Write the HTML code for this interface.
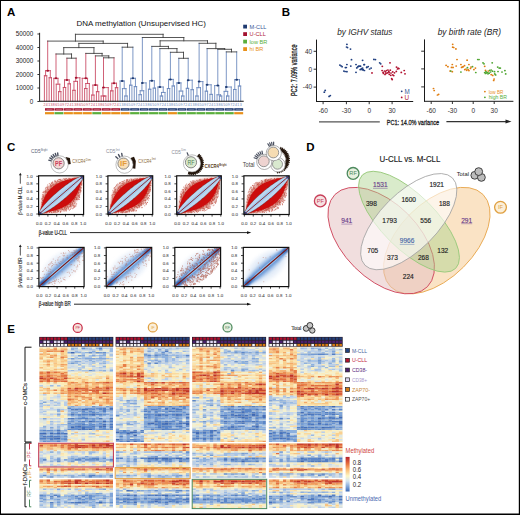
<!DOCTYPE html>
<html><head><meta charset="utf-8"><style>
html,body{margin:0;padding:0;background:#fff;overflow:hidden;}
svg{display:block;}
svg{font-family:"Liberation Sans",sans-serif;}
</style></head><body>
<svg width="520" height="515" viewBox="0 0 520 515" font-family="Liberation Sans, sans-serif"><text x="7.00" y="16.40" font-size="11.5" fill="#000" font-weight="bold" >A</text>
<text x="281.80" y="16.30" font-size="11.5" fill="#000" font-weight="bold" >B</text>
<text x="7.00" y="151.00" font-size="11.5" fill="#000" font-weight="bold" >C</text>
<text x="306.30" y="151.10" font-size="11.5" fill="#000" font-weight="bold" >D</text>
<text x="7.30" y="332.60" font-size="11.5" fill="#000" font-weight="bold" >E</text>
<line x1="39.60" y1="32.80" x2="39.60" y2="101.60" stroke="#222" stroke-width="1.0" />
<line x1="37.40" y1="101.50" x2="39.60" y2="101.50" stroke="#222" stroke-width="0.9" />
<text x="33.20" y="103.70" font-size="6.3" fill="#222" text-anchor="end" >0</text>
<line x1="37.40" y1="88.00" x2="39.60" y2="88.00" stroke="#222" stroke-width="0.9" />
<text x="33.20" y="90.20" font-size="6.3" fill="#222" text-anchor="end" >10000</text>
<line x1="37.40" y1="74.50" x2="39.60" y2="74.50" stroke="#222" stroke-width="0.9" />
<text x="33.20" y="76.70" font-size="6.3" fill="#222" text-anchor="end" >20000</text>
<line x1="37.40" y1="61.00" x2="39.60" y2="61.00" stroke="#222" stroke-width="0.9" />
<text x="33.20" y="63.20" font-size="6.3" fill="#222" text-anchor="end" >30000</text>
<line x1="37.40" y1="47.50" x2="39.60" y2="47.50" stroke="#222" stroke-width="0.9" />
<text x="33.20" y="49.70" font-size="6.3" fill="#222" text-anchor="end" >40000</text>
<line x1="37.40" y1="34.00" x2="39.60" y2="34.00" stroke="#222" stroke-width="0.9" />
<text x="33.20" y="36.20" font-size="6.3" fill="#222" text-anchor="end" >50000</text>
<text x="76.50" y="26.30" font-size="8.1" fill="#111" textLength="129.5" lengthAdjust="spacingAndGlyphs" >DNA methylation (Unsupervised HC)</text>
<path d="M45.58 70.70L45.58 75.75M44.40 75.75L44.40 101.00M46.77 75.75L46.77 101.00M44.40 75.75L46.77 75.75M50.31 70.70L50.31 77.74M49.13 77.74L49.13 101.00M51.49 77.74L51.49 101.00M49.13 77.74L51.49 77.74M45.58 70.70L50.31 70.70M53.86 78.30L53.86 101.00M58.00 78.30L58.00 84.20M56.23 84.20L56.23 101.00M59.77 84.20L59.77 91.63M58.59 91.63L58.59 101.00M60.95 91.63L60.95 101.00M58.59 91.63L60.95 91.63M56.23 84.20L59.77 84.20M53.86 78.30L58.00 78.30M64.50 79.90L64.50 87.47M63.32 87.47L63.32 101.00M65.69 87.47L65.69 101.00M63.32 87.47L65.69 87.47M69.23 79.90L69.23 83.83M68.05 83.83L68.05 101.00M70.41 83.83L70.41 101.00M68.05 83.83L70.41 83.83M64.50 79.90L69.23 79.90M75.74 77.80L75.74 81.39M73.96 81.39L73.96 90.33M72.78 90.33L72.78 101.00M75.15 90.33L75.15 101.00M72.78 90.33L75.15 90.33M77.51 81.39L77.51 101.00M73.96 81.39L77.51 81.39M79.88 77.80L79.88 101.00M75.74 77.80L79.88 77.80M82.24 78.30L82.24 101.00M87.56 78.30L87.56 83.49M85.79 83.49L85.79 88.51M84.61 88.51L84.61 101.00M86.97 88.51L86.97 101.00M84.61 88.51L86.97 88.51M89.34 83.49L89.34 101.00M85.79 83.49L89.34 83.49M82.24 78.30L87.56 78.30M92.88 85.10L92.88 95.07M91.70 95.07L91.70 101.00M94.06 95.07L94.06 101.00M91.70 95.07L94.06 95.07M97.61 85.10L97.61 91.66M96.43 91.66L96.43 101.00M98.80 91.66L98.80 101.00M96.43 91.66L98.80 91.66M92.88 85.10L97.61 85.10M102.93 87.60L102.93 96.00M101.16 96.00L101.16 101.00M104.71 96.00L104.71 96.00M103.53 96.00L103.53 101.00M105.89 96.00L105.89 101.00M103.53 96.00L105.89 96.00M101.16 96.00L104.71 96.00M108.25 87.60L108.25 101.00M102.93 87.60L108.25 87.60M111.80 83.20L111.80 90.85M110.62 90.85L110.62 101.00M112.99 90.85L112.99 101.00M110.62 90.85L112.99 90.85M116.53 83.20L116.53 87.68M115.35 87.68L115.35 101.00M117.72 87.68L117.72 101.00M115.35 87.68L117.72 87.68M111.80 83.20L116.53 83.20M47.70 41.10L47.70 70.70M56.00 54.00L56.00 78.30M66.90 58.20L66.90 79.90M76.14 58.20L76.14 77.80M85.80 53.40L85.80 78.30M95.40 55.90L95.40 85.10M103.50 57.80L103.50 87.60M114.00 57.80L114.00 83.20" stroke="#c8445f" stroke-width="0.85" fill="none" stroke-linecap="square"/>
<path d="M120.08 81.00L120.08 101.00M124.22 81.00L124.22 88.63M122.44 88.63L122.44 101.00M125.99 88.63L125.99 96.00M124.81 96.00L124.81 101.00M127.18 96.00L127.18 101.00M124.81 96.00L127.18 96.00M122.44 88.63L125.99 88.63M120.08 81.00L124.22 81.00M130.72 78.30L130.72 85.20M129.54 85.20L129.54 101.00M131.91 85.20L131.91 101.00M129.54 85.20L131.91 85.20M135.45 78.30L135.45 86.62M134.27 86.62L134.27 101.00M136.64 86.62L136.64 101.00M134.27 86.62L136.64 86.62M130.72 78.30L135.45 78.30M141.96 82.90L141.96 90.76M140.18 90.76L140.18 94.68M139.00 94.68L139.00 101.00M141.37 94.68L141.37 101.00M139.00 94.68L141.37 94.68M143.73 90.76L143.73 101.00M140.18 90.76L143.73 90.76M146.09 82.90L146.09 101.00M141.96 82.90L146.09 82.90M149.64 80.80L149.64 89.23M148.46 89.23L148.46 101.00M150.83 89.23L150.83 101.00M148.46 89.23L150.83 89.23M154.37 80.80L154.37 88.14M153.19 88.14L153.19 101.00M155.56 88.14L155.56 101.00M153.19 88.14L155.56 88.14M149.64 80.80L154.37 80.80M157.92 87.00L157.92 101.00M163.24 87.00L163.24 92.46M161.47 92.46L161.47 96.00M160.28 96.00L160.28 101.00M162.65 96.00L162.65 101.00M160.28 96.00L162.65 96.00M165.02 92.46L165.02 101.00M161.47 92.46L165.02 92.46M157.92 87.00L163.24 87.00M168.56 79.40L168.56 88.53M167.38 88.53L167.38 101.00M169.75 88.53L169.75 101.00M167.38 88.53L169.75 88.53M173.29 79.40L173.29 85.97M172.11 85.97L172.11 101.00M174.48 85.97L174.48 101.00M172.11 85.97L174.48 85.97M168.56 79.40L173.29 79.40M176.84 82.90L176.84 101.00M180.98 82.90L180.98 91.07M179.21 91.07L179.21 101.00M182.75 91.07L182.75 96.00M181.57 96.00L181.57 101.00M183.94 96.00L183.94 101.00M181.57 96.00L183.94 96.00M179.21 91.07L182.75 91.07M176.84 82.90L180.98 82.90M187.48 80.20L187.48 88.34M186.30 88.34L186.30 101.00M188.67 88.34L188.67 101.00M186.30 88.34L188.67 88.34M192.21 80.20L192.21 89.69M191.03 89.69L191.03 101.00M193.40 89.69L193.40 101.00M191.03 89.69L193.40 89.69M187.48 80.20L192.21 80.20M198.72 81.60L198.72 87.67M196.94 87.67L196.94 96.00M195.76 96.00L195.76 101.00M198.13 96.00L198.13 101.00M195.76 96.00L198.13 96.00M200.49 87.67L200.49 101.00M196.94 87.67L200.49 87.67M202.86 81.60L202.86 101.00M198.72 81.60L202.86 81.60M206.40 84.80L206.40 91.19M205.22 91.19L205.22 101.00M207.59 91.19L207.59 101.00M205.22 91.19L207.59 91.19M211.13 84.80L211.13 94.38M209.95 94.38L209.95 101.00M212.32 94.38L212.32 101.00M209.95 94.38L212.32 94.38M206.40 84.80L211.13 84.80M214.68 85.60L214.68 101.00M218.82 85.60L218.82 94.81M217.05 94.81L217.05 101.00M220.59 94.81L220.59 96.00M219.41 96.00L219.41 101.00M221.78 96.00L221.78 101.00M219.41 96.00L221.78 96.00M217.05 94.81L220.59 94.81M214.68 85.60L218.82 85.60M225.91 87.00L225.91 91.38M224.14 91.38L224.14 101.00M227.69 91.38L227.69 96.00M226.51 96.00L226.51 101.00M228.87 96.00L228.87 101.00M226.51 96.00L228.87 96.00M224.14 91.38L227.69 91.38M231.24 87.00L231.24 101.00M225.91 87.00L231.24 87.00M234.78 79.70L234.78 89.48M233.60 89.48L233.60 101.00M235.97 89.48L235.97 101.00M233.60 89.48L235.97 89.48M239.51 79.70L239.51 86.04M238.33 86.04L238.33 101.00M240.70 86.04L240.70 101.00M238.33 86.04L240.70 86.04M234.78 79.70L239.51 79.70M122.20 47.20L122.20 81.00M132.90 47.20L132.90 78.30M142.36 37.50L142.36 82.90M151.80 46.40L151.80 80.80M159.90 48.60L159.90 87.00M170.40 52.30L170.40 79.40M178.80 58.30L178.80 82.90M188.20 58.30L188.20 80.20M199.12 43.30L199.12 81.60M207.10 48.60L207.10 84.80M217.80 49.30L217.80 85.60M226.31 51.90L226.31 87.00M236.70 51.90L236.70 79.70" stroke="#6584ba" stroke-width="0.85" fill="none" stroke-linecap="square"/>
<path d="M66.90 58.20L76.14 58.20M71.52 54.00L71.52 58.20M56.00 54.00L71.52 54.00M63.76 47.60L63.76 54.00M103.50 57.80L114.00 57.80M108.75 55.90L108.75 57.80M95.40 55.90L108.75 55.90M102.08 53.40L102.08 55.90M85.80 53.40L102.08 53.40M93.94 47.60L93.94 53.40M63.76 47.60L93.94 47.60M78.85 43.40L78.85 47.60M122.20 47.20L132.90 47.20M127.55 43.40L127.55 47.20M78.85 43.40L127.55 43.40M103.20 41.10L103.20 43.40M47.70 41.10L103.20 41.10M75.45 34.30L75.45 41.10M178.80 58.30L188.20 58.30M183.50 52.30L183.50 58.30M170.40 52.30L183.50 52.30M176.95 48.60L176.95 52.30M159.90 48.60L176.95 48.60M168.43 46.40L168.43 48.60M151.80 46.40L168.43 46.40M160.11 40.80L160.11 46.40M226.31 51.90L236.70 51.90M231.51 49.30L231.51 51.90M217.80 49.30L231.51 49.30M224.65 48.60L224.65 49.30M207.10 48.60L224.65 48.60M215.88 43.30L215.88 48.60M199.12 43.30L215.88 43.30M207.50 40.80L207.50 43.30M160.11 40.80L207.50 40.80M183.80 37.50L183.80 40.80M142.36 37.50L183.80 37.50M163.08 34.30L163.08 37.50M75.45 34.30L163.08 34.30" stroke="#3a3a3a" stroke-width="0.85" fill="none" stroke-linecap="square"/>
<ellipse cx="47.70" cy="70.70" rx="1.4" ry="1.0" fill="#a3122f"/>
<ellipse cx="56.00" cy="78.30" rx="1.4" ry="1.0" fill="#a3122f"/>
<ellipse cx="66.90" cy="79.90" rx="1.4" ry="1.0" fill="#a3122f"/>
<ellipse cx="76.14" cy="77.80" rx="1.4" ry="1.0" fill="#a3122f"/>
<ellipse cx="85.80" cy="78.30" rx="1.4" ry="1.0" fill="#a3122f"/>
<ellipse cx="95.40" cy="85.10" rx="1.4" ry="1.0" fill="#a3122f"/>
<ellipse cx="103.50" cy="87.60" rx="1.4" ry="1.0" fill="#a3122f"/>
<ellipse cx="114.00" cy="83.20" rx="1.4" ry="1.0" fill="#a3122f"/>
<ellipse cx="122.20" cy="81.00" rx="1.4" ry="1.0" fill="#1f3a70"/>
<ellipse cx="132.90" cy="78.30" rx="1.4" ry="1.0" fill="#1f3a70"/>
<ellipse cx="142.36" cy="82.90" rx="1.4" ry="1.0" fill="#1f3a70"/>
<ellipse cx="151.80" cy="80.80" rx="1.4" ry="1.0" fill="#1f3a70"/>
<ellipse cx="159.90" cy="87.00" rx="1.4" ry="1.0" fill="#1f3a70"/>
<ellipse cx="170.40" cy="79.40" rx="1.4" ry="1.0" fill="#1f3a70"/>
<ellipse cx="178.80" cy="82.90" rx="1.4" ry="1.0" fill="#1f3a70"/>
<ellipse cx="188.20" cy="80.20" rx="1.4" ry="1.0" fill="#1f3a70"/>
<ellipse cx="199.12" cy="81.60" rx="1.4" ry="1.0" fill="#1f3a70"/>
<ellipse cx="207.10" cy="84.80" rx="1.4" ry="1.0" fill="#1f3a70"/>
<ellipse cx="217.80" cy="85.60" rx="1.4" ry="1.0" fill="#1f3a70"/>
<ellipse cx="226.31" cy="87.00" rx="1.4" ry="1.0" fill="#1f3a70"/>
<ellipse cx="236.70" cy="79.70" rx="1.4" ry="1.0" fill="#1f3a70"/>
<line x1="39.60" y1="101.30" x2="243.70" y2="101.30" stroke="#111" stroke-width="1.1" />
<text x="44.40" y="106.20" font-size="3.6" fill="#c8445f" text-anchor="middle" >2</text>
<text x="46.77" y="106.20" font-size="3.6" fill="#c8445f" text-anchor="middle" >4</text>
<text x="49.13" y="106.20" font-size="3.6" fill="#c8445f" text-anchor="middle" >1</text>
<text x="51.49" y="106.20" font-size="3.6" fill="#c8445f" text-anchor="middle" >3</text>
<text x="53.86" y="106.20" font-size="3.6" fill="#c8445f" text-anchor="middle" >8</text>
<text x="56.23" y="106.20" font-size="3.6" fill="#c8445f" text-anchor="middle" >6</text>
<text x="58.59" y="106.20" font-size="3.6" fill="#c8445f" text-anchor="middle" >5</text>
<text x="60.95" y="106.20" font-size="3.6" fill="#c8445f" text-anchor="middle" >0</text>
<text x="63.32" y="106.20" font-size="3.6" fill="#c8445f" text-anchor="middle" >9</text>
<text x="65.69" y="106.20" font-size="3.6" fill="#c8445f" text-anchor="middle" >7</text>
<text x="68.05" y="106.20" font-size="3.6" fill="#c8445f" text-anchor="middle" >2</text>
<text x="70.41" y="106.20" font-size="3.6" fill="#c8445f" text-anchor="middle" >4</text>
<text x="72.78" y="106.20" font-size="3.6" fill="#c8445f" text-anchor="middle" >1</text>
<text x="75.15" y="106.20" font-size="3.6" fill="#c8445f" text-anchor="middle" >3</text>
<text x="77.51" y="106.20" font-size="3.6" fill="#c8445f" text-anchor="middle" >8</text>
<text x="79.88" y="106.20" font-size="3.6" fill="#c8445f" text-anchor="middle" >6</text>
<text x="82.24" y="106.20" font-size="3.6" fill="#c8445f" text-anchor="middle" >5</text>
<text x="84.61" y="106.20" font-size="3.6" fill="#c8445f" text-anchor="middle" >0</text>
<text x="86.97" y="106.20" font-size="3.6" fill="#c8445f" text-anchor="middle" >9</text>
<text x="89.34" y="106.20" font-size="3.6" fill="#c8445f" text-anchor="middle" >7</text>
<text x="91.70" y="106.20" font-size="3.6" fill="#c8445f" text-anchor="middle" >2</text>
<text x="94.06" y="106.20" font-size="3.6" fill="#c8445f" text-anchor="middle" >4</text>
<text x="96.43" y="106.20" font-size="3.6" fill="#c8445f" text-anchor="middle" >1</text>
<text x="98.80" y="106.20" font-size="3.6" fill="#c8445f" text-anchor="middle" >3</text>
<text x="101.16" y="106.20" font-size="3.6" fill="#c8445f" text-anchor="middle" >8</text>
<text x="103.53" y="106.20" font-size="3.6" fill="#c8445f" text-anchor="middle" >6</text>
<text x="105.89" y="106.20" font-size="3.6" fill="#c8445f" text-anchor="middle" >5</text>
<text x="108.25" y="106.20" font-size="3.6" fill="#c8445f" text-anchor="middle" >0</text>
<text x="110.62" y="106.20" font-size="3.6" fill="#c8445f" text-anchor="middle" >9</text>
<text x="112.99" y="106.20" font-size="3.6" fill="#c8445f" text-anchor="middle" >7</text>
<text x="115.35" y="106.20" font-size="3.6" fill="#c8445f" text-anchor="middle" >2</text>
<text x="117.72" y="106.20" font-size="3.6" fill="#c8445f" text-anchor="middle" >4</text>
<text x="120.08" y="106.20" font-size="3.6" fill="#6584ba" text-anchor="middle" >1</text>
<text x="122.44" y="106.20" font-size="3.6" fill="#6584ba" text-anchor="middle" >3</text>
<text x="124.81" y="106.20" font-size="3.6" fill="#6584ba" text-anchor="middle" >8</text>
<text x="127.18" y="106.20" font-size="3.6" fill="#6584ba" text-anchor="middle" >6</text>
<text x="129.54" y="106.20" font-size="3.6" fill="#6584ba" text-anchor="middle" >5</text>
<text x="131.91" y="106.20" font-size="3.6" fill="#6584ba" text-anchor="middle" >0</text>
<text x="134.27" y="106.20" font-size="3.6" fill="#6584ba" text-anchor="middle" >9</text>
<text x="136.64" y="106.20" font-size="3.6" fill="#6584ba" text-anchor="middle" >7</text>
<text x="139.00" y="106.20" font-size="3.6" fill="#6584ba" text-anchor="middle" >2</text>
<text x="141.37" y="106.20" font-size="3.6" fill="#6584ba" text-anchor="middle" >4</text>
<text x="143.73" y="106.20" font-size="3.6" fill="#6584ba" text-anchor="middle" >1</text>
<text x="146.09" y="106.20" font-size="3.6" fill="#6584ba" text-anchor="middle" >3</text>
<text x="148.46" y="106.20" font-size="3.6" fill="#6584ba" text-anchor="middle" >8</text>
<text x="150.83" y="106.20" font-size="3.6" fill="#6584ba" text-anchor="middle" >6</text>
<text x="153.19" y="106.20" font-size="3.6" fill="#6584ba" text-anchor="middle" >5</text>
<text x="155.56" y="106.20" font-size="3.6" fill="#6584ba" text-anchor="middle" >0</text>
<text x="157.92" y="106.20" font-size="3.6" fill="#6584ba" text-anchor="middle" >9</text>
<text x="160.28" y="106.20" font-size="3.6" fill="#6584ba" text-anchor="middle" >7</text>
<text x="162.65" y="106.20" font-size="3.6" fill="#6584ba" text-anchor="middle" >2</text>
<text x="165.02" y="106.20" font-size="3.6" fill="#6584ba" text-anchor="middle" >4</text>
<text x="167.38" y="106.20" font-size="3.6" fill="#6584ba" text-anchor="middle" >1</text>
<text x="169.75" y="106.20" font-size="3.6" fill="#6584ba" text-anchor="middle" >3</text>
<text x="172.11" y="106.20" font-size="3.6" fill="#6584ba" text-anchor="middle" >8</text>
<text x="174.48" y="106.20" font-size="3.6" fill="#6584ba" text-anchor="middle" >6</text>
<text x="176.84" y="106.20" font-size="3.6" fill="#6584ba" text-anchor="middle" >5</text>
<text x="179.21" y="106.20" font-size="3.6" fill="#6584ba" text-anchor="middle" >0</text>
<text x="181.57" y="106.20" font-size="3.6" fill="#6584ba" text-anchor="middle" >9</text>
<text x="183.94" y="106.20" font-size="3.6" fill="#6584ba" text-anchor="middle" >7</text>
<text x="186.30" y="106.20" font-size="3.6" fill="#6584ba" text-anchor="middle" >2</text>
<text x="188.67" y="106.20" font-size="3.6" fill="#6584ba" text-anchor="middle" >4</text>
<text x="191.03" y="106.20" font-size="3.6" fill="#6584ba" text-anchor="middle" >1</text>
<text x="193.40" y="106.20" font-size="3.6" fill="#6584ba" text-anchor="middle" >3</text>
<text x="195.76" y="106.20" font-size="3.6" fill="#6584ba" text-anchor="middle" >8</text>
<text x="198.13" y="106.20" font-size="3.6" fill="#6584ba" text-anchor="middle" >6</text>
<text x="200.49" y="106.20" font-size="3.6" fill="#6584ba" text-anchor="middle" >5</text>
<text x="202.86" y="106.20" font-size="3.6" fill="#6584ba" text-anchor="middle" >0</text>
<text x="205.22" y="106.20" font-size="3.6" fill="#6584ba" text-anchor="middle" >9</text>
<text x="207.59" y="106.20" font-size="3.6" fill="#6584ba" text-anchor="middle" >7</text>
<text x="209.95" y="106.20" font-size="3.6" fill="#6584ba" text-anchor="middle" >2</text>
<text x="212.32" y="106.20" font-size="3.6" fill="#6584ba" text-anchor="middle" >4</text>
<text x="214.68" y="106.20" font-size="3.6" fill="#6584ba" text-anchor="middle" >1</text>
<text x="217.05" y="106.20" font-size="3.6" fill="#6584ba" text-anchor="middle" >3</text>
<text x="219.41" y="106.20" font-size="3.6" fill="#6584ba" text-anchor="middle" >8</text>
<text x="221.78" y="106.20" font-size="3.6" fill="#6584ba" text-anchor="middle" >6</text>
<text x="224.14" y="106.20" font-size="3.6" fill="#6584ba" text-anchor="middle" >5</text>
<text x="226.51" y="106.20" font-size="3.6" fill="#6584ba" text-anchor="middle" >0</text>
<text x="228.87" y="106.20" font-size="3.6" fill="#6584ba" text-anchor="middle" >9</text>
<text x="231.24" y="106.20" font-size="3.6" fill="#6584ba" text-anchor="middle" >7</text>
<text x="233.60" y="106.20" font-size="3.6" fill="#6584ba" text-anchor="middle" >2</text>
<text x="235.97" y="106.20" font-size="3.6" fill="#6584ba" text-anchor="middle" >4</text>
<text x="238.33" y="106.20" font-size="3.6" fill="#6584ba" text-anchor="middle" >1</text>
<text x="240.70" y="106.20" font-size="3.6" fill="#6584ba" text-anchor="middle" >3</text>
<rect x="45.00" y="108.2" width="8.96" height="2.4" fill="#a3122f"/>
<rect x="46.50" y="109.1" width="5.96" height="0.6" fill="#fff" opacity="0.45"/>
<rect x="45.00" y="112.1" width="8.96" height="2.2" fill="#e8901a"/>
<rect x="54.46" y="108.2" width="8.96" height="2.4" fill="#a3122f"/>
<rect x="55.96" y="109.1" width="5.96" height="0.6" fill="#fff" opacity="0.45"/>
<rect x="54.46" y="112.1" width="8.96" height="2.2" fill="#5aae3c"/>
<rect x="63.92" y="108.2" width="8.96" height="2.4" fill="#a3122f"/>
<rect x="65.42" y="109.1" width="5.96" height="0.6" fill="#fff" opacity="0.45"/>
<rect x="63.92" y="112.1" width="8.96" height="2.2" fill="#e8901a"/>
<rect x="73.38" y="108.2" width="8.96" height="2.4" fill="#a3122f"/>
<rect x="74.88" y="109.1" width="5.96" height="0.6" fill="#fff" opacity="0.45"/>
<rect x="73.38" y="112.1" width="8.96" height="2.2" fill="#e8901a"/>
<rect x="82.84" y="108.2" width="8.96" height="2.4" fill="#a3122f"/>
<rect x="84.34" y="109.1" width="5.96" height="0.6" fill="#fff" opacity="0.45"/>
<rect x="82.84" y="112.1" width="8.96" height="2.2" fill="#e8901a"/>
<rect x="92.30" y="108.2" width="8.96" height="2.4" fill="#a3122f"/>
<rect x="93.80" y="109.1" width="5.96" height="0.6" fill="#fff" opacity="0.45"/>
<rect x="92.30" y="112.1" width="8.96" height="2.2" fill="#5aae3c"/>
<rect x="101.76" y="108.2" width="8.96" height="2.4" fill="#a3122f"/>
<rect x="103.26" y="109.1" width="5.96" height="0.6" fill="#fff" opacity="0.45"/>
<rect x="101.76" y="112.1" width="8.96" height="2.2" fill="#e8901a"/>
<rect x="111.22" y="108.2" width="8.96" height="2.4" fill="#a3122f"/>
<rect x="112.72" y="109.1" width="5.96" height="0.6" fill="#fff" opacity="0.45"/>
<rect x="111.22" y="112.1" width="8.96" height="2.2" fill="#e8901a"/>
<rect x="120.68" y="108.2" width="8.96" height="2.4" fill="#1f3a70"/>
<rect x="122.18" y="109.1" width="5.96" height="0.6" fill="#fff" opacity="0.45"/>
<rect x="120.68" y="112.1" width="8.96" height="2.2" fill="#e8901a"/>
<rect x="130.14" y="108.2" width="8.96" height="2.4" fill="#1f3a70"/>
<rect x="131.64" y="109.1" width="5.96" height="0.6" fill="#fff" opacity="0.45"/>
<rect x="130.14" y="112.1" width="8.96" height="2.2" fill="#5aae3c"/>
<rect x="139.60" y="108.2" width="8.96" height="2.4" fill="#1f3a70"/>
<rect x="141.10" y="109.1" width="5.96" height="0.6" fill="#fff" opacity="0.45"/>
<rect x="139.60" y="112.1" width="8.96" height="2.2" fill="#5aae3c"/>
<rect x="149.06" y="108.2" width="8.96" height="2.4" fill="#1f3a70"/>
<rect x="150.56" y="109.1" width="5.96" height="0.6" fill="#fff" opacity="0.45"/>
<rect x="149.06" y="112.1" width="8.96" height="2.2" fill="#5aae3c"/>
<rect x="158.52" y="108.2" width="8.96" height="2.4" fill="#1f3a70"/>
<rect x="160.02" y="109.1" width="5.96" height="0.6" fill="#fff" opacity="0.45"/>
<rect x="158.52" y="112.1" width="8.96" height="2.2" fill="#5aae3c"/>
<rect x="167.98" y="108.2" width="8.96" height="2.4" fill="#1f3a70"/>
<rect x="169.48" y="109.1" width="5.96" height="0.6" fill="#fff" opacity="0.45"/>
<rect x="167.98" y="112.1" width="8.96" height="2.2" fill="#e8901a"/>
<rect x="177.44" y="108.2" width="8.96" height="2.4" fill="#1f3a70"/>
<rect x="178.94" y="109.1" width="5.96" height="0.6" fill="#fff" opacity="0.45"/>
<rect x="177.44" y="112.1" width="8.96" height="2.2" fill="#5aae3c"/>
<rect x="186.90" y="108.2" width="8.96" height="2.4" fill="#1f3a70"/>
<rect x="188.40" y="109.1" width="5.96" height="0.6" fill="#fff" opacity="0.45"/>
<rect x="186.90" y="112.1" width="8.96" height="2.2" fill="#5aae3c"/>
<rect x="196.36" y="108.2" width="8.96" height="2.4" fill="#1f3a70"/>
<rect x="197.86" y="109.1" width="5.96" height="0.6" fill="#fff" opacity="0.45"/>
<rect x="196.36" y="112.1" width="8.96" height="2.2" fill="#5aae3c"/>
<rect x="205.82" y="108.2" width="8.96" height="2.4" fill="#1f3a70"/>
<rect x="207.32" y="109.1" width="5.96" height="0.6" fill="#fff" opacity="0.45"/>
<rect x="205.82" y="112.1" width="8.96" height="2.2" fill="#5aae3c"/>
<rect x="215.28" y="108.2" width="8.96" height="2.4" fill="#1f3a70"/>
<rect x="216.78" y="109.1" width="5.96" height="0.6" fill="#fff" opacity="0.45"/>
<rect x="215.28" y="112.1" width="8.96" height="2.2" fill="#5aae3c"/>
<rect x="224.74" y="108.2" width="8.96" height="2.4" fill="#1f3a70"/>
<rect x="226.24" y="109.1" width="5.96" height="0.6" fill="#fff" opacity="0.45"/>
<rect x="224.74" y="112.1" width="8.96" height="2.2" fill="#5aae3c"/>
<rect x="234.20" y="108.2" width="8.96" height="2.4" fill="#1f3a70"/>
<rect x="235.70" y="109.1" width="5.96" height="0.6" fill="#fff" opacity="0.45"/>
<rect x="234.20" y="112.1" width="8.96" height="2.2" fill="#e8901a"/>
<rect x="243.2" y="24.70" width="3.8" height="3.8" fill="#1f3a70"/>
<text x="249.60" y="28.60" font-size="5.6" fill="#3a5a98" >M-CLL</text>
<rect x="243.2" y="32.20" width="3.8" height="3.8" fill="#a3122f"/>
<text x="249.60" y="36.10" font-size="5.6" fill="#b0203a" >U-CLL</text>
<rect x="243.2" y="39.70" width="3.8" height="3.8" fill="#5aae3c"/>
<text x="249.60" y="43.60" font-size="5.6" fill="#5aae3c" >low BR</text>
<rect x="243.2" y="47.20" width="3.8" height="3.8" fill="#e8901a"/>
<text x="249.60" y="51.10" font-size="5.6" fill="#e8901a" >hi BR</text>
<line x1="316.50" y1="39.60" x2="316.50" y2="101.90" stroke="#1a1a1a" stroke-width="1.0" />
<line x1="316.00" y1="101.50" x2="413.20" y2="101.50" stroke="#1a1a1a" stroke-width="1.0" />
<line x1="313.60" y1="51.30" x2="316.50" y2="51.30" stroke="#1a1a1a" stroke-width="0.9" />
<text x="312.20" y="53.60" font-size="6.5" fill="#333" text-anchor="end" >40</text>
<line x1="313.60" y1="69.20" x2="316.50" y2="69.20" stroke="#1a1a1a" stroke-width="0.9" />
<text x="312.20" y="71.50" font-size="6.5" fill="#333" text-anchor="end" >0</text>
<line x1="313.60" y1="87.10" x2="316.50" y2="87.10" stroke="#1a1a1a" stroke-width="0.9" />
<text x="312.20" y="89.40" font-size="6.5" fill="#333" text-anchor="end" >-40</text>
<line x1="323.10" y1="101.50" x2="323.10" y2="104.20" stroke="#1a1a1a" stroke-width="0.9" />
<text x="323.10" y="113.00" font-size="6.5" fill="#333" text-anchor="middle" >-60</text>
<line x1="346.40" y1="101.50" x2="346.40" y2="104.20" stroke="#1a1a1a" stroke-width="0.9" />
<text x="346.40" y="113.00" font-size="6.5" fill="#333" text-anchor="middle" >-30</text>
<line x1="369.20" y1="101.50" x2="369.20" y2="104.20" stroke="#1a1a1a" stroke-width="0.9" />
<text x="369.20" y="113.00" font-size="6.5" fill="#333" text-anchor="middle" >0</text>
<line x1="392.10" y1="101.50" x2="392.10" y2="104.20" stroke="#1a1a1a" stroke-width="0.9" />
<text x="392.10" y="113.00" font-size="6.5" fill="#333" text-anchor="middle" >30</text>
<text x="0" y="0" font-size="8.2" fill="#222" text-anchor="middle" textLength="51.5" lengthAdjust="spacingAndGlyphs" stroke="#222" stroke-width="0.3" transform="translate(296.6,70.3) rotate(-90)">PC2: 7.09% variance</text>
<text x="364.80" y="34.60" font-size="8.4" fill="#222" text-anchor="middle" font-style="italic" textLength="55" lengthAdjust="spacingAndGlyphs" >by IGHV status</text>
<line x1="424.50" y1="39.40" x2="424.50" y2="101.60" stroke="#1a1a1a" stroke-width="1.0" />
<line x1="424.00" y1="101.30" x2="513.40" y2="101.30" stroke="#1a1a1a" stroke-width="1.0" />
<line x1="421.20" y1="51.20" x2="424.50" y2="51.20" stroke="#1a1a1a" stroke-width="0.9" />
<line x1="421.20" y1="68.90" x2="424.50" y2="68.90" stroke="#1a1a1a" stroke-width="0.9" />
<line x1="421.20" y1="86.90" x2="424.50" y2="86.90" stroke="#1a1a1a" stroke-width="0.9" />
<line x1="431.20" y1="101.30" x2="431.20" y2="104.00" stroke="#1a1a1a" stroke-width="0.9" />
<text x="431.20" y="113.00" font-size="6.5" fill="#333" text-anchor="middle" >-60</text>
<line x1="452.40" y1="101.30" x2="452.40" y2="104.00" stroke="#1a1a1a" stroke-width="0.9" />
<text x="452.40" y="113.00" font-size="6.5" fill="#333" text-anchor="middle" >-30</text>
<line x1="473.20" y1="101.30" x2="473.20" y2="104.00" stroke="#1a1a1a" stroke-width="0.9" />
<text x="473.20" y="113.00" font-size="6.5" fill="#333" text-anchor="middle" >0</text>
<line x1="494.20" y1="101.30" x2="494.20" y2="104.00" stroke="#1a1a1a" stroke-width="0.9" />
<text x="494.20" y="113.00" font-size="6.5" fill="#333" text-anchor="middle" >30</text>
<text x="469.40" y="34.60" font-size="8.4" fill="#222" text-anchor="middle" font-style="italic" textLength="63.4" lengthAdjust="spacingAndGlyphs" >by birth rate (BR)</text>
<ellipse cx="346.9" cy="44.3" rx="0.95" ry="0.85" fill="#1f3f80"/><ellipse cx="346.6" cy="47.0" rx="0.95" ry="0.85" fill="#1f3f80"/><ellipse cx="347.5" cy="47.6" rx="0.95" ry="0.85" fill="#1f3f80"/><ellipse cx="350.5" cy="49.1" rx="0.95" ry="0.85" fill="#1f3f80"/><ellipse cx="351.5" cy="59.7" rx="0.95" ry="0.85" fill="#1f3f80"/><ellipse cx="362.6" cy="60.3" rx="0.95" ry="0.85" fill="#1f3f80"/><ellipse cx="339.9" cy="65.1" rx="0.95" ry="0.85" fill="#1f3f80"/><ellipse cx="342.1" cy="66.7" rx="0.95" ry="0.85" fill="#1f3f80"/><ellipse cx="346.9" cy="64.5" rx="0.95" ry="0.85" fill="#1f3f80"/><ellipse cx="346.3" cy="67.5" rx="0.95" ry="0.85" fill="#1f3f80"/><ellipse cx="345.4" cy="67.6" rx="0.95" ry="0.85" fill="#1f3f80"/><ellipse cx="350.8" cy="66.1" rx="0.95" ry="0.85" fill="#1f3f80"/><ellipse cx="356.0" cy="64.5" rx="0.95" ry="0.85" fill="#1f3f80"/><ellipse cx="357.8" cy="66.9" rx="0.95" ry="0.85" fill="#1f3f80"/><ellipse cx="356.8" cy="67.9" rx="0.95" ry="0.85" fill="#1f3f80"/><ellipse cx="359.6" cy="66.1" rx="0.95" ry="0.85" fill="#1f3f80"/><ellipse cx="364.4" cy="64.5" rx="0.95" ry="0.85" fill="#1f3f80"/><ellipse cx="366.8" cy="67.2" rx="0.95" ry="0.85" fill="#1f3f80"/><ellipse cx="360.2" cy="69.6" rx="0.95" ry="0.85" fill="#1f3f80"/><ellipse cx="362.0" cy="69.6" rx="0.95" ry="0.85" fill="#1f3f80"/><ellipse cx="363.2" cy="69.9" rx="0.95" ry="0.85" fill="#1f3f80"/><ellipse cx="364.4" cy="70.5" rx="0.95" ry="0.85" fill="#1f3f80"/><ellipse cx="362.6" cy="68.1" rx="0.95" ry="0.85" fill="#1f3f80"/><ellipse cx="343.9" cy="71.1" rx="0.95" ry="0.85" fill="#1f3f80"/><ellipse cx="345.1" cy="71.5" rx="0.95" ry="0.85" fill="#1f3f80"/><ellipse cx="346.9" cy="71.7" rx="0.95" ry="0.85" fill="#1f3f80"/><ellipse cx="356.0" cy="72.3" rx="0.95" ry="0.85" fill="#1f3f80"/><ellipse cx="325.2" cy="90.4" rx="0.95" ry="0.85" fill="#1f3f80"/><ellipse cx="324.3" cy="92.2" rx="0.95" ry="0.85" fill="#1f3f80"/><ellipse cx="329.1" cy="96.4" rx="0.95" ry="0.85" fill="#1f3f80"/><ellipse cx="330.3" cy="95.6" rx="0.95" ry="0.85" fill="#1f3f80"/><ellipse cx="361.4" cy="68.6" rx="0.95" ry="0.85" fill="#1f3f80"/><ellipse cx="362.9" cy="69.5" rx="0.95" ry="0.85" fill="#1f3f80"/><ellipse cx="366.7" cy="67.6" rx="0.95" ry="0.85" fill="#1f3f80"/><ellipse cx="368.2" cy="66.6" rx="0.95" ry="0.85" fill="#1f3f80"/><ellipse cx="369.6" cy="69.0" rx="0.95" ry="0.85" fill="#1f3f80"/><ellipse cx="371.1" cy="68.1" rx="0.95" ry="0.85" fill="#1f3f80"/><ellipse cx="373.9" cy="59.4" rx="0.95" ry="0.85" fill="#1f3f80"/><ellipse cx="375.4" cy="59.6" rx="0.95" ry="0.85" fill="#1f3f80"/><ellipse cx="379.7" cy="62.8" rx="0.95" ry="0.85" fill="#1f3f80"/><ellipse cx="380.7" cy="63.8" rx="0.95" ry="0.85" fill="#1f3f80"/><ellipse cx="364.0" cy="64.7" rx="0.95" ry="0.85" fill="#1f3f80"/><ellipse cx="360.5" cy="66.2" rx="0.95" ry="0.85" fill="#1f3f80"/><ellipse cx="341.0" cy="65.8" rx="0.95" ry="0.85" fill="#1f3f80"/><ellipse cx="358.5" cy="66.2" rx="0.95" ry="0.85" fill="#1f3f80"/>
<ellipse cx="372.0" cy="72.9" rx="0.95" ry="0.85" fill="#b0102e"/><ellipse cx="382.3" cy="66.3" rx="0.95" ry="0.85" fill="#b0102e"/><ellipse cx="390.0" cy="62.8" rx="0.95" ry="0.85" fill="#b0102e"/><ellipse cx="382.1" cy="70.5" rx="0.95" ry="0.85" fill="#b0102e"/><ellipse cx="383.1" cy="72.4" rx="0.95" ry="0.85" fill="#b0102e"/><ellipse cx="384.5" cy="71.0" rx="0.95" ry="0.85" fill="#b0102e"/><ellipse cx="385.5" cy="71.9" rx="0.95" ry="0.85" fill="#b0102e"/><ellipse cx="386.4" cy="70.5" rx="0.95" ry="0.85" fill="#b0102e"/><ellipse cx="387.9" cy="70.0" rx="0.95" ry="0.85" fill="#b0102e"/><ellipse cx="388.8" cy="71.4" rx="0.95" ry="0.85" fill="#b0102e"/><ellipse cx="387.4" cy="72.9" rx="0.95" ry="0.85" fill="#b0102e"/><ellipse cx="386.0" cy="73.4" rx="0.95" ry="0.85" fill="#b0102e"/><ellipse cx="390.3" cy="70.2" rx="0.95" ry="0.85" fill="#b0102e"/><ellipse cx="392.7" cy="71.9" rx="0.95" ry="0.85" fill="#b0102e"/><ellipse cx="389.3" cy="74.3" rx="0.95" ry="0.85" fill="#b0102e"/><ellipse cx="390.8" cy="75.3" rx="0.95" ry="0.85" fill="#b0102e"/><ellipse cx="392.7" cy="74.8" rx="0.95" ry="0.85" fill="#b0102e"/><ellipse cx="393.7" cy="75.6" rx="0.95" ry="0.85" fill="#b0102e"/><ellipse cx="396.5" cy="67.1" rx="0.95" ry="0.85" fill="#b0102e"/><ellipse cx="398.0" cy="68.1" rx="0.95" ry="0.85" fill="#b0102e"/><ellipse cx="398.9" cy="68.6" rx="0.95" ry="0.85" fill="#b0102e"/><ellipse cx="397.5" cy="69.0" rx="0.95" ry="0.85" fill="#b0102e"/><ellipse cx="396.3" cy="71.4" rx="0.95" ry="0.85" fill="#b0102e"/><ellipse cx="401.3" cy="72.4" rx="0.95" ry="0.85" fill="#b0102e"/><ellipse cx="404.2" cy="70.5" rx="0.95" ry="0.85" fill="#b0102e"/><ellipse cx="405.0" cy="73.8" rx="0.95" ry="0.85" fill="#b0102e"/><ellipse cx="391.7" cy="78.7" rx="0.95" ry="0.85" fill="#b0102e"/><ellipse cx="392.2" cy="79.6" rx="0.95" ry="0.85" fill="#b0102e"/><ellipse cx="383.5" cy="73.5" rx="0.95" ry="0.85" fill="#b0102e"/><ellipse cx="385.0" cy="74.5" rx="0.95" ry="0.85" fill="#b0102e"/><ellipse cx="389.0" cy="72.5" rx="0.95" ry="0.85" fill="#b0102e"/><ellipse cx="391.0" cy="73.0" rx="0.95" ry="0.85" fill="#b0102e"/><ellipse cx="394.5" cy="72.8" rx="0.95" ry="0.85" fill="#b0102e"/>
<ellipse cx="452.7" cy="44.3" rx="0.95" ry="0.85" fill="#e07d10"/><ellipse cx="452.7" cy="47.2" rx="0.95" ry="0.85" fill="#e07d10"/><ellipse cx="453.7" cy="47.5" rx="0.95" ry="0.85" fill="#e07d10"/><ellipse cx="455.9" cy="48.9" rx="0.95" ry="0.85" fill="#e07d10"/><ellipse cx="457.0" cy="59.5" rx="0.95" ry="0.85" fill="#e07d10"/><ellipse cx="467.1" cy="60.2" rx="0.95" ry="0.85" fill="#e07d10"/><ellipse cx="446.1" cy="65.3" rx="0.95" ry="0.85" fill="#e07d10"/><ellipse cx="447.9" cy="66.7" rx="0.95" ry="0.85" fill="#e07d10"/><ellipse cx="452.3" cy="64.5" rx="0.95" ry="0.85" fill="#e07d10"/><ellipse cx="451.5" cy="67.4" rx="0.95" ry="0.85" fill="#e07d10"/><ellipse cx="453.0" cy="67.4" rx="0.95" ry="0.85" fill="#e07d10"/><ellipse cx="456.2" cy="66.0" rx="0.95" ry="0.85" fill="#e07d10"/><ellipse cx="450.1" cy="71.0" rx="0.95" ry="0.85" fill="#e07d10"/><ellipse cx="452.3" cy="71.7" rx="0.95" ry="0.85" fill="#e07d10"/><ellipse cx="460.9" cy="64.5" rx="0.95" ry="0.85" fill="#e07d10"/><ellipse cx="461.6" cy="67.4" rx="0.95" ry="0.85" fill="#e07d10"/><ellipse cx="463.1" cy="66.7" rx="0.95" ry="0.85" fill="#e07d10"/><ellipse cx="464.5" cy="65.7" rx="0.95" ry="0.85" fill="#e07d10"/><ellipse cx="464.8" cy="69.6" rx="0.95" ry="0.85" fill="#e07d10"/><ellipse cx="466.7" cy="70.3" rx="0.95" ry="0.85" fill="#e07d10"/><ellipse cx="468.1" cy="69.6" rx="0.95" ry="0.85" fill="#e07d10"/><ellipse cx="468.9" cy="70.6" rx="0.95" ry="0.85" fill="#e07d10"/><ellipse cx="468.9" cy="64.5" rx="0.95" ry="0.85" fill="#e07d10"/><ellipse cx="471.0" cy="67.1" rx="0.95" ry="0.85" fill="#e07d10"/><ellipse cx="473.9" cy="69.6" rx="0.95" ry="0.85" fill="#e07d10"/><ellipse cx="475.4" cy="68.1" rx="0.95" ry="0.85" fill="#e07d10"/><ellipse cx="484.7" cy="66.3" rx="0.95" ry="0.85" fill="#e07d10"/><ellipse cx="485.5" cy="70.3" rx="0.95" ry="0.85" fill="#e07d10"/><ellipse cx="488.3" cy="71.0" rx="0.95" ry="0.85" fill="#e07d10"/><ellipse cx="491.2" cy="74.6" rx="0.95" ry="0.85" fill="#e07d10"/><ellipse cx="492.7" cy="75.4" rx="0.95" ry="0.85" fill="#e07d10"/><ellipse cx="494.1" cy="79.0" rx="0.95" ry="0.85" fill="#e07d10"/><ellipse cx="493.7" cy="80.4" rx="0.95" ry="0.85" fill="#e07d10"/><ellipse cx="433.5" cy="88.5" rx="0.95" ry="0.85" fill="#e07d10"/><ellipse cx="434.2" cy="90.5" rx="0.95" ry="0.85" fill="#e07d10"/><ellipse cx="437.5" cy="95.0" rx="0.95" ry="0.85" fill="#e07d10"/><ellipse cx="438.6" cy="94.3" rx="0.95" ry="0.85" fill="#e07d10"/><ellipse cx="462.5" cy="67.0" rx="0.95" ry="0.85" fill="#e07d10"/><ellipse cx="466.0" cy="69.0" rx="0.95" ry="0.85" fill="#e07d10"/><ellipse cx="470.5" cy="68.5" rx="0.95" ry="0.85" fill="#e07d10"/>
<ellipse cx="477.8" cy="59.5" rx="0.95" ry="0.85" fill="#4ea530"/><ellipse cx="479.0" cy="59.5" rx="0.95" ry="0.85" fill="#4ea530"/><ellipse cx="483.0" cy="62.8" rx="0.95" ry="0.85" fill="#4ea530"/><ellipse cx="484.0" cy="63.8" rx="0.95" ry="0.85" fill="#4ea530"/><ellipse cx="492.2" cy="62.8" rx="0.95" ry="0.85" fill="#4ea530"/><ellipse cx="467.4" cy="67.7" rx="0.95" ry="0.85" fill="#4ea530"/><ellipse cx="472.5" cy="66.7" rx="0.95" ry="0.85" fill="#4ea530"/><ellipse cx="460.9" cy="72.0" rx="0.95" ry="0.85" fill="#4ea530"/><ellipse cx="475.8" cy="72.5" rx="0.95" ry="0.85" fill="#4ea530"/><ellipse cx="450.8" cy="71.0" rx="0.95" ry="0.85" fill="#4ea530"/><ellipse cx="484.7" cy="72.5" rx="0.95" ry="0.85" fill="#4ea530"/><ellipse cx="486.2" cy="72.9" rx="0.95" ry="0.85" fill="#4ea530"/><ellipse cx="487.6" cy="72.5" rx="0.95" ry="0.85" fill="#4ea530"/><ellipse cx="489.1" cy="73.2" rx="0.95" ry="0.85" fill="#4ea530"/><ellipse cx="489.8" cy="70.3" rx="0.95" ry="0.85" fill="#4ea530"/><ellipse cx="491.2" cy="70.0" rx="0.95" ry="0.85" fill="#4ea530"/><ellipse cx="494.5" cy="71.7" rx="0.95" ry="0.85" fill="#4ea530"/><ellipse cx="494.8" cy="73.9" rx="0.95" ry="0.85" fill="#4ea530"/><ellipse cx="495.6" cy="74.9" rx="0.95" ry="0.85" fill="#4ea530"/><ellipse cx="497.7" cy="67.1" rx="0.95" ry="0.85" fill="#4ea530"/><ellipse cx="499.2" cy="68.1" rx="0.95" ry="0.85" fill="#4ea530"/><ellipse cx="500.3" cy="68.1" rx="0.95" ry="0.85" fill="#4ea530"/><ellipse cx="498.0" cy="71.5" rx="0.95" ry="0.85" fill="#4ea530"/><ellipse cx="502.0" cy="72.0" rx="0.95" ry="0.85" fill="#4ea530"/><ellipse cx="504.9" cy="70.6" rx="0.95" ry="0.85" fill="#4ea530"/><ellipse cx="505.7" cy="73.9" rx="0.95" ry="0.85" fill="#4ea530"/><ellipse cx="486.0" cy="71.5" rx="0.95" ry="0.85" fill="#4ea530"/><ellipse cx="488.0" cy="73.8" rx="0.95" ry="0.85" fill="#4ea530"/><ellipse cx="490.5" cy="72.0" rx="0.95" ry="0.85" fill="#4ea530"/><ellipse cx="492.5" cy="71.2" rx="0.95" ry="0.85" fill="#4ea530"/><ellipse cx="485.5" cy="73.5" rx="0.95" ry="0.85" fill="#4ea530"/>
<circle cx="401.7" cy="91.3" r="0.9" fill="#1f3f80"/><circle cx="401.7" cy="97.4" r="0.9" fill="#b0102e"/>
<text x="404.60" y="93.50" font-size="6.3" fill="#3a5a9a" >M</text>
<text x="404.60" y="99.60" font-size="6.3" fill="#b0203a" >U</text>
<circle cx="484.9" cy="91.6" r="0.9" fill="#e07d10"/><circle cx="484.9" cy="97.3" r="0.9" fill="#4ea530"/>
<text x="488.70" y="93.70" font-size="6.0" fill="#e8902a" textLength="14.6" lengthAdjust="spacingAndGlyphs" >low BR</text>
<text x="488.70" y="99.40" font-size="6.0" fill="#5aae3c" textLength="18.3" lengthAdjust="spacingAndGlyphs" >high BR</text>
<line x1="319.00" y1="121.80" x2="379.80" y2="121.80" stroke="#555" stroke-width="1.3" />
<text x="386.70" y="124.60" font-size="7.9" fill="#222" textLength="52.5" lengthAdjust="spacingAndGlyphs" stroke="#222" stroke-width="0.3">PC1: 14.0% variance</text>
<line x1="446.40" y1="121.60" x2="507.00" y2="121.60" stroke="#333" stroke-width="1.2" />
<path d="M505.5 119.6 L511.5 121.6 L505.5 123.6 Z" fill="#222"/>
<defs><filter id="bl1" x="-20%" y="-20%" width="140%" height="140%"><feGaussianBlur stdDeviation="1.2"/></filter><filter id="bl2" x="-20%" y="-20%" width="140%" height="140%"><feGaussianBlur stdDeviation="0.6"/></filter><filter id="bl3" x="-20%" y="-20%" width="140%" height="140%"><feGaussianBlur stdDeviation="2.2"/></filter></defs>
<clipPath id="c0t"><rect x="38.6" y="175.8" width="44.99999999999999" height="38.69999999999999"/></clipPath>
<g clip-path="url(#c0t)">
<path d="M39.10 214.00 L39.70 212.63 L40.08 211.07 L40.36 209.42 L40.60 207.75 L40.83 206.06 L41.06 204.37 L41.31 202.70 L41.60 201.06 L41.92 199.45 L42.29 197.89 L42.72 196.37 L43.20 194.90 L43.75 193.48 L44.36 192.12 L45.05 190.82 L45.81 189.59 L46.64 188.41 L47.54 187.30 L48.53 186.26 L49.59 185.29 L50.73 184.38 L51.94 183.53 L53.24 182.76 L54.61 182.05 L56.05 181.40 L57.56 180.81 L59.15 180.28 L60.80 179.82 L62.52 179.40 L64.29 179.04 L66.12 178.72 L68.00 178.44 L69.91 178.20 L71.86 177.98 L73.83 177.78 L75.80 177.59 L77.76 177.38 L79.68 177.14 L81.50 176.82 L83.10 176.30 L83.10 176.30 L82.50 177.67 L82.12 179.23 L81.84 180.88 L81.60 182.55 L81.37 184.24 L81.14 185.93 L80.89 187.60 L80.60 189.24 L80.28 190.85 L79.91 192.41 L79.48 193.93 L79.00 195.40 L78.45 196.82 L77.84 198.18 L77.15 199.48 L76.39 200.71 L75.56 201.89 L74.66 203.00 L73.67 204.04 L72.61 205.01 L71.47 205.92 L70.26 206.77 L68.96 207.54 L67.59 208.25 L66.15 208.90 L64.64 209.49 L63.05 210.02 L61.40 210.48 L59.68 210.90 L57.91 211.26 L56.08 211.58 L54.20 211.86 L52.29 212.10 L50.34 212.32 L48.37 212.52 L46.40 212.71 L44.44 212.92 L42.52 213.16 L40.70 213.48 L39.10 214.00Z" fill="#c23a2c" opacity="0.5" filter="url(#bl1)"/>
<path d="M69.9 206.5h.8M70.3 205.8h.8M53.8 211.6h.8M67.8 180.5h.8M47.4 212.8h.8M43.9 213.3h.8M57.6 181.6h.8M40.2 212.1h.8M43.0 202.0h.8M69.9 205.6h.8M50.6 185.2h.8M58.8 182.0h.8M82.7 178.8h.8M62.0 181.6h.8M59.4 209.0h.8M45.2 188.9h.8M78.4 177.9h.8M41.5 199.3h.8M80.2 177.9h.8M55.4 181.5h.8M46.6 212.4h.8M65.5 181.1h.8M47.3 212.0h.8M42.1 202.2h.8M41.9 201.0h.8M58.9 183.5h.8M55.1 210.8h.8M79.2 189.6h.8M55.3 211.1h.8M75.1 197.5h.8M55.1 210.8h.8M45.7 194.5h.8M41.2 207.6h.8M55.8 183.8h.8M81.4 180.4h.8M72.5 179.4h.8M74.7 178.3h.8M54.7 212.1h.8M55.8 212.5h.8M55.7 183.6h.8M40.4 210.5h.8M77.2 194.8h.8M55.9 184.2h.8M63.4 181.9h.8M75.8 204.0h.8M42.3 195.0h.8M40.5 212.2h.8M41.2 209.7h.8M55.3 185.4h.8M81.4 185.2h.8M60.0 181.0h.8M42.8 212.8h.8M59.0 179.5h.8M76.3 198.9h.8M42.5 192.4h.8M74.7 204.0h.8M79.4 194.4h.8M80.8 183.0h.8M74.1 178.3h.8M80.5 191.6h.8M75.5 199.1h.8M74.0 198.9h.8M82.5 178.9h.8M67.6 209.0h.8M46.4 187.2h.8M77.7 192.0h.8M69.7 204.3h.8M72.2 205.2h.8M44.7 198.8h.8M60.6 182.5h.8M74.7 178.5h.8M80.5 184.4h.8M54.5 211.3h.8M75.1 178.2h.8M55.1 184.5h.8M73.4 206.3h.8M59.7 179.4h.8M42.3 202.9h.8M55.6 211.1h.8M70.6 204.1h.8M80.2 177.8h.8M40.1 210.8h.8M61.1 180.8h.8M67.8 180.6h.8M67.9 204.6h.8M44.1 199.6h.8M75.9 199.1h.8M78.3 199.3h.8M60.9 182.3h.8M43.1 202.9h.8M62.7 181.8h.8M65.0 209.8h.8M54.7 181.9h.8M65.7 178.8h.8M76.6 178.2h.8M70.3 206.7h.8M66.1 208.6h.8M65.9 178.6h.8M75.6 197.3h.8M80.2 189.4h.8M56.9 212.3h.8M81.8 179.5h.8M64.4 211.1h.8M46.9 194.1h.8M51.3 183.6h.8M40.2 211.0h.8M68.1 180.3h.8M67.4 180.5h.8M73.5 205.0h.8M58.3 179.7h.8M78.3 178.5h.8M71.8 202.8h.8M76.5 198.9h.8M54.0 185.2h.8M69.7 178.5h.8M81.2 187.9h.8M73.2 200.7h.8M50.1 185.9h.8M79.3 177.9h.8M67.3 179.5h.8M76.3 195.1h.8M70.1 209.4h.8M43.8 197.1h.8M70.4 208.2h.8M50.4 188.0h.8M54.0 181.1h.8M67.0 180.8h.8M42.4 198.9h.8M45.1 192.1h.8M77.4 193.2h.8M57.4 210.0h.8M48.7 189.4h.8M53.2 186.7h.8M76.9 199.7h.8M80.5 187.3h.8M57.8 211.7h.8M74.9 178.8h.8M80.8 182.4h.8M74.0 179.2h.8M63.3 181.3h.8M79.9 188.1h.8M49.4 212.1h.8M41.7 213.1h.8M74.7 178.1h.8M73.3 205.6h.8M61.0 182.3h.8M47.7 212.0h.8M50.8 185.7h.8M53.1 211.1h.8M80.3 177.2h.8M40.6 209.0h.8M65.5 180.5h.8M72.0 203.8h.8M41.9 213.6h.8M53.4 211.6h.8M48.3 191.3h.8M70.3 202.6h.8M80.2 190.5h.8M75.8 198.9h.8M74.5 206.8h.8M60.2 211.9h.8M64.9 179.1h.8M81.3 184.7h.8M64.3 179.4h.8M63.5 181.8h.8M51.1 189.2h.8M56.7 181.9h.8M77.6 178.2h.8M77.3 198.1h.8M69.1 210.2h.8M79.0 196.6h.8M42.4 213.4h.8M43.8 197.9h.8M42.8 201.5h.8M59.7 212.0h.8M74.6 206.6h.8M82.2 178.6h.8M46.1 212.7h.8M40.5 210.1h.8M50.8 188.7h.8M74.0 198.7h.8M68.2 207.3h.8M64.3 207.8h.8M73.1 201.5h.8M45.6 196.7h.8M43.4 212.8h.8M68.5 209.7h.8M44.5 213.2h.8M40.7 208.3h.8M47.0 185.0h.8M75.0 205.8h.8M73.0 208.0h.8M73.9 199.2h.8M50.1 189.2h.8M53.3 186.9h.8M59.1 181.9h.8M74.4 201.1h.8M75.7 205.9h.8M63.8 181.3h.8M81.1 184.9h.8M63.9 208.0h.8M74.6 202.5h.8M65.1 181.0h.8M82.3 179.7h.8M41.0 211.0h.8M47.1 188.8h.8M54.0 186.5h.8M77.6 197.2h.8M46.2 191.8h.8M65.1 210.0h.8M45.5 212.4h.8M55.1 181.7h.8M67.2 206.2h.8M66.1 209.1h.8M63.1 209.6h.8M76.1 178.6h.8M40.9 206.8h.8M41.2 208.0h.8M76.9 195.9h.8M45.7 212.4h.8M46.2 212.4h.8M61.2 181.9h.8M44.6 191.5h.8M49.3 212.5h.8M81.5 183.3h.8M46.6 187.5h.8M62.0 209.3h.8M74.4 179.0h.8M46.5 192.5h.8M65.2 207.0h.8M79.7 190.4h.8M72.7 201.1h.8M73.4 179.1h.8M72.6 204.3h.8M81.8 180.2h.8M45.1 212.8h.8M46.2 212.2h.8M80.3 183.8h.8M51.3 212.4h.8M57.1 210.2h.8M50.0 184.5h.8M65.8 211.1h.8M71.6 205.0h.8M59.7 179.6h.8M80.3 188.9h.8M80.6 190.6h.8M81.5 180.6h.8M60.3 180.0h.8M66.6 205.9h.8M80.9 177.7h.8M42.8 200.8h.8M79.7 178.2h.8M49.0 212.5h.8M43.1 202.8h.8M52.2 182.0h.8M41.9 206.8h.8M57.9 211.6h.8M43.7 200.2h.8M41.6 202.1h.8M50.9 183.4h.8M60.3 211.8h.8M64.1 209.3h.8M51.0 188.2h.8M77.7 178.0h.8M51.6 185.5h.8M80.6 177.5h.8M40.2 212.3h.8M80.2 190.8h.8M42.6 204.0h.8M60.1 211.8h.8M54.7 180.4h.8M71.6 202.1h.8M41.2 213.9h.8M69.7 180.1h.8M63.1 181.9h.8M72.8 207.8h.8M80.0 186.4h.8M45.3 187.9h.8M79.4 188.1h.8M71.3 202.4h.8M45.2 195.3h.8M61.6 209.7h.8M44.9 191.6h.8M66.6 207.7h.8M69.1 179.1h.8M45.2 190.6h.8M53.6 184.5h.8M80.5 177.3h.8M56.9 183.7h.8M53.1 185.9h.8M45.9 190.1h.8M42.0 200.4h.8M81.3 181.3h.8M43.6 192.5h.8M50.1 211.5h.8M62.4 181.9h.8M69.8 179.1h.8M43.8 200.1h.8M65.7 206.1h.8M68.5 207.0h.8M64.1 179.2h.8M45.4 194.0h.8M68.1 208.5h.8M79.9 191.2h.8M40.5 212.0h.8M59.3 183.4h.8M73.6 205.6h.8M74.3 199.0h.8M74.7 178.6h.8M70.2 203.3h.8M82.0 178.9h.8M79.5 187.6h.8M57.8 183.7h.8M58.1 211.1h.8M43.0 192.2h.8M68.5 204.5h.8M51.0 212.7h.8M52.9 184.2h.8M81.5 184.0h.8M73.9 199.3h.8M42.5 194.6h.8M52.1 182.6h.8M54.3 186.3h.8M54.7 212.7h.8M76.2 197.3h.8M78.3 193.4h.8M68.6 180.4h.8M50.7 188.9h.8M73.0 200.8h.8M43.3 197.1h.8M74.9 197.3h.8M51.8 212.8h.8M70.0 205.3h.8M78.7 197.2h.8M73.8 207.5h.8M71.4 179.2h.8M76.3 203.9h.8M72.4 203.4h.8M61.2 208.3h.8M81.1 184.3h.8M78.3 192.5h.8M41.4 209.2h.8M51.1 186.8h.8M60.4 181.2h.8M44.8 195.3h.8M45.8 213.1h.8M57.1 180.4h.8M79.1 189.3h.8M51.4 182.5h.8M78.7 189.9h.8M78.5 178.5h.8M44.9 195.9h.8M73.7 178.4h.8M45.3 192.2h.8M40.1 210.8h.8M74.0 206.7h.8M50.7 188.6h.8M75.7 178.1h.8M70.3 179.5h.8M53.7 212.5h.8M42.2 200.5h.8M73.6 179.3h.8M77.8 193.9h.8M71.9 178.6h.8M58.7 179.6h.8M41.4 208.6h.8M62.5 181.8h.8M57.7 211.4h.8M66.3 209.1h.8M55.8 184.6h.8M76.3 178.3h.8M75.0 197.5h.8M69.2 206.7h.8M40.8 210.3h.8M42.3 197.1h.8M43.0 195.3h.8M43.7 196.3h.8M73.6 178.1h.8M47.7 186.8h.8M76.6 178.4h.8M52.2 184.0h.8M78.2 199.0h.8M73.8 206.0h.8M48.9 183.6h.8M78.5 190.7h.8M57.0 210.8h.8M65.6 179.1h.8M70.0 204.0h.8M69.8 203.1h.8M78.5 195.2h.8M43.0 202.7h.8M50.6 186.9h.8M42.5 196.4h.8M80.9 183.7h.8M67.4 180.3h.8M46.0 196.0h.8M56.2 182.7h.8M73.3 199.8h.8M42.7 203.0h.8M79.1 197.5h.8M41.1 209.5h.8M41.4 198.7h.8M72.6 206.2h.8M50.8 211.9h.8M43.2 212.8h.8M42.0 204.6h.8M49.3 190.8h.8M82.4 178.6h.8M56.2 210.5h.8M57.5 210.8h.8M64.4 208.0h.8M57.4 184.5h.8M59.4 183.5h.8M79.3 197.4h.8M73.6 178.8h.8M80.0 187.4h.8M43.2 200.4h.8M54.1 186.0h.8M42.9 200.2h.8M72.1 208.7h.8M72.3 179.4h.8M40.9 208.6h.8M45.1 197.8h.8M58.6 210.3h.8M62.5 181.5h.8M41.1 202.9h.8M79.8 192.8h.8M40.5 211.9h.8M40.8 207.7h.8M65.3 180.0h.8M47.8 191.7h.8M41.8 203.7h.8M61.8 209.5h.8M41.4 204.5h.8M61.8 180.2h.8M54.6 210.9h.8M66.8 207.2h.8M43.5 199.9h.8M43.8 200.9h.8M76.5 199.5h.8M81.6 179.4h.8M80.7 182.7h.8M79.2 199.3h.8M42.7 198.6h.8M48.3 189.7h.8M47.1 191.8h.8M44.9 197.3h.8M69.2 204.3h.8M44.2 199.5h.8M66.7 205.9h.8M78.1 195.9h.8M40.5 211.7h.8M41.1 209.4h.8M49.9 186.2h.8M45.8 194.8h.8M66.0 210.6h.8M43.0 196.9h.8M71.0 206.2h.8M65.4 208.9h.8M79.6 192.2h.8M47.6 190.3h.8M68.6 178.6h.8M75.6 179.0h.8M51.7 187.0h.8M80.2 178.1h.8M42.4 198.8h.8M40.0 212.8h.8M57.5 210.9h.8M74.2 203.4h.8M68.5 178.4h.8M43.6 191.4h.8M79.0 195.6h.8M78.9 177.9h.8M75.9 199.6h.8M64.5 207.7h.8M53.1 186.3h.8M61.7 208.5h.8M42.2 205.9h.8M41.2 206.7h.8M47.2 187.1h.8M53.0 212.5h.8M44.2 212.7h.8M79.3 190.1h.8M42.6 197.3h.8M64.5 210.3h.8M69.2 179.2h.8M78.5 195.8h.8M68.3 180.3h.8M60.0 182.6h.8M41.8 213.5h.8M81.4 179.6h.8M46.9 189.1h.8M76.4 178.0h.8M62.8 181.9h.8M61.4 211.0h.8M41.9 206.0h.8M52.4 185.1h.8M63.2 210.8h.8M60.0 209.9h.8M63.4 178.7h.8M78.0 196.2h.8M42.4 204.6h.8M77.1 178.6h.8M41.9 206.0h.8M72.7 200.8h.8M44.6 197.4h.8M46.9 192.9h.8M40.7 208.9h.8M41.5 208.6h.8M81.9 178.1h.8M70.6 204.8h.8M65.2 206.4h.8M57.7 181.6h.8M81.5 181.9h.8M70.9 208.0h.8M43.1 203.1h.8M42.1 206.3h.8M78.4 192.4h.8M41.2 213.2h.8M41.6 213.5h.8" stroke="#b02818" stroke-width=".8" opacity="0.7"/>
<path d="M39.10 214.00 L39.71 212.64 L40.17 211.15 L40.58 209.62 L40.98 208.07 L41.39 206.54 L41.81 205.01 L42.26 203.51 L42.74 202.03 L43.25 200.59 L43.80 199.18 L44.40 197.81 L45.04 196.47 L45.74 195.18 L46.48 193.93 L47.28 192.73 L48.13 191.57 L49.03 190.46 L49.99 189.40 L51.01 188.39 L52.08 187.42 L53.21 186.50 L54.39 185.63 L55.63 184.81 L56.93 184.03 L58.28 183.31 L59.68 182.62 L61.14 181.99 L62.64 181.39 L64.20 180.84 L65.80 180.33 L67.45 179.85 L69.14 179.41 L70.86 179.01 L72.61 178.62 L74.39 178.26 L76.18 177.91 L77.98 177.57 L79.77 177.22 L81.51 176.82 L83.10 176.30 L83.10 176.30 L82.49 177.66 L82.03 179.15 L81.62 180.68 L81.22 182.23 L80.81 183.76 L80.39 185.29 L79.94 186.79 L79.46 188.27 L78.95 189.71 L78.40 191.12 L77.80 192.49 L77.16 193.83 L76.46 195.12 L75.72 196.37 L74.92 197.57 L74.07 198.73 L73.17 199.84 L72.21 200.90 L71.19 201.91 L70.12 202.88 L68.99 203.80 L67.81 204.67 L66.57 205.49 L65.27 206.27 L63.92 206.99 L62.52 207.68 L61.06 208.31 L59.56 208.91 L58.00 209.46 L56.40 209.97 L54.75 210.45 L53.06 210.89 L51.34 211.29 L49.59 211.68 L47.81 212.04 L46.02 212.39 L44.22 212.73 L42.43 213.08 L40.69 213.48 L39.10 214.00Z" fill="#cc0c0c" filter="url(#bl2)"/>
<path d="M39.10 213.89 L39.19 212.19 L39.85 210.88 L40.62 209.65 L41.44 208.46 L42.30 207.31 L43.19 206.19 L44.10 205.09 L45.04 204.01 L45.99 202.94 L46.96 201.89 L47.95 200.85 L48.95 199.82 L49.97 198.81 L50.99 197.80 L52.03 196.81 L53.08 195.82 L54.15 194.85 L55.22 193.88 L56.30 192.92 L57.40 191.98 L58.50 191.04 L59.62 190.11 L60.75 189.19 L61.88 188.28 L63.03 187.38 L64.19 186.49 L65.37 185.61 L66.55 184.74 L67.75 183.88 L68.96 183.04 L70.19 182.21 L71.44 181.39 L72.70 180.59 L73.99 179.80 L75.30 179.04 L76.64 178.30 L78.02 177.60 L79.45 176.95 L80.99 176.38 L82.98 176.30 L83.10 176.41 L83.01 178.11 L82.35 179.42 L81.58 180.65 L80.76 181.84 L79.90 182.99 L79.01 184.11 L78.10 185.21 L77.16 186.29 L76.21 187.36 L75.24 188.41 L74.25 189.45 L73.25 190.48 L72.23 191.49 L71.21 192.50 L70.17 193.49 L69.12 194.48 L68.05 195.45 L66.98 196.42 L65.90 197.38 L64.80 198.32 L63.70 199.26 L62.58 200.19 L61.45 201.11 L60.32 202.02 L59.17 202.92 L58.01 203.81 L56.83 204.69 L55.65 205.56 L54.45 206.42 L53.24 207.26 L52.01 208.09 L50.76 208.91 L49.50 209.71 L48.21 210.50 L46.90 211.26 L45.56 212.00 L44.18 212.70 L42.75 213.35 L41.21 213.92 L39.22 214.00Z" fill="#bcd6ef" stroke="#111" stroke-width="0.5" stroke-opacity="0.5"/>
<path d="M39.10 213.89 L39.69 212.62 L40.63 211.54 L41.62 210.50 L42.63 209.48 L43.65 208.48 L44.69 207.48 L45.73 206.49 L46.78 205.50 L47.84 204.52 L48.90 203.54 L49.96 202.57 L51.03 201.61 L52.11 200.64 L53.19 199.68 L54.27 198.72 L55.36 197.77 L56.45 196.82 L57.54 195.87 L58.63 194.92 L59.73 193.98 L60.83 193.04 L61.94 192.10 L63.05 191.16 L64.16 190.23 L65.27 189.30 L66.39 188.37 L67.51 187.45 L68.63 186.53 L69.76 185.61 L70.90 184.69 L72.04 183.79 L73.18 182.88 L74.33 181.98 L75.49 181.09 L76.65 180.20 L77.83 179.32 L79.02 178.46 L80.23 177.61 L81.49 176.80 L82.98 176.30 L83.10 176.41 L82.51 177.68 L81.57 178.76 L80.58 179.80 L79.57 180.82 L78.55 181.82 L77.51 182.82 L76.47 183.81 L75.42 184.80 L74.36 185.78 L73.30 186.76 L72.24 187.73 L71.17 188.69 L70.09 189.66 L69.01 190.62 L67.93 191.58 L66.84 192.53 L65.75 193.48 L64.66 194.43 L63.57 195.38 L62.47 196.32 L61.37 197.26 L60.26 198.20 L59.15 199.14 L58.04 200.07 L56.93 201.00 L55.81 201.93 L54.69 202.85 L53.57 203.77 L52.44 204.69 L51.30 205.61 L50.16 206.51 L49.02 207.42 L47.87 208.32 L46.71 209.21 L45.55 210.10 L44.37 210.98 L43.18 211.84 L41.97 212.69 L40.71 213.50 L39.22 214.00Z" fill="#9ccaf2" opacity="0.8" filter="url(#bl2)"/>
<circle cx="39.1" cy="214.0" r="2.6" fill="#1f4f9a" filter="url(#bl2)"/>
<circle cx="83.1" cy="176.3" r="2.6" fill="#2f62b0" filter="url(#bl2)"/>
<line x1="39.10" y1="214.00" x2="83.10" y2="176.30" stroke="#8b1e22" stroke-width="0.9" />
</g>
<rect x="38.6" y="175.8" width="44.99999999999999" height="38.69999999999999" fill="none" stroke="#111" stroke-width="1.2"/>
<text x="32.60" y="215.50" font-size="4.4" fill="#444" text-anchor="end" stroke="#444" stroke-width="0.05" >0.0</text>
<text x="39.10" y="225.10" font-size="4.4" fill="#444" text-anchor="middle" stroke="#444" stroke-width="0.05" >0.0</text>
<text x="32.60" y="207.96" font-size="4.4" fill="#444" text-anchor="end" stroke="#444" stroke-width="0.05" >0.2</text>
<text x="47.90" y="225.10" font-size="4.4" fill="#444" text-anchor="middle" stroke="#444" stroke-width="0.05" >0.2</text>
<text x="32.60" y="200.42" font-size="4.4" fill="#444" text-anchor="end" stroke="#444" stroke-width="0.05" >0.4</text>
<text x="56.70" y="225.10" font-size="4.4" fill="#444" text-anchor="middle" stroke="#444" stroke-width="0.05" >0.4</text>
<text x="32.60" y="192.88" font-size="4.4" fill="#444" text-anchor="end" stroke="#444" stroke-width="0.05" >0.6</text>
<text x="65.50" y="225.10" font-size="4.4" fill="#444" text-anchor="middle" stroke="#444" stroke-width="0.05" >0.6</text>
<text x="32.60" y="185.34" font-size="4.4" fill="#444" text-anchor="end" stroke="#444" stroke-width="0.05" >0.8</text>
<text x="74.30" y="225.10" font-size="4.4" fill="#444" text-anchor="middle" stroke="#444" stroke-width="0.05" >0.8</text>
<text x="32.60" y="177.80" font-size="4.4" fill="#444" text-anchor="end" stroke="#444" stroke-width="0.05" >1.0</text>
<text x="83.10" y="225.10" font-size="4.4" fill="#444" text-anchor="middle" stroke="#444" stroke-width="0.05" >1.0</text>
<path d="M36.3 214.00H38.6M39.10 214.5V216.6M36.3 206.46H38.6M47.90 214.5V216.6M36.3 198.92H38.6M56.70 214.5V216.6M36.3 191.38H38.6M65.50 214.5V216.6M36.3 183.84H38.6M74.30 214.5V216.6M36.3 176.30H38.6M83.10 214.5V216.6" stroke="#111" stroke-width="0.8"/>
<clipPath id="c1t"><rect x="107.9" y="175.8" width="44.79999999999998" height="38.69999999999999"/></clipPath>
<g clip-path="url(#c1t)">
<path d="M108.40 214.00 L109.00 212.63 L109.37 211.07 L109.65 209.42 L109.89 207.75 L110.12 206.06 L110.35 204.37 L110.60 202.70 L110.89 201.06 L111.21 199.45 L111.58 197.89 L112.00 196.37 L112.48 194.90 L113.03 193.48 L113.64 192.12 L114.32 190.82 L115.08 189.59 L115.90 188.41 L116.81 187.30 L117.78 186.26 L118.84 185.29 L119.97 184.38 L121.19 183.53 L122.47 182.76 L123.84 182.05 L125.27 181.40 L126.78 180.81 L128.36 180.28 L130.00 179.82 L131.71 179.40 L133.48 179.04 L135.30 178.72 L137.17 178.44 L139.07 178.20 L141.01 177.98 L142.97 177.78 L144.93 177.59 L146.88 177.38 L148.79 177.14 L150.61 176.82 L152.20 176.30 L152.20 176.30 L151.60 177.67 L151.23 179.23 L150.95 180.88 L150.71 182.55 L150.48 184.24 L150.25 185.93 L150.00 187.60 L149.71 189.24 L149.39 190.85 L149.02 192.41 L148.60 193.93 L148.12 195.40 L147.57 196.82 L146.96 198.18 L146.28 199.48 L145.52 200.71 L144.70 201.89 L143.79 203.00 L142.82 204.04 L141.76 205.01 L140.63 205.92 L139.41 206.77 L138.13 207.54 L136.76 208.25 L135.33 208.90 L133.82 209.49 L132.24 210.02 L130.60 210.48 L128.89 210.90 L127.12 211.26 L125.30 211.58 L123.43 211.86 L121.53 212.10 L119.59 212.32 L117.63 212.52 L115.67 212.71 L113.72 212.92 L111.81 213.16 L109.99 213.48 L108.40 214.00Z" fill="#c23a2c" opacity="0.5" filter="url(#bl1)"/>
<path d="M135.4 179.2h.8M149.7 190.7h.8M150.7 178.7h.8M115.2 189.5h.8M149.6 183.1h.8M112.6 199.6h.8M126.1 180.8h.8M127.0 182.9h.8M144.2 178.8h.8M113.3 192.6h.8M148.0 193.6h.8M112.3 202.9h.8M115.0 193.0h.8M120.3 186.8h.8M118.9 183.1h.8M149.5 185.1h.8M110.1 205.9h.8M148.3 178.2h.8M131.5 181.9h.8M126.7 179.9h.8M122.6 211.4h.8M111.0 203.8h.8M144.6 197.7h.8M150.3 185.3h.8M119.6 186.0h.8M138.8 178.9h.8M128.3 182.1h.8M126.4 211.3h.8M139.6 202.5h.8M139.0 206.8h.8M146.2 178.6h.8M149.8 177.4h.8M130.5 179.0h.8M149.0 185.6h.8M139.3 203.9h.8M147.9 200.1h.8M148.7 190.3h.8M114.8 213.0h.8M111.6 197.1h.8M119.4 183.6h.8M112.6 196.0h.8M120.7 183.4h.8M127.8 211.7h.8M148.5 192.0h.8M137.1 180.4h.8M111.2 207.4h.8M140.5 178.5h.8M122.5 211.4h.8M123.3 181.2h.8M150.8 178.6h.8M141.6 178.6h.8M128.4 182.0h.8M132.2 208.6h.8M129.6 210.6h.8M122.0 211.0h.8M120.0 189.0h.8M146.5 178.2h.8M125.1 212.6h.8M132.8 180.9h.8M135.2 206.3h.8M115.3 188.0h.8M139.0 206.1h.8M113.7 192.2h.8M142.9 200.7h.8M131.1 211.4h.8M115.7 186.1h.8M132.4 180.1h.8M110.4 209.3h.8M115.1 186.6h.8M129.0 180.7h.8M135.3 206.1h.8M112.9 198.2h.8M149.9 189.7h.8M141.0 201.5h.8M110.7 207.9h.8M130.9 180.2h.8M142.9 178.2h.8M126.3 182.7h.8M138.5 205.1h.8M147.0 202.5h.8M151.1 178.5h.8M146.8 199.1h.8M110.4 209.1h.8M145.0 197.1h.8M112.3 200.7h.8M114.8 189.7h.8M122.1 212.1h.8M147.1 192.9h.8M131.0 179.8h.8M137.7 204.1h.8M146.5 178.0h.8M133.7 209.1h.8M110.4 206.0h.8M139.6 203.0h.8M118.6 211.7h.8M112.4 194.7h.8M118.3 191.3h.8M117.6 188.0h.8M148.8 186.6h.8M121.9 212.8h.8M137.1 208.0h.8M148.3 178.1h.8M121.5 212.5h.8M146.2 194.2h.8M110.1 211.6h.8M150.9 180.2h.8M110.2 210.4h.8M127.0 209.7h.8M132.2 209.4h.8M150.4 185.5h.8M117.6 184.5h.8M112.6 194.5h.8M115.5 192.2h.8M115.3 192.6h.8M109.9 209.9h.8M120.7 185.3h.8M113.1 200.4h.8M113.9 194.6h.8M133.2 180.4h.8M113.9 188.1h.8M121.7 181.5h.8M124.9 183.9h.8M124.4 182.8h.8M140.8 204.8h.8M110.5 210.2h.8M111.9 196.0h.8M140.9 179.2h.8M145.2 195.6h.8M139.1 179.6h.8M149.7 189.6h.8M110.0 209.5h.8M145.4 199.7h.8M143.9 197.5h.8M133.1 180.1h.8M147.5 193.6h.8M149.0 177.3h.8M148.3 191.1h.8M115.7 191.7h.8M118.0 212.0h.8M114.6 212.4h.8M127.8 181.6h.8M118.0 212.0h.8M120.2 182.6h.8M137.1 207.5h.8M110.3 205.1h.8M109.9 211.2h.8M126.6 180.0h.8M146.4 196.0h.8M110.4 206.4h.8M124.9 184.8h.8M121.2 211.6h.8M141.1 203.5h.8M149.0 187.4h.8M116.3 184.9h.8M130.8 182.0h.8M131.7 180.4h.8M110.0 209.0h.8M147.1 194.7h.8M145.7 204.6h.8M118.1 188.2h.8M134.4 181.2h.8M148.6 186.7h.8M122.5 184.0h.8M121.6 212.7h.8M148.0 189.1h.8M124.6 210.6h.8M143.3 198.9h.8M146.0 203.2h.8M146.3 195.9h.8M146.7 194.2h.8M132.5 181.3h.8M109.6 211.7h.8M114.3 196.4h.8M120.2 187.9h.8M129.2 210.4h.8M122.0 212.5h.8M144.9 200.4h.8M143.0 204.1h.8M135.5 180.5h.8M150.2 181.7h.8M112.5 199.1h.8M149.3 195.6h.8M123.4 184.9h.8M150.2 180.8h.8M144.6 196.7h.8M110.6 206.8h.8M150.9 178.6h.8M110.2 209.3h.8M112.1 213.3h.8M148.2 197.9h.8M140.0 202.4h.8M111.6 201.8h.8M139.5 203.5h.8M116.8 189.8h.8M140.6 205.3h.8M124.0 185.8h.8M133.6 210.0h.8M151.4 180.0h.8M139.8 178.3h.8M140.9 205.4h.8M145.4 200.5h.8M116.0 212.6h.8M111.9 212.9h.8M148.0 178.4h.8M149.5 188.7h.8M145.1 202.6h.8M109.8 213.3h.8M148.5 177.5h.8M115.0 194.0h.8M147.7 191.4h.8M141.1 203.0h.8M137.7 205.1h.8M112.2 203.0h.8M117.4 185.9h.8M111.9 198.3h.8M140.7 202.9h.8M112.2 202.3h.8M133.3 210.2h.8M135.8 179.7h.8M134.8 180.7h.8M114.0 187.6h.8M135.8 210.5h.8M134.1 206.8h.8M148.1 190.8h.8M134.3 207.5h.8M147.8 193.5h.8M109.6 212.1h.8M109.9 208.9h.8M125.5 212.3h.8M150.1 182.0h.8M120.4 212.4h.8M122.8 210.9h.8M150.1 185.4h.8M118.5 188.7h.8M111.4 195.3h.8M112.0 202.1h.8M114.8 195.9h.8M142.1 203.8h.8M148.3 192.4h.8M110.8 208.4h.8M132.2 210.7h.8M121.4 187.6h.8M142.5 201.2h.8M150.8 179.7h.8M139.8 179.2h.8M146.4 177.9h.8M134.3 180.4h.8M120.9 211.3h.8M113.0 201.1h.8M148.7 190.2h.8M119.7 188.9h.8M115.1 196.3h.8M125.9 183.4h.8M126.4 183.4h.8M142.4 178.7h.8M121.7 185.3h.8M149.8 183.0h.8M139.5 178.5h.8M117.4 183.9h.8M111.0 202.2h.8M142.5 200.2h.8M128.4 209.2h.8M114.4 192.7h.8M145.3 178.5h.8M109.4 212.8h.8M122.4 183.5h.8M110.6 207.7h.8M124.3 180.4h.8M136.7 205.1h.8M127.4 211.9h.8M129.1 211.9h.8M137.8 207.2h.8M119.4 186.9h.8M139.4 179.2h.8M123.2 210.9h.8M150.1 191.1h.8M148.0 197.6h.8M136.4 178.9h.8M138.0 179.9h.8M149.7 182.5h.8M134.4 210.2h.8M150.5 183.8h.8M110.2 209.1h.8M148.9 177.4h.8M123.5 212.0h.8M149.4 177.6h.8M146.3 193.3h.8M149.2 192.8h.8M145.8 204.0h.8M120.0 187.2h.8M111.3 213.0h.8M126.5 211.5h.8M129.6 181.2h.8M127.9 209.6h.8M127.3 179.8h.8M145.2 178.1h.8M150.5 180.9h.8M135.2 180.4h.8M120.8 185.7h.8M140.9 179.0h.8M133.6 181.0h.8M124.5 184.8h.8M110.7 209.2h.8M144.4 205.8h.8M117.0 190.2h.8M116.2 185.3h.8M138.8 207.6h.8M143.7 203.2h.8M149.7 183.7h.8M150.3 177.5h.8M135.3 181.0h.8M141.8 201.8h.8M147.0 193.8h.8M126.0 181.4h.8M118.8 190.4h.8M147.3 177.9h.8M114.7 212.5h.8M118.9 190.2h.8M121.8 183.0h.8M146.7 199.0h.8M110.0 210.2h.8M110.2 209.8h.8M110.5 208.8h.8M118.0 212.9h.8M118.8 186.6h.8M149.7 178.0h.8M126.6 212.1h.8M136.3 207.1h.8M128.9 211.5h.8M118.4 188.9h.8M138.0 205.5h.8M135.9 206.7h.8M138.8 206.0h.8M138.3 205.7h.8M148.6 177.6h.8M127.3 180.8h.8M149.2 196.0h.8M146.1 197.2h.8M126.6 211.8h.8M150.8 179.2h.8M111.1 213.3h.8M112.4 197.2h.8M113.6 188.3h.8M149.6 182.9h.8M137.2 178.7h.8M145.2 202.0h.8M132.7 180.2h.8M147.4 195.7h.8M150.8 178.6h.8M133.0 210.3h.8M129.2 210.6h.8M139.2 203.6h.8M142.9 178.5h.8M137.2 179.8h.8M144.4 200.2h.8M151.2 178.7h.8M113.6 191.6h.8M131.3 210.6h.8M138.8 179.6h.8M114.8 192.2h.8M114.7 191.0h.8M132.8 211.1h.8M113.5 198.8h.8M116.3 212.8h.8M128.3 210.5h.8M112.3 213.5h.8M125.4 211.8h.8M112.7 192.0h.8M119.6 188.2h.8M149.1 189.6h.8M149.9 177.9h.8M143.7 198.6h.8M114.8 193.4h.8M150.1 189.4h.8M121.8 211.5h.8M126.3 212.2h.8M112.6 199.7h.8M146.1 193.7h.8M114.6 213.0h.8M125.1 185.2h.8M136.0 210.9h.8M141.5 179.5h.8M109.5 211.6h.8M129.5 210.9h.8M114.2 194.3h.8M123.1 185.0h.8M113.2 198.6h.8M111.0 213.2h.8M127.5 209.5h.8M118.5 187.6h.8M150.1 185.2h.8M146.9 198.6h.8M136.4 206.9h.8M139.7 205.8h.8M134.6 178.8h.8M109.9 211.8h.8M136.0 179.4h.8M124.4 212.4h.8M147.5 197.3h.8M138.4 205.7h.8M150.5 186.0h.8M139.7 179.9h.8M150.9 179.9h.8M132.7 211.1h.8M150.8 178.4h.8M109.8 212.4h.8M144.2 197.6h.8M150.3 181.6h.8M123.6 183.3h.8M141.5 207.7h.8M125.0 211.1h.8M133.1 209.5h.8M111.0 213.1h.8M124.1 210.4h.8M134.7 211.1h.8M110.5 206.8h.8M149.5 189.8h.8M113.6 212.5h.8M111.6 204.9h.8M121.5 211.8h.8M131.0 208.8h.8M123.3 211.9h.8M149.9 181.6h.8M114.1 189.9h.8M132.0 181.7h.8M148.6 178.1h.8M144.7 178.4h.8M112.2 202.2h.8M149.7 187.8h.8M127.7 181.3h.8M131.1 180.9h.8M140.0 204.4h.8M113.0 212.6h.8M116.0 192.4h.8M121.9 181.7h.8M140.9 204.6h.8M123.8 185.3h.8M146.3 193.4h.8M110.1 211.2h.8M149.5 187.7h.8M133.2 179.6h.8M139.0 180.0h.8M112.2 212.8h.8M117.1 192.6h.8M149.5 187.5h.8M110.2 211.1h.8M112.5 202.1h.8M127.8 183.5h.8M121.9 185.8h.8M122.8 184.2h.8M138.0 204.0h.8M112.1 201.6h.8M142.6 178.7h.8M119.2 183.0h.8M114.7 190.4h.8M128.8 179.6h.8M128.9 209.6h.8M149.1 191.6h.8M122.8 211.4h.8M147.3 191.3h.8M131.3 179.3h.8M147.0 202.4h.8M145.7 203.4h.8M149.6 188.1h.8M119.9 211.9h.8M110.5 204.7h.8M126.8 183.4h.8M126.0 184.3h.8M139.6 178.3h.8M114.3 191.3h.8M148.9 186.8h.8M116.1 194.7h.8M109.5 213.0h.8M149.8 177.5h.8M131.9 181.6h.8M148.8 195.7h.8M117.6 190.2h.8M112.8 193.8h.8M145.5 195.5h.8M150.5 179.9h.8M112.1 203.8h.8M123.4 212.1h.8M126.4 179.8h.8M111.1 207.5h.8M149.5 189.1h.8M140.7 179.3h.8M128.2 183.7h.8M110.1 211.5h.8M140.5 202.1h.8M138.6 179.7h.8M147.4 198.1h.8M143.3 202.9h.8M126.6 179.8h.8M134.4 179.7h.8M109.5 212.3h.8M144.5 200.6h.8M113.7 212.6h.8M148.8 198.6h.8M129.8 210.0h.8M148.6 189.7h.8M119.6 187.5h.8M112.5 190.4h.8M134.6 206.4h.8M111.8 204.4h.8M123.2 182.2h.8M129.8 209.6h.8M123.9 210.4h.8M120.6 188.4h.8M142.6 178.5h.8M129.6 182.5h.8M142.9 199.0h.8M131.4 208.2h.8M117.1 211.9h.8M141.7 207.5h.8M123.5 210.5h.8M138.7 204.9h.8M111.6 200.1h.8M150.6 183.0h.8M132.7 210.4h.8M147.7 189.7h.8" stroke="#b02818" stroke-width=".8" opacity="0.7"/>
<path d="M108.40 214.00 L109.01 212.64 L109.46 211.15 L109.88 209.62 L110.28 208.07 L110.68 206.54 L111.10 205.01 L111.54 203.51 L112.02 202.03 L112.53 200.59 L113.08 199.18 L113.68 197.81 L114.32 196.47 L115.01 195.18 L115.75 193.93 L116.54 192.73 L117.39 191.57 L118.29 190.46 L119.24 189.40 L120.25 188.39 L121.32 187.42 L122.44 186.50 L123.62 185.63 L124.86 184.81 L126.15 184.03 L127.49 183.31 L128.89 182.62 L130.34 181.99 L131.84 181.39 L133.39 180.84 L134.98 180.33 L136.62 179.85 L138.30 179.41 L140.01 179.01 L141.76 178.62 L143.53 178.26 L145.32 177.91 L147.11 177.57 L148.88 177.22 L150.62 176.82 L152.20 176.30 L152.20 176.30 L151.59 177.66 L151.14 179.15 L150.72 180.68 L150.32 182.23 L149.92 183.76 L149.50 185.29 L149.06 186.79 L148.58 188.27 L148.07 189.71 L147.52 191.12 L146.92 192.49 L146.28 193.83 L145.59 195.12 L144.85 196.37 L144.06 197.57 L143.21 198.73 L142.31 199.84 L141.36 200.90 L140.35 201.91 L139.28 202.88 L138.16 203.80 L136.98 204.67 L135.74 205.49 L134.45 206.27 L133.11 206.99 L131.71 207.68 L130.26 208.31 L128.76 208.91 L127.21 209.46 L125.62 209.97 L123.98 210.45 L122.30 210.89 L120.59 211.29 L118.84 211.68 L117.07 212.04 L115.28 212.39 L113.49 212.73 L111.72 213.08 L109.98 213.48 L108.40 214.00Z" fill="#cc0c0c" filter="url(#bl2)"/>
<path d="M108.40 213.89 L108.49 212.19 L109.15 210.88 L109.91 209.65 L110.73 208.46 L111.58 207.31 L112.47 206.19 L113.38 205.09 L114.31 204.01 L115.26 202.94 L116.23 201.89 L117.21 200.85 L118.21 199.82 L119.22 198.81 L120.24 197.80 L121.27 196.81 L122.32 195.82 L123.38 194.85 L124.45 193.88 L125.52 192.92 L126.61 191.98 L127.71 191.04 L128.83 190.11 L129.95 189.19 L131.08 188.28 L132.22 187.38 L133.38 186.49 L134.55 185.61 L135.73 184.74 L136.92 183.88 L138.13 183.04 L139.35 182.21 L140.59 181.39 L141.85 180.59 L143.13 179.80 L144.43 179.04 L145.77 178.30 L147.14 177.60 L148.57 176.95 L150.10 176.38 L152.08 176.30 L152.20 176.41 L152.11 178.11 L151.45 179.42 L150.69 180.65 L149.87 181.84 L149.02 182.99 L148.13 184.11 L147.22 185.21 L146.29 186.29 L145.34 187.36 L144.37 188.41 L143.39 189.45 L142.39 190.48 L141.38 191.49 L140.36 192.50 L139.33 193.49 L138.28 194.48 L137.22 195.45 L136.15 196.42 L135.08 197.38 L133.99 198.32 L132.89 199.26 L131.77 200.19 L130.65 201.11 L129.52 202.02 L128.38 202.92 L127.22 203.81 L126.05 204.69 L124.87 205.56 L123.68 206.42 L122.47 207.26 L121.25 208.09 L120.01 208.91 L118.75 209.71 L117.47 210.50 L116.17 211.26 L114.83 212.00 L113.46 212.70 L112.03 213.35 L110.50 213.92 L108.52 214.00Z" fill="#bcd6ef" stroke="#111" stroke-width="0.5" stroke-opacity="0.5"/>
<path d="M108.40 213.89 L108.98 212.62 L109.93 211.54 L110.91 210.50 L111.91 209.48 L112.93 208.48 L113.96 207.48 L115.00 206.49 L116.05 205.50 L117.10 204.52 L118.15 203.54 L119.21 202.57 L120.28 201.61 L121.35 200.64 L122.42 199.68 L123.50 198.72 L124.58 197.77 L125.67 196.82 L126.75 195.87 L127.84 194.92 L128.94 193.98 L130.03 193.04 L131.13 192.10 L132.24 191.16 L133.34 190.23 L134.45 189.30 L135.56 188.37 L136.68 187.45 L137.80 186.53 L138.92 185.61 L140.05 184.69 L141.19 183.79 L142.33 182.88 L143.47 181.98 L144.62 181.09 L145.78 180.20 L146.95 179.32 L148.14 178.46 L149.35 177.61 L150.59 176.80 L152.08 176.30 L152.20 176.41 L151.62 177.68 L150.67 178.76 L149.69 179.80 L148.69 180.82 L147.67 181.82 L146.64 182.82 L145.60 183.81 L144.55 184.80 L143.50 185.78 L142.45 186.76 L141.39 187.73 L140.32 188.69 L139.25 189.66 L138.18 190.62 L137.10 191.58 L136.02 192.53 L134.93 193.48 L133.85 194.43 L132.76 195.38 L131.66 196.32 L130.57 197.26 L129.47 198.20 L128.36 199.14 L127.26 200.07 L126.15 201.00 L125.04 201.93 L123.92 202.85 L122.80 203.77 L121.68 204.69 L120.55 205.61 L119.41 206.51 L118.27 207.42 L117.13 208.32 L115.98 209.21 L114.82 210.10 L113.65 210.98 L112.46 211.84 L111.25 212.69 L110.01 213.50 L108.52 214.00Z" fill="#9ccaf2" opacity="0.8" filter="url(#bl2)"/>
<circle cx="108.4" cy="214.0" r="2.6" fill="#1f4f9a" filter="url(#bl2)"/>
<circle cx="152.2" cy="176.3" r="2.6" fill="#2f62b0" filter="url(#bl2)"/>
<line x1="108.40" y1="214.00" x2="152.20" y2="176.30" stroke="#8b1e22" stroke-width="0.9" />
</g>
<rect x="107.9" y="175.8" width="44.79999999999998" height="38.69999999999999" fill="none" stroke="#111" stroke-width="1.2"/>
<text x="101.90" y="215.50" font-size="4.4" fill="#444" text-anchor="end" stroke="#444" stroke-width="0.05" >0.0</text>
<text x="108.40" y="225.10" font-size="4.4" fill="#444" text-anchor="middle" stroke="#444" stroke-width="0.05" >0.0</text>
<text x="101.90" y="207.96" font-size="4.4" fill="#444" text-anchor="end" stroke="#444" stroke-width="0.05" >0.2</text>
<text x="117.16" y="225.10" font-size="4.4" fill="#444" text-anchor="middle" stroke="#444" stroke-width="0.05" >0.2</text>
<text x="101.90" y="200.42" font-size="4.4" fill="#444" text-anchor="end" stroke="#444" stroke-width="0.05" >0.4</text>
<text x="125.92" y="225.10" font-size="4.4" fill="#444" text-anchor="middle" stroke="#444" stroke-width="0.05" >0.4</text>
<text x="101.90" y="192.88" font-size="4.4" fill="#444" text-anchor="end" stroke="#444" stroke-width="0.05" >0.6</text>
<text x="134.68" y="225.10" font-size="4.4" fill="#444" text-anchor="middle" stroke="#444" stroke-width="0.05" >0.6</text>
<text x="101.90" y="185.34" font-size="4.4" fill="#444" text-anchor="end" stroke="#444" stroke-width="0.05" >0.8</text>
<text x="143.44" y="225.10" font-size="4.4" fill="#444" text-anchor="middle" stroke="#444" stroke-width="0.05" >0.8</text>
<text x="101.90" y="177.80" font-size="4.4" fill="#444" text-anchor="end" stroke="#444" stroke-width="0.05" >1.0</text>
<text x="152.20" y="225.10" font-size="4.4" fill="#444" text-anchor="middle" stroke="#444" stroke-width="0.05" >1.0</text>
<path d="M105.6 214.00H107.9M108.40 214.5V216.6M105.6 206.46H107.9M117.16 214.5V216.6M105.6 198.92H107.9M125.92 214.5V216.6M105.6 191.38H107.9M134.68 214.5V216.6M105.6 183.84H107.9M143.44 214.5V216.6M105.6 176.30H107.9M152.20 214.5V216.6" stroke="#111" stroke-width="0.8"/>
<clipPath id="c2t"><rect x="176.7" y="175.8" width="44.60000000000002" height="38.69999999999999"/></clipPath>
<g clip-path="url(#c2t)">
<path d="M177.20 214.00 L177.80 212.63 L178.17 211.07 L178.45 209.42 L178.69 207.75 L178.91 206.06 L179.14 204.37 L179.39 202.70 L179.68 201.06 L180.00 199.45 L180.36 197.89 L180.79 196.37 L181.27 194.90 L181.81 193.48 L182.42 192.12 L183.09 190.82 L183.84 189.59 L184.67 188.41 L185.57 187.30 L186.54 186.26 L187.59 185.29 L188.72 184.38 L189.93 183.53 L191.21 182.76 L192.56 182.05 L193.99 181.40 L195.50 180.81 L197.07 180.28 L198.71 179.82 L200.41 179.40 L202.16 179.04 L203.98 178.72 L205.84 178.44 L207.73 178.20 L209.66 177.98 L211.61 177.78 L213.57 177.59 L215.51 177.38 L217.41 177.14 L219.22 176.82 L220.80 176.30 L220.80 176.30 L220.20 177.67 L219.83 179.23 L219.55 180.88 L219.31 182.55 L219.09 184.24 L218.86 185.93 L218.61 187.60 L218.32 189.24 L218.00 190.85 L217.64 192.41 L217.21 193.93 L216.73 195.40 L216.19 196.82 L215.58 198.18 L214.91 199.48 L214.16 200.71 L213.33 201.89 L212.43 203.00 L211.46 204.04 L210.41 205.01 L209.28 205.92 L208.07 206.77 L206.79 207.54 L205.44 208.25 L204.01 208.90 L202.50 209.49 L200.93 210.02 L199.29 210.48 L197.59 210.90 L195.84 211.26 L194.02 211.58 L192.16 211.86 L190.27 212.10 L188.34 212.32 L186.39 212.52 L184.43 212.71 L182.49 212.92 L180.59 213.16 L178.78 213.48 L177.20 214.00Z" fill="#c23a2c" opacity="0.5" filter="url(#bl1)"/>
<path d="M188.7 212.1h.8M217.8 185.9h.8M199.2 208.6h.8M203.0 180.6h.8M197.6 180.4h.8M180.2 206.3h.8M217.7 188.6h.8M184.4 192.6h.8M217.3 177.8h.8M216.1 196.0h.8M217.2 192.2h.8M219.3 179.8h.8M184.5 192.0h.8M196.2 182.7h.8M218.5 187.9h.8M217.7 187.4h.8M182.0 198.5h.8M204.0 178.7h.8M185.7 192.7h.8M193.3 180.8h.8M180.6 197.0h.8M210.9 179.1h.8M181.1 201.3h.8M181.1 195.8h.8M193.8 181.2h.8M181.3 202.1h.8M204.4 179.5h.8M186.2 187.8h.8M178.7 211.0h.8M219.3 179.6h.8M209.9 178.9h.8M216.7 189.0h.8M179.9 207.6h.8M190.8 212.8h.8M219.1 184.8h.8M214.3 198.4h.8M213.8 196.3h.8M205.6 207.4h.8M215.7 196.6h.8M207.7 180.0h.8M181.7 212.7h.8M182.8 195.0h.8M211.0 201.3h.8M202.7 210.7h.8M178.1 212.8h.8M211.6 179.3h.8M217.2 192.2h.8M185.2 189.8h.8M206.8 205.0h.8M180.0 207.0h.8M189.5 185.0h.8M217.9 177.4h.8M190.6 212.5h.8M191.9 212.2h.8M215.2 178.5h.8M189.8 211.4h.8M213.0 178.6h.8M201.3 208.0h.8M198.9 179.9h.8M187.0 188.2h.8M208.5 206.9h.8M182.7 193.7h.8M179.0 210.5h.8M179.0 211.4h.8M215.0 178.0h.8M183.2 194.9h.8M188.5 212.2h.8M185.6 192.4h.8M178.1 211.8h.8M199.1 179.8h.8M191.6 211.2h.8M201.6 181.1h.8M202.4 208.7h.8M198.0 211.5h.8M215.5 202.6h.8M179.1 201.7h.8M206.3 180.3h.8M208.7 208.1h.8M194.1 212.3h.8M190.7 187.7h.8M198.5 209.8h.8M191.3 182.1h.8M180.6 197.6h.8M182.1 200.2h.8M185.1 189.7h.8M192.3 185.1h.8M197.8 182.2h.8M185.2 192.3h.8M183.0 196.1h.8M178.6 211.3h.8M211.0 179.0h.8M191.4 187.2h.8M204.1 179.7h.8M203.0 210.0h.8M218.2 191.4h.8M199.7 180.2h.8M211.2 203.7h.8M205.7 178.7h.8M217.0 193.3h.8M213.3 179.0h.8M182.0 189.7h.8M210.4 201.0h.8M186.8 185.8h.8M211.6 179.3h.8M217.7 195.2h.8M196.5 209.3h.8M215.1 193.0h.8M191.5 187.1h.8M200.1 208.0h.8M215.0 178.6h.8M181.2 196.2h.8M183.5 193.9h.8M207.1 207.1h.8M219.2 182.5h.8M181.7 199.9h.8M195.0 181.9h.8M218.7 177.8h.8M184.8 212.2h.8M208.8 179.8h.8M196.5 211.7h.8M195.9 209.6h.8M217.0 177.7h.8M217.5 194.0h.8M197.6 210.5h.8M182.3 193.6h.8M217.4 178.1h.8M219.5 180.6h.8M218.6 188.3h.8M210.3 200.6h.8M207.0 178.6h.8M178.9 209.3h.8M211.1 178.1h.8M215.8 197.6h.8M183.3 191.4h.8M218.8 184.3h.8M188.3 189.0h.8M197.4 181.4h.8M178.3 212.8h.8M181.7 200.0h.8M217.3 197.5h.8M180.7 213.7h.8M200.3 180.3h.8M200.1 207.9h.8M182.6 213.0h.8M215.4 197.8h.8M219.4 180.6h.8M205.9 204.4h.8M215.9 200.3h.8M201.3 207.2h.8M216.2 201.6h.8M218.5 187.4h.8M184.9 186.0h.8M178.5 212.4h.8M218.7 177.7h.8M199.5 182.4h.8M203.2 206.6h.8M184.1 188.1h.8M219.3 179.2h.8M182.1 200.3h.8M212.2 178.9h.8M209.4 202.9h.8M179.3 209.3h.8M218.2 189.8h.8M214.8 202.5h.8M182.3 212.6h.8M218.9 188.7h.8M190.0 212.0h.8M211.8 199.2h.8M208.9 203.4h.8M202.5 206.7h.8M182.4 198.2h.8M212.5 199.7h.8M219.2 184.3h.8M218.5 182.5h.8M179.3 207.6h.8M178.9 206.6h.8M199.7 180.8h.8M216.3 189.8h.8M206.5 179.5h.8M178.4 211.2h.8M212.8 205.7h.8M187.2 212.6h.8M202.2 210.4h.8M185.2 189.8h.8M180.6 194.7h.8M203.6 180.3h.8M179.5 214.0h.8M217.8 177.7h.8M189.5 211.2h.8M192.0 180.9h.8M181.9 199.6h.8M178.6 211.3h.8M181.8 190.0h.8M207.0 179.3h.8M181.0 213.3h.8M178.8 210.0h.8M216.8 197.7h.8M194.8 210.1h.8M219.2 183.5h.8M182.1 212.8h.8M179.3 209.2h.8M211.1 179.0h.8M184.8 193.5h.8M193.2 182.3h.8M191.7 186.8h.8M217.0 189.2h.8M195.4 210.6h.8M179.2 213.6h.8M217.7 196.5h.8M181.7 200.2h.8M181.8 196.2h.8M198.7 181.5h.8M187.9 212.8h.8M218.2 185.1h.8M191.2 212.2h.8M181.8 201.3h.8M184.9 212.9h.8M206.9 204.1h.8M187.8 211.6h.8M215.7 199.8h.8M180.2 205.0h.8M207.3 203.4h.8M196.3 180.4h.8M219.0 183.7h.8M206.2 180.1h.8M178.8 209.5h.8M218.4 177.9h.8M219.0 186.9h.8M210.4 178.3h.8M212.0 198.5h.8M216.0 178.2h.8M193.3 185.7h.8M184.2 212.5h.8M199.9 179.4h.8M205.2 205.1h.8M192.0 184.6h.8M188.6 189.5h.8M179.4 208.4h.8M218.0 188.7h.8M192.3 185.9h.8M218.0 187.9h.8M196.4 183.9h.8M208.2 208.4h.8M193.7 184.5h.8M211.3 202.0h.8M181.4 201.1h.8M181.1 213.5h.8M188.8 211.3h.8M196.2 211.1h.8M215.9 192.7h.8M181.1 195.0h.8M218.5 186.2h.8M204.1 210.9h.8M181.0 197.2h.8M186.2 211.9h.8M194.6 210.0h.8M179.5 204.0h.8M205.0 210.4h.8M218.9 189.0h.8M219.0 182.0h.8M200.2 209.1h.8M196.4 211.2h.8M200.9 181.5h.8M202.9 208.3h.8M211.4 202.9h.8M212.4 203.4h.8M191.9 185.7h.8M208.9 208.4h.8M199.1 210.3h.8M206.1 205.0h.8M179.6 208.2h.8M181.4 201.3h.8M209.0 202.6h.8M192.5 182.9h.8M194.6 183.8h.8M214.4 195.5h.8M215.1 203.4h.8M189.2 183.6h.8M203.1 208.2h.8M215.1 193.9h.8M219.6 179.2h.8M194.7 183.3h.8M180.1 213.4h.8M192.6 181.8h.8M216.8 193.8h.8M212.2 203.5h.8M185.2 212.7h.8M183.3 187.1h.8M180.2 202.9h.8M179.3 202.3h.8M214.9 194.2h.8M219.5 178.1h.8M179.8 214.0h.8M185.8 187.8h.8M180.5 203.3h.8M217.7 185.5h.8M208.6 205.8h.8M212.3 200.0h.8M212.1 199.9h.8M217.6 185.6h.8M188.9 187.7h.8M181.3 199.2h.8M212.2 199.7h.8M209.9 206.9h.8M196.9 212.3h.8M200.4 208.5h.8M185.2 188.1h.8M217.7 186.2h.8M206.3 206.3h.8M210.7 204.0h.8M215.7 178.1h.8M218.7 178.0h.8M207.0 179.9h.8M191.1 211.7h.8M178.7 212.1h.8M179.1 210.0h.8M219.5 180.1h.8M214.9 202.9h.8M181.6 198.9h.8M179.0 205.9h.8M192.8 211.4h.8M181.5 196.5h.8M194.7 210.2h.8M214.4 195.6h.8M213.9 202.3h.8M180.8 191.7h.8M190.3 187.3h.8M197.0 183.5h.8M179.3 208.0h.8M180.7 196.5h.8M189.4 212.3h.8M213.5 199.4h.8M217.1 196.8h.8M180.4 197.3h.8M179.8 205.3h.8M210.9 201.5h.8M208.2 208.2h.8M185.3 187.0h.8M203.4 206.5h.8M213.6 178.3h.8M190.2 186.2h.8M204.5 181.0h.8M208.5 202.9h.8M181.8 198.1h.8M212.7 200.5h.8M207.6 208.3h.8M179.6 206.7h.8M180.5 193.8h.8M215.4 192.8h.8M180.0 206.2h.8M181.0 213.6h.8M201.5 207.1h.8M213.3 196.4h.8M183.2 212.5h.8M216.2 191.5h.8M217.6 190.4h.8M181.2 202.5h.8M189.0 185.2h.8M214.4 199.2h.8M207.2 208.9h.8M219.1 186.0h.8M217.5 192.3h.8M194.9 209.9h.8M196.4 211.1h.8M193.8 183.5h.8M200.3 210.6h.8M183.4 194.9h.8M207.0 207.5h.8M217.9 192.9h.8M217.3 177.9h.8M213.8 197.6h.8M206.1 207.5h.8M185.5 193.5h.8M185.1 185.2h.8M219.2 184.4h.8M196.7 209.2h.8M183.3 212.6h.8M216.5 198.3h.8M180.3 202.2h.8M203.8 208.3h.8M181.5 195.4h.8M195.4 209.7h.8M191.4 182.8h.8M219.1 182.0h.8M210.8 179.3h.8M212.0 203.1h.8M213.8 195.6h.8M206.8 204.6h.8M215.6 200.8h.8M181.6 197.8h.8M183.2 192.4h.8M182.5 198.8h.8M188.3 184.5h.8M218.7 184.0h.8M180.5 194.7h.8M217.5 187.1h.8M214.2 195.7h.8M180.3 203.8h.8M183.7 194.0h.8M203.3 206.4h.8M182.7 191.8h.8M219.9 180.0h.8M218.8 188.5h.8M184.9 189.5h.8M202.3 208.0h.8M178.0 212.3h.8M206.0 207.0h.8M212.7 198.0h.8M180.8 198.6h.8M216.3 178.2h.8M180.6 193.1h.8M195.7 211.0h.8M215.5 178.6h.8M216.1 194.5h.8M198.6 182.8h.8M180.7 202.6h.8M183.2 197.0h.8M188.2 184.5h.8M179.2 207.2h.8M179.9 204.6h.8M217.2 191.1h.8M201.9 207.0h.8M183.0 189.5h.8M185.8 188.9h.8M184.3 213.0h.8M219.9 178.2h.8M193.3 183.4h.8M214.0 198.5h.8M179.0 210.7h.8M202.8 180.2h.8M203.9 179.8h.8M186.4 192.3h.8M181.6 213.3h.8M213.6 205.0h.8M198.9 182.6h.8M213.0 199.8h.8M182.7 192.5h.8M208.7 204.7h.8M182.3 212.7h.8M190.4 211.8h.8M214.5 201.2h.8M217.1 178.0h.8M203.4 181.3h.8M197.7 210.6h.8M218.1 186.5h.8M184.4 212.7h.8M213.5 199.9h.8M186.6 191.1h.8M204.8 179.7h.8M215.1 201.4h.8M179.3 201.1h.8M189.0 186.3h.8M182.6 197.9h.8M181.6 213.1h.8M179.8 196.6h.8M209.9 208.1h.8M209.3 206.9h.8M198.4 208.6h.8M201.4 180.1h.8M215.6 192.6h.8M193.6 182.3h.8M182.8 191.1h.8M181.3 212.9h.8M195.8 183.5h.8M218.6 188.6h.8M180.0 199.9h.8M190.5 211.4h.8M180.9 212.9h.8M203.3 180.7h.8M219.0 187.7h.8M210.3 200.7h.8M216.0 199.7h.8M186.0 184.1h.8M207.8 207.0h.8M190.2 181.7h.8M211.5 178.3h.8M180.9 213.3h.8M219.2 180.4h.8M215.9 191.8h.8M187.4 189.9h.8M204.0 209.6h.8M199.1 208.3h.8M217.8 193.8h.8M179.3 209.5h.8M181.0 194.4h.8M178.4 212.1h.8M180.9 213.3h.8M209.4 201.6h.8M190.3 186.4h.8M180.1 203.6h.8M191.5 183.0h.8M212.3 199.4h.8M193.3 211.6h.8M217.4 190.3h.8M217.9 177.4h.8M181.3 196.8h.8M190.4 211.0h.8M206.3 209.9h.8M190.6 186.0h.8M182.1 212.6h.8M197.7 208.8h.8M183.0 190.2h.8M217.4 178.2h.8M212.8 197.1h.8M182.5 192.7h.8M183.8 212.3h.8M219.3 181.8h.8M185.4 212.8h.8M217.5 191.5h.8M180.9 203.2h.8M205.6 206.0h.8M178.7 210.0h.8M178.9 206.3h.8M192.5 183.2h.8M200.9 207.8h.8M203.9 208.8h.8M179.3 208.6h.8M214.5 178.3h.8M205.9 204.4h.8M183.3 212.4h.8" stroke="#b02818" stroke-width=".8" opacity="0.7"/>
<path d="M177.20 214.00 L177.80 212.64 L178.26 211.15 L178.67 209.62 L179.07 208.07 L179.47 206.54 L179.89 205.01 L180.33 203.51 L180.80 202.03 L181.31 200.59 L181.86 199.18 L182.45 197.81 L183.09 196.47 L183.78 195.18 L184.51 193.93 L185.30 192.73 L186.14 191.57 L187.04 190.46 L187.99 189.40 L189.00 188.39 L190.06 187.42 L191.18 186.50 L192.35 185.63 L193.58 184.81 L194.86 184.03 L196.20 183.31 L197.59 182.62 L199.04 181.99 L200.53 181.39 L202.07 180.84 L203.66 180.33 L205.29 179.85 L206.96 179.41 L208.67 179.01 L210.41 178.62 L212.17 178.26 L213.95 177.91 L215.73 177.57 L217.50 177.22 L219.22 176.82 L220.80 176.30 L220.80 176.30 L220.20 177.66 L219.74 179.15 L219.33 180.68 L218.93 182.23 L218.53 183.76 L218.11 185.29 L217.67 186.79 L217.20 188.27 L216.69 189.71 L216.14 191.12 L215.55 192.49 L214.91 193.83 L214.22 195.12 L213.49 196.37 L212.70 197.57 L211.86 198.73 L210.96 199.84 L210.01 200.90 L209.00 201.91 L207.94 202.88 L206.82 203.80 L205.65 204.67 L204.42 205.49 L203.14 206.27 L201.80 206.99 L200.41 207.68 L198.96 208.31 L197.47 208.91 L195.93 209.46 L194.34 209.97 L192.71 210.45 L191.04 210.89 L189.33 211.29 L187.59 211.68 L185.83 212.04 L184.05 212.39 L182.27 212.73 L180.50 213.08 L178.78 213.48 L177.20 214.00Z" fill="#cc0c0c" filter="url(#bl2)"/>
<path d="M177.20 213.89 L177.29 212.19 L177.95 210.88 L178.70 209.65 L179.52 208.46 L180.37 207.31 L181.25 206.19 L182.16 205.09 L183.08 204.01 L184.03 202.94 L184.99 201.89 L185.97 200.85 L186.96 199.82 L187.97 198.81 L188.99 197.80 L190.02 196.81 L191.06 195.82 L192.11 194.85 L193.17 193.88 L194.25 192.92 L195.33 191.98 L196.43 191.04 L197.53 190.11 L198.65 189.19 L199.78 188.28 L200.92 187.38 L202.07 186.49 L203.23 185.61 L204.40 184.74 L205.59 183.88 L206.79 183.04 L208.01 182.21 L209.24 181.39 L210.50 180.59 L211.77 179.80 L213.07 179.04 L214.40 178.30 L215.76 177.60 L217.19 176.95 L218.71 176.38 L220.68 176.30 L220.80 176.41 L220.71 178.11 L220.05 179.42 L219.30 180.65 L218.48 181.84 L217.63 182.99 L216.75 184.11 L215.84 185.21 L214.92 186.29 L213.97 187.36 L213.01 188.41 L212.03 189.45 L211.04 190.48 L210.03 191.49 L209.01 192.50 L207.98 193.49 L206.94 194.48 L205.89 195.45 L204.83 196.42 L203.75 197.38 L202.67 198.32 L201.57 199.26 L200.47 200.19 L199.35 201.11 L198.22 202.02 L197.08 202.92 L195.93 203.81 L194.77 204.69 L193.60 205.56 L192.41 206.42 L191.21 207.26 L189.99 208.09 L188.76 208.91 L187.50 209.71 L186.23 210.50 L184.93 211.26 L183.60 212.00 L182.24 212.70 L180.81 213.35 L179.29 213.92 L177.32 214.00Z" fill="#bcd6ef" stroke="#111" stroke-width="0.5" stroke-opacity="0.5"/>
<path d="M177.20 213.89 L177.78 212.62 L178.72 211.54 L179.70 210.50 L180.70 209.48 L181.71 208.48 L182.74 207.48 L183.77 206.49 L184.81 205.50 L185.86 204.52 L186.91 203.54 L187.97 202.57 L189.03 201.61 L190.09 200.64 L191.16 199.68 L192.23 198.72 L193.31 197.77 L194.39 196.82 L195.47 195.87 L196.56 194.92 L197.64 193.98 L198.74 193.04 L199.83 192.10 L200.93 191.16 L202.03 190.23 L203.13 189.30 L204.24 188.37 L205.35 187.45 L206.47 186.53 L207.59 185.61 L208.71 184.69 L209.84 183.79 L210.97 182.88 L212.11 181.98 L213.26 181.09 L214.41 180.20 L215.58 179.32 L216.76 178.46 L217.96 177.61 L219.20 176.80 L220.68 176.30 L220.80 176.41 L220.22 177.68 L219.28 178.76 L218.30 179.80 L217.30 180.82 L216.29 181.82 L215.26 182.82 L214.23 183.81 L213.19 184.80 L212.14 185.78 L211.09 186.76 L210.03 187.73 L208.97 188.69 L207.91 189.66 L206.84 190.62 L205.77 191.58 L204.69 192.53 L203.61 193.48 L202.53 194.43 L201.44 195.38 L200.36 196.32 L199.26 197.26 L198.17 198.20 L197.07 199.14 L195.97 200.07 L194.87 201.00 L193.76 201.93 L192.65 202.85 L191.53 203.77 L190.41 204.69 L189.29 205.61 L188.16 206.51 L187.03 207.42 L185.89 208.32 L184.74 209.21 L183.59 210.10 L182.42 210.98 L181.24 211.84 L180.04 212.69 L178.80 213.50 L177.32 214.00Z" fill="#9ccaf2" opacity="0.8" filter="url(#bl2)"/>
<circle cx="177.2" cy="214.0" r="2.6" fill="#1f4f9a" filter="url(#bl2)"/>
<circle cx="220.8" cy="176.3" r="2.6" fill="#2f62b0" filter="url(#bl2)"/>
<line x1="177.20" y1="214.00" x2="220.80" y2="176.30" stroke="#8b1e22" stroke-width="0.9" />
</g>
<rect x="176.7" y="175.8" width="44.60000000000002" height="38.69999999999999" fill="none" stroke="#111" stroke-width="1.2"/>
<text x="170.70" y="215.50" font-size="4.4" fill="#444" text-anchor="end" stroke="#444" stroke-width="0.05" >0.0</text>
<text x="177.20" y="225.10" font-size="4.4" fill="#444" text-anchor="middle" stroke="#444" stroke-width="0.05" >0.0</text>
<text x="170.70" y="207.96" font-size="4.4" fill="#444" text-anchor="end" stroke="#444" stroke-width="0.05" >0.2</text>
<text x="185.92" y="225.10" font-size="4.4" fill="#444" text-anchor="middle" stroke="#444" stroke-width="0.05" >0.2</text>
<text x="170.70" y="200.42" font-size="4.4" fill="#444" text-anchor="end" stroke="#444" stroke-width="0.05" >0.4</text>
<text x="194.64" y="225.10" font-size="4.4" fill="#444" text-anchor="middle" stroke="#444" stroke-width="0.05" >0.4</text>
<text x="170.70" y="192.88" font-size="4.4" fill="#444" text-anchor="end" stroke="#444" stroke-width="0.05" >0.6</text>
<text x="203.36" y="225.10" font-size="4.4" fill="#444" text-anchor="middle" stroke="#444" stroke-width="0.05" >0.6</text>
<text x="170.70" y="185.34" font-size="4.4" fill="#444" text-anchor="end" stroke="#444" stroke-width="0.05" >0.8</text>
<text x="212.08" y="225.10" font-size="4.4" fill="#444" text-anchor="middle" stroke="#444" stroke-width="0.05" >0.8</text>
<text x="170.70" y="177.80" font-size="4.4" fill="#444" text-anchor="end" stroke="#444" stroke-width="0.05" >1.0</text>
<text x="220.80" y="225.10" font-size="4.4" fill="#444" text-anchor="middle" stroke="#444" stroke-width="0.05" >1.0</text>
<path d="M174.4 214.00H176.7M177.20 214.5V216.6M174.4 206.46H176.7M185.92 214.5V216.6M174.4 198.92H176.7M194.64 214.5V216.6M174.4 191.38H176.7M203.36 214.5V216.6M174.4 183.84H176.7M212.08 214.5V216.6M174.4 176.30H176.7M220.80 214.5V216.6" stroke="#111" stroke-width="0.8"/>
<clipPath id="c3t"><rect x="243.9" y="175.8" width="45.29999999999998" height="38.69999999999999"/></clipPath>
<g clip-path="url(#c3t)">
<path d="M244.40 214.00 L245.01 212.63 L245.38 211.07 L245.67 209.42 L245.91 207.75 L246.14 206.06 L246.38 204.37 L246.63 202.70 L246.92 201.06 L247.24 199.45 L247.62 197.89 L248.04 196.37 L248.53 194.90 L249.08 193.48 L249.70 192.12 L250.39 190.82 L251.15 189.59 L251.99 188.41 L252.90 187.30 L253.89 186.26 L254.96 185.29 L256.11 184.38 L257.33 183.53 L258.63 182.76 L260.01 182.05 L261.46 181.40 L262.99 180.81 L264.59 180.28 L266.25 179.82 L267.98 179.40 L269.77 179.04 L271.61 178.72 L273.50 178.44 L275.42 178.20 L277.39 177.98 L279.37 177.78 L281.35 177.59 L283.32 177.38 L285.25 177.14 L287.09 176.82 L288.70 176.30 L288.70 176.30 L288.09 177.67 L287.72 179.23 L287.43 180.88 L287.19 182.55 L286.96 184.24 L286.72 185.93 L286.47 187.60 L286.18 189.24 L285.86 190.85 L285.48 192.41 L285.06 193.93 L284.57 195.40 L284.02 196.82 L283.40 198.18 L282.71 199.48 L281.95 200.71 L281.11 201.89 L280.20 203.00 L279.21 204.04 L278.14 205.01 L276.99 205.92 L275.77 206.77 L274.47 207.54 L273.09 208.25 L271.64 208.90 L270.11 209.49 L268.51 210.02 L266.85 210.48 L265.12 210.90 L263.33 211.26 L261.49 211.58 L259.60 211.86 L257.68 212.10 L255.71 212.32 L253.73 212.52 L251.75 212.71 L249.78 212.92 L247.85 213.16 L246.01 213.48 L244.40 214.00Z" fill="#c23a2c" opacity="0.5" filter="url(#bl1)"/>
<path d="M277.5 202.1h.8M249.0 194.0h.8M275.9 179.3h.8M249.0 195.4h.8M281.2 178.8h.8M251.0 212.6h.8M258.6 211.0h.8M264.1 183.5h.8M261.9 184.2h.8M284.9 197.4h.8M277.2 179.5h.8M281.4 201.1h.8M259.4 185.7h.8M251.5 212.2h.8M252.5 212.9h.8M257.4 212.8h.8M245.5 212.7h.8M251.2 196.0h.8M245.7 212.0h.8M263.8 212.2h.8M254.2 185.1h.8M268.7 179.5h.8M269.3 180.9h.8M271.9 205.9h.8M263.7 210.7h.8M282.9 202.5h.8M284.3 197.0h.8M286.7 183.0h.8M279.3 202.9h.8M265.8 209.1h.8M268.4 210.5h.8M246.0 213.4h.8M251.2 189.9h.8M254.2 212.5h.8M252.6 212.6h.8M281.3 200.1h.8M285.9 177.3h.8M285.8 189.7h.8M287.2 177.8h.8M263.4 211.9h.8M262.0 211.1h.8M284.2 194.8h.8M286.3 182.3h.8M266.7 210.5h.8M265.8 209.5h.8M270.9 178.6h.8M282.8 200.4h.8M268.6 181.3h.8M257.9 211.3h.8M251.4 195.2h.8M264.1 180.3h.8M253.8 183.7h.8M255.7 183.9h.8M286.5 186.1h.8M269.4 209.1h.8M249.9 212.5h.8M284.1 178.4h.8M277.0 207.3h.8M265.4 183.2h.8M258.7 182.8h.8M246.8 207.8h.8M251.6 194.6h.8M284.3 200.4h.8M286.2 182.6h.8M272.3 210.0h.8M283.4 201.8h.8M247.2 204.8h.8M278.3 201.3h.8M268.5 207.4h.8M254.6 211.9h.8M250.2 213.0h.8M246.7 205.8h.8M258.9 186.9h.8M275.2 206.5h.8M282.2 178.6h.8M247.4 199.8h.8M248.8 200.9h.8M285.6 187.9h.8M254.3 187.2h.8M251.4 189.1h.8M255.2 189.1h.8M268.0 208.2h.8M246.2 210.8h.8M259.7 212.3h.8M279.6 179.2h.8M267.7 209.7h.8M274.5 178.6h.8M245.9 211.5h.8M245.6 212.7h.8M278.5 179.3h.8M246.7 201.7h.8M254.8 189.8h.8M287.9 178.7h.8M272.4 210.8h.8M263.6 183.4h.8M278.9 202.9h.8M286.5 177.2h.8M285.8 177.6h.8M262.1 212.5h.8M268.3 180.0h.8M286.6 181.7h.8M278.7 203.1h.8M281.0 178.2h.8M277.1 179.6h.8M251.6 195.5h.8M246.8 214.0h.8M256.8 188.7h.8M271.6 180.5h.8M252.7 189.0h.8M271.6 208.5h.8M249.9 187.9h.8M283.3 192.1h.8M277.6 201.8h.8M285.7 184.7h.8M286.9 180.4h.8M267.3 180.6h.8M269.0 210.8h.8M286.6 181.0h.8M267.6 181.9h.8M286.7 184.8h.8M268.5 209.1h.8M252.9 212.7h.8M278.1 208.0h.8M279.3 179.2h.8M266.3 210.1h.8M288.1 179.0h.8M287.6 179.8h.8M246.7 207.7h.8M246.2 206.2h.8M262.1 209.9h.8M271.1 211.0h.8M254.7 190.4h.8M265.1 181.0h.8M277.1 204.0h.8M249.6 212.7h.8M250.6 195.1h.8M248.5 194.7h.8M257.2 183.7h.8M283.6 193.8h.8M253.0 212.2h.8M261.3 183.2h.8M255.6 183.5h.8M247.7 200.2h.8M252.8 212.0h.8M286.6 185.5h.8M277.6 178.4h.8M273.9 210.3h.8M262.2 181.9h.8M246.8 207.8h.8M282.5 199.8h.8M281.3 178.9h.8M252.9 212.3h.8M253.0 186.3h.8M249.5 191.4h.8M284.4 194.4h.8M247.9 213.1h.8M270.3 207.6h.8M259.1 182.8h.8M262.3 183.2h.8M265.4 209.3h.8M251.8 212.2h.8M287.9 179.0h.8M283.4 192.8h.8M245.6 211.9h.8M247.3 206.5h.8M256.1 188.4h.8M255.4 212.9h.8M281.4 178.9h.8M279.1 179.3h.8M284.5 200.3h.8M285.4 187.2h.8M287.1 182.1h.8M285.6 193.2h.8M274.1 207.4h.8M260.9 185.7h.8M277.6 178.6h.8M282.3 178.2h.8M264.9 179.8h.8M286.7 181.7h.8M245.7 212.4h.8M261.9 211.6h.8M261.4 180.5h.8M265.6 209.9h.8M286.1 195.3h.8M279.7 204.6h.8M279.0 204.7h.8M275.7 179.9h.8M265.5 179.9h.8M276.0 178.7h.8M257.4 212.2h.8M246.5 202.6h.8M274.2 178.4h.8M283.7 195.9h.8M254.1 189.0h.8M285.5 187.1h.8M245.5 210.6h.8M266.0 179.2h.8M260.5 183.9h.8M285.7 187.8h.8M246.2 211.2h.8M274.9 180.2h.8M270.9 207.9h.8M285.5 186.3h.8M271.4 209.8h.8M246.4 208.9h.8M275.7 206.2h.8M272.7 207.7h.8M266.2 182.4h.8M247.3 195.4h.8M286.9 186.0h.8M272.0 209.5h.8M286.9 180.8h.8M264.8 181.0h.8M279.5 201.7h.8M271.9 180.6h.8M247.1 196.3h.8M277.5 208.5h.8M277.1 179.0h.8M253.0 193.0h.8M275.0 206.2h.8M258.7 186.6h.8M265.0 181.5h.8M276.5 204.5h.8M261.9 185.0h.8M248.4 197.8h.8M286.2 193.8h.8M261.5 182.9h.8M269.1 181.4h.8M279.3 200.5h.8M255.3 182.7h.8M274.9 205.1h.8M282.6 198.7h.8M274.0 206.1h.8M278.3 201.7h.8M261.0 210.3h.8M286.9 183.8h.8M261.1 183.1h.8M257.6 211.7h.8M282.0 204.8h.8M257.3 184.6h.8M280.1 178.3h.8M279.9 178.5h.8M284.1 193.1h.8M278.1 205.0h.8M279.4 178.8h.8M266.6 180.3h.8M276.6 203.4h.8M247.9 203.2h.8M265.8 210.5h.8M282.7 199.3h.8M271.7 207.7h.8M261.4 212.0h.8M285.6 184.8h.8M261.0 210.4h.8M268.4 208.0h.8M278.9 203.4h.8M282.7 201.0h.8M265.3 179.9h.8M264.2 183.6h.8M253.1 187.5h.8M284.5 178.2h.8M252.0 185.4h.8M248.2 197.6h.8M268.1 208.0h.8M253.3 188.3h.8M286.5 181.6h.8M246.3 209.1h.8M286.9 180.9h.8M247.9 213.0h.8M253.0 193.2h.8M251.0 192.1h.8M249.8 195.2h.8M259.1 211.7h.8M258.0 183.1h.8M246.7 199.0h.8M250.0 195.4h.8M247.0 199.4h.8M257.4 184.4h.8M272.6 205.6h.8M285.4 195.3h.8M254.0 212.3h.8M249.3 189.8h.8M278.4 179.4h.8M264.7 180.0h.8M276.5 178.6h.8M266.8 180.9h.8M286.8 184.5h.8M247.5 198.1h.8M276.3 203.9h.8M251.5 191.0h.8M269.6 179.8h.8M248.5 201.5h.8M273.8 207.1h.8M286.0 177.9h.8M276.1 202.4h.8M248.6 213.1h.8M249.2 189.1h.8M245.9 212.2h.8M267.8 179.8h.8M279.2 179.2h.8M280.1 202.0h.8M269.1 211.2h.8M265.3 181.1h.8M256.3 182.4h.8M251.1 194.4h.8M270.5 179.6h.8M265.0 179.7h.8M247.5 213.4h.8M258.1 184.8h.8M282.0 203.9h.8M284.3 193.2h.8M270.7 180.0h.8M268.9 211.7h.8M246.4 208.8h.8M279.9 199.9h.8M253.4 185.6h.8M286.3 184.9h.8M276.6 208.8h.8M258.0 185.8h.8M249.2 197.1h.8M246.6 208.6h.8M281.2 196.4h.8M267.0 208.9h.8M248.6 195.0h.8M282.0 178.8h.8M278.5 178.6h.8M281.5 198.2h.8M265.4 210.5h.8M285.4 187.0h.8M256.9 182.6h.8M276.7 178.3h.8M275.3 209.7h.8M279.9 204.8h.8M255.8 185.1h.8M269.6 206.8h.8M286.1 189.2h.8M270.9 181.1h.8M286.3 182.4h.8M273.4 180.4h.8M267.7 180.1h.8M277.1 202.4h.8M259.3 186.8h.8M247.3 213.8h.8M282.5 193.6h.8M265.1 211.0h.8M260.1 185.9h.8M269.3 181.6h.8M282.5 178.5h.8M281.7 197.8h.8M272.2 209.9h.8M247.5 202.1h.8M246.3 205.0h.8M279.6 198.7h.8M285.5 177.6h.8M264.2 182.0h.8M260.6 210.5h.8M282.2 201.5h.8M252.0 190.2h.8M282.1 197.8h.8M249.9 196.1h.8M246.2 210.9h.8M273.2 206.6h.8M245.7 210.2h.8M275.3 179.6h.8M261.8 183.6h.8M255.6 212.4h.8M287.4 178.3h.8M250.6 193.1h.8M250.4 188.1h.8M250.9 187.6h.8M273.7 179.5h.8M267.0 180.3h.8M287.4 178.0h.8M266.8 180.1h.8M283.2 192.1h.8M285.9 186.1h.8M283.4 196.0h.8M275.0 203.8h.8M270.6 181.1h.8M284.9 187.4h.8M269.3 208.4h.8M260.2 184.9h.8M275.6 208.9h.8M284.6 195.5h.8M281.4 178.8h.8M285.0 186.9h.8M274.8 209.5h.8M249.3 200.3h.8M279.1 202.5h.8M250.2 212.7h.8M250.4 196.8h.8M282.5 178.0h.8M268.1 208.9h.8M287.0 184.0h.8M281.7 195.7h.8M246.9 202.4h.8M245.9 210.8h.8M285.9 184.5h.8M255.2 190.4h.8M268.5 210.8h.8M282.9 178.6h.8M252.2 192.3h.8M283.3 191.9h.8M247.4 205.2h.8M278.0 207.9h.8M250.6 186.9h.8M259.7 211.8h.8M284.0 194.5h.8M270.8 211.1h.8M285.3 190.2h.8M252.2 185.5h.8M286.8 180.8h.8M279.8 202.5h.8M285.3 186.8h.8M257.4 186.0h.8M287.1 184.0h.8M260.8 185.6h.8M251.7 195.0h.8M251.6 192.3h.8M256.2 212.8h.8M248.5 199.1h.8M275.2 203.9h.8M286.8 182.1h.8M285.5 189.4h.8M266.2 181.7h.8M276.8 207.7h.8M245.8 210.5h.8M258.1 187.0h.8M262.7 211.3h.8M278.9 178.8h.8M246.3 211.0h.8M248.0 202.7h.8M276.7 179.3h.8M284.2 190.4h.8M248.8 213.0h.8M278.9 201.3h.8M277.3 204.6h.8M285.3 196.5h.8M287.3 180.5h.8M273.6 180.3h.8M276.0 179.3h.8M270.2 181.3h.8M286.3 182.5h.8M247.9 196.2h.8M280.5 203.1h.8M247.5 200.1h.8M247.6 197.6h.8M271.7 206.0h.8M258.2 211.5h.8M253.8 188.5h.8M263.3 209.6h.8M247.9 204.2h.8M268.3 180.0h.8M266.9 209.0h.8M260.5 185.5h.8M280.7 198.7h.8M248.3 203.0h.8M276.9 179.0h.8M250.4 192.0h.8M284.8 187.6h.8M278.7 200.6h.8M277.5 201.6h.8M248.2 213.4h.8M264.3 183.8h.8M274.2 178.7h.8M281.8 178.2h.8M279.5 179.3h.8M248.7 201.0h.8M245.8 210.1h.8M282.5 196.2h.8M279.5 202.3h.8M258.9 184.6h.8M272.5 179.4h.8M287.5 178.8h.8M257.4 211.6h.8M266.0 212.2h.8M262.0 181.4h.8M269.8 179.0h.8M258.0 183.7h.8M248.9 212.7h.8M260.9 181.0h.8M247.6 203.0h.8M264.2 210.6h.8M247.2 207.0h.8M276.7 202.7h.8M282.2 204.3h.8M280.1 198.1h.8M249.8 197.5h.8M265.1 180.8h.8M263.9 212.4h.8M282.5 195.2h.8M267.4 180.8h.8M255.3 190.4h.8M272.5 180.7h.8M248.4 191.3h.8M252.6 189.6h.8M260.4 185.9h.8M247.9 192.3h.8M250.2 195.9h.8M257.2 211.5h.8M251.9 193.6h.8M272.5 180.3h.8M286.8 188.1h.8M251.2 213.0h.8M247.1 213.2h.8M274.8 204.3h.8M260.3 210.6h.8M285.9 177.5h.8M247.2 213.1h.8M286.8 180.2h.8M281.4 195.8h.8M267.2 209.3h.8M257.1 184.5h.8M280.2 198.5h.8M285.3 192.1h.8M287.7 179.8h.8M268.7 207.3h.8M250.1 212.5h.8M286.5 177.7h.8M245.9 212.1h.8" stroke="#b02818" stroke-width=".8" opacity="0.7"/>
<path d="M244.40 214.00 L245.01 212.64 L245.48 211.15 L245.89 209.62 L246.30 208.07 L246.71 206.54 L247.13 205.01 L247.58 203.51 L248.06 202.03 L248.58 200.59 L249.13 199.18 L249.74 197.81 L250.38 196.47 L251.08 195.18 L251.83 193.93 L252.63 192.73 L253.49 191.57 L254.40 190.46 L255.36 189.40 L256.39 188.39 L257.47 187.42 L258.60 186.50 L259.79 185.63 L261.04 184.81 L262.35 184.03 L263.71 183.31 L265.12 182.62 L266.59 181.99 L268.10 181.39 L269.67 180.84 L271.28 180.33 L272.94 179.85 L274.64 179.41 L276.37 179.01 L278.14 178.62 L279.93 178.26 L281.74 177.91 L283.55 177.57 L285.35 177.22 L287.10 176.82 L288.70 176.30 L288.70 176.30 L288.09 177.66 L287.62 179.15 L287.21 180.68 L286.80 182.23 L286.39 183.76 L285.97 185.29 L285.52 186.79 L285.04 188.27 L284.52 189.71 L283.97 191.12 L283.36 192.49 L282.72 193.83 L282.02 195.12 L281.27 196.37 L280.47 197.57 L279.61 198.73 L278.70 199.84 L277.74 200.90 L276.71 201.91 L275.63 202.88 L274.50 203.80 L273.31 204.67 L272.06 205.49 L270.75 206.27 L269.39 206.99 L267.98 207.68 L266.51 208.31 L265.00 208.91 L263.43 209.46 L261.82 209.97 L260.16 210.45 L258.46 210.89 L256.73 211.29 L254.96 211.68 L253.17 212.04 L251.36 212.39 L249.55 212.73 L247.75 213.08 L246.00 213.48 L244.40 214.00Z" fill="#cc0c0c" filter="url(#bl2)"/>
<path d="M244.40 213.89 L244.49 212.19 L245.16 210.88 L245.93 209.65 L246.75 208.46 L247.62 207.31 L248.51 206.19 L249.44 205.09 L250.38 204.01 L251.34 202.94 L252.32 201.89 L253.31 200.85 L254.32 199.82 L255.34 198.81 L256.38 197.80 L257.42 196.81 L258.48 195.82 L259.55 194.85 L260.63 193.88 L261.72 192.92 L262.82 191.98 L263.94 191.04 L265.06 190.11 L266.19 189.19 L267.34 188.28 L268.50 187.38 L269.67 186.49 L270.85 185.61 L272.04 184.74 L273.25 183.88 L274.47 183.04 L275.71 182.21 L276.96 181.39 L278.23 180.59 L279.52 179.80 L280.84 179.04 L282.19 178.30 L283.58 177.60 L285.03 176.95 L286.58 176.38 L288.57 176.30 L288.70 176.41 L288.61 178.11 L287.94 179.42 L287.17 180.65 L286.35 181.84 L285.48 182.99 L284.59 184.11 L283.66 185.21 L282.72 186.29 L281.76 187.36 L280.78 188.41 L279.79 189.45 L278.78 190.48 L277.76 191.49 L276.72 192.50 L275.68 193.49 L274.62 194.48 L273.55 195.45 L272.47 196.42 L271.38 197.38 L270.28 198.32 L269.16 199.26 L268.04 200.19 L266.91 201.11 L265.76 202.02 L264.60 202.92 L263.43 203.81 L262.25 204.69 L261.06 205.56 L259.85 206.42 L258.63 207.26 L257.39 208.09 L256.14 208.91 L254.87 209.71 L253.58 210.50 L252.26 211.26 L250.91 212.00 L249.52 212.70 L248.07 213.35 L246.52 213.92 L244.53 214.00Z" fill="#bcd6ef" stroke="#111" stroke-width="0.5" stroke-opacity="0.5"/>
<path d="M244.40 213.89 L244.99 212.62 L245.94 211.54 L246.94 210.50 L247.95 209.48 L248.98 208.48 L250.02 207.48 L251.08 206.49 L252.13 205.50 L253.20 204.52 L254.26 203.54 L255.34 202.57 L256.42 201.61 L257.50 200.64 L258.58 199.68 L259.67 198.72 L260.77 197.77 L261.86 196.82 L262.96 195.87 L264.07 194.92 L265.17 193.98 L266.28 193.04 L267.39 192.10 L268.51 191.16 L269.63 190.23 L270.75 189.30 L271.87 188.37 L273.00 187.45 L274.14 186.53 L275.27 185.61 L276.41 184.69 L277.56 183.79 L278.71 182.88 L279.87 181.98 L281.03 181.09 L282.21 180.20 L283.39 179.32 L284.59 178.46 L285.81 177.61 L287.08 176.80 L288.57 176.30 L288.70 176.41 L288.11 177.68 L287.16 178.76 L286.16 179.80 L285.15 180.82 L284.12 181.82 L283.08 182.82 L282.02 183.81 L280.97 184.80 L279.90 185.78 L278.84 186.76 L277.76 187.73 L276.68 188.69 L275.60 189.66 L274.52 190.62 L273.43 191.58 L272.33 192.53 L271.24 193.48 L270.14 194.43 L269.03 195.38 L267.93 196.32 L266.82 197.26 L265.71 198.20 L264.59 199.14 L263.47 200.07 L262.35 201.00 L261.23 201.93 L260.10 202.85 L258.96 203.77 L257.83 204.69 L256.69 205.61 L255.54 206.51 L254.39 207.42 L253.23 208.32 L252.07 209.21 L250.89 210.10 L249.71 210.98 L248.51 211.84 L247.29 212.69 L246.02 213.50 L244.53 214.00Z" fill="#9ccaf2" opacity="0.8" filter="url(#bl2)"/>
<circle cx="244.4" cy="214.0" r="2.6" fill="#1f4f9a" filter="url(#bl2)"/>
<circle cx="288.7" cy="176.3" r="2.6" fill="#2f62b0" filter="url(#bl2)"/>
<line x1="244.40" y1="214.00" x2="288.70" y2="176.30" stroke="#8b1e22" stroke-width="0.9" />
</g>
<rect x="243.9" y="175.8" width="45.29999999999998" height="38.69999999999999" fill="none" stroke="#111" stroke-width="1.2"/>
<text x="237.90" y="215.50" font-size="4.4" fill="#444" text-anchor="end" stroke="#444" stroke-width="0.05" >0.0</text>
<text x="244.40" y="225.10" font-size="4.4" fill="#444" text-anchor="middle" stroke="#444" stroke-width="0.05" >0.0</text>
<text x="237.90" y="207.96" font-size="4.4" fill="#444" text-anchor="end" stroke="#444" stroke-width="0.05" >0.2</text>
<text x="253.26" y="225.10" font-size="4.4" fill="#444" text-anchor="middle" stroke="#444" stroke-width="0.05" >0.2</text>
<text x="237.90" y="200.42" font-size="4.4" fill="#444" text-anchor="end" stroke="#444" stroke-width="0.05" >0.4</text>
<text x="262.12" y="225.10" font-size="4.4" fill="#444" text-anchor="middle" stroke="#444" stroke-width="0.05" >0.4</text>
<text x="237.90" y="192.88" font-size="4.4" fill="#444" text-anchor="end" stroke="#444" stroke-width="0.05" >0.6</text>
<text x="270.98" y="225.10" font-size="4.4" fill="#444" text-anchor="middle" stroke="#444" stroke-width="0.05" >0.6</text>
<text x="237.90" y="185.34" font-size="4.4" fill="#444" text-anchor="end" stroke="#444" stroke-width="0.05" >0.8</text>
<text x="279.84" y="225.10" font-size="4.4" fill="#444" text-anchor="middle" stroke="#444" stroke-width="0.05" >0.8</text>
<text x="237.90" y="177.80" font-size="4.4" fill="#444" text-anchor="end" stroke="#444" stroke-width="0.05" >1.0</text>
<text x="288.70" y="225.10" font-size="4.4" fill="#444" text-anchor="middle" stroke="#444" stroke-width="0.05" >1.0</text>
<path d="M241.6 214.00H243.9M244.40 214.5V216.6M241.6 206.46H243.9M253.26 214.5V216.6M241.6 198.92H243.9M262.12 214.5V216.6M241.6 191.38H243.9M270.98 214.5V216.6M241.6 183.84H243.9M279.84 214.5V216.6M241.6 176.30H243.9M288.70 214.5V216.6" stroke="#111" stroke-width="0.8"/>
<clipPath id="c0b"><rect x="38.9" y="247.4" width="45.199999999999996" height="39.20000000000002"/></clipPath>
<g clip-path="url(#c0b)">
<path d="M39.40 286.10 L39.59 284.35 L39.83 282.65 L40.11 280.99 L40.44 279.36 L40.82 277.78 L41.25 276.24 L41.72 274.74 L42.24 273.27 L42.81 271.85 L43.42 270.47 L44.08 269.13 L44.78 267.83 L45.54 266.57 L46.34 265.36 L47.18 264.18 L48.08 263.04 L49.02 261.94 L50.01 260.89 L51.04 259.87 L52.12 258.90 L53.25 257.96 L54.43 257.07 L55.65 256.21 L56.92 255.40 L58.23 254.63 L59.60 253.90 L61.01 253.20 L62.46 252.55 L63.97 251.94 L65.52 251.37 L67.12 250.84 L68.76 250.35 L70.45 249.91 L72.19 249.50 L73.97 249.13 L75.80 248.80 L77.68 248.52 L79.61 248.27 L81.58 248.06 L83.60 247.90 L83.60 247.90 L83.41 249.65 L83.17 251.35 L82.89 253.01 L82.56 254.64 L82.18 256.22 L81.75 257.76 L81.28 259.26 L80.76 260.73 L80.19 262.15 L79.58 263.53 L78.92 264.87 L78.22 266.17 L77.46 267.43 L76.66 268.64 L75.82 269.82 L74.92 270.96 L73.98 272.06 L72.99 273.11 L71.96 274.13 L70.88 275.10 L69.75 276.04 L68.57 276.93 L67.35 277.79 L66.08 278.60 L64.77 279.37 L63.40 280.10 L61.99 280.80 L60.54 281.45 L59.03 282.06 L57.48 282.63 L55.88 283.16 L54.24 283.65 L52.55 284.09 L50.81 284.50 L49.03 284.87 L47.20 285.20 L45.32 285.48 L43.39 285.73 L41.42 285.94 L39.40 286.10Z" fill="#e3ecf8" opacity="0.95" filter="url(#bl3)"/>
<path d="M39.40 285.83 L39.46 284.25 L40.06 282.85 L40.72 281.51 L41.44 280.22 L42.19 278.96 L42.98 277.74 L43.80 276.53 L44.65 275.35 L45.52 274.20 L46.41 273.06 L47.33 271.94 L48.27 270.85 L49.23 269.77 L50.21 268.70 L51.21 267.66 L52.23 266.63 L53.27 265.62 L54.33 264.62 L55.40 263.64 L56.50 262.68 L57.61 261.73 L58.75 260.80 L59.90 259.89 L61.07 258.99 L62.26 258.11 L63.47 257.24 L64.70 256.40 L65.95 255.57 L67.22 254.75 L68.51 253.96 L69.83 253.19 L71.17 252.43 L72.53 251.70 L73.92 251.00 L75.34 250.31 L76.80 249.66 L78.29 249.04 L79.84 248.47 L81.45 247.96 L83.29 247.90 L83.60 248.17 L83.54 249.75 L82.94 251.15 L82.28 252.49 L81.56 253.78 L80.81 255.04 L80.02 256.26 L79.20 257.47 L78.35 258.65 L77.48 259.80 L76.59 260.94 L75.67 262.06 L74.73 263.15 L73.77 264.23 L72.79 265.30 L71.79 266.34 L70.77 267.37 L69.73 268.38 L68.67 269.38 L67.60 270.36 L66.50 271.32 L65.39 272.27 L64.25 273.20 L63.10 274.11 L61.93 275.01 L60.74 275.89 L59.53 276.76 L58.30 277.60 L57.05 278.43 L55.78 279.25 L54.49 280.04 L53.17 280.81 L51.83 281.57 L50.47 282.30 L49.08 283.00 L47.66 283.69 L46.20 284.34 L44.71 284.96 L43.16 285.53 L41.55 286.04 L39.71 286.10Z" fill="#b1cbec" opacity="0.9" filter="url(#bl1)"/>
<path d="M39.40 285.56 L39.40 284.01 L40.03 282.83 L40.94 281.70 L41.88 280.61 L42.85 279.53 L43.84 278.48 L44.85 277.44 L45.86 276.41 L46.89 275.39 L47.93 274.37 L48.98 273.37 L50.03 272.37 L51.09 271.37 L52.16 270.39 L53.23 269.40 L54.31 268.43 L55.40 267.46 L56.49 266.49 L57.58 265.53 L58.69 264.57 L59.79 263.62 L60.91 262.67 L62.03 261.73 L63.15 260.79 L64.28 259.85 L65.42 258.93 L66.56 258.00 L67.71 257.09 L68.87 256.18 L70.03 255.27 L71.20 254.38 L72.38 253.49 L73.58 252.61 L74.78 251.74 L76.00 250.88 L77.24 250.05 L78.51 249.23 L79.81 248.45 L81.19 247.90 L82.97 247.90 L83.60 248.44 L83.60 249.99 L82.97 251.17 L82.06 252.30 L81.12 253.39 L80.15 254.47 L79.16 255.52 L78.15 256.56 L77.14 257.59 L76.11 258.61 L75.07 259.63 L74.02 260.63 L72.97 261.63 L71.91 262.63 L70.84 263.61 L69.77 264.60 L68.69 265.57 L67.60 266.54 L66.51 267.51 L65.42 268.47 L64.31 269.43 L63.21 270.38 L62.09 271.33 L60.97 272.27 L59.85 273.21 L58.72 274.15 L57.58 275.07 L56.44 276.00 L55.29 276.91 L54.13 277.82 L52.97 278.73 L51.80 279.62 L50.62 280.51 L49.42 281.39 L48.22 282.26 L47.00 283.12 L45.76 283.95 L44.49 284.77 L43.19 285.55 L41.81 286.10 L40.03 286.10Z" fill="#5f90d3" opacity="0.85" filter="url(#bl1)"/>
<path d="M39.40 285.88 L39.98 284.69 L40.98 283.64 L42.00 282.62 L43.04 281.61 L44.10 280.61 L45.16 279.61 L46.22 278.62 L47.29 277.64 L48.36 276.66 L49.44 275.68 L50.52 274.70 L51.61 273.73 L52.70 272.76 L53.79 271.79 L54.88 270.83 L55.97 269.86 L57.07 268.90 L58.17 267.94 L59.27 266.98 L60.37 266.03 L61.48 265.07 L62.59 264.12 L63.70 263.17 L64.81 262.22 L65.93 261.28 L67.05 260.33 L68.17 259.39 L69.29 258.45 L70.41 257.51 L71.54 256.58 L72.67 255.65 L73.81 254.72 L74.95 253.79 L76.10 252.87 L77.25 251.96 L78.40 251.05 L79.57 250.15 L80.76 249.26 L81.97 248.40 L83.35 247.90 L83.60 248.12 L83.02 249.31 L82.02 250.36 L81.00 251.38 L79.96 252.39 L78.90 253.39 L77.84 254.39 L76.78 255.38 L75.71 256.36 L74.64 257.34 L73.56 258.32 L72.48 259.30 L71.39 260.27 L70.30 261.24 L69.21 262.21 L68.12 263.17 L67.03 264.14 L65.93 265.10 L64.83 266.06 L63.73 267.02 L62.63 267.97 L61.52 268.93 L60.41 269.88 L59.30 270.83 L58.19 271.78 L57.07 272.72 L55.95 273.67 L54.83 274.61 L53.71 275.55 L52.59 276.49 L51.46 277.42 L50.33 278.35 L49.19 279.28 L48.05 280.21 L46.90 281.13 L45.75 282.04 L44.60 282.95 L43.43 283.85 L42.24 284.74 L41.03 285.60 L39.65 286.10Z" fill="#9fcff4" opacity="0.95" filter="url(#bl2)"/>
<path d="M39.40 284.07 L39.40 283.30 L39.68 282.53 L41.00 281.75 L42.31 280.98 L43.63 280.20 L44.94 279.43 L46.26 278.66 L47.57 277.88 L48.88 277.11 L50.20 276.33 L51.51 275.56 L52.66 274.64 L53.77 273.69 L54.87 272.73 L55.97 271.78 L57.08 270.82 L58.18 269.87 L59.29 268.91 L60.39 267.96 L61.50 267.00 L62.60 266.05 L63.71 265.09 L64.81 264.13 L65.92 263.18 L67.02 262.23 L68.13 261.27 L69.23 260.31 L70.34 259.36 L71.44 258.41 L72.55 257.45 L73.66 256.50 L74.76 255.54 L75.86 254.59 L76.97 253.63 L78.07 252.68 L79.18 251.72 L80.28 250.77 L81.39 249.81 L82.49 248.86 L83.60 247.90 L83.60 247.90 L82.49 248.86 L81.39 249.81 L80.28 250.77 L79.18 251.72 L78.07 252.68 L76.97 253.63 L75.86 254.59 L74.76 255.54 L73.66 256.50 L72.55 257.45 L71.44 258.41 L70.34 259.36 L69.23 260.31 L68.13 261.27 L67.02 262.23 L65.92 263.18 L64.81 264.13 L63.71 265.09 L62.60 266.05 L61.50 267.00 L60.39 267.96 L59.29 268.91 L58.18 269.87 L57.08 270.82 L55.97 271.78 L54.87 272.73 L53.77 273.69 L52.66 274.64 L51.60 275.63 L50.70 276.77 L49.81 277.90 L48.91 279.04 L48.01 280.17 L47.12 281.31 L46.22 282.45 L45.33 283.58 L44.43 284.72 L43.54 285.85 L42.64 286.10 L41.74 286.10Z" fill="#2356a8" filter="url(#bl1)"/>
<path d="M39.40 286.10 L40.50 285.15 L41.61 284.19 L42.71 283.24 L43.82 282.28 L44.92 281.33 L46.03 280.37 L47.13 279.42 L48.24 278.46 L49.34 277.50 L50.45 276.55 L51.55 275.60 L52.66 274.64 L53.77 273.69 L54.87 272.73 L55.97 271.78 L57.08 270.82 L58.18 269.87 L59.29 268.91 L60.39 267.96 L61.50 267.00 L62.60 266.05 L63.71 265.09 L64.81 264.13 L65.92 263.18 L67.02 262.23 L68.13 261.27 L69.23 260.31 L70.34 259.36 L71.44 258.41 L72.55 257.45 L73.45 256.32 L74.35 255.19 L75.26 254.06 L76.16 252.93 L77.06 251.80 L77.96 250.67 L78.86 249.54 L79.76 248.41 L80.67 247.90 L81.57 247.90 L83.60 249.66 L83.60 250.44 L83.02 251.21 L81.71 251.99 L80.40 252.77 L79.09 253.55 L77.78 254.33 L76.47 255.11 L75.17 255.89 L73.86 256.67 L72.55 257.45 L71.44 258.41 L70.34 259.36 L69.23 260.31 L68.13 261.27 L67.02 262.23 L65.92 263.18 L64.81 264.13 L63.71 265.09 L62.60 266.05 L61.50 267.00 L60.39 267.96 L59.29 268.91 L58.18 269.87 L57.08 270.82 L55.97 271.78 L54.87 272.73 L53.77 273.69 L52.66 274.64 L51.55 275.60 L50.45 276.55 L49.34 277.50 L48.24 278.46 L47.13 279.42 L46.03 280.37 L44.92 281.33 L43.82 282.28 L42.71 283.24 L41.61 284.19 L40.50 285.15 L39.40 286.10Z" fill="#2d62b2" filter="url(#bl1)"/>
<path d="M49.6 264.0h.9M54.7 281.4h.9M60.3 263.7h.9M48.7 265.1h.9M70.3 255.5h.9M53.1 281.5h.9M43.2 271.1h.9M54.3 281.7h.9M73.9 251.2h.9M46.0 270.2h.9M47.6 267.2h.9M78.5 257.6h.9M79.3 262.2h.9M70.3 264.9h.9M72.6 252.8h.9M62.9 252.9h.9M50.8 272.3h.9M47.8 271.0h.9M78.1 257.9h.9M73.8 265.3h.9M57.8 257.9h.9M52.2 263.6h.9M51.0 282.6h.9M75.7 258.9h.9M68.1 250.5h.9M70.8 252.4h.9M55.8 280.1h.9M43.4 280.3h.9M41.4 278.6h.9M81.3 253.4h.9M81.8 256.7h.9M68.5 272.1h.9M48.5 268.9h.9M55.3 280.9h.9M66.8 272.4h.9M63.5 253.5h.9M42.7 277.5h.9M64.4 277.3h.9M74.8 271.8h.9M47.8 273.6h.9M75.4 251.7h.9M51.8 284.3h.9M56.6 265.0h.9M62.8 258.9h.9M58.4 262.7h.9M62.6 278.1h.9M66.3 257.8h.9M50.3 282.5h.9M51.7 265.5h.9M74.3 252.8h.9M43.9 274.3h.9M75.4 250.7h.9M77.1 258.5h.9M59.3 282.8h.9M57.9 281.6h.9M61.5 261.9h.9M76.6 250.8h.9M82.2 260.3h.9M73.9 253.0h.9M69.1 273.1h.9M62.5 255.2h.9M40.2 277.7h.9M50.8 262.8h.9M60.4 281.2h.9M56.0 279.3h.9M48.0 264.7h.9M49.5 263.9h.9M49.4 283.2h.9M63.1 253.1h.9M64.1 279.5h.9M75.1 252.4h.9M53.6 285.7h.9M67.2 257.8h.9M51.4 261.6h.9M60.3 261.6h.9M54.3 280.9h.9M62.6 259.2h.9M44.9 267.7h.9M49.8 271.4h.9M77.8 257.7h.9M49.1 283.0h.9M72.1 254.6h.9M42.0 271.5h.9M54.5 283.4h.9M77.1 260.7h.9M39.9 277.8h.9M78.6 261.4h.9M79.2 264.4h.9M51.1 266.8h.9M82.5 252.7h.9M66.8 255.8h.9M53.4 264.5h.9M74.7 270.8h.9M61.7 271.9h.9M48.5 271.2h.9M57.4 260.1h.9M60.7 253.3h.9M50.3 273.0h.9M55.7 264.5h.9M79.7 249.6h.9M75.8 249.2h.9M42.6 277.4h.9M77.0 266.0h.9M77.7 259.4h.9M44.5 268.9h.9M64.2 255.3h.9M73.9 260.9h.9M67.1 257.9h.9M73.6 271.3h.9M68.9 251.8h.9M59.4 256.8h.9M54.2 280.7h.9M78.4 260.4h.9M71.7 272.6h.9M77.2 265.1h.9M49.0 282.6h.9M49.4 269.1h.9M61.2 281.2h.9M52.1 265.6h.9M68.9 276.4h.9M64.6 280.0h.9M57.9 279.6h.9M82.8 260.5h.9M75.8 267.1h.9M53.5 279.0h.9M72.5 252.7h.9M55.1 260.8h.9M74.2 252.7h.9M73.6 250.5h.9M54.2 283.2h.9M71.2 264.5h.9M81.8 253.5h.9M73.2 270.6h.9M48.5 274.5h.9M57.4 259.9h.9M63.5 256.0h.9M54.8 262.7h.9M79.3 256.5h.9M77.9 256.7h.9M76.4 269.2h.9M71.9 254.4h.9M63.0 279.4h.9M47.8 283.8h.9M70.1 275.1h.9M49.2 273.6h.9M60.1 278.2h.9M59.0 263.5h.9M55.3 277.1h.9M41.1 278.2h.9M63.3 255.8h.9M65.3 253.1h.9M83.0 255.9h.9M71.3 269.7h.9M76.1 258.9h.9M42.5 277.6h.9M52.8 259.1h.9M46.4 274.7h.9M48.5 283.2h.9M52.5 270.9h.9M77.3 266.9h.9M50.3 269.6h.9M52.2 281.6h.9M62.5 260.4h.9M50.7 262.9h.9M78.8 258.0h.9M48.2 283.3h.9" stroke="#b8604c" stroke-width=".9" opacity="0.5"/>
<line x1="39.40" y1="286.10" x2="83.60" y2="247.90" stroke="#7a1616" stroke-width="1.2" />
</g>
<rect x="38.9" y="247.4" width="45.199999999999996" height="39.20000000000002" fill="none" stroke="#111" stroke-width="1.2"/>
<text x="32.90" y="287.60" font-size="4.4" fill="#444" text-anchor="end" stroke="#444" stroke-width="0.05" >0.0</text>
<text x="39.40" y="297.20" font-size="4.4" fill="#444" text-anchor="middle" stroke="#444" stroke-width="0.05" >0.0</text>
<text x="32.90" y="279.96" font-size="4.4" fill="#444" text-anchor="end" stroke="#444" stroke-width="0.05" >0.2</text>
<text x="48.24" y="297.20" font-size="4.4" fill="#444" text-anchor="middle" stroke="#444" stroke-width="0.05" >0.2</text>
<text x="32.90" y="272.32" font-size="4.4" fill="#444" text-anchor="end" stroke="#444" stroke-width="0.05" >0.4</text>
<text x="57.08" y="297.20" font-size="4.4" fill="#444" text-anchor="middle" stroke="#444" stroke-width="0.05" >0.4</text>
<text x="32.90" y="264.68" font-size="4.4" fill="#444" text-anchor="end" stroke="#444" stroke-width="0.05" >0.6</text>
<text x="65.92" y="297.20" font-size="4.4" fill="#444" text-anchor="middle" stroke="#444" stroke-width="0.05" >0.6</text>
<text x="32.90" y="257.04" font-size="4.4" fill="#444" text-anchor="end" stroke="#444" stroke-width="0.05" >0.8</text>
<text x="74.76" y="297.20" font-size="4.4" fill="#444" text-anchor="middle" stroke="#444" stroke-width="0.05" >0.8</text>
<text x="32.90" y="249.40" font-size="4.4" fill="#444" text-anchor="end" stroke="#444" stroke-width="0.05" >1.0</text>
<text x="83.60" y="297.20" font-size="4.4" fill="#444" text-anchor="middle" stroke="#444" stroke-width="0.05" >1.0</text>
<path d="M36.6 286.10H38.9M39.40 286.6V288.7M36.6 278.46H38.9M48.24 286.6V288.7M36.6 270.82H38.9M57.08 286.6V288.7M36.6 263.18H38.9M65.92 286.6V288.7M36.6 255.54H38.9M74.76 286.6V288.7M36.6 247.90H38.9M83.60 286.6V288.7" stroke="#111" stroke-width="0.8"/>
<clipPath id="c1b"><rect x="106.2" y="247.4" width="45.499999999999986" height="39.20000000000002"/></clipPath>
<g clip-path="url(#c1b)">
<path d="M106.70 286.10 L106.89 284.35 L107.13 282.65 L107.42 280.99 L107.75 279.36 L108.13 277.78 L108.56 276.24 L109.04 274.74 L109.56 273.27 L110.13 271.85 L110.75 270.47 L111.41 269.13 L112.12 267.83 L112.88 266.57 L113.68 265.36 L114.54 264.18 L115.44 263.04 L116.39 261.94 L117.38 260.89 L118.42 259.87 L119.51 258.90 L120.65 257.96 L121.83 257.07 L123.06 256.21 L124.34 255.40 L125.66 254.63 L127.03 253.90 L128.45 253.20 L129.92 252.55 L131.43 251.94 L133.00 251.37 L134.60 250.84 L136.26 250.35 L137.96 249.91 L139.71 249.50 L141.51 249.13 L143.35 248.80 L145.24 248.52 L147.18 248.27 L149.17 248.06 L151.20 247.90 L151.20 247.90 L151.01 249.65 L150.77 251.35 L150.48 253.01 L150.15 254.64 L149.77 256.22 L149.34 257.76 L148.86 259.26 L148.34 260.73 L147.77 262.15 L147.15 263.53 L146.49 264.87 L145.78 266.17 L145.02 267.43 L144.22 268.64 L143.36 269.82 L142.46 270.96 L141.51 272.06 L140.52 273.11 L139.48 274.13 L138.39 275.10 L137.25 276.04 L136.07 276.93 L134.84 277.79 L133.56 278.60 L132.24 279.37 L130.87 280.10 L129.45 280.80 L127.98 281.45 L126.47 282.06 L124.90 282.63 L123.30 283.16 L121.64 283.65 L119.94 284.09 L118.19 284.50 L116.39 284.87 L114.55 285.20 L112.66 285.48 L110.72 285.73 L108.73 285.94 L106.70 286.10Z" fill="#e3ecf8" opacity="0.95" filter="url(#bl3)"/>
<path d="M106.70 285.83 L106.76 284.25 L107.36 282.85 L108.03 281.51 L108.75 280.22 L109.51 278.96 L110.31 277.74 L111.13 276.53 L111.98 275.35 L112.86 274.20 L113.76 273.06 L114.68 271.94 L115.63 270.85 L116.60 269.77 L117.58 268.70 L118.59 267.66 L119.62 266.63 L120.66 265.62 L121.73 264.62 L122.81 263.64 L123.92 262.68 L125.04 261.73 L126.18 260.80 L127.34 259.89 L128.52 258.99 L129.72 258.11 L130.93 257.24 L132.17 256.40 L133.43 255.57 L134.71 254.75 L136.01 253.96 L137.33 253.19 L138.68 252.43 L140.06 251.70 L141.46 251.00 L142.89 250.31 L144.35 249.66 L145.86 249.04 L147.41 248.47 L149.04 247.96 L150.89 247.90 L151.20 248.17 L151.14 249.75 L150.54 251.15 L149.87 252.49 L149.15 253.78 L148.39 255.04 L147.59 256.26 L146.77 257.47 L145.92 258.65 L145.04 259.80 L144.14 260.94 L143.22 262.06 L142.27 263.15 L141.30 264.23 L140.32 265.30 L139.31 266.34 L138.28 267.37 L137.24 268.38 L136.17 269.38 L135.09 270.36 L133.98 271.32 L132.86 272.27 L131.72 273.20 L130.56 274.11 L129.38 275.01 L128.18 275.89 L126.97 276.76 L125.73 277.60 L124.47 278.43 L123.19 279.25 L121.89 280.04 L120.57 280.81 L119.22 281.57 L117.84 282.30 L116.44 283.00 L115.01 283.69 L113.55 284.34 L112.04 284.96 L110.49 285.53 L108.86 286.04 L107.01 286.10Z" fill="#b1cbec" opacity="0.9" filter="url(#bl1)"/>
<path d="M106.70 285.56 L106.70 284.01 L107.34 282.83 L108.25 281.70 L109.20 280.61 L110.18 279.53 L111.17 278.48 L112.18 277.44 L113.21 276.41 L114.24 275.39 L115.29 274.37 L116.34 273.37 L117.40 272.37 L118.47 271.37 L119.54 270.39 L120.63 269.40 L121.71 268.43 L122.81 267.46 L123.90 266.49 L125.01 265.53 L126.12 264.57 L127.23 263.62 L128.35 262.67 L129.48 261.73 L130.61 260.79 L131.75 259.85 L132.89 258.93 L134.04 258.00 L135.20 257.09 L136.37 256.18 L137.54 255.27 L138.72 254.38 L139.91 253.49 L141.11 252.61 L142.32 251.74 L143.55 250.88 L144.80 250.05 L146.07 249.23 L147.39 248.45 L148.77 247.90 L150.57 247.90 L151.20 248.44 L151.20 249.99 L150.56 251.17 L149.65 252.30 L148.70 253.39 L147.72 254.47 L146.73 255.52 L145.72 256.56 L144.69 257.59 L143.66 258.61 L142.61 259.63 L141.56 260.63 L140.50 261.63 L139.43 262.63 L138.36 263.61 L137.27 264.60 L136.19 265.57 L135.09 266.54 L134.00 267.51 L132.89 268.47 L131.78 269.43 L130.67 270.38 L129.55 271.33 L128.42 272.27 L127.29 273.21 L126.15 274.15 L125.01 275.07 L123.86 276.00 L122.70 276.91 L121.53 277.82 L120.36 278.73 L119.18 279.62 L117.99 280.51 L116.79 281.39 L115.58 282.26 L114.35 283.12 L113.10 283.95 L111.83 284.77 L110.51 285.55 L109.13 286.10 L107.33 286.10Z" fill="#5f90d3" opacity="0.85" filter="url(#bl1)"/>
<path d="M106.70 285.88 L107.29 284.69 L108.29 283.64 L109.32 282.62 L110.37 281.61 L111.43 280.61 L112.49 279.61 L113.57 278.62 L114.64 277.64 L115.72 276.66 L116.81 275.68 L117.90 274.70 L118.99 273.73 L120.09 272.76 L121.18 271.79 L122.28 270.83 L123.39 269.86 L124.49 268.90 L125.60 267.94 L126.71 266.98 L127.82 266.03 L128.93 265.07 L130.05 264.12 L131.16 263.17 L132.29 262.22 L133.41 261.28 L134.53 260.33 L135.66 259.39 L136.79 258.45 L137.92 257.51 L139.06 256.58 L140.20 255.65 L141.34 254.72 L142.49 253.79 L143.64 252.87 L144.80 251.96 L145.97 251.05 L147.15 250.15 L148.34 249.26 L149.56 248.40 L150.95 247.90 L151.20 248.12 L150.61 249.31 L149.61 250.36 L148.58 251.38 L147.53 252.39 L146.47 253.39 L145.41 254.39 L144.33 255.38 L143.26 256.36 L142.18 257.34 L141.09 258.32 L140.00 259.30 L138.91 260.27 L137.81 261.24 L136.72 262.21 L135.62 263.17 L134.51 264.14 L133.41 265.10 L132.30 266.06 L131.19 267.02 L130.08 267.97 L128.97 268.93 L127.85 269.88 L126.74 270.83 L125.61 271.78 L124.49 272.72 L123.37 273.67 L122.24 274.61 L121.11 275.55 L119.98 276.49 L118.84 277.42 L117.70 278.35 L116.56 279.28 L115.41 280.21 L114.26 281.13 L113.10 282.04 L111.93 282.95 L110.75 283.85 L109.56 284.74 L108.34 285.60 L106.95 286.10Z" fill="#9fcff4" opacity="0.95" filter="url(#bl2)"/>
<path d="M106.70 284.07 L106.70 283.30 L106.99 282.53 L108.31 281.75 L109.63 280.98 L110.96 280.20 L112.28 279.43 L113.60 278.66 L114.93 277.88 L116.25 277.11 L117.57 276.33 L118.90 275.56 L120.05 274.64 L121.16 273.69 L122.27 272.73 L123.39 271.78 L124.50 270.82 L125.61 269.87 L126.72 268.91 L127.84 267.96 L128.95 267.00 L130.06 266.05 L131.18 265.09 L132.29 264.13 L133.40 263.18 L134.51 262.23 L135.62 261.27 L136.74 260.31 L137.85 259.36 L138.96 258.41 L140.07 257.45 L141.19 256.50 L142.30 255.54 L143.41 254.59 L144.52 253.63 L145.64 252.68 L146.75 251.72 L147.86 250.77 L148.97 249.81 L150.09 248.86 L151.20 247.90 L151.20 247.90 L150.09 248.86 L148.97 249.81 L147.86 250.77 L146.75 251.72 L145.64 252.68 L144.52 253.63 L143.41 254.59 L142.30 255.54 L141.19 256.50 L140.07 257.45 L138.96 258.41 L137.85 259.36 L136.74 260.31 L135.62 261.27 L134.51 262.23 L133.40 263.18 L132.29 264.13 L131.18 265.09 L130.06 266.05 L128.95 267.00 L127.84 267.96 L126.72 268.91 L125.61 269.87 L124.50 270.82 L123.39 271.78 L122.27 272.73 L121.16 273.69 L120.05 274.64 L118.98 275.63 L118.08 276.77 L117.18 277.90 L116.27 279.04 L115.37 280.17 L114.47 281.31 L113.57 282.45 L112.67 283.58 L111.77 284.72 L110.86 285.85 L109.96 286.10 L109.06 286.10Z" fill="#2356a8" filter="url(#bl1)"/>
<path d="M106.70 286.10 L107.81 285.15 L108.92 284.19 L110.04 283.24 L111.15 282.28 L112.26 281.33 L113.38 280.37 L114.49 279.42 L115.60 278.46 L116.71 277.50 L117.83 276.55 L118.94 275.60 L120.05 274.64 L121.16 273.69 L122.27 272.73 L123.39 271.78 L124.50 270.82 L125.61 269.87 L126.72 268.91 L127.84 267.96 L128.95 267.00 L130.06 266.05 L131.18 265.09 L132.29 264.13 L133.40 263.18 L134.51 262.23 L135.62 261.27 L136.74 260.31 L137.85 259.36 L138.96 258.41 L140.07 257.45 L140.98 256.32 L141.89 255.19 L142.80 254.06 L143.71 252.93 L144.61 251.80 L145.52 250.67 L146.43 249.54 L147.34 248.41 L148.25 247.90 L149.15 247.90 L151.20 249.66 L151.20 250.44 L150.61 251.21 L149.29 251.99 L147.98 252.77 L146.66 253.55 L145.34 254.33 L144.03 255.11 L142.71 255.89 L141.39 256.67 L140.07 257.45 L138.96 258.41 L137.85 259.36 L136.74 260.31 L135.62 261.27 L134.51 262.23 L133.40 263.18 L132.29 264.13 L131.18 265.09 L130.06 266.05 L128.95 267.00 L127.84 267.96 L126.72 268.91 L125.61 269.87 L124.50 270.82 L123.39 271.78 L122.27 272.73 L121.16 273.69 L120.05 274.64 L118.94 275.60 L117.83 276.55 L116.71 277.50 L115.60 278.46 L114.49 279.42 L113.38 280.37 L112.26 281.33 L111.15 282.28 L110.04 283.24 L108.92 284.19 L107.81 285.15 L106.70 286.10Z" fill="#2d62b2" filter="url(#bl1)"/>
<path d="M151.0 257.6h.9M121.7 284.4h.9M137.5 252.3h.9M110.9 276.7h.9M144.8 260.7h.9M124.7 277.6h.9M122.0 282.3h.9M144.2 249.5h.9M107.2 276.8h.9M150.0 252.8h.9M137.9 264.7h.9M124.8 256.3h.9M135.6 252.5h.9M122.7 285.1h.9M138.0 268.5h.9M134.5 250.5h.9M146.3 255.5h.9M123.0 281.5h.9M148.3 260.1h.9M137.8 250.3h.9M112.3 276.5h.9M120.6 261.4h.9M121.7 258.5h.9M134.5 250.2h.9M123.3 284.7h.9M142.5 261.6h.9M119.5 266.9h.9M119.0 263.6h.9M141.0 249.7h.9M132.0 255.3h.9M144.3 251.5h.9M144.8 261.2h.9M139.9 254.0h.9M129.8 260.5h.9M125.7 264.1h.9M115.6 268.9h.9M136.8 252.1h.9M145.5 256.9h.9M150.1 256.0h.9M132.6 256.9h.9M148.4 255.4h.9M145.7 260.6h.9M138.6 268.8h.9M127.7 273.3h.9M128.0 260.0h.9M150.9 251.9h.9M113.7 274.3h.9M142.3 262.4h.9M120.1 261.3h.9M125.6 264.8h.9M135.2 276.1h.9M125.7 278.3h.9M116.8 282.0h.9M136.2 249.9h.9M126.2 264.6h.9M148.0 255.6h.9M148.7 260.2h.9M139.6 253.8h.9M133.0 259.7h.9M111.8 274.6h.9M125.1 260.7h.9M113.3 268.9h.9M136.6 256.6h.9M144.9 248.4h.9M136.8 252.2h.9M135.2 255.5h.9M134.7 251.7h.9M113.9 272.5h.9M146.7 255.5h.9M143.5 248.7h.9M143.6 265.5h.9M119.2 284.7h.9M115.9 272.4h.9M116.6 282.5h.9M126.4 257.5h.9M131.3 280.1h.9M136.8 249.5h.9M146.4 256.6h.9M146.4 248.7h.9M133.1 256.6h.9M138.3 266.0h.9M114.5 266.1h.9M143.2 258.8h.9M136.8 267.4h.9M136.2 274.6h.9M145.8 266.1h.9M148.5 258.8h.9M148.0 255.4h.9M129.8 273.2h.9M137.5 249.3h.9M124.8 258.7h.9M126.5 261.7h.9M122.1 261.4h.9M138.2 264.3h.9M111.0 272.2h.9M142.5 251.4h.9M128.2 282.4h.9M150.7 253.6h.9M119.0 262.9h.9M117.8 262.2h.9M138.4 255.0h.9M144.9 257.6h.9M138.6 252.8h.9M114.5 267.7h.9M146.0 264.4h.9M146.4 250.2h.9M135.6 252.6h.9M110.9 274.2h.9M126.2 263.3h.9M134.5 277.5h.9M150.4 252.1h.9M121.9 263.7h.9M112.3 277.1h.9M112.8 267.8h.9M151.0 258.8h.9M109.7 279.3h.9M130.9 276.9h.9M149.2 257.0h.9M122.3 262.4h.9M116.5 268.5h.9M120.0 283.1h.9M126.1 278.2h.9M125.9 279.8h.9M127.7 261.3h.9M143.0 262.9h.9M138.8 267.5h.9M134.0 253.1h.9M117.6 267.4h.9M125.0 265.5h.9M110.2 270.8h.9M131.3 256.5h.9M134.0 251.0h.9M147.1 249.2h.9M120.3 283.1h.9M125.7 264.0h.9M126.2 276.8h.9M121.6 267.7h.9M151.2 257.3h.9M116.5 268.6h.9M130.3 275.4h.9M127.8 276.9h.9M126.1 277.9h.9M136.6 252.6h.9M127.5 276.6h.9M129.3 254.4h.9M142.8 259.3h.9M123.4 284.1h.9M134.5 273.3h.9M113.0 274.3h.9M132.9 269.2h.9M132.0 277.0h.9M113.2 269.1h.9M150.3 256.0h.9M149.7 253.7h.9M124.7 259.7h.9M125.7 277.1h.9M128.6 276.0h.9M150.8 254.5h.9M130.2 256.7h.9M140.8 249.0h.9M134.0 250.3h.9M150.5 256.7h.9M136.4 254.6h.9M116.3 283.3h.9M146.6 248.7h.9M118.6 270.5h.9M145.4 263.6h.9" stroke="#b8604c" stroke-width=".9" opacity="0.5"/>
<line x1="106.70" y1="286.10" x2="151.20" y2="247.90" stroke="#7a1616" stroke-width="1.2" />
</g>
<rect x="106.2" y="247.4" width="45.499999999999986" height="39.20000000000002" fill="none" stroke="#111" stroke-width="1.2"/>
<text x="100.20" y="287.60" font-size="4.4" fill="#444" text-anchor="end" stroke="#444" stroke-width="0.05" >0.0</text>
<text x="106.70" y="297.20" font-size="4.4" fill="#444" text-anchor="middle" stroke="#444" stroke-width="0.05" >0.0</text>
<text x="100.20" y="279.96" font-size="4.4" fill="#444" text-anchor="end" stroke="#444" stroke-width="0.05" >0.2</text>
<text x="115.60" y="297.20" font-size="4.4" fill="#444" text-anchor="middle" stroke="#444" stroke-width="0.05" >0.2</text>
<text x="100.20" y="272.32" font-size="4.4" fill="#444" text-anchor="end" stroke="#444" stroke-width="0.05" >0.4</text>
<text x="124.50" y="297.20" font-size="4.4" fill="#444" text-anchor="middle" stroke="#444" stroke-width="0.05" >0.4</text>
<text x="100.20" y="264.68" font-size="4.4" fill="#444" text-anchor="end" stroke="#444" stroke-width="0.05" >0.6</text>
<text x="133.40" y="297.20" font-size="4.4" fill="#444" text-anchor="middle" stroke="#444" stroke-width="0.05" >0.6</text>
<text x="100.20" y="257.04" font-size="4.4" fill="#444" text-anchor="end" stroke="#444" stroke-width="0.05" >0.8</text>
<text x="142.30" y="297.20" font-size="4.4" fill="#444" text-anchor="middle" stroke="#444" stroke-width="0.05" >0.8</text>
<text x="100.20" y="249.40" font-size="4.4" fill="#444" text-anchor="end" stroke="#444" stroke-width="0.05" >1.0</text>
<text x="151.20" y="297.20" font-size="4.4" fill="#444" text-anchor="middle" stroke="#444" stroke-width="0.05" >1.0</text>
<path d="M103.9 286.10H106.2M106.70 286.6V288.7M103.9 278.46H106.2M115.60 286.6V288.7M103.9 270.82H106.2M124.50 286.6V288.7M103.9 263.18H106.2M133.40 286.6V288.7M103.9 255.54H106.2M142.30 286.6V288.7M103.9 247.90H106.2M151.20 286.6V288.7" stroke="#111" stroke-width="0.8"/>
<clipPath id="c2b"><rect x="174.8" y="247.4" width="45.79999999999998" height="39.20000000000002"/></clipPath>
<g clip-path="url(#c2b)">
<path d="M175.30 286.10 L175.49 284.35 L175.73 282.65 L176.02 280.99 L176.36 279.36 L176.74 277.78 L177.17 276.24 L177.65 274.74 L178.18 273.27 L178.75 271.85 L179.37 270.47 L180.04 269.13 L180.76 267.83 L181.52 266.57 L182.33 265.36 L183.19 264.18 L184.10 263.04 L185.05 261.94 L186.05 260.89 L187.10 259.87 L188.20 258.90 L189.34 257.96 L190.53 257.07 L191.77 256.21 L193.06 255.40 L194.39 254.63 L195.77 253.90 L197.20 253.20 L198.68 252.55 L200.20 251.94 L201.77 251.37 L203.39 250.84 L205.06 250.35 L206.77 249.91 L208.53 249.50 L210.34 249.13 L212.20 248.80 L214.10 248.52 L216.05 248.27 L218.05 248.06 L220.10 247.90 L220.10 247.90 L219.91 249.65 L219.67 251.35 L219.38 253.01 L219.04 254.64 L218.66 256.22 L218.23 257.76 L217.75 259.26 L217.22 260.73 L216.65 262.15 L216.03 263.53 L215.36 264.87 L214.64 266.17 L213.88 267.43 L213.07 268.64 L212.21 269.82 L211.30 270.96 L210.35 272.06 L209.35 273.11 L208.30 274.13 L207.20 275.10 L206.06 276.04 L204.87 276.93 L203.63 277.79 L202.34 278.60 L201.01 279.37 L199.63 280.10 L198.20 280.80 L196.72 281.45 L195.20 282.06 L193.63 282.63 L192.01 283.16 L190.34 283.65 L188.63 284.09 L186.87 284.50 L185.06 284.87 L183.20 285.20 L181.30 285.48 L179.35 285.73 L177.35 285.94 L175.30 286.10Z" fill="#e3ecf8" opacity="0.95" filter="url(#bl3)"/>
<path d="M175.30 285.83 L175.37 284.25 L175.96 282.85 L176.64 281.51 L177.36 280.22 L178.13 278.96 L178.93 277.74 L179.76 276.53 L180.62 275.35 L181.50 274.20 L182.41 273.06 L183.34 271.94 L184.29 270.85 L185.26 269.77 L186.26 268.70 L187.27 267.66 L188.30 266.63 L189.36 265.62 L190.43 264.62 L191.52 263.64 L192.63 262.68 L193.76 261.73 L194.91 260.80 L196.08 259.89 L197.26 258.99 L198.47 258.11 L199.70 257.24 L200.94 256.40 L202.21 255.57 L203.50 254.75 L204.81 253.96 L206.14 253.19 L207.50 252.43 L208.88 251.70 L210.29 251.00 L211.73 250.31 L213.20 249.66 L214.72 249.04 L216.28 248.47 L217.93 247.96 L219.78 247.90 L220.10 248.17 L220.03 249.75 L219.44 251.15 L218.76 252.49 L218.04 253.78 L217.27 255.04 L216.47 256.26 L215.64 257.47 L214.78 258.65 L213.90 259.80 L212.99 260.94 L212.06 262.06 L211.11 263.15 L210.14 264.23 L209.14 265.30 L208.13 266.34 L207.10 267.37 L206.04 268.38 L204.97 269.38 L203.88 270.36 L202.77 271.32 L201.64 272.27 L200.49 273.20 L199.32 274.11 L198.14 275.01 L196.93 275.89 L195.70 276.76 L194.46 277.60 L193.19 278.43 L191.90 279.25 L190.59 280.04 L189.26 280.81 L187.90 281.57 L186.52 282.30 L185.11 283.00 L183.67 283.69 L182.20 284.34 L180.68 284.96 L179.12 285.53 L177.47 286.04 L175.62 286.10Z" fill="#b1cbec" opacity="0.9" filter="url(#bl1)"/>
<path d="M175.30 285.56 L175.30 284.01 L175.94 282.83 L176.86 281.70 L177.82 280.61 L178.80 279.53 L179.80 278.48 L180.82 277.44 L181.85 276.41 L182.89 275.39 L183.95 274.37 L185.01 273.37 L186.07 272.37 L187.15 271.37 L188.23 270.39 L189.32 269.40 L190.41 268.43 L191.51 267.46 L192.62 266.49 L193.73 265.53 L194.85 264.57 L195.97 263.62 L197.10 262.67 L198.23 261.73 L199.37 260.79 L200.52 259.85 L201.67 258.93 L202.83 258.00 L203.99 257.09 L205.17 256.18 L206.35 255.27 L207.53 254.38 L208.73 253.49 L209.94 252.61 L211.16 251.74 L212.40 250.88 L213.66 250.05 L214.94 249.23 L216.26 248.45 L217.65 247.90 L219.47 247.90 L220.10 248.44 L220.10 249.99 L219.46 251.17 L218.54 252.30 L217.58 253.39 L216.60 254.47 L215.60 255.52 L214.58 256.56 L213.55 257.59 L212.51 258.61 L211.45 259.63 L210.39 260.63 L209.33 261.63 L208.25 262.63 L207.17 263.61 L206.08 264.60 L204.99 265.57 L203.89 266.54 L202.78 267.51 L201.67 268.47 L200.55 269.43 L199.43 270.38 L198.30 271.33 L197.17 272.27 L196.03 273.21 L194.88 274.15 L193.73 275.07 L192.57 276.00 L191.41 276.91 L190.23 277.82 L189.05 278.73 L187.87 279.62 L186.67 280.51 L185.46 281.39 L184.24 282.26 L183.00 283.12 L181.74 283.95 L180.46 284.77 L179.14 285.55 L177.75 286.10 L175.93 286.10Z" fill="#5f90d3" opacity="0.85" filter="url(#bl1)"/>
<path d="M175.30 285.88 L175.89 284.69 L176.90 283.64 L177.94 282.62 L178.99 281.61 L180.06 280.61 L181.13 279.61 L182.21 278.62 L183.30 277.64 L184.39 276.66 L185.48 275.68 L186.57 274.70 L187.67 273.73 L188.78 272.76 L189.88 271.79 L190.99 270.83 L192.10 269.86 L193.21 268.90 L194.32 267.94 L195.44 266.98 L196.56 266.03 L197.68 265.07 L198.80 264.12 L199.93 263.17 L201.06 262.22 L202.19 261.28 L203.32 260.33 L204.46 259.39 L205.59 258.45 L206.73 257.51 L207.88 256.58 L209.03 255.65 L210.18 254.72 L211.33 253.79 L212.49 252.87 L213.66 251.96 L214.83 251.05 L216.02 250.15 L217.22 249.26 L218.45 248.40 L219.85 247.90 L220.10 248.12 L219.51 249.31 L218.50 250.36 L217.46 251.38 L216.41 252.39 L215.34 253.39 L214.27 254.39 L213.19 255.38 L212.10 256.36 L211.01 257.34 L209.92 258.32 L208.83 259.30 L207.73 260.27 L206.62 261.24 L205.52 262.21 L204.41 263.17 L203.30 264.14 L202.19 265.10 L201.08 266.06 L199.96 267.02 L198.84 267.97 L197.72 268.93 L196.60 269.88 L195.47 270.83 L194.34 271.78 L193.21 272.72 L192.08 273.67 L190.94 274.61 L189.81 275.55 L188.67 276.49 L187.52 277.42 L186.37 278.35 L185.22 279.28 L184.07 280.21 L182.91 281.13 L181.74 282.04 L180.57 282.95 L179.38 283.85 L178.18 284.74 L176.95 285.60 L175.55 286.10Z" fill="#9fcff4" opacity="0.95" filter="url(#bl2)"/>
<path d="M175.30 284.07 L175.30 283.30 L175.59 282.53 L176.92 281.75 L178.25 280.98 L179.58 280.20 L180.92 279.43 L182.25 278.66 L183.58 277.88 L184.91 277.11 L186.25 276.33 L187.58 275.56 L188.74 274.64 L189.86 273.69 L190.98 272.73 L192.10 271.78 L193.22 270.82 L194.34 269.87 L195.46 268.91 L196.58 267.96 L197.70 267.00 L198.82 266.05 L199.94 265.09 L201.06 264.13 L202.18 263.18 L203.30 262.23 L204.42 261.27 L205.54 260.31 L206.66 259.36 L207.78 258.41 L208.90 257.45 L210.02 256.50 L211.14 255.54 L212.26 254.59 L213.38 253.63 L214.50 252.68 L215.62 251.72 L216.74 250.77 L217.86 249.81 L218.98 248.86 L220.10 247.90 L220.10 247.90 L218.98 248.86 L217.86 249.81 L216.74 250.77 L215.62 251.72 L214.50 252.68 L213.38 253.63 L212.26 254.59 L211.14 255.54 L210.02 256.50 L208.90 257.45 L207.78 258.41 L206.66 259.36 L205.54 260.31 L204.42 261.27 L203.30 262.23 L202.18 263.18 L201.06 264.13 L199.94 265.09 L198.82 266.05 L197.70 267.00 L196.58 267.96 L195.46 268.91 L194.34 269.87 L193.22 270.82 L192.10 271.78 L190.98 272.73 L189.86 273.69 L188.74 274.64 L187.66 275.63 L186.75 276.77 L185.85 277.90 L184.94 279.04 L184.03 280.17 L183.12 281.31 L182.22 282.45 L181.31 283.58 L180.40 284.72 L179.49 285.85 L178.58 286.10 L177.68 286.10Z" fill="#2356a8" filter="url(#bl1)"/>
<path d="M175.30 286.10 L176.42 285.15 L177.54 284.19 L178.66 283.24 L179.78 282.28 L180.90 281.33 L182.02 280.37 L183.14 279.42 L184.26 278.46 L185.38 277.50 L186.50 276.55 L187.62 275.60 L188.74 274.64 L189.86 273.69 L190.98 272.73 L192.10 271.78 L193.22 270.82 L194.34 269.87 L195.46 268.91 L196.58 267.96 L197.70 267.00 L198.82 266.05 L199.94 265.09 L201.06 264.13 L202.18 263.18 L203.30 262.23 L204.42 261.27 L205.54 260.31 L206.66 259.36 L207.78 258.41 L208.90 257.45 L209.81 256.32 L210.73 255.19 L211.64 254.06 L212.56 252.93 L213.47 251.80 L214.38 250.67 L215.30 249.54 L216.21 248.41 L217.13 247.90 L218.04 247.90 L220.10 249.66 L220.10 250.44 L219.51 251.21 L218.18 251.99 L216.86 252.77 L215.53 253.55 L214.20 254.33 L212.88 255.11 L211.55 255.89 L210.23 256.67 L208.90 257.45 L207.78 258.41 L206.66 259.36 L205.54 260.31 L204.42 261.27 L203.30 262.23 L202.18 263.18 L201.06 264.13 L199.94 265.09 L198.82 266.05 L197.70 267.00 L196.58 267.96 L195.46 268.91 L194.34 269.87 L193.22 270.82 L192.10 271.78 L190.98 272.73 L189.86 273.69 L188.74 274.64 L187.62 275.60 L186.50 276.55 L185.38 277.50 L184.26 278.46 L183.14 279.42 L182.02 280.37 L180.90 281.33 L179.78 282.28 L178.66 283.24 L177.54 284.19 L176.42 285.15 L175.30 286.10Z" fill="#2d62b2" filter="url(#bl1)"/>
<path d="M197.2 275.3h.9M208.0 255.4h.9M196.1 263.3h.9M204.0 265.1h.9M214.0 252.2h.9M192.1 265.3h.9M207.1 250.2h.9M210.7 273.2h.9M218.2 259.6h.9M190.3 285.8h.9M218.3 253.1h.9M180.0 270.4h.9M203.9 264.5h.9M187.4 280.5h.9M177.7 272.1h.9M216.9 261.2h.9M189.0 270.3h.9M200.5 260.9h.9M194.2 277.4h.9M213.1 268.7h.9M216.4 248.7h.9M179.1 276.4h.9M213.4 269.9h.9M207.5 250.2h.9M193.7 265.2h.9M216.2 266.8h.9M205.0 266.1h.9M186.3 270.9h.9M191.1 281.7h.9M182.5 270.9h.9M198.6 274.7h.9M215.3 257.4h.9M181.4 268.1h.9M192.8 281.1h.9M206.4 257.6h.9M187.8 269.3h.9M181.8 274.0h.9M190.0 280.5h.9M186.6 278.8h.9M180.7 273.8h.9M189.4 267.0h.9M217.5 264.6h.9M210.5 268.5h.9M214.0 267.9h.9M212.8 256.4h.9M203.3 271.6h.9M214.3 248.5h.9M187.2 279.4h.9M219.7 250.4h.9M216.2 266.7h.9M203.2 254.4h.9M211.3 258.3h.9M213.4 257.3h.9M205.2 277.2h.9M201.9 271.5h.9M193.1 284.2h.9M212.8 264.1h.9M192.4 281.3h.9M216.0 266.8h.9M189.5 282.2h.9M181.3 275.5h.9M200.0 279.5h.9M207.9 269.0h.9M189.7 282.0h.9M191.5 266.8h.9M209.3 274.3h.9M190.2 259.3h.9M214.7 261.3h.9M175.9 277.6h.9M205.9 275.4h.9M216.3 261.5h.9M210.3 250.0h.9M194.2 283.3h.9M212.7 260.9h.9M202.1 268.9h.9M213.3 261.3h.9M211.2 259.4h.9M215.9 259.5h.9M188.7 259.9h.9M184.1 285.1h.9M203.6 257.8h.9M204.1 254.1h.9M206.0 276.1h.9M199.4 262.7h.9M217.1 260.0h.9M215.5 262.7h.9M198.3 272.9h.9M199.7 272.0h.9M205.3 274.2h.9M179.7 280.1h.9M202.6 250.6h.9M205.4 268.4h.9M215.8 255.0h.9M185.5 284.2h.9M185.8 269.3h.9M212.1 249.6h.9M185.2 281.2h.9M200.2 262.5h.9M217.5 254.1h.9M206.0 263.2h.9M197.4 253.4h.9M207.6 270.5h.9M189.6 284.2h.9M215.3 260.4h.9M216.5 249.8h.9M195.8 265.0h.9M202.2 274.5h.9M207.3 265.2h.9M217.2 265.4h.9M217.6 263.9h.9M205.1 275.0h.9M199.0 257.5h.9M212.7 250.5h.9M200.1 268.6h.9M186.8 285.3h.9M187.0 280.2h.9M212.4 256.6h.9M219.3 250.2h.9M185.7 285.2h.9M197.2 275.9h.9M217.2 260.5h.9M219.6 251.4h.9M207.7 269.9h.9M181.0 270.6h.9M197.8 260.2h.9M217.4 257.0h.9M197.0 277.3h.9M189.6 277.5h.9M190.4 282.4h.9M212.0 271.9h.9M202.6 276.6h.9M193.2 266.1h.9M187.0 269.0h.9M197.7 257.0h.9M185.9 286.2h.9M209.5 260.3h.9M217.0 260.6h.9M214.4 255.9h.9M186.5 268.9h.9M199.4 279.1h.9M219.6 255.2h.9M179.6 280.2h.9M207.6 268.3h.9M214.2 265.8h.9M208.5 269.4h.9M209.2 255.1h.9M217.6 264.4h.9M198.8 255.2h.9M200.0 276.7h.9M182.4 282.6h.9M211.1 267.7h.9M192.8 277.6h.9M210.8 252.0h.9M196.4 278.9h.9M200.6 276.3h.9M204.4 276.4h.9M205.5 270.2h.9M215.6 263.2h.9M214.2 251.5h.9M197.0 265.8h.9M184.6 284.8h.9M194.4 277.2h.9M216.6 263.6h.9M194.6 278.8h.9M185.1 272.4h.9M213.4 258.4h.9M199.1 258.0h.9M210.9 263.7h.9M205.1 264.0h.9M215.9 253.5h.9M201.1 276.8h.9M188.1 280.2h.9M220.1 254.7h.9M193.3 276.9h.9M210.0 265.2h.9M187.3 282.1h.9M198.1 277.3h.9M185.2 283.5h.9M189.3 281.1h.9M216.8 259.0h.9M180.4 271.0h.9M206.0 277.1h.9M200.3 273.2h.9M206.0 272.1h.9M218.9 254.1h.9M192.0 279.2h.9M180.7 274.8h.9M207.6 264.3h.9M202.6 275.5h.9M202.0 260.8h.9M205.8 268.1h.9M207.1 253.4h.9M212.9 266.3h.9M210.9 264.9h.9M205.4 277.8h.9M191.9 264.9h.9M187.5 266.4h.9M189.3 262.9h.9M220.0 254.0h.9M211.0 268.9h.9M210.9 265.9h.9M206.2 271.9h.9M177.4 274.6h.9M205.1 272.5h.9M209.1 252.9h.9M212.7 268.2h.9M193.7 267.1h.9M214.9 255.0h.9M199.2 282.0h.9M203.0 276.5h.9M192.1 275.5h.9M203.7 258.2h.9M219.9 255.9h.9M207.8 266.1h.9M202.5 278.8h.9M196.8 281.0h.9M209.0 250.6h.9M193.1 284.3h.9M195.5 258.4h.9M197.0 277.7h.9M204.9 276.1h.9M186.2 284.8h.9M211.0 261.2h.9M214.7 268.9h.9M217.3 252.8h.9M187.6 278.9h.9M184.9 281.9h.9M210.8 271.5h.9M196.9 280.8h.9M213.2 251.5h.9M176.6 276.8h.9M198.5 278.3h.9M197.5 274.7h.9M199.8 279.2h.9M197.1 258.9h.9M201.3 259.3h.9M208.0 273.5h.9M182.8 270.2h.9M197.7 281.7h.9M182.0 266.1h.9M180.4 278.8h.9M217.6 264.1h.9M207.6 270.6h.9M195.9 254.0h.9M193.1 268.5h.9M203.5 266.4h.9M211.0 272.9h.9M219.5 258.2h.9M202.7 267.4h.9M189.5 280.2h.9M191.3 284.2h.9M206.7 273.4h.9M214.4 267.2h.9M200.0 271.2h.9M209.0 261.1h.9M210.2 272.1h.9M220.0 258.3h.9M211.4 270.4h.9M184.8 271.8h.9M184.7 282.2h.9M201.2 275.5h.9M179.9 278.3h.9M203.0 268.2h.9M194.6 274.2h.9M187.2 267.3h.9M211.6 261.7h.9M200.8 270.1h.9M191.4 278.2h.9M209.4 249.7h.9M195.8 280.9h.9M206.6 262.7h.9M204.6 264.7h.9M194.7 284.0h.9M208.1 249.3h.9M190.9 257.7h.9M193.3 280.0h.9M207.1 275.3h.9M208.9 260.5h.9M183.3 283.8h.9M204.2 268.6h.9M187.1 263.8h.9M218.5 258.4h.9M183.1 273.2h.9M197.2 281.0h.9M202.9 257.0h.9M208.9 269.3h.9M216.8 263.2h.9M184.5 282.1h.9M214.1 260.6h.9M213.2 257.1h.9M212.2 269.5h.9M217.8 251.8h.9M203.8 275.5h.9M199.8 279.7h.9M212.4 257.6h.9M182.2 282.9h.9M196.4 281.2h.9M190.9 277.2h.9M215.6 263.8h.9M217.2 257.7h.9M202.7 279.4h.9M208.6 249.3h.9M213.8 261.2h.9M192.3 276.1h.9M215.0 256.3h.9M215.3 255.1h.9M191.9 260.5h.9M186.6 272.9h.9M205.4 276.2h.9M199.4 254.9h.9M186.3 286.2h.9M195.1 255.7h.9M192.1 276.1h.9M219.5 258.6h.9M208.6 261.4h.9M202.0 254.2h.9M185.5 268.4h.9M212.2 270.3h.9M194.1 276.4h.9M209.6 274.1h.9M207.2 255.2h.9M202.3 260.2h.9M208.9 268.5h.9M203.2 251.8h.9M211.7 271.8h.9M200.8 276.7h.9M192.2 282.3h.9M184.2 273.9h.9M211.6 271.4h.9M201.7 280.2h.9M200.4 270.6h.9M212.4 250.4h.9M200.9 272.5h.9M189.2 263.8h.9M192.6 276.9h.9M203.2 277.8h.9M197.1 264.2h.9M215.4 251.1h.9M218.2 251.9h.9M184.5 284.7h.9M199.9 262.8h.9M191.0 259.5h.9M188.2 280.9h.9M201.5 274.3h.9M207.3 268.0h.9M190.1 267.6h.9M219.4 254.2h.9M193.4 283.3h.9M218.8 250.2h.9M188.5 279.8h.9M217.0 262.9h.9M202.2 276.3h.9M212.4 250.6h.9M211.5 249.4h.9M212.1 265.1h.9M185.8 274.1h.9M196.5 253.7h.9M215.4 254.7h.9M219.2 255.8h.9M219.9 256.3h.9M199.8 273.5h.9M197.8 277.8h.9M196.6 279.1h.9M214.2 263.6h.9M207.2 267.0h.9M197.9 259.4h.9M194.5 266.5h.9M217.5 249.6h.9M201.8 269.2h.9M203.2 269.5h.9M198.3 269.2h.9M203.4 268.7h.9M193.7 268.5h.9M194.7 263.2h.9M216.4 257.9h.9M212.1 270.6h.9M198.5 274.4h.9M204.4 267.4h.9M182.3 268.8h.9M182.6 272.9h.9M187.4 262.0h.9M197.6 269.9h.9M216.1 254.3h.9M181.2 283.9h.9M195.9 275.1h.9M210.0 271.0h.9M204.7 255.5h.9M181.0 269.1h.9M219.9 260.5h.9M200.2 270.1h.9M183.5 281.5h.9M199.6 279.7h.9M207.0 272.9h.9M201.3 259.5h.9M186.3 285.7h.9M218.2 251.0h.9M187.1 285.9h.9M211.4 259.9h.9M215.4 254.6h.9M200.2 279.6h.9M193.6 284.6h.9M195.0 283.8h.9M203.2 275.3h.9M198.0 274.5h.9M213.7 258.1h.9M187.9 279.9h.9M214.5 248.7h.9M211.3 263.2h.9M203.4 279.0h.9M188.7 279.1h.9M206.7 254.6h.9M208.2 273.8h.9M212.6 261.6h.9M213.0 259.6h.9M179.1 278.8h.9M213.4 262.3h.9M211.7 253.0h.9M208.1 249.6h.9M214.9 257.0h.9M196.7 261.0h.9M201.2 279.8h.9M203.6 259.9h.9M219.2 257.6h.9M209.0 254.6h.9M218.5 260.7h.9M181.4 275.1h.9M193.8 284.0h.9M203.5 277.3h.9M220.1 251.4h.9M209.2 266.3h.9M209.9 262.1h.9M198.8 269.2h.9M192.4 258.7h.9M218.1 254.3h.9M213.6 267.9h.9M206.6 275.3h.9M182.8 283.8h.9M199.3 256.2h.9M182.4 282.4h.9M185.0 286.0h.9M189.5 263.7h.9M197.7 279.6h.9M216.9 249.0h.9M199.1 269.7h.9M210.8 266.2h.9M216.4 248.7h.9M189.4 277.0h.9M189.8 265.7h.9" stroke="#a84a38" stroke-width=".9" opacity="0.72"/>
<line x1="175.30" y1="286.10" x2="220.10" y2="247.90" stroke="#7a1616" stroke-width="1.2" />
</g>
<rect x="174.8" y="247.4" width="45.79999999999998" height="39.20000000000002" fill="none" stroke="#111" stroke-width="1.2"/>
<text x="168.80" y="287.60" font-size="4.4" fill="#444" text-anchor="end" stroke="#444" stroke-width="0.05" >0.0</text>
<text x="175.30" y="297.20" font-size="4.4" fill="#444" text-anchor="middle" stroke="#444" stroke-width="0.05" >0.0</text>
<text x="168.80" y="279.96" font-size="4.4" fill="#444" text-anchor="end" stroke="#444" stroke-width="0.05" >0.2</text>
<text x="184.26" y="297.20" font-size="4.4" fill="#444" text-anchor="middle" stroke="#444" stroke-width="0.05" >0.2</text>
<text x="168.80" y="272.32" font-size="4.4" fill="#444" text-anchor="end" stroke="#444" stroke-width="0.05" >0.4</text>
<text x="193.22" y="297.20" font-size="4.4" fill="#444" text-anchor="middle" stroke="#444" stroke-width="0.05" >0.4</text>
<text x="168.80" y="264.68" font-size="4.4" fill="#444" text-anchor="end" stroke="#444" stroke-width="0.05" >0.6</text>
<text x="202.18" y="297.20" font-size="4.4" fill="#444" text-anchor="middle" stroke="#444" stroke-width="0.05" >0.6</text>
<text x="168.80" y="257.04" font-size="4.4" fill="#444" text-anchor="end" stroke="#444" stroke-width="0.05" >0.8</text>
<text x="211.14" y="297.20" font-size="4.4" fill="#444" text-anchor="middle" stroke="#444" stroke-width="0.05" >0.8</text>
<text x="168.80" y="249.40" font-size="4.4" fill="#444" text-anchor="end" stroke="#444" stroke-width="0.05" >1.0</text>
<text x="220.10" y="297.20" font-size="4.4" fill="#444" text-anchor="middle" stroke="#444" stroke-width="0.05" >1.0</text>
<path d="M172.5 286.10H174.8M175.30 286.6V288.7M172.5 278.46H174.8M184.26 286.6V288.7M172.5 270.82H174.8M193.22 286.6V288.7M172.5 263.18H174.8M202.18 286.6V288.7M172.5 255.54H174.8M211.14 286.6V288.7M172.5 247.90H174.8M220.10 286.6V288.7" stroke="#111" stroke-width="0.8"/>
<clipPath id="c3b"><rect x="243.3" y="247.4" width="45.5" height="39.20000000000002"/></clipPath>
<g clip-path="url(#c3b)">
<path d="M243.80 286.10 L243.99 284.35 L244.23 282.65 L244.52 280.99 L244.85 279.36 L245.23 277.78 L245.66 276.24 L246.14 274.74 L246.66 273.27 L247.23 271.85 L247.85 270.47 L248.51 269.13 L249.22 267.83 L249.98 266.57 L250.78 265.36 L251.64 264.18 L252.54 263.04 L253.49 261.94 L254.48 260.89 L255.52 259.87 L256.61 258.90 L257.75 257.96 L258.93 257.07 L260.16 256.21 L261.44 255.40 L262.76 254.63 L264.13 253.90 L265.55 253.20 L267.02 252.55 L268.53 251.94 L270.10 251.37 L271.70 250.84 L273.36 250.35 L275.06 249.91 L276.81 249.50 L278.61 249.13 L280.45 248.80 L282.34 248.52 L284.28 248.27 L286.27 248.06 L288.30 247.90 L288.30 247.90 L288.11 249.65 L287.87 251.35 L287.58 253.01 L287.25 254.64 L286.87 256.22 L286.44 257.76 L285.96 259.26 L285.44 260.73 L284.87 262.15 L284.25 263.53 L283.59 264.87 L282.88 266.17 L282.12 267.43 L281.32 268.64 L280.46 269.82 L279.56 270.96 L278.61 272.06 L277.62 273.11 L276.58 274.13 L275.49 275.10 L274.35 276.04 L273.17 276.93 L271.94 277.79 L270.66 278.60 L269.34 279.37 L267.97 280.10 L266.55 280.80 L265.08 281.45 L263.57 282.06 L262.00 282.63 L260.40 283.16 L258.74 283.65 L257.04 284.09 L255.29 284.50 L253.49 284.87 L251.65 285.20 L249.76 285.48 L247.82 285.73 L245.83 285.94 L243.80 286.10Z" fill="#e3ecf8" opacity="0.95" filter="url(#bl3)"/>
<path d="M243.80 285.83 L243.86 284.25 L244.46 282.85 L245.13 281.51 L245.85 280.22 L246.61 278.96 L247.41 277.74 L248.23 276.53 L249.08 275.35 L249.96 274.20 L250.86 273.06 L251.78 271.94 L252.73 270.85 L253.70 269.77 L254.68 268.70 L255.69 267.66 L256.72 266.63 L257.76 265.62 L258.83 264.62 L259.91 263.64 L261.02 262.68 L262.14 261.73 L263.28 260.80 L264.44 259.89 L265.62 258.99 L266.82 258.11 L268.03 257.24 L269.27 256.40 L270.53 255.57 L271.81 254.75 L273.11 253.96 L274.43 253.19 L275.78 252.43 L277.16 251.70 L278.56 251.00 L279.99 250.31 L281.45 249.66 L282.96 249.04 L284.51 248.47 L286.14 247.96 L287.99 247.90 L288.30 248.17 L288.24 249.75 L287.64 251.15 L286.97 252.49 L286.25 253.78 L285.49 255.04 L284.69 256.26 L283.87 257.47 L283.02 258.65 L282.14 259.80 L281.24 260.94 L280.32 262.06 L279.37 263.15 L278.40 264.23 L277.42 265.30 L276.41 266.34 L275.38 267.37 L274.34 268.38 L273.27 269.38 L272.19 270.36 L271.08 271.32 L269.96 272.27 L268.82 273.20 L267.66 274.11 L266.48 275.01 L265.28 275.89 L264.07 276.76 L262.83 277.60 L261.57 278.43 L260.29 279.25 L258.99 280.04 L257.67 280.81 L256.32 281.57 L254.94 282.30 L253.54 283.00 L252.11 283.69 L250.65 284.34 L249.14 284.96 L247.59 285.53 L245.96 286.04 L244.11 286.10Z" fill="#b1cbec" opacity="0.9" filter="url(#bl1)"/>
<path d="M243.80 285.56 L243.80 284.01 L244.44 282.83 L245.35 281.70 L246.30 280.61 L247.28 279.53 L248.27 278.48 L249.28 277.44 L250.31 276.41 L251.34 275.39 L252.39 274.37 L253.44 273.37 L254.50 272.37 L255.57 271.37 L256.64 270.39 L257.73 269.40 L258.81 268.43 L259.91 267.46 L261.00 266.49 L262.11 265.53 L263.22 264.57 L264.33 263.62 L265.45 262.67 L266.58 261.73 L267.71 260.79 L268.85 259.85 L269.99 258.93 L271.14 258.00 L272.30 257.09 L273.47 256.18 L274.64 255.27 L275.82 254.38 L277.01 253.49 L278.21 252.61 L279.42 251.74 L280.65 250.88 L281.90 250.05 L283.17 249.23 L284.49 248.45 L285.87 247.90 L287.67 247.90 L288.30 248.44 L288.30 249.99 L287.66 251.17 L286.75 252.30 L285.80 253.39 L284.82 254.47 L283.83 255.52 L282.82 256.56 L281.79 257.59 L280.76 258.61 L279.71 259.63 L278.66 260.63 L277.60 261.63 L276.53 262.63 L275.46 263.61 L274.37 264.60 L273.29 265.57 L272.19 266.54 L271.10 267.51 L269.99 268.47 L268.88 269.43 L267.77 270.38 L266.65 271.33 L265.52 272.27 L264.39 273.21 L263.25 274.15 L262.11 275.07 L260.96 276.00 L259.80 276.91 L258.63 277.82 L257.46 278.73 L256.28 279.62 L255.09 280.51 L253.89 281.39 L252.68 282.26 L251.45 283.12 L250.20 283.95 L248.93 284.77 L247.61 285.55 L246.23 286.10 L244.43 286.10Z" fill="#5f90d3" opacity="0.85" filter="url(#bl1)"/>
<path d="M243.80 285.88 L244.39 284.69 L245.39 283.64 L246.42 282.62 L247.47 281.61 L248.53 280.61 L249.59 279.61 L250.67 278.62 L251.74 277.64 L252.82 276.66 L253.91 275.68 L255.00 274.70 L256.09 273.73 L257.19 272.76 L258.28 271.79 L259.38 270.83 L260.49 269.86 L261.59 268.90 L262.70 267.94 L263.81 266.98 L264.92 266.03 L266.03 265.07 L267.15 264.12 L268.26 263.17 L269.39 262.22 L270.51 261.28 L271.63 260.33 L272.76 259.39 L273.89 258.45 L275.02 257.51 L276.16 256.58 L277.30 255.65 L278.44 254.72 L279.59 253.79 L280.74 252.87 L281.90 251.96 L283.07 251.05 L284.25 250.15 L285.44 249.26 L286.66 248.40 L288.05 247.90 L288.30 248.12 L287.71 249.31 L286.71 250.36 L285.68 251.38 L284.63 252.39 L283.57 253.39 L282.51 254.39 L281.43 255.38 L280.36 256.36 L279.28 257.34 L278.19 258.32 L277.10 259.30 L276.01 260.27 L274.91 261.24 L273.82 262.21 L272.72 263.17 L271.61 264.14 L270.51 265.10 L269.40 266.06 L268.29 267.02 L267.18 267.97 L266.07 268.93 L264.95 269.88 L263.84 270.83 L262.71 271.78 L261.59 272.72 L260.47 273.67 L259.34 274.61 L258.21 275.55 L257.08 276.49 L255.94 277.42 L254.80 278.35 L253.66 279.28 L252.51 280.21 L251.36 281.13 L250.20 282.04 L249.03 282.95 L247.85 283.85 L246.66 284.74 L245.44 285.60 L244.05 286.10Z" fill="#9fcff4" opacity="0.95" filter="url(#bl2)"/>
<path d="M243.80 284.07 L243.80 283.30 L244.09 282.53 L245.41 281.75 L246.73 280.98 L248.06 280.20 L249.38 279.43 L250.70 278.66 L252.03 277.88 L253.35 277.11 L254.67 276.33 L256.00 275.56 L257.15 274.64 L258.26 273.69 L259.38 272.73 L260.49 271.78 L261.60 270.82 L262.71 269.87 L263.82 268.91 L264.94 267.96 L266.05 267.00 L267.16 266.05 L268.28 265.09 L269.39 264.13 L270.50 263.18 L271.61 262.23 L272.73 261.27 L273.84 260.31 L274.95 259.36 L276.06 258.41 L277.18 257.45 L278.29 256.50 L279.40 255.54 L280.51 254.59 L281.62 253.63 L282.74 252.68 L283.85 251.72 L284.96 250.77 L286.07 249.81 L287.19 248.86 L288.30 247.90 L288.30 247.90 L287.19 248.86 L286.07 249.81 L284.96 250.77 L283.85 251.72 L282.74 252.68 L281.62 253.63 L280.51 254.59 L279.40 255.54 L278.29 256.50 L277.18 257.45 L276.06 258.41 L274.95 259.36 L273.84 260.31 L272.73 261.27 L271.61 262.23 L270.50 263.18 L269.39 264.13 L268.28 265.09 L267.16 266.05 L266.05 267.00 L264.94 267.96 L263.82 268.91 L262.71 269.87 L261.60 270.82 L260.49 271.78 L259.38 272.73 L258.26 273.69 L257.15 274.64 L256.08 275.63 L255.18 276.77 L254.28 277.90 L253.37 279.04 L252.47 280.17 L251.57 281.31 L250.67 282.45 L249.77 283.58 L248.87 284.72 L247.96 285.85 L247.06 286.10 L246.16 286.10Z" fill="#2356a8" filter="url(#bl1)"/>
<path d="M243.80 286.10 L244.91 285.15 L246.03 284.19 L247.14 283.24 L248.25 282.28 L249.36 281.33 L250.48 280.37 L251.59 279.42 L252.70 278.46 L253.81 277.50 L254.93 276.55 L256.04 275.60 L257.15 274.64 L258.26 273.69 L259.38 272.73 L260.49 271.78 L261.60 270.82 L262.71 269.87 L263.82 268.91 L264.94 267.96 L266.05 267.00 L267.16 266.05 L268.28 265.09 L269.39 264.13 L270.50 263.18 L271.61 262.23 L272.73 261.27 L273.84 260.31 L274.95 259.36 L276.06 258.41 L277.18 257.45 L278.08 256.32 L278.99 255.19 L279.90 254.06 L280.81 252.93 L281.71 251.80 L282.62 250.67 L283.53 249.54 L284.44 248.41 L285.35 247.90 L286.25 247.90 L288.30 249.66 L288.30 250.44 L287.71 251.21 L286.39 251.99 L285.08 252.77 L283.76 253.55 L282.44 254.33 L281.13 255.11 L279.81 255.89 L278.49 256.67 L277.18 257.45 L276.06 258.41 L274.95 259.36 L273.84 260.31 L272.73 261.27 L271.61 262.23 L270.50 263.18 L269.39 264.13 L268.28 265.09 L267.16 266.05 L266.05 267.00 L264.94 267.96 L263.82 268.91 L262.71 269.87 L261.60 270.82 L260.49 271.78 L259.38 272.73 L258.26 273.69 L257.15 274.64 L256.04 275.60 L254.93 276.55 L253.81 277.50 L252.70 278.46 L251.59 279.42 L250.48 280.37 L249.36 281.33 L248.25 282.28 L247.14 283.24 L246.03 284.19 L244.91 285.15 L243.80 286.10Z" fill="#2d62b2" filter="url(#bl1)"/>
<path d="M286.8 251.8h.9M257.9 263.0h.9M285.5 256.6h.9M262.8 257.5h.9M249.4 277.6h.9M269.7 256.9h.9M247.0 279.6h.9M248.8 269.8h.9M276.5 250.3h.9M259.1 267.9h.9M276.0 249.7h.9M265.4 257.9h.9M263.3 281.7h.9" stroke="#b8604c" stroke-width=".9" opacity="0.5"/>
<line x1="243.80" y1="286.10" x2="288.30" y2="247.90" stroke="#7a1616" stroke-width="1.2" />
</g>
<rect x="243.3" y="247.4" width="45.5" height="39.20000000000002" fill="none" stroke="#111" stroke-width="1.2"/>
<text x="237.30" y="287.60" font-size="4.4" fill="#444" text-anchor="end" stroke="#444" stroke-width="0.05" >0.0</text>
<text x="243.80" y="297.20" font-size="4.4" fill="#444" text-anchor="middle" stroke="#444" stroke-width="0.05" >0.0</text>
<text x="237.30" y="279.96" font-size="4.4" fill="#444" text-anchor="end" stroke="#444" stroke-width="0.05" >0.2</text>
<text x="252.70" y="297.20" font-size="4.4" fill="#444" text-anchor="middle" stroke="#444" stroke-width="0.05" >0.2</text>
<text x="237.30" y="272.32" font-size="4.4" fill="#444" text-anchor="end" stroke="#444" stroke-width="0.05" >0.4</text>
<text x="261.60" y="297.20" font-size="4.4" fill="#444" text-anchor="middle" stroke="#444" stroke-width="0.05" >0.4</text>
<text x="237.30" y="264.68" font-size="4.4" fill="#444" text-anchor="end" stroke="#444" stroke-width="0.05" >0.6</text>
<text x="270.50" y="297.20" font-size="4.4" fill="#444" text-anchor="middle" stroke="#444" stroke-width="0.05" >0.6</text>
<text x="237.30" y="257.04" font-size="4.4" fill="#444" text-anchor="end" stroke="#444" stroke-width="0.05" >0.8</text>
<text x="279.40" y="297.20" font-size="4.4" fill="#444" text-anchor="middle" stroke="#444" stroke-width="0.05" >0.8</text>
<text x="237.30" y="249.40" font-size="4.4" fill="#444" text-anchor="end" stroke="#444" stroke-width="0.05" >1.0</text>
<text x="288.30" y="297.20" font-size="4.4" fill="#444" text-anchor="middle" stroke="#444" stroke-width="0.05" >1.0</text>
<path d="M241.0 286.10H243.3M243.80 286.6V288.7M241.0 278.46H243.3M252.70 286.6V288.7M241.0 270.82H243.3M261.60 286.6V288.7M241.0 263.18H243.3M270.50 286.6V288.7M241.0 255.54H243.3M279.40 286.6V288.7M241.0 247.90H243.3M288.30 286.6V288.7" stroke="#111" stroke-width="0.8"/>
<text x="0" y="0" font-size="6.2" fill="#222" stroke="#222" stroke-width="0.08" text-anchor="middle" textLength="28.3" lengthAdjust="spacingAndGlyphs" transform="translate(21.6,200.5) rotate(-90)">β-value M-CLL</text>
<line x1="20.30" y1="174.70" x2="20.30" y2="183.70" stroke="#222" stroke-width="0.8" />
<path d="M18.9 175.3 L20.3 172.7 L21.7 175.3Z" fill="#222"/>
<text x="0" y="0" font-size="6.2" fill="#222" stroke="#222" stroke-width="0.08" text-anchor="middle" textLength="30" lengthAdjust="spacingAndGlyphs" transform="translate(21.6,272.6) rotate(-90)">β-value low BR</text>
<line x1="20.30" y1="246.50" x2="20.30" y2="255.50" stroke="#222" stroke-width="0.8" />
<path d="M18.9 247.1 L20.3 244.5 L21.7 247.1Z" fill="#222"/>
<text x="38.80" y="234.60" font-size="6.6" fill="#222" textLength="28.2" lengthAdjust="spacingAndGlyphs" stroke="#222" stroke-width="0.2" >β-value U-CLL</text>
<line x1="70.00" y1="232.60" x2="248.00" y2="232.60" stroke="#111" stroke-width="0.9" />
<path d="M247 231.2 L251.3 232.6 L247 234.0Z" fill="#111"/>
<text x="38.80" y="306.30" font-size="6.6" fill="#222" textLength="32" lengthAdjust="spacingAndGlyphs" stroke="#222" stroke-width="0.2" >β-value high BR</text>
<line x1="74.00" y1="304.20" x2="248.00" y2="304.20" stroke="#111" stroke-width="0.9" />
<path d="M247 302.8 L251.3 304.2 L247 305.6Z" fill="#111"/>
<path d="M52.04 161.17L48.80 160.12M52.71 159.71L49.81 157.93M53.70 158.44L51.29 156.04M54.96 157.44L53.17 154.55M56.42 156.75L55.35 153.53M58.00 156.43L57.70 153.04" stroke="#4a5060" stroke-width="1.4" stroke-linecap="round"/>
<path d="M65.6 157.0 L69.9 157.9 L70.8 163.9 L66.6 164.8 Z" fill="#24160c"/>
<circle cx="59.6" cy="164.4" r="8.6" fill="#fff" stroke="#8a8a8a" stroke-width="0.55"/>
<circle cx="58.6" cy="163.3" r="5.6" fill="#f3d5d3" stroke="#7a7a7a" stroke-width="0.9"/>
<text x="58.60" y="165.60" font-size="6.4" fill="#c8405a" text-anchor="middle" font-weight="bold" textLength="7" lengthAdjust="spacingAndGlyphs">PF</text>
<text x="31.00" y="153.20" font-size="4.6" fill="#5a6478" textLength="9.6" lengthAdjust="spacingAndGlyphs" >CD5</text>
<text x="40.90" y="150.90" font-size="2.76" fill="#5a6478" textLength="6.5" lengthAdjust="spacingAndGlyphs" >Bright</text>
<text x="72.30" y="163.20" font-size="4.6" fill="#8a6a3a" textLength="13.2" lengthAdjust="spacingAndGlyphs" >CXCR4</text>
<text x="85.80" y="160.90" font-size="2.76" fill="#8a6a3a" textLength="5.2" lengthAdjust="spacingAndGlyphs" >Dim</text>
<path d="M118.37 158.98L115.85 156.71M120.15 157.57L118.51 154.59M122.30 156.80L121.71 153.46" stroke="#4a5060" stroke-width="1.4" stroke-linecap="round"/>
<path d="M130.6 158 L134 156.8 L135.8 161 L135.3 168.8 L131 168 Z" fill="#24160c"/>
<circle cx="124.5" cy="164.7" r="8.6" fill="#fff" stroke="#8a8a8a" stroke-width="0.55"/>
<circle cx="123.5" cy="163.6" r="5.6" fill="#f9dfb6" stroke="#7a7a7a" stroke-width="0.9"/>
<text x="123.50" y="165.90" font-size="6.4" fill="#e39a3a" text-anchor="middle" font-weight="bold" textLength="7" lengthAdjust="spacingAndGlyphs">IF</text>
<text x="106.00" y="153.00" font-size="4.6" fill="#8a8e9a" textLength="9.4" lengthAdjust="spacingAndGlyphs" >CD5</text>
<text x="115.70" y="150.70" font-size="2.76" fill="#8a8e9a" textLength="4.0" lengthAdjust="spacingAndGlyphs" >Int</text>
<text x="138.30" y="162.50" font-size="4.6" fill="#8a6a3a" textLength="13.2" lengthAdjust="spacingAndGlyphs" >CXCR4</text>
<text x="151.80" y="160.20" font-size="2.76" fill="#8a6a3a" textLength="4.0" lengthAdjust="spacingAndGlyphs" >Int</text>
<path d="M188.38 155.81L187.18 152.84" stroke="#4a5060" stroke-width="1.2" stroke-linecap="round"/>
<path d="M197.96 155.32 A10.0 10.0 0 0 1 188.38 172.60" stroke="#24160c" stroke-width="4.2" fill="none" stroke-dasharray="1.0 0.6"/>
<path d="M197.96 155.32 A10.0 10.0 0 0 1 188.38 172.60" stroke="#24160c" stroke-width="2.52" fill="none"/>
<circle cx="192.0" cy="163.4" r="8.6" fill="#fff" stroke="#8a8a8a" stroke-width="0.55"/>
<circle cx="191" cy="162.3" r="5.6" fill="#dcebd0" stroke="#7a7a7a" stroke-width="0.9"/>
<text x="191.00" y="164.60" font-size="6.4" fill="#4e7f56" text-anchor="middle" font-weight="normal" textLength="7" lengthAdjust="spacingAndGlyphs">RF</text>
<text x="171.50" y="153.70" font-size="4.6" fill="#8a8e9a" textLength="9.4" lengthAdjust="spacingAndGlyphs" >CD5</text>
<text x="181.20" y="151.40" font-size="2.76" fill="#8a8e9a" textLength="4.6" lengthAdjust="spacingAndGlyphs" >Dim</text>
<text x="204.50" y="168.20" font-size="4.6" fill="#5a3a1a" font-weight="bold" textLength="14.5" lengthAdjust="spacingAndGlyphs" >CXCR4</text>
<text x="219.30" y="165.90" font-size="2.76" fill="#5a3a1a" font-weight="bold" textLength="7.2" lengthAdjust="spacingAndGlyphs" >Bright</text>
<text x="242.80" y="167.00" font-size="6.3" fill="#444" textLength="11.8" lengthAdjust="spacingAndGlyphs" >Total</text>
<path d="M256.94 158.80L254.12 157.78M257.61 157.43L255.07 155.84M258.55 156.23L256.39 154.15M259.72 155.25L258.04 152.76M261.07 154.53L259.94 151.75M262.53 154.11L262.01 151.16" stroke="#4a5060" stroke-width="1.2" stroke-linecap="round"/>
<path d="M269.43 146.31L267.84 143.77M270.72 145.67L269.66 142.86M272.12 145.30L271.63 142.34M273.55 145.20L273.66 142.21" stroke="#4a5060" stroke-width="1.2" stroke-linecap="round"/>
<path d="M279.82 148.96 A11.4 11.4 0 0 1 276.70 171.19" stroke="#24160c" stroke-width="4.6" fill="none" stroke-dasharray="1.0 0.6"/>
<path d="M279.82 148.96 A11.4 11.4 0 0 1 276.70 171.19" stroke="#24160c" stroke-width="2.76" fill="none"/>
<circle cx="278.0" cy="164.79999999999998" r="7.2" fill="#fff" stroke="#8a8a8a" stroke-width="0.7"/>
<circle cx="277.5" cy="164.2" r="5.0" fill="#d9e9cf" stroke="#8a8a8a" stroke-width="0.9"/>
<circle cx="264.3" cy="161.9" r="7.6000000000000005" fill="#fff" stroke="#8a8a8a" stroke-width="0.7"/>
<circle cx="263.8" cy="161.3" r="5.4" fill="#eed3d0" stroke="#8a8a8a" stroke-width="0.9"/>
<circle cx="273.8" cy="153.1" r="7.6000000000000005" fill="#fff" stroke="#8a8a8a" stroke-width="0.7"/>
<circle cx="273.3" cy="152.5" r="5.4" fill="#f6dcb2" stroke="#8a8a8a" stroke-width="0.9"/>
<ellipse cx="0" cy="0" rx="65.3" ry="37.6" transform="translate(436.8,240.6) rotate(-45)" fill="rgb(245,200,140)" fill-opacity="0.5" stroke="#e8a850" stroke-width="0.9"/>
<ellipse cx="0" cy="0" rx="65.3" ry="37.6" transform="translate(381.2,240.6) rotate(45)" fill="rgb(230,195,195)" fill-opacity="0.55" stroke="#d0485e" stroke-width="0.9"/>
<ellipse cx="0" cy="0" rx="66.0" ry="27.0" transform="translate(409.0,221.7) rotate(45)" fill="rgb(170,210,140)" fill-opacity="0.45" stroke="#99c97c" stroke-width="0.9"/>
<ellipse cx="0" cy="0" rx="61.8" ry="28.5" transform="translate(408.75,221.65) rotate(-45)" fill="#ffffff" fill-opacity="0.62" stroke="#a0a0a0" stroke-width="0.8"/>
<text x="379.60" y="162.40" font-size="8.8" fill="#222" textLength="60.8" lengthAdjust="spacingAndGlyphs" stroke="#222" stroke-width="0.15" >U-CLL vs. M-CLL</text>
<text x="380.30" y="187.30" font-size="6.6" fill="#6a3d8a" text-anchor="middle" textLength="14.60" lengthAdjust="spacingAndGlyphs" stroke="#6a3d8a" stroke-width="0.15" >1531</text>
<line x1="373.00" y1="188.30" x2="387.60" y2="188.30" stroke="#6a3d8a" stroke-width="0.45" />
<text x="436.70" y="187.30" font-size="6.6" fill="#222" text-anchor="middle" textLength="14.60" lengthAdjust="spacingAndGlyphs" stroke="#222" stroke-width="0.15" >1921</text>
<text x="371.40" y="205.90" font-size="6.6" fill="#222" text-anchor="middle" textLength="10.95" lengthAdjust="spacingAndGlyphs" stroke="#222" stroke-width="0.15" >398</text>
<text x="408.70" y="202.40" font-size="6.6" fill="#222" text-anchor="middle" textLength="14.60" lengthAdjust="spacingAndGlyphs" stroke="#222" stroke-width="0.15" >1600</text>
<text x="444.40" y="205.90" font-size="6.6" fill="#222" text-anchor="middle" textLength="10.95" lengthAdjust="spacingAndGlyphs" stroke="#222" stroke-width="0.15" >188</text>
<text x="389.60" y="222.90" font-size="6.6" fill="#222" text-anchor="middle" textLength="14.60" lengthAdjust="spacingAndGlyphs" stroke="#222" stroke-width="0.15" >1793</text>
<text x="425.80" y="222.90" font-size="6.6" fill="#222" text-anchor="middle" textLength="10.95" lengthAdjust="spacingAndGlyphs" stroke="#222" stroke-width="0.15" >556</text>
<text x="407.10" y="243.40" font-size="6.6" fill="#4a6aa8" text-anchor="middle" textLength="14.60" lengthAdjust="spacingAndGlyphs" stroke="#4a6aa8" stroke-width="0.15" >9966</text>
<line x1="399.80" y1="244.40" x2="414.40" y2="244.40" stroke="#4a6aa8" stroke-width="0.45" />
<text x="372.80" y="252.70" font-size="6.6" fill="#222" text-anchor="middle" textLength="10.95" lengthAdjust="spacingAndGlyphs" stroke="#222" stroke-width="0.15" >705</text>
<text x="392.40" y="260.20" font-size="6.6" fill="#222" text-anchor="middle" textLength="10.95" lengthAdjust="spacingAndGlyphs" stroke="#222" stroke-width="0.15" >373</text>
<text x="423.40" y="260.20" font-size="6.6" fill="#222" text-anchor="middle" textLength="10.95" lengthAdjust="spacingAndGlyphs" stroke="#222" stroke-width="0.15" >268</text>
<text x="442.80" y="252.70" font-size="6.6" fill="#222" text-anchor="middle" textLength="10.95" lengthAdjust="spacingAndGlyphs" stroke="#222" stroke-width="0.15" >132</text>
<text x="408.30" y="278.90" font-size="6.6" fill="#222" text-anchor="middle" textLength="10.95" lengthAdjust="spacingAndGlyphs" stroke="#222" stroke-width="0.15" >224</text>
<text x="346.80" y="223.10" font-size="6.6" fill="#6a3d8a" text-anchor="middle" textLength="10.95" lengthAdjust="spacingAndGlyphs" stroke="#6a3d8a" stroke-width="0.15" >941</text>
<line x1="341.32" y1="224.10" x2="352.28" y2="224.10" stroke="#6a3d8a" stroke-width="0.45" />
<text x="466.70" y="222.70" font-size="6.6" fill="#6a3d8a" text-anchor="middle" textLength="10.95" lengthAdjust="spacingAndGlyphs" stroke="#6a3d8a" stroke-width="0.15" >291</text>
<line x1="461.22" y1="223.70" x2="472.18" y2="223.70" stroke="#6a3d8a" stroke-width="0.45" />
<circle cx="320.3" cy="200.9" r="5.9" fill="#f6e2e2" stroke="#c8405a" stroke-width="1.3"/>
<text x="320.30" y="202.90" font-size="5.6" fill="#c8405a" text-anchor="middle" >PF</text>
<circle cx="353.1" cy="173.4" r="5.9" fill="#e6f0e0" stroke="#4e8a5e" stroke-width="1.3"/>
<text x="353.10" y="175.40" font-size="5.6" fill="#4e8a5e" text-anchor="middle" >RF</text>
<circle cx="500.5" cy="207.3" r="5.9" fill="#fbefd9" stroke="#e0a040" stroke-width="1.3"/>
<text x="500.50" y="209.30" font-size="5.6" fill="#e0a040" text-anchor="middle" >IF</text>
<text x="456.70" y="176.30" font-size="5.8" fill="#222" textLength="12.3" lengthAdjust="spacingAndGlyphs" >Total</text>
<circle cx="474.8" cy="175.3" r="3.9" fill="#bdbdbd" stroke="#333" stroke-width="0.9"/>
<circle cx="481.4" cy="177.4" r="3.9" fill="#bdbdbd" stroke="#333" stroke-width="0.9"/>
<circle cx="478.7" cy="171.6" r="3.9" fill="#bdbdbd" stroke="#333" stroke-width="0.9"/>
<rect x="39.50" y="347.50" width="73.50" height="94.50" fill="#f0e6cc"/>
<g transform="translate(39.50,347.50) scale(3.5000,1.5000)" stroke-width="1.04">
<path stroke="#fbda9d" d="M0 0.5h1M5 1.5h1M7 3.5h1M3 4.5h1M7 4.5h1M0 5.5h1M5 7.5h1M6 10.5h1M7 12.5h1M1 14.5h2M4 15.5h1M8 18.5h1M19 18.5h1M10 19.5h1M13 19.5h1M17 19.5h1M10 20.5h1M15 20.5h1M10 21.5h1M20 21.5h1M8 22.5h2M13 22.5h1M15 22.5h1M17 22.5h2M7 23.5h1M11 23.5h1M17 24.5h1M12 25.5h1M14 25.5h1M7 26.5h1M1 28.5h1M5 28.5h1M17 29.5h1M0 30.5h1M15 31.5h1M6 32.5h2M13 32.5h1M11 33.5h1M18 33.5h1M16 34.5h2M10 35.5h1M20 35.5h1M14 36.5h1M18 38.5h1M19 56.5h1M18 62.5h1"/>
<path stroke="#fcecb8" d="M1 0.5h1M5 0.5h1M16 2.5h1M2 3.5h1M5 3.5h1M2 5.5h1M1 6.5h1M5 6.5h1M7 7.5h1M5 8.5h1M15 11.5h1M0 12.5h1M5 12.5h1M2 13.5h1M19 13.5h1M2 15.5h1M5 15.5h2M16 16.5h1M19 16.5h1M9 17.5h1M18 17.5h1M10 18.5h1M12 18.5h1M16 18.5h1M9 19.5h1M14 19.5h1M10 22.5h1M14 22.5h1M5 23.5h2M2 24.5h1M6 24.5h2M4 26.5h2M3 29.5h1M5 29.5h1M14 29.5h1M3 30.5h1M2 33.5h1M6 33.5h1M15 33.5h1M2 34.5h1M17 35.5h1M19 38.5h1M1 39.5h1M4 45.5h1M1 46.5h1M2 50.5h1M19 55.5h2M15 56.5h1M20 58.5h1M9 59.5h1M13 59.5h1M19 60.5h1M11 61.5h1M16 62.5h1M20 62.5h1"/>
<path stroke="#fad08f" d="M2 0.5h1M7 2.5h1M1 5.5h1M6 5.5h1M4 6.5h1M4 7.5h1M1 8.5h1M4 8.5h1M6 8.5h1M3 9.5h2M7 9.5h1M2 10.5h1M1 11.5h1M4 11.5h2M2 12.5h1M4 12.5h1M7 13.5h1M5 14.5h1M7 14.5h1M3 15.5h1M13 16.5h1M16 20.5h2M13 21.5h1M19 21.5h1M20 22.5h1M0 23.5h1M9 24.5h1M12 24.5h1M7 25.5h1M6 26.5h1M14 27.5h1M7 28.5h1M2 29.5h1M12 29.5h1M20 29.5h1M5 30.5h1M18 31.5h1M15 32.5h1M9 33.5h1M13 34.5h1M15 34.5h1M14 35.5h2M18 35.5h1M9 37.5h1M11 37.5h1M13 37.5h2M8 38.5h1M11 38.5h1M14 38.5h1M16 58.5h1M19 59.5h1M8 61.5h1"/>
<path stroke="#f9f0c5" d="M3 0.5h1M1 7.5h2M0 8.5h1M20 9.5h1M0 10.5h2M3 10.5h1M19 11.5h1M3 12.5h1M19 12.5h1M6 13.5h1M0 14.5h1M0 15.5h1M10 16.5h1M14 17.5h1M17 17.5h1M19 17.5h1M18 18.5h1M20 18.5h1M15 19.5h1M9 21.5h1M14 21.5h1M17 21.5h2M16 22.5h1M1 23.5h1M1 24.5h1M6 25.5h1M4 27.5h1M4 29.5h1M2 31.5h1M4 31.5h1M0 32.5h1M2 32.5h1M7 33.5h1M4 34.5h1M6 38.5h1M7 39.5h1M1 40.5h1M7 40.5h1M2 43.5h1M7 43.5h1M7 45.5h1M0 46.5h1M5 46.5h1M7 46.5h1M6 48.5h1M14 55.5h1M17 55.5h2M8 56.5h2M16 56.5h2M8 57.5h1M12 58.5h2M15 58.5h1M18 58.5h2M10 59.5h1M13 60.5h1M9 61.5h1M13 61.5h1M17 61.5h1M10 62.5h1M14 62.5h1M17 62.5h1"/>
<path stroke="#ef9b5d" d="M4 0.5h1M4 2.5h2M4 5.5h1M2 9.5h1M2 11.5h1M6 11.5h1M3 16.5h1M1 17.5h1M4 18.5h1M1 19.5h1M3 19.5h1M6 20.5h1M1 22.5h1M3 22.5h1M10 23.5h1M13 25.5h1M10 26.5h1M13 26.5h1M20 27.5h1M11 28.5h1M9 29.5h2M9 30.5h1M11 30.5h1M11 32.5h2M17 32.5h3M12 33.5h3M20 34.5h1M8 35.5h1M19 35.5h1M19 36.5h1M10 38.5h1"/>
<path stroke="#f8c382" d="M6 0.5h2M0 1.5h3M1 2.5h1M1 3.5h1M6 3.5h1M1 4.5h1M4 4.5h1M6 4.5h1M7 5.5h1M0 6.5h1M2 6.5h1M3 8.5h1M7 8.5h1M1 9.5h1M6 9.5h1M4 10.5h1M5 17.5h1M19 19.5h1M9 20.5h1M12 21.5h1M19 22.5h1M2 23.5h1M8 25.5h2M11 25.5h1M15 25.5h2M18 25.5h1M0 26.5h1M9 26.5h1M15 26.5h1M1 27.5h1M7 27.5h1M0 28.5h1M3 28.5h1M9 31.5h2M16 31.5h1M19 31.5h2M9 32.5h1M14 32.5h1M16 32.5h1M8 33.5h1M16 33.5h1M19 33.5h1M13 35.5h1M8 36.5h1M13 36.5h1M17 36.5h1M17 37.5h2M16 55.5h1M10 56.5h1"/>
<path stroke="#f3f0d1" d="M8 0.5h1M19 2.5h1M3 3.5h1M19 5.5h1M9 6.5h1M15 6.5h1M20 6.5h1M3 7.5h1M16 10.5h1M11 12.5h1M16 12.5h1M20 12.5h1M13 13.5h1M9 14.5h1M12 14.5h1M1 15.5h1M12 16.5h1M15 16.5h1M18 16.5h1M20 16.5h1M11 17.5h3M16 17.5h1M20 17.5h1M12 19.5h1M3 23.5h1M0 24.5h1M3 24.5h1M5 24.5h1M1 25.5h1M4 25.5h1M3 26.5h1M0 29.5h2M3 32.5h1M0 33.5h1M0 34.5h1M4 35.5h1M6 36.5h1M2 37.5h1M12 38.5h1M15 38.5h1M6 39.5h1M4 43.5h1M6 43.5h1M3 46.5h1M4 48.5h1M0 50.5h1M4 50.5h1M0 51.5h1M14 58.5h1M14 60.5h2M17 60.5h2M20 60.5h1M15 61.5h2M18 61.5h1M13 62.5h1"/>
<path stroke="#8cb0de" d="M9 0.5h1M16 0.5h1M9 1.5h1M15 2.5h1M11 3.5h1M13 3.5h1M18 4.5h1M17 5.5h2M11 7.5h1M16 7.5h1M14 8.5h1M11 9.5h1M15 9.5h1M18 10.5h1M18 12.5h1M15 15.5h1M18 15.5h1M20 15.5h1M3 35.5h1M0 37.5h1M20 39.5h1M9 40.5h2M12 40.5h1M5 41.5h1M5 42.5h1M20 44.5h1M10 45.5h1M18 45.5h1M11 46.5h1M13 46.5h1M16 46.5h1M10 48.5h1M14 48.5h1M18 50.5h1M19 51.5h1M1 52.5h1M5 54.5h1M6 55.5h1M0 56.5h1M2 57.5h1M1 58.5h1M7 58.5h1M2 61.5h1"/>
<path stroke="#9bbae2" d="M10 0.5h1M13 0.5h1M20 0.5h1M20 1.5h1M10 2.5h1M20 2.5h1M10 3.5h1M15 3.5h1M17 6.5h1M12 7.5h1M19 7.5h1M18 9.5h1M8 10.5h1M10 10.5h1M17 10.5h1M11 11.5h1M11 14.5h1M9 15.5h1M17 15.5h1M3 25.5h1M8 39.5h1M16 39.5h2M8 41.5h1M8 42.5h3M13 42.5h1M19 42.5h2M17 43.5h1M20 43.5h1M8 45.5h1M20 46.5h1M19 47.5h1M11 48.5h1M17 48.5h1M3 49.5h1M10 49.5h1M9 50.5h1M16 50.5h1M6 51.5h2M5 52.5h1M19 52.5h1M1 53.5h1M5 53.5h1M2 56.5h1M15 57.5h1M2 58.5h1M4 58.5h1M6 58.5h1M0 62.5h1M6 62.5h2"/>
<path stroke="#edf0dc" d="M11 0.5h1M18 1.5h1M13 2.5h1M0 3.5h1M5 4.5h1M8 4.5h1M10 4.5h2M14 4.5h1M16 4.5h1M19 4.5h1M8 6.5h1M12 11.5h1M20 11.5h1M5 13.5h1M14 13.5h1M8 14.5h1M8 16.5h2M8 17.5h1M13 18.5h1M15 18.5h1M17 18.5h1M18 20.5h1M3 27.5h1M3 31.5h1M7 31.5h1M1 32.5h1M12 35.5h1M1 37.5h1M6 37.5h1M16 38.5h1M4 39.5h2M2 40.5h1M2 42.5h3M3 43.5h1M6 44.5h1M0 45.5h1M4 46.5h1M6 47.5h1M2 48.5h1M6 49.5h1M7 50.5h1M1 51.5h1M0 52.5h1M11 56.5h3M20 56.5h1M17 57.5h1M20 57.5h1M9 58.5h1M11 58.5h1M8 59.5h1M11 59.5h1M16 59.5h1M20 59.5h1M11 60.5h1M16 60.5h1M14 61.5h1M19 61.5h1M8 62.5h1M12 62.5h1"/>
<path stroke="#6690ce" d="M12 0.5h1M14 3.5h1M16 3.5h1M18 3.5h1M14 15.5h1M15 39.5h1M13 40.5h2M16 40.5h1M11 41.5h1M14 41.5h1M18 44.5h1M11 45.5h1M12 46.5h1M9 49.5h1M11 49.5h1M16 49.5h1M8 50.5h1M17 50.5h1M11 51.5h1M14 51.5h1M13 52.5h2M10 53.5h1M15 53.5h1M18 53.5h1M9 54.5h2M15 54.5h1M17 54.5h2M20 54.5h1M2 55.5h2M5 56.5h1M2 60.5h1M7 60.5h1M4 61.5h2M1 62.5h1"/>
<path stroke="#a9c4e5" d="M14 0.5h1M12 1.5h1M14 1.5h1M12 3.5h1M12 4.5h1M20 4.5h1M14 5.5h1M16 5.5h1M20 5.5h1M10 6.5h1M12 6.5h3M8 7.5h1M10 7.5h1M16 8.5h2M9 9.5h1M13 9.5h1M12 10.5h1M15 10.5h1M12 12.5h1M15 12.5h1M12 13.5h1M17 13.5h1M20 14.5h1M12 15.5h2M5 25.5h1M4 36.5h1M5 37.5h1M2 38.5h1M4 38.5h1M0 39.5h1M10 39.5h4M19 40.5h1M6 41.5h1M1 42.5h1M16 42.5h1M5 45.5h1M16 45.5h1M10 46.5h1M14 46.5h1M18 47.5h1M8 48.5h1M16 48.5h1M15 50.5h1M3 51.5h1M5 51.5h1M16 53.5h1M0 54.5h2M3 54.5h1M7 54.5h1M4 56.5h1M9 57.5h1M14 57.5h1M12 61.5h1"/>
<path stroke="#e0e8e1" d="M15 0.5h1M8 1.5h1M19 1.5h1M12 2.5h1M17 2.5h2M13 4.5h1M8 5.5h1M13 5.5h1M11 6.5h1M16 6.5h1M8 8.5h1M20 8.5h1M10 11.5h1M13 11.5h1M16 11.5h1M13 12.5h1M17 12.5h1M10 14.5h1M13 14.5h1M19 14.5h1M14 16.5h1M15 17.5h1M9 18.5h1M11 18.5h1M4 24.5h1M2 25.5h1M1 26.5h1M0 31.5h1M1 33.5h1M3 34.5h1M5 34.5h1M1 35.5h1M7 35.5h1M3 39.5h1M4 40.5h1M6 40.5h1M7 42.5h1M1 43.5h1M2 44.5h1M1 45.5h1M8 46.5h1M0 48.5h1M3 48.5h1M5 48.5h1M7 48.5h1M0 49.5h2M1 50.5h1M5 50.5h1M7 52.5h1M6 53.5h1M6 54.5h1M10 55.5h1M13 55.5h1M13 57.5h1M16 57.5h1M8 58.5h1M12 59.5h1M8 60.5h3M10 61.5h1M20 61.5h1"/>
<path stroke="#5a86c9" d="M17 0.5h1M8 40.5h1M17 40.5h1M15 41.5h1M17 41.5h1M12 42.5h1M14 42.5h1M15 43.5h1M11 44.5h1M13 44.5h1M16 44.5h2M15 45.5h1M8 47.5h1M11 47.5h2M15 51.5h1M9 52.5h1M12 52.5h1M20 52.5h1M11 53.5h1M13 53.5h2M17 53.5h1M8 54.5h1M1 55.5h1M4 57.5h1M2 59.5h1M7 59.5h1M7 61.5h1M5 62.5h1"/>
<path stroke="#b8cee9" d="M18 0.5h2M10 1.5h1M13 1.5h1M15 1.5h1M11 2.5h1M19 3.5h1M15 4.5h1M9 5.5h1M18 6.5h1M20 7.5h1M12 8.5h1M8 9.5h1M14 9.5h1M16 9.5h1M14 10.5h1M14 11.5h1M11 13.5h1M18 13.5h1M15 14.5h1M8 15.5h1M11 15.5h1M0 25.5h1M1 31.5h1M5 32.5h1M0 35.5h1M5 36.5h1M7 36.5h1M7 37.5h1M0 38.5h2M5 38.5h1M7 38.5h1M14 39.5h1M18 39.5h1M3 40.5h1M0 41.5h1M0 43.5h1M8 43.5h1M11 43.5h1M1 44.5h1M3 44.5h1M19 45.5h1M15 46.5h1M17 46.5h1M19 46.5h1M3 47.5h1M12 48.5h1M19 48.5h1M5 49.5h1M3 50.5h1M19 50.5h1M0 53.5h1M19 53.5h1M4 54.5h1M7 56.5h1M12 57.5h1"/>
<path stroke="#f5b675" d="M3 1.5h1M6 1.5h1M0 2.5h1M0 7.5h1M6 7.5h1M2 8.5h1M6 12.5h1M0 13.5h1M4 14.5h1M6 14.5h1M6 16.5h1M3 17.5h2M7 17.5h1M5 18.5h1M4 19.5h1M11 20.5h1M3 21.5h1M12 22.5h1M4 23.5h1M12 23.5h1M15 23.5h1M10 24.5h1M13 24.5h1M15 24.5h2M19 24.5h2M10 25.5h1M20 25.5h1M8 26.5h1M12 26.5h1M14 26.5h1M17 26.5h1M6 27.5h1M2 28.5h1M6 29.5h2M18 29.5h1M2 30.5h1M4 30.5h1M11 31.5h1M17 31.5h1M20 32.5h1M10 33.5h1M9 35.5h1M16 35.5h1M9 36.5h2M12 36.5h1M18 36.5h1M13 38.5h1M20 38.5h1M6 42.5h1M19 62.5h1"/>
<path stroke="#eb8d52" d="M4 1.5h1M3 2.5h1M3 6.5h1M5 16.5h1M7 16.5h1M3 18.5h1M5 19.5h1M19 20.5h1M0 21.5h1M5 22.5h1M17 23.5h1M20 23.5h1M18 26.5h1M18 27.5h1M6 28.5h1M20 28.5h1M8 29.5h1M13 29.5h1M6 30.5h1M8 30.5h1M14 30.5h2M20 30.5h1M8 32.5h1M9 34.5h1M15 37.5h1M17 38.5h1"/>
<path stroke="#f3a968" d="M7 1.5h1M0 4.5h1M2 4.5h1M3 5.5h1M7 6.5h1M7 11.5h1M1 16.5h1M0 18.5h2M5 20.5h1M8 20.5h1M7 21.5h1M8 23.5h1M14 23.5h1M8 24.5h1M11 24.5h1M18 24.5h1M19 25.5h1M11 26.5h1M2 27.5h1M9 27.5h1M19 29.5h1M1 30.5h1M7 30.5h1M17 30.5h1M8 31.5h1M14 31.5h1M20 33.5h1M10 34.5h1M12 34.5h1M18 34.5h1M11 35.5h1M15 36.5h2M20 36.5h1M8 37.5h1M19 37.5h2"/>
<path stroke="#d3dfe6" d="M11 1.5h1M8 2.5h2M20 3.5h1M9 4.5h1M11 8.5h1M20 10.5h1M8 11.5h2M18 11.5h1M8 12.5h1M10 12.5h1M9 13.5h2M15 13.5h1M20 13.5h1M16 14.5h1M18 14.5h1M19 15.5h1M14 18.5h1M16 21.5h1M4 32.5h1M3 33.5h2M1 34.5h1M2 35.5h1M5 35.5h2M2 36.5h1M4 37.5h1M3 38.5h1M0 40.5h1M5 40.5h1M1 41.5h1M5 43.5h1M0 44.5h1M7 44.5h1M2 45.5h2M2 47.5h1M1 48.5h1M7 49.5h1M2 51.5h1M4 51.5h1M2 52.5h1M4 52.5h1M2 53.5h1M4 53.5h1M7 53.5h1M2 54.5h1M11 55.5h2M15 55.5h1M14 56.5h1M18 56.5h1M11 57.5h1M18 57.5h2M15 59.5h1M12 60.5h1"/>
<path stroke="#c6d7eb" d="M16 1.5h1M14 2.5h1M17 4.5h1M10 5.5h1M9 8.5h2M13 8.5h1M15 8.5h1M18 8.5h1M12 9.5h1M17 9.5h1M19 9.5h1M11 10.5h1M13 10.5h1M19 10.5h1M17 11.5h1M9 12.5h1M14 12.5h1M8 13.5h1M16 13.5h1M17 14.5h1M10 15.5h1M16 15.5h1M5 31.5h1M5 33.5h1M0 36.5h1M3 36.5h1M3 37.5h1M2 41.5h3M7 41.5h1M0 42.5h1M19 43.5h1M4 44.5h1M9 46.5h1M18 46.5h1M0 47.5h1M4 47.5h2M7 47.5h1M4 49.5h1M13 50.5h1M3 52.5h1M6 52.5h1M9 55.5h1M10 57.5h1M14 59.5h1M17 59.5h2"/>
<path stroke="#80a5d9" d="M17 1.5h1M8 3.5h1M12 5.5h1M15 5.5h1M13 7.5h3M17 7.5h2M10 9.5h1M1 36.5h1M9 39.5h1M11 40.5h1M16 41.5h1M19 41.5h1M11 42.5h1M15 42.5h1M17 42.5h1M10 43.5h1M14 43.5h1M18 43.5h1M5 44.5h1M8 44.5h1M19 44.5h1M13 45.5h1M20 45.5h1M1 47.5h1M16 47.5h1M9 48.5h1M13 48.5h1M18 48.5h1M19 49.5h1M20 50.5h1M8 51.5h1M16 51.5h1M8 52.5h1M16 52.5h1M3 53.5h1M8 53.5h1M16 54.5h1M4 55.5h1M7 55.5h1M1 56.5h1M6 56.5h1M5 58.5h1M6 59.5h1M3 62.5h2"/>
<path stroke="#e77e47" d="M2 2.5h1M6 6.5h1M0 16.5h1M0 17.5h1M2 17.5h1M6 18.5h1M6 19.5h2M2 20.5h1M6 21.5h1M9 23.5h1M16 23.5h1M20 26.5h1M15 27.5h2M4 28.5h1M17 28.5h1M11 29.5h1M10 30.5h1M13 30.5h1M10 32.5h1M14 34.5h1M19 34.5h1"/>
<path stroke="#d35233" d="M6 2.5h1M2 16.5h1M19 23.5h1M8 27.5h1M16 28.5h1"/>
<path stroke="#fce3ab" d="M4 3.5h1M5 5.5h1M19 6.5h1M19 8.5h1M0 9.5h1M5 9.5h1M5 10.5h1M7 10.5h1M0 11.5h1M3 11.5h1M1 12.5h1M1 13.5h1M3 13.5h2M3 14.5h1M14 14.5h1M7 15.5h1M11 16.5h1M17 16.5h1M10 17.5h1M8 19.5h1M11 19.5h1M16 19.5h1M18 19.5h1M20 19.5h1M12 20.5h3M20 20.5h1M8 21.5h1M11 21.5h1M15 21.5h1M11 22.5h1M14 24.5h1M17 25.5h1M2 26.5h1M0 27.5h1M5 27.5h1M6 31.5h1M12 31.5h2M6 34.5h2M11 34.5h1M11 36.5h1M10 37.5h1M12 37.5h1M16 37.5h1M9 38.5h1M2 39.5h1M6 45.5h1M2 46.5h1M6 46.5h1M2 49.5h1M6 50.5h1M8 55.5h1M10 58.5h1M17 58.5h1M9 62.5h1M11 62.5h1M15 62.5h1"/>
<path stroke="#3e68b4" d="M9 3.5h1M12 41.5h1M14 49.5h1M18 49.5h1M18 52.5h1M9 53.5h1M14 54.5h1M1 57.5h1M3 57.5h1M5 57.5h1M5 60.5h1"/>
<path stroke="#739bd3" d="M17 3.5h1M11 5.5h1M9 7.5h1M9 10.5h1M19 39.5h1M15 40.5h1M9 43.5h1M12 43.5h2M16 43.5h1M10 44.5h1M9 45.5h1M12 45.5h1M14 45.5h1M17 45.5h1M10 47.5h1M14 47.5h2M15 48.5h1M20 48.5h1M8 49.5h1M13 49.5h1M17 49.5h1M10 50.5h3M14 50.5h1M9 51.5h2M13 51.5h1M17 51.5h1M19 54.5h1M0 55.5h1M3 56.5h1M0 58.5h1M3 58.5h1M0 59.5h1M6 60.5h1M0 61.5h2M6 61.5h1M2 62.5h1"/>
<path stroke="#e17040" d="M4 16.5h1M6 17.5h1M2 18.5h1M7 18.5h1M4 20.5h1M1 21.5h1M5 21.5h1M4 22.5h1M6 22.5h1M13 23.5h1M18 23.5h1M13 27.5h1M17 27.5h1M8 28.5h2M12 28.5h2M18 28.5h2M15 29.5h2M12 30.5h1M16 30.5h1M17 33.5h1M8 34.5h1"/>
<path stroke="#db6139" d="M0 19.5h1M2 19.5h1M1 20.5h1M2 21.5h1M4 21.5h1M0 22.5h1M2 22.5h1M7 22.5h1M16 26.5h1M19 26.5h1M11 27.5h2M10 28.5h1M14 28.5h2M19 30.5h1"/>
<path stroke="#be3228" d="M0 20.5h1M10 27.5h1M18 30.5h1"/>
<path stroke="#c9422d" d="M3 20.5h1M7 20.5h1M19 27.5h1"/>
<path stroke="#527ec4" d="M18 40.5h1M9 41.5h1M18 41.5h1M20 41.5h1M18 42.5h1M12 44.5h1M14 44.5h1M13 47.5h1M12 49.5h1M15 49.5h1M20 49.5h1M12 51.5h1M10 52.5h1M15 52.5h1M20 53.5h1M13 54.5h1M6 57.5h1M4 59.5h2M0 60.5h2M3 60.5h1M3 61.5h1"/>
<path stroke="#456fb9" d="M20 40.5h1M13 41.5h1M15 44.5h1M18 51.5h1M11 52.5h1M12 53.5h1M12 54.5h1M0 57.5h1M7 57.5h1"/>
<path stroke="#4c77be" d="M10 41.5h1M9 44.5h1M9 47.5h1M17 47.5h1M20 47.5h1M20 51.5h1M17 52.5h1M11 54.5h1M5 55.5h1M1 59.5h1M3 59.5h1M4 60.5h1"/>
</g>
<rect x="39.50" y="443.60" width="73.50" height="23.20" fill="#f0e6cc"/>
<g transform="translate(39.50,443.60) scale(3.5000,1.5467)" stroke-width="1.04">
<path stroke="#ef9b5d" d="M0 0.5h1M3 0.5h1M3 3.5h1M16 3.5h1M20 3.5h1"/>
<path stroke="#f3a968" d="M1 0.5h2M9 0.5h1M13 0.5h1M20 0.5h1M2 1.5h1M5 1.5h1M2 3.5h1M15 3.5h1M16 4.5h1"/>
<path stroke="#eb8d52" d="M4 0.5h1M6 0.5h2M16 0.5h1M14 2.5h1"/>
<path stroke="#f8c382" d="M5 0.5h1M1 2.5h1M3 2.5h1M5 2.5h1M7 3.5h1M9 3.5h1M12 3.5h1M14 3.5h1M18 3.5h1M4 4.5h1M8 4.5h1M13 4.5h1M18 4.5h1"/>
<path stroke="#e77e47" d="M8 0.5h1M14 0.5h1M3 1.5h1M16 1.5h1M18 1.5h1M6 2.5h1M10 3.5h1"/>
<path stroke="#d35233" d="M10 0.5h1M17 0.5h2M0 1.5h1M9 2.5h1M12 2.5h1M15 2.5h2M19 2.5h1"/>
<path stroke="#f5b675" d="M11 0.5h2M1 1.5h1M7 1.5h1M0 2.5h1M2 2.5h1M7 2.5h1M6 3.5h1M17 3.5h1M19 3.5h1M11 4.5h1M15 4.5h1"/>
<path stroke="#db6139" d="M15 0.5h1M8 1.5h2M13 1.5h1M13 2.5h1"/>
<path stroke="#be3228" d="M19 0.5h1M15 1.5h1M19 1.5h2M11 2.5h1"/>
<path stroke="#e17040" d="M4 1.5h1M6 1.5h1M14 1.5h1M8 2.5h1M17 2.5h1M20 2.5h1M8 3.5h1"/>
<path stroke="#c9422d" d="M10 1.5h3M17 1.5h1M10 2.5h1M18 2.5h1"/>
<path stroke="#fbda9d" d="M4 2.5h1M1 3.5h1M4 3.5h2M11 3.5h1M2 4.5h1M14 4.5h1M17 4.5h1M19 4.5h1M8 12.5h1M15 12.5h1M8 13.5h1M12 13.5h1M16 13.5h1M19 13.5h1"/>
<path stroke="#fad08f" d="M0 3.5h1M13 3.5h1M0 4.5h1M7 4.5h1M9 4.5h2M12 4.5h1"/>
<path stroke="#e0e8e1" d="M1 4.5h1M1 5.5h1M4 5.5h1M7 5.5h1M10 5.5h1M13 5.5h1M20 5.5h1M0 6.5h1M3 6.5h2M9 6.5h1M16 6.5h1M20 6.5h1M5 7.5h1M11 7.5h1M14 7.5h1M17 7.5h1M20 7.5h1M4 8.5h3M7 11.5h1M3 12.5h1M0 14.5h1M7 14.5h1M14 14.5h2M17 14.5h1"/>
<path stroke="#d3dfe6" d="M3 4.5h1M18 5.5h1M2 6.5h1M8 6.5h1M15 6.5h1M3 7.5h2M9 7.5h2M0 8.5h1M11 8.5h1M17 8.5h1M6 10.5h1M1 12.5h1M2 14.5h1M10 14.5h1M12 14.5h1M20 14.5h1"/>
<path stroke="#edf0dc" d="M5 4.5h1M6 5.5h1M19 6.5h1M1 7.5h1M12 7.5h2M1 8.5h1M7 8.5h1M6 9.5h1M2 10.5h1M10 11.5h1M19 11.5h1M2 12.5h1M12 12.5h1M14 12.5h1M18 12.5h1M9 13.5h1M14 13.5h1"/>
<path stroke="#fcecb8" d="M6 4.5h1M10 6.5h1M6 7.5h1M19 8.5h1M6 12.5h1M9 12.5h2M6 13.5h1M20 13.5h1M8 14.5h1M16 14.5h1"/>
<path stroke="#fce3ab" d="M20 4.5h1M19 5.5h1M6 6.5h1M19 7.5h1M13 12.5h1M19 12.5h2M10 13.5h1"/>
<path stroke="#b8cee9" d="M0 5.5h1M9 5.5h1M12 5.5h1M5 6.5h1M18 6.5h1M14 8.5h1M20 8.5h1M3 10.5h1M16 11.5h1M11 12.5h1M3 13.5h1M1 14.5h1M3 14.5h1"/>
<path stroke="#c6d7eb" d="M2 5.5h1M8 5.5h1M11 5.5h1M16 5.5h1M1 6.5h1M12 6.5h1M0 7.5h1M18 7.5h1M8 8.5h1M12 8.5h1M15 8.5h1M4 9.5h1M19 9.5h1M1 11.5h2M4 11.5h1M6 11.5h1M13 11.5h1M5 13.5h1M15 13.5h1M18 13.5h1M5 14.5h2M9 14.5h1"/>
<path stroke="#8cb0de" d="M3 5.5h1M13 9.5h1M9 10.5h1M19 10.5h1M3 11.5h1M17 11.5h1"/>
<path stroke="#a9c4e5" d="M5 5.5h1M3 8.5h1M10 8.5h1M16 8.5h1M18 8.5h1M1 9.5h1M20 9.5h1M11 11.5h1M0 12.5h1M4 14.5h1M18 14.5h1"/>
<path stroke="#9bbae2" d="M14 5.5h2M14 6.5h1M9 8.5h1M0 9.5h1M3 9.5h1M8 9.5h1M10 9.5h1M17 9.5h1M0 10.5h1M4 10.5h1M8 10.5h1M12 10.5h1M17 10.5h2M0 11.5h1M8 11.5h1M14 11.5h2M20 11.5h1"/>
<path stroke="#f3f0d1" d="M17 5.5h1M11 6.5h1M2 7.5h1M8 7.5h1M15 7.5h2M7 9.5h1M4 12.5h2M7 12.5h1M0 13.5h2M7 13.5h1M13 14.5h1M19 14.5h1"/>
<path stroke="#f9f0c5" d="M7 6.5h1M13 6.5h1M17 6.5h1M7 7.5h1M2 8.5h1M2 9.5h1M16 12.5h2M2 13.5h1M4 13.5h1M11 13.5h1M13 13.5h1M17 13.5h1M11 14.5h1"/>
<path stroke="#80a5d9" d="M13 8.5h1M5 9.5h1M9 9.5h1M7 10.5h1M12 11.5h1M18 11.5h1"/>
<path stroke="#739bd3" d="M11 9.5h1M14 9.5h1M5 10.5h1M9 11.5h1"/>
<path stroke="#6690ce" d="M12 9.5h1M18 9.5h1M13 10.5h3M5 11.5h1"/>
<path stroke="#5a86c9" d="M15 9.5h2M1 10.5h1M10 10.5h2M20 10.5h1"/>
<path stroke="#527ec4" d="M16 10.5h1"/>
</g>
<rect x="39.50" y="467.80" width="73.50" height="9.80" fill="#f0e6cc"/>
<g transform="translate(39.50,467.80) scale(3.5000,1.4000)" stroke-width="1.04">
<path stroke="#f8c382" d="M0 0.5h1M7 0.5h1M13 0.5h1M5 1.5h1M14 1.5h1M19 2.5h1M19 3.5h1"/>
<path stroke="#f5b675" d="M1 0.5h1M4 0.5h1M10 0.5h1M17 0.5h2M2 2.5h1"/>
<path stroke="#eb8d52" d="M2 0.5h1M8 0.5h2"/>
<path stroke="#fad08f" d="M3 0.5h1M5 0.5h1M4 2.5h1M6 2.5h1M20 2.5h1"/>
<path stroke="#f3a968" d="M6 0.5h1M11 0.5h1M14 0.5h2M1 1.5h1M2 3.5h1M16 3.5h1"/>
<path stroke="#ef9b5d" d="M12 0.5h1M3 1.5h1M13 1.5h1"/>
<path stroke="#e77e47" d="M16 0.5h1M15 1.5h1"/>
<path stroke="#d35233" d="M19 0.5h1M2 1.5h1M12 1.5h1"/>
<path stroke="#db6139" d="M20 0.5h1M10 1.5h2M18 1.5h1M20 1.5h1"/>
<path stroke="#e17040" d="M0 1.5h1M4 1.5h1M6 1.5h2M9 1.5h1M19 1.5h1"/>
<path stroke="#c9422d" d="M8 1.5h1M17 1.5h1"/>
<path stroke="#be3228" d="M16 1.5h1"/>
<path stroke="#fce3ab" d="M0 2.5h1M7 2.5h1M13 2.5h1M15 2.5h1M4 3.5h1M6 3.5h1M13 3.5h1M2 4.5h1"/>
<path stroke="#f9f0c5" d="M1 2.5h1M11 2.5h1M14 2.5h1M17 2.5h2M0 3.5h1M3 3.5h1M5 3.5h1M8 3.5h1M14 3.5h1M20 3.5h1M4 4.5h1"/>
<path stroke="#e0e8e1" d="M3 2.5h1M5 2.5h1M9 4.5h1M1 6.5h1M7 6.5h1"/>
<path stroke="#f3f0d1" d="M8 2.5h1M12 2.5h1M16 2.5h1M9 3.5h1M17 3.5h2M6 4.5h1M16 4.5h1"/>
<path stroke="#d3dfe6" d="M9 2.5h1M1 4.5h1M5 4.5h1M8 4.5h1M13 4.5h1M18 4.5h1M4 6.5h1"/>
<path stroke="#fcecb8" d="M10 2.5h1M10 3.5h1M12 3.5h1M15 3.5h1M7 4.5h1"/>
<path stroke="#c6d7eb" d="M1 3.5h1M0 4.5h1M10 4.5h1M17 4.5h1M10 5.5h1"/>
<path stroke="#edf0dc" d="M7 3.5h1M11 3.5h1M11 4.5h1"/>
<path stroke="#9bbae2" d="M3 4.5h1M12 4.5h1M0 5.5h1M8 5.5h1M18 5.5h1M10 6.5h1M18 6.5h1"/>
<path stroke="#a9c4e5" d="M14 4.5h2M19 4.5h1M3 5.5h2M6 5.5h1M13 5.5h1M19 5.5h1M8 6.5h1M11 6.5h1"/>
<path stroke="#b8cee9" d="M20 4.5h1M2 5.5h1M5 6.5h2M12 6.5h1M19 6.5h1"/>
<path stroke="#6690ce" d="M1 5.5h1M20 5.5h1M3 6.5h1"/>
<path stroke="#8cb0de" d="M5 5.5h1M7 5.5h1M9 5.5h1M11 5.5h1M16 5.5h1M0 6.5h1M2 6.5h1M13 6.5h1M15 6.5h2"/>
<path stroke="#739bd3" d="M12 5.5h1M9 6.5h1M20 6.5h1"/>
<path stroke="#5a86c9" d="M14 5.5h1M14 6.5h1"/>
<path stroke="#527ec4" d="M15 5.5h1"/>
<path stroke="#80a5d9" d="M17 5.5h1M17 6.5h1"/>
</g>
<rect x="39.50" y="479.50" width="73.50" height="28.50" fill="#f0e6cc"/>
<g transform="translate(39.50,479.50) scale(3.5000,1.5000)" stroke-width="1.04">
<path stroke="#eb8d52" d="M0 0.5h1M15 0.5h1M20 0.5h1M13 1.5h1M2 2.5h1M4 2.5h1M18 4.5h1"/>
<path stroke="#f5b675" d="M1 0.5h1M9 0.5h1M14 0.5h1M0 2.5h2M5 2.5h1M8 3.5h1M4 5.5h1M19 5.5h2"/>
<path stroke="#db6139" d="M2 0.5h1M8 0.5h1M18 0.5h1M4 1.5h1M11 1.5h2M14 1.5h1M16 1.5h1M20 1.5h1M7 2.5h1M17 2.5h1M20 2.5h1M8 4.5h1M16 4.5h1M19 4.5h1"/>
<path stroke="#f9f0c5" d="M3 0.5h1M7 3.5h1M14 3.5h1M12 6.5h1M1 7.5h1M14 7.5h1M16 7.5h2M16 8.5h1M2 9.5h1M7 9.5h1M6 10.5h1M17 16.5h1M7 18.5h1M14 18.5h1"/>
<path stroke="#f8c382" d="M4 0.5h2M12 0.5h1M1 1.5h1M3 1.5h1M20 3.5h1M9 4.5h1M10 5.5h1"/>
<path stroke="#f3a968" d="M6 0.5h1M3 2.5h1M1 4.5h1M3 4.5h1M13 4.5h2M17 4.5h1M17 5.5h1"/>
<path stroke="#ef9b5d" d="M7 0.5h1M2 4.5h1M10 4.5h1M20 4.5h1M16 5.5h1"/>
<path stroke="#c9422d" d="M10 0.5h2M8 2.5h1"/>
<path stroke="#e77e47" d="M13 0.5h1M16 0.5h2M0 1.5h1M2 1.5h1M5 1.5h1M9 1.5h1M17 1.5h2M12 2.5h1M5 4.5h1M12 4.5h1"/>
<path stroke="#be3228" d="M19 0.5h1M10 1.5h1M10 2.5h1M13 2.5h1M16 2.5h1M19 2.5h1"/>
<path stroke="#e17040" d="M6 1.5h1M15 1.5h1M6 2.5h1M9 2.5h1M14 2.5h2M18 2.5h1M6 4.5h1M11 4.5h1M15 4.5h1"/>
<path stroke="#d35233" d="M7 1.5h2M19 1.5h1M11 2.5h1M7 4.5h1"/>
<path stroke="#fcecb8" d="M0 3.5h2M9 3.5h2M11 5.5h2M4 7.5h1"/>
<path stroke="#f3f0d1" d="M2 3.5h2M5 3.5h1M11 3.5h1M0 7.5h1M7 7.5h2M18 7.5h1M2 8.5h1M4 8.5h1M6 8.5h2M12 8.5h1M12 9.5h1M2 17.5h1M8 17.5h2M17 17.5h1M9 18.5h1M18 18.5h1"/>
<path stroke="#fbda9d" d="M4 3.5h1M15 3.5h2M18 3.5h1M0 4.5h1M4 4.5h1M3 5.5h1M8 5.5h1M14 5.5h1M18 5.5h1"/>
<path stroke="#fad08f" d="M6 3.5h1M12 3.5h1M19 3.5h1M0 5.5h1M2 5.5h1M6 5.5h1M11 7.5h1"/>
<path stroke="#fce3ab" d="M13 3.5h1M17 3.5h1M1 5.5h1M5 5.5h1M7 5.5h1M9 5.5h1M13 5.5h1M15 5.5h1M6 7.5h1M13 7.5h1M19 7.5h1"/>
<path stroke="#e0e8e1" d="M0 6.5h1M19 6.5h1M3 7.5h1M15 7.5h1M3 8.5h1M5 8.5h1M8 8.5h1M10 8.5h1M14 8.5h1M9 9.5h1M2 12.5h1M2 14.5h1M2 16.5h1M12 17.5h1M5 18.5h1M11 18.5h1M17 18.5h1M20 18.5h1"/>
<path stroke="#9bbae2" d="M1 6.5h1M8 6.5h1M17 6.5h1M3 9.5h1M13 9.5h1M15 9.5h1M3 10.5h1M7 10.5h2M10 10.5h1M13 11.5h1M16 11.5h1M1 12.5h1M8 12.5h1M20 12.5h1M3 13.5h1M9 13.5h1M16 13.5h1M15 15.5h1M19 15.5h1M14 16.5h2M0 17.5h1M14 17.5h1"/>
<path stroke="#d3dfe6" d="M2 6.5h1M4 6.5h1M7 6.5h1M5 7.5h1M10 7.5h1M0 8.5h1M9 8.5h1M15 8.5h1M17 8.5h1M0 9.5h1M4 9.5h1M18 9.5h1M7 13.5h1M17 13.5h1M19 13.5h1M3 14.5h1M19 14.5h1M4 16.5h1M7 16.5h1M9 16.5h1M11 16.5h1M18 16.5h1M1 17.5h1M16 17.5h1M2 18.5h1M10 18.5h1M16 18.5h1M19 18.5h1"/>
<path stroke="#b8cee9" d="M3 6.5h1M11 6.5h1M13 6.5h2M20 6.5h1M1 9.5h1M6 13.5h1M4 14.5h1M6 14.5h1M8 14.5h1M2 15.5h1M16 16.5h1M20 16.5h1M18 17.5h1M1 18.5h1M4 18.5h1"/>
<path stroke="#80a5d9" d="M5 6.5h1M18 6.5h1M17 9.5h1M20 9.5h1M11 10.5h2M15 10.5h2M20 10.5h1M0 11.5h2M8 11.5h1M18 11.5h1M20 11.5h1M8 13.5h1M0 14.5h1M12 14.5h1M7 15.5h1M14 15.5h1M3 16.5h1M15 17.5h1"/>
<path stroke="#c6d7eb" d="M6 6.5h1M15 6.5h2M12 7.5h1M1 8.5h1M11 8.5h1M20 8.5h1M5 9.5h1M8 9.5h1M11 9.5h1M19 9.5h1M19 10.5h1M2 11.5h1M4 11.5h1M9 14.5h1M16 14.5h1M0 15.5h1M6 15.5h1M1 16.5h1M6 16.5h1M8 16.5h1M12 16.5h2M7 17.5h1M10 17.5h2M13 17.5h1M0 18.5h1M6 18.5h1M8 18.5h1M12 18.5h1"/>
<path stroke="#edf0dc" d="M9 6.5h1M2 7.5h1M9 7.5h1M20 7.5h1M18 8.5h2M6 9.5h1M10 9.5h1M19 16.5h1M4 17.5h1M6 17.5h1M19 17.5h1M13 18.5h1"/>
<path stroke="#a9c4e5" d="M10 6.5h1M13 8.5h1M14 9.5h1M6 11.5h1M11 11.5h1M17 11.5h1M4 12.5h4M12 12.5h1M15 12.5h1M19 12.5h1M0 13.5h1M2 13.5h1M10 13.5h1M18 13.5h1M1 14.5h1M10 14.5h1M14 14.5h1M18 14.5h1M1 15.5h1M4 15.5h1M0 16.5h1M5 17.5h1"/>
<path stroke="#739bd3" d="M16 9.5h1M1 10.5h1M5 10.5h1M9 10.5h1M15 11.5h1M0 12.5h1M3 12.5h1M10 12.5h1M13 12.5h1M1 13.5h1M5 13.5h1M11 13.5h1M14 13.5h2M13 14.5h1M17 14.5h1M5 15.5h1M8 15.5h1M13 15.5h1M18 15.5h1"/>
<path stroke="#5a86c9" d="M0 10.5h1M13 10.5h1M3 11.5h1M5 11.5h1M10 11.5h1M11 12.5h1M12 15.5h1"/>
<path stroke="#8cb0de" d="M2 10.5h1M17 10.5h2M7 11.5h1M9 11.5h1M19 11.5h1M9 12.5h1M16 12.5h2M4 13.5h1M13 13.5h1M20 13.5h1M5 14.5h1M7 14.5h1M11 14.5h1M15 14.5h1M20 14.5h1M5 16.5h1M10 16.5h1M3 17.5h1M20 17.5h1M3 18.5h1M15 18.5h1"/>
<path stroke="#527ec4" d="M4 10.5h1M12 11.5h1M3 15.5h1M9 15.5h1"/>
<path stroke="#6690ce" d="M14 10.5h1M14 11.5h1M14 12.5h1M18 12.5h1M12 13.5h1M16 15.5h1M20 15.5h1"/>
<path stroke="#4c77be" d="M10 15.5h1"/>
<path stroke="#456fb9" d="M11 15.5h1"/>
<path stroke="#3e68b4" d="M17 15.5h1"/>
</g>
<rect x="115.90" y="347.50" width="73.50" height="94.50" fill="#f0e6cc"/>
<g transform="translate(115.90,347.50) scale(3.5000,1.5000)" stroke-width="1.04">
<path stroke="#fad08f" d="M0 0.5h1M2 5.5h1M0 6.5h1M3 8.5h1M2 9.5h1M4 9.5h2M7 9.5h1M4 10.5h1M7 10.5h1M3 11.5h1M5 12.5h1M0 13.5h1M6 13.5h1M0 14.5h1M4 14.5h1M4 15.5h2M5 16.5h1M11 17.5h1M15 17.5h1M20 17.5h1M5 18.5h1M9 18.5h1M15 18.5h1M19 18.5h1M9 19.5h1M17 19.5h1M3 20.5h1M19 20.5h1M2 23.5h1M2 24.5h1M12 24.5h1M13 25.5h1M3 28.5h1M5 29.5h1M2 31.5h1M6 31.5h1M2 32.5h1M13 34.5h1M16 35.5h1M20 35.5h1M11 36.5h1M16 37.5h1M14 38.5h1M16 38.5h1M16 58.5h1M18 59.5h1M8 60.5h1M13 60.5h1M19 60.5h1"/>
<path stroke="#f8c382" d="M1 0.5h1M5 0.5h1M7 0.5h1M4 1.5h2M7 1.5h1M0 2.5h1M1 3.5h1M4 7.5h1M6 7.5h2M6 9.5h1M0 12.5h2M7 12.5h1M5 13.5h1M3 14.5h1M7 14.5h1M1 15.5h2M7 15.5h1M14 17.5h1M19 17.5h1M8 18.5h1M10 18.5h1M8 19.5h1M10 19.5h1M14 19.5h1M1 20.5h1M4 20.5h1M7 20.5h1M4 22.5h1M7 23.5h1M11 24.5h1M16 24.5h1M18 24.5h1M12 25.5h1M15 26.5h1M3 27.5h1M2 29.5h1M14 32.5h1M17 32.5h1M9 33.5h1M15 34.5h1M13 35.5h1M15 36.5h1M18 36.5h1M12 37.5h1M9 38.5h1M11 38.5h1M13 38.5h1M17 38.5h1M12 60.5h1"/>
<path stroke="#ef9b5d" d="M2 0.5h1M1 1.5h2M6 1.5h1M4 2.5h1M2 4.5h1M4 6.5h1M1 13.5h1M6 16.5h1M5 17.5h1M3 18.5h1M0 19.5h1M19 19.5h1M14 23.5h1M8 24.5h1M10 25.5h1M20 26.5h1M0 27.5h1M7 27.5h1M5 28.5h1M13 29.5h1M4 30.5h1M9 30.5h1M10 31.5h1M16 32.5h1M20 32.5h1M8 33.5h1M12 33.5h1M14 33.5h1M16 33.5h1M8 34.5h1M16 34.5h3M13 36.5h1"/>
<path stroke="#f5b675" d="M3 0.5h1M6 0.5h1M2 2.5h1M5 2.5h1M7 3.5h1M0 4.5h1M2 8.5h1M4 8.5h1M7 8.5h1M7 11.5h1M4 12.5h1M4 13.5h1M2 14.5h1M10 17.5h1M13 18.5h1M15 19.5h1M1 21.5h1M4 23.5h1M6 23.5h1M9 24.5h1M13 24.5h1M17 24.5h1M9 25.5h1M14 25.5h2M17 26.5h1M4 27.5h1M0 28.5h1M7 28.5h1M7 29.5h1M0 30.5h2M7 31.5h1M13 31.5h2M9 32.5h1M13 33.5h1M14 34.5h1M17 35.5h1M19 35.5h1M10 36.5h1M19 36.5h2M13 37.5h1M10 38.5h1M12 38.5h1M18 38.5h1"/>
<path stroke="#f3a968" d="M4 0.5h1M6 2.5h2M4 3.5h1M6 6.5h2M6 8.5h1M0 16.5h1M3 16.5h1M3 17.5h1M2 20.5h1M1 23.5h1M20 24.5h1M6 25.5h1M11 25.5h1M16 25.5h1M18 25.5h1M20 25.5h1M8 26.5h1M10 26.5h1M18 26.5h2M2 27.5h1M1 28.5h1M4 29.5h1M12 29.5h1M15 29.5h1M14 30.5h1M8 31.5h2M11 31.5h1M8 32.5h1M12 32.5h1M17 33.5h1M9 34.5h1M12 36.5h1M8 38.5h1M19 38.5h1"/>
<path stroke="#fce3ab" d="M8 0.5h1M1 2.5h1M3 3.5h1M6 3.5h1M7 4.5h1M3 5.5h1M6 5.5h1M2 6.5h2M2 7.5h1M5 7.5h1M0 8.5h1M0 11.5h1M19 12.5h1M2 13.5h1M1 14.5h1M19 14.5h1M0 15.5h1M3 15.5h1M8 17.5h1M12 17.5h1M13 20.5h1M8 21.5h1M3 22.5h1M15 22.5h1M5 23.5h1M3 24.5h1M6 24.5h2M2 25.5h2M7 25.5h1M17 25.5h1M1 26.5h1M16 26.5h1M14 29.5h1M3 30.5h1M6 33.5h1M20 34.5h1M14 35.5h1M8 37.5h1M14 37.5h2M15 38.5h1M7 48.5h1M16 55.5h1M19 55.5h1M19 58.5h1M12 59.5h1M19 59.5h1M9 60.5h1M19 61.5h1"/>
<path stroke="#9bbae2" d="M9 0.5h1M17 0.5h1M19 2.5h1M11 3.5h1M17 3.5h1M9 4.5h1M14 4.5h1M10 5.5h1M15 5.5h2M19 5.5h1M16 7.5h1M9 8.5h2M16 8.5h1M8 9.5h1M1 35.5h1M4 35.5h1M3 36.5h1M2 37.5h2M5 39.5h2M20 40.5h1M1 41.5h1M5 41.5h1M7 42.5h1M10 42.5h1M20 43.5h1M8 48.5h1M14 48.5h1M5 50.5h1M10 52.5h1M16 56.5h1M0 59.5h1M6 59.5h1M5 60.5h1M7 60.5h1M7 61.5h1"/>
<path stroke="#c6d7eb" d="M10 0.5h1M14 0.5h1M16 0.5h1M16 1.5h2M9 3.5h1M12 3.5h1M18 3.5h1M15 4.5h1M19 4.5h1M8 7.5h1M13 7.5h1M17 7.5h1M17 8.5h1M13 9.5h1M19 9.5h1M10 10.5h1M17 10.5h1M14 11.5h2M10 13.5h1M16 13.5h1M9 15.5h1M12 15.5h1M17 15.5h1M20 15.5h1M14 16.5h2M20 20.5h1M10 21.5h1M13 21.5h1M9 22.5h1M5 26.5h1M5 33.5h1M4 34.5h2M7 34.5h1M2 35.5h1M7 35.5h1M4 36.5h1M1 37.5h1M8 39.5h1M5 40.5h1M13 40.5h1M0 41.5h1M7 41.5h1M13 43.5h1M4 44.5h1M1 45.5h1M3 45.5h1M3 46.5h1M19 47.5h1M0 50.5h1M4 50.5h1M7 51.5h1M1 52.5h1M5 52.5h1M1 53.5h1M4 53.5h1M3 54.5h1M5 54.5h1M9 56.5h2M15 56.5h1M9 57.5h2M2 58.5h1M6 58.5h1M11 59.5h1M14 61.5h1"/>
<path stroke="#a9c4e5" d="M11 0.5h1M13 0.5h1M15 0.5h1M10 1.5h1M12 2.5h2M16 4.5h1M18 5.5h1M10 6.5h1M12 6.5h1M15 6.5h1M18 6.5h1M20 6.5h1M12 8.5h1M10 9.5h1M18 9.5h1M12 10.5h1M20 10.5h1M9 11.5h1M15 13.5h1M18 14.5h1M14 15.5h1M9 20.5h1M5 36.5h1M3 39.5h1M1 40.5h1M1 42.5h1M20 42.5h1M5 43.5h1M8 43.5h1M10 43.5h1M12 43.5h1M15 43.5h1M0 44.5h2M3 44.5h1M5 44.5h1M5 45.5h1M19 46.5h1M16 47.5h1M10 48.5h1M13 48.5h1M15 48.5h1M20 48.5h1M3 49.5h2M17 49.5h1M19 49.5h1M1 50.5h1M6 50.5h1M19 51.5h1M19 52.5h1M16 53.5h1M20 53.5h1M19 54.5h1M20 56.5h1M4 58.5h1M2 59.5h1M2 60.5h1M6 60.5h1M10 61.5h1"/>
<path stroke="#b8cee9" d="M12 0.5h1M18 0.5h3M9 1.5h1M15 1.5h1M10 2.5h1M20 2.5h1M14 3.5h1M17 4.5h2M20 4.5h1M8 6.5h1M19 6.5h1M9 7.5h1M11 7.5h1M15 7.5h1M13 8.5h1M15 8.5h1M11 9.5h1M15 9.5h3M20 9.5h1M13 10.5h2M16 10.5h1M17 11.5h1M9 12.5h1M15 12.5h1M8 14.5h1M14 20.5h1M14 21.5h1M1 33.5h1M0 34.5h2M2 38.5h2M1 39.5h1M4 39.5h1M2 41.5h1M0 42.5h1M0 43.5h1M2 43.5h1M2 45.5h1M1 47.5h1M2 50.5h1M5 51.5h1M3 53.5h1M7 53.5h1M4 55.5h1M11 56.5h1M8 57.5h1M14 57.5h1M0 58.5h1M7 58.5h1M13 58.5h1M0 60.5h1"/>
<path stroke="#f9f0c5" d="M0 1.5h1M18 2.5h1M0 5.5h1M5 6.5h1M0 7.5h1M10 7.5h1M3 9.5h1M0 10.5h2M3 10.5h1M5 10.5h2M8 12.5h1M16 12.5h1M3 13.5h1M5 14.5h1M10 15.5h1M15 15.5h2M19 15.5h1M8 16.5h1M13 16.5h1M18 16.5h1M16 18.5h1M12 19.5h1M5 20.5h1M11 20.5h1M9 21.5h1M12 21.5h1M18 21.5h1M11 22.5h1M0 24.5h1M7 26.5h1M9 26.5h1M12 26.5h1M3 31.5h1M9 35.5h1M1 36.5h1M14 36.5h1M11 37.5h1M2 39.5h1M5 46.5h1M0 47.5h1M3 47.5h1M4 48.5h1M9 58.5h1M15 58.5h1M20 58.5h1M16 59.5h1M11 60.5h1M14 60.5h1M11 61.5h1M15 61.5h1M8 62.5h1M16 62.5h1M19 62.5h2"/>
<path stroke="#fbda9d" d="M3 1.5h1M0 3.5h1M1 4.5h1M6 4.5h1M1 9.5h1M1 11.5h1M4 11.5h3M3 12.5h1M7 13.5h1M6 15.5h1M16 17.5h2M11 18.5h1M20 18.5h1M11 19.5h1M13 19.5h1M16 19.5h1M20 19.5h1M0 20.5h1M0 23.5h1M3 23.5h1M14 24.5h1M8 25.5h1M0 26.5h1M2 26.5h1M6 26.5h1M11 26.5h1M5 27.5h1M1 29.5h1M0 32.5h1M6 32.5h1M11 33.5h1M18 33.5h2M8 35.5h1M11 35.5h1M8 36.5h1M16 36.5h2M10 37.5h1M17 37.5h1M19 37.5h2M6 46.5h1M10 55.5h1M20 55.5h1M15 57.5h1M8 58.5h1M18 58.5h1M15 59.5h1M10 60.5h1M15 60.5h1M9 62.5h1M15 62.5h1"/>
<path stroke="#d3dfe6" d="M8 1.5h1M13 1.5h1M19 1.5h2M8 2.5h1M11 2.5h1M15 2.5h1M16 3.5h1M10 4.5h1M18 7.5h1M20 7.5h1M8 10.5h1M15 10.5h1M18 10.5h1M12 11.5h1M20 11.5h1M10 12.5h1M12 12.5h1M19 13.5h2M14 14.5h1M9 16.5h2M8 20.5h1M18 22.5h1M3 26.5h1M0 33.5h1M0 36.5h1M0 37.5h1M0 38.5h1M0 39.5h1M3 40.5h1M4 41.5h1M2 42.5h1M5 42.5h1M6 44.5h1M4 45.5h1M2 46.5h1M4 46.5h1M0 49.5h2M7 49.5h1M7 52.5h1M0 53.5h1M5 53.5h1M4 54.5h1M6 54.5h2M6 55.5h1M12 56.5h1M14 56.5h1M18 56.5h1M11 57.5h1M18 62.5h1"/>
<path stroke="#e0e8e1" d="M11 1.5h1M18 1.5h1M8 3.5h1M10 3.5h1M20 3.5h1M5 5.5h1M12 7.5h1M19 7.5h1M8 8.5h1M19 8.5h1M18 11.5h2M20 12.5h1M8 13.5h2M13 13.5h1M9 14.5h1M13 14.5h1M20 14.5h1M18 15.5h1M10 20.5h1M15 20.5h1M17 20.5h1M11 21.5h1M15 21.5h1M20 21.5h1M10 22.5h1M1 32.5h1M4 33.5h1M3 34.5h1M6 35.5h1M6 36.5h2M6 37.5h1M5 38.5h1M0 40.5h1M2 40.5h1M4 40.5h1M6 40.5h1M4 42.5h1M3 43.5h2M7 43.5h1M6 45.5h2M1 46.5h1M7 46.5h1M4 47.5h1M3 48.5h1M2 49.5h1M7 50.5h1M6 51.5h1M0 52.5h1M2 53.5h1M6 53.5h1M8 55.5h1M13 55.5h2M18 55.5h1M13 56.5h1M17 56.5h1M7 57.5h1M13 57.5h1M19 57.5h1M14 58.5h1M8 59.5h1M13 59.5h1M4 60.5h1M17 61.5h1M10 62.5h4"/>
<path stroke="#80a5d9" d="M12 1.5h1M9 2.5h1M11 4.5h1M8 5.5h1M12 5.5h1M17 6.5h1M11 8.5h1M12 9.5h1M4 37.5h2M10 39.5h2M14 39.5h1M16 39.5h2M20 39.5h1M9 40.5h3M15 40.5h1M9 41.5h1M13 41.5h1M19 41.5h2M19 44.5h1M10 45.5h1M19 45.5h1M10 46.5h1M12 46.5h1M14 46.5h1M8 47.5h1M15 47.5h1M18 47.5h1M16 48.5h1M8 49.5h2M3 50.5h1M8 50.5h1M3 51.5h2M8 51.5h1M10 51.5h1M8 53.5h3M0 54.5h1M0 55.5h1M6 56.5h1M3 58.5h1M3 59.5h1M5 59.5h1M3 60.5h1M4 62.5h1"/>
<path stroke="#8cb0de" d="M14 1.5h1M15 3.5h1M12 4.5h1M13 5.5h1M17 5.5h1M9 6.5h1M11 6.5h1M13 6.5h2M14 7.5h1M14 8.5h1M20 8.5h1M14 9.5h1M5 35.5h1M8 40.5h1M18 40.5h1M3 41.5h1M3 42.5h1M19 42.5h1M16 43.5h3M15 45.5h1M20 45.5h1M13 46.5h1M15 46.5h1M18 46.5h1M10 47.5h1M14 47.5h1M9 48.5h1M12 48.5h1M18 48.5h1M5 49.5h1M10 49.5h1M0 51.5h2M9 52.5h1M11 52.5h1M16 52.5h1M17 53.5h1M8 54.5h2M0 57.5h1M5 57.5h2M1 58.5h1M7 59.5h1M1 60.5h1M2 61.5h1M0 62.5h1"/>
<path stroke="#f3f0d1" d="M3 2.5h1M16 2.5h1M19 3.5h1M1 6.5h1M16 6.5h1M1 8.5h1M19 10.5h1M13 12.5h2M17 12.5h1M11 13.5h2M10 14.5h2M8 15.5h1M11 15.5h1M13 15.5h1M17 16.5h1M19 16.5h1M12 18.5h1M14 18.5h1M18 19.5h1M12 20.5h1M16 21.5h1M8 22.5h1M12 22.5h1M14 22.5h1M1 24.5h1M4 25.5h1M4 26.5h1M5 31.5h1M5 32.5h1M2 34.5h1M10 35.5h1M12 35.5h1M18 35.5h1M1 38.5h1M0 46.5h1M2 47.5h1M1 48.5h1M6 48.5h1M2 51.5h1M2 52.5h1M11 55.5h2M19 56.5h1M12 57.5h1M16 57.5h1M18 57.5h1M11 58.5h2M9 59.5h2M18 60.5h1M13 61.5h1M16 61.5h1"/>
<path stroke="#527ec4" d="M14 2.5h1M15 39.5h1M18 39.5h1M10 41.5h2M14 41.5h1M8 42.5h1M16 42.5h1M13 44.5h1M16 44.5h1M18 44.5h1M11 45.5h1M8 46.5h1M20 49.5h1M15 50.5h1M13 52.5h1M17 52.5h1M10 54.5h1M7 55.5h1M1 59.5h1"/>
<path stroke="#edf0dc" d="M17 2.5h1M18 8.5h1M9 9.5h1M10 11.5h2M13 11.5h1M16 11.5h1M11 12.5h1M18 12.5h1M14 13.5h1M17 13.5h2M12 14.5h1M15 14.5h1M17 14.5h1M12 16.5h1M20 16.5h1M18 18.5h1M18 20.5h1M13 22.5h1M17 22.5h1M20 22.5h1M5 24.5h1M0 25.5h1M1 31.5h1M4 31.5h1M3 32.5h1M3 33.5h1M7 33.5h1M0 35.5h1M15 35.5h1M2 36.5h1M7 37.5h1M4 38.5h1M6 38.5h2M7 39.5h1M7 40.5h1M6 41.5h1M6 42.5h1M1 43.5h1M6 43.5h1M2 44.5h1M7 44.5h1M5 47.5h3M0 48.5h1M5 48.5h1M19 48.5h1M6 49.5h1M3 52.5h2M6 52.5h1M1 54.5h2M9 55.5h1M15 55.5h1M17 55.5h1M8 56.5h1M17 57.5h1M20 57.5h1M17 58.5h1M14 59.5h1M17 59.5h1M9 61.5h1M14 62.5h1"/>
<path stroke="#eb8d52" d="M2 3.5h1M6 14.5h1M1 16.5h1M4 16.5h1M7 16.5h1M0 17.5h1M1 18.5h1M7 18.5h1M0 21.5h1M2 21.5h2M6 21.5h2M1 22.5h1M5 22.5h1M12 23.5h1M15 24.5h1M19 25.5h1M14 26.5h1M1 27.5h1M15 27.5h1M10 29.5h1M18 29.5h1M2 30.5h1M5 30.5h1M7 30.5h1M12 30.5h1M15 30.5h1M17 31.5h1M13 32.5h1M15 32.5h1M19 32.5h1M12 34.5h1M19 34.5h1M9 36.5h1M20 38.5h1"/>
<path stroke="#fcecb8" d="M5 3.5h1M3 4.5h3M1 5.5h1M4 5.5h1M7 5.5h1M1 7.5h1M3 7.5h1M5 8.5h1M0 9.5h1M2 10.5h1M8 11.5h1M16 14.5h1M11 16.5h1M16 16.5h1M9 17.5h1M13 17.5h1M18 17.5h1M17 18.5h1M16 20.5h1M17 21.5h1M19 21.5h1M16 22.5h1M19 22.5h1M4 24.5h1M1 25.5h1M5 25.5h1M0 29.5h1M3 29.5h1M0 31.5h1M4 32.5h1M7 32.5h1M2 33.5h1M15 33.5h1M6 34.5h1M10 34.5h2M9 37.5h1M18 37.5h1M2 48.5h1M10 58.5h1M20 59.5h1M16 60.5h2M20 60.5h1M8 61.5h1M12 61.5h1M18 61.5h1M20 61.5h1M17 62.5h1"/>
<path stroke="#6690ce" d="M13 3.5h1M9 10.5h1M12 40.5h1M17 40.5h1M13 42.5h1M18 42.5h1M11 43.5h1M19 43.5h1M10 44.5h1M14 44.5h2M0 45.5h1M9 45.5h1M13 45.5h1M16 45.5h1M9 46.5h1M11 46.5h1M11 47.5h1M17 47.5h1M20 47.5h1M11 48.5h1M13 49.5h1M11 50.5h1M17 50.5h1M15 51.5h1M17 51.5h1M20 52.5h1M11 53.5h1M13 53.5h1M15 53.5h1M1 57.5h1M4 57.5h1M1 61.5h1"/>
<path stroke="#739bd3" d="M8 4.5h1M13 4.5h1M14 5.5h1M3 35.5h1M12 41.5h1M15 41.5h2M12 42.5h1M14 42.5h1M9 43.5h1M14 43.5h1M8 45.5h1M16 46.5h2M9 47.5h1M12 47.5h2M17 48.5h1M16 50.5h1M16 51.5h1M18 51.5h1M8 52.5h1M18 53.5h2M11 54.5h2M18 54.5h1M1 55.5h1M3 55.5h1M2 57.5h1M4 59.5h1M3 61.5h1M6 61.5h1M2 62.5h1M6 62.5h1"/>
<path stroke="#5a86c9" d="M9 5.5h1M11 5.5h1M20 5.5h1M11 10.5h1M9 39.5h1M12 39.5h2M19 39.5h1M19 40.5h1M8 41.5h1M9 42.5h1M11 42.5h1M17 42.5h1M8 44.5h2M11 44.5h1M18 45.5h1M12 49.5h1M15 49.5h2M18 49.5h1M12 50.5h1M9 51.5h1M12 51.5h1M12 52.5h1M14 52.5h2M14 53.5h1M14 54.5h4M20 54.5h1M2 55.5h1M5 55.5h1M1 56.5h3M7 56.5h1M4 61.5h2M1 62.5h1M7 62.5h1"/>
<path stroke="#e77e47" d="M2 11.5h1M2 12.5h1M6 12.5h1M0 18.5h1M2 18.5h1M1 19.5h1M4 21.5h2M0 22.5h1M7 22.5h1M9 23.5h1M15 23.5h1M17 23.5h1M20 23.5h1M19 24.5h1M13 26.5h1M4 28.5h1M6 29.5h1M17 29.5h1M13 30.5h1M20 30.5h1M15 31.5h1M18 31.5h3M10 32.5h2"/>
<path stroke="#e17040" d="M2 16.5h1M2 19.5h1M2 22.5h1M8 23.5h1M10 27.5h1M2 28.5h1M6 28.5h1M8 29.5h2M11 29.5h1M16 29.5h1M6 30.5h1M8 30.5h1M12 31.5h1M20 33.5h1"/>
<path stroke="#d35233" d="M1 17.5h1M4 17.5h1M4 19.5h1M10 23.5h1M13 27.5h2M18 27.5h1M9 28.5h1M11 28.5h1M18 30.5h1M16 31.5h1"/>
<path stroke="#be3228" d="M2 17.5h1M7 19.5h1M6 22.5h1M8 27.5h1M11 27.5h2M17 27.5h1M19 27.5h2M8 28.5h1M10 28.5h1M13 28.5h2M17 28.5h1M20 29.5h1M16 30.5h1"/>
<path stroke="#c9422d" d="M6 17.5h1M6 18.5h1M6 19.5h1M11 23.5h1M13 23.5h1M19 28.5h2M19 30.5h1"/>
<path stroke="#db6139" d="M7 17.5h1M4 18.5h1M3 19.5h1M5 19.5h1M6 20.5h1M16 23.5h1M18 23.5h2M10 24.5h1M6 27.5h1M9 27.5h1M16 27.5h1M12 28.5h1M15 28.5h2M18 28.5h1M19 29.5h1M10 30.5h2M17 30.5h1M18 32.5h1M10 33.5h1"/>
<path stroke="#4c77be" d="M14 40.5h1M17 41.5h2M15 42.5h1M12 44.5h1M20 44.5h1M14 45.5h1M17 45.5h1M20 46.5h1M14 49.5h1M13 50.5h1M19 50.5h1M11 51.5h1M13 51.5h2M18 52.5h1M12 53.5h1M13 54.5h1"/>
<path stroke="#456fb9" d="M16 40.5h1M17 44.5h1M12 45.5h1M11 49.5h1M9 50.5h1M18 50.5h1M3 62.5h1M5 62.5h1"/>
<path stroke="#3e68b4" d="M10 50.5h1M14 50.5h1M20 50.5h1M20 51.5h1M0 56.5h1M4 56.5h2M3 57.5h1M5 58.5h1M0 61.5h1"/>
</g>
<rect x="115.90" y="443.60" width="73.50" height="23.20" fill="#f0e6cc"/>
<g transform="translate(115.90,443.60) scale(3.5000,1.5467)" stroke-width="1.04">
<path stroke="#f3a968" d="M0 0.5h1M6 0.5h1M10 1.5h1M16 1.5h1M19 1.5h1M9 2.5h1M6 4.5h1M18 4.5h1"/>
<path stroke="#f5b675" d="M1 0.5h1M3 0.5h1M10 0.5h1M6 1.5h1M13 1.5h1M17 1.5h2M0 2.5h3M4 2.5h1M6 2.5h1M12 2.5h1M16 3.5h1M2 4.5h1M4 4.5h1"/>
<path stroke="#ef9b5d" d="M2 0.5h1M5 0.5h1M14 0.5h1M11 1.5h1M7 2.5h1M17 2.5h1M19 3.5h1M8 4.5h1"/>
<path stroke="#d35233" d="M4 0.5h1M19 2.5h1"/>
<path stroke="#eb8d52" d="M7 0.5h1M10 2.5h1M15 2.5h1M9 3.5h1M10 4.5h1M13 4.5h1"/>
<path stroke="#c9422d" d="M8 0.5h1M20 2.5h1"/>
<path stroke="#e17040" d="M9 0.5h1M20 0.5h1M8 1.5h1M14 2.5h1M16 2.5h1M11 4.5h1M19 4.5h1"/>
<path stroke="#e77e47" d="M11 0.5h1M13 0.5h1M15 0.5h1M17 0.5h2M11 2.5h1M13 2.5h1M12 4.5h1M16 4.5h1"/>
<path stroke="#db6139" d="M12 0.5h1M16 0.5h1M8 2.5h1"/>
<path stroke="#be3228" d="M19 0.5h1"/>
<path stroke="#fcecb8" d="M0 1.5h1M3 1.5h1M10 3.5h1M17 3.5h1M1 4.5h1M2 6.5h1M14 6.5h1M18 12.5h1M7 13.5h1M9 14.5h1"/>
<path stroke="#fbda9d" d="M1 1.5h1M7 1.5h1M9 1.5h1M5 2.5h1M6 3.5h1M19 12.5h1M10 14.5h1"/>
<path stroke="#f8c382" d="M2 1.5h1M12 1.5h1M15 1.5h1M8 3.5h1M11 3.5h1M14 3.5h1M0 4.5h1M9 4.5h1M14 4.5h2M20 4.5h1M18 14.5h1"/>
<path stroke="#fad08f" d="M4 1.5h1M14 1.5h1M20 1.5h1M18 2.5h1M13 3.5h1M20 3.5h1M17 4.5h1M8 14.5h1"/>
<path stroke="#f3f0d1" d="M5 1.5h1M12 3.5h1M3 4.5h1M19 5.5h1M3 6.5h1M16 6.5h1M6 8.5h1M8 8.5h1M18 8.5h1M11 12.5h1M16 12.5h1M11 14.5h1M13 14.5h1M17 14.5h1"/>
<path stroke="#f9f0c5" d="M3 2.5h1M0 3.5h1M2 3.5h2M7 3.5h1M18 3.5h1M7 4.5h1M4 5.5h1M8 6.5h2M2 7.5h1M0 12.5h1M6 12.5h1M10 13.5h1M19 13.5h1"/>
<path stroke="#edf0dc" d="M1 3.5h1M5 4.5h1M1 6.5h1M7 6.5h1M10 6.5h1M5 7.5h3M19 7.5h1M7 11.5h1M1 12.5h2M7 12.5h2M13 12.5h1M12 13.5h1M17 13.5h1M2 14.5h1M4 14.5h1M14 14.5h1M19 14.5h2"/>
<path stroke="#fce3ab" d="M4 3.5h1M15 3.5h1M16 13.5h1M6 14.5h2M16 14.5h1"/>
<path stroke="#c6d7eb" d="M5 3.5h1M6 5.5h1M13 5.5h1M15 5.5h1M0 6.5h1M6 6.5h1M8 7.5h4M16 7.5h1M0 8.5h1M6 11.5h1M17 11.5h1M4 12.5h1M15 12.5h1M9 13.5h1M18 13.5h1"/>
<path stroke="#80a5d9" d="M0 5.5h1M18 5.5h1M10 8.5h1M3 9.5h1M5 9.5h1M19 9.5h1M19 11.5h1M3 14.5h1"/>
<path stroke="#9bbae2" d="M1 5.5h1M5 5.5h1M11 5.5h2M5 6.5h1M0 7.5h1M17 7.5h1M20 7.5h1M3 8.5h1M9 8.5h1M15 8.5h1M0 10.5h1M12 10.5h1M17 10.5h1M0 11.5h1M4 11.5h1M8 11.5h1M13 11.5h1M16 11.5h1M12 12.5h1M1 14.5h1"/>
<path stroke="#b8cee9" d="M2 5.5h1M10 5.5h1M14 5.5h1M15 6.5h1M13 8.5h2M19 8.5h1M2 9.5h1M4 9.5h1M1 10.5h2M4 10.5h1M1 11.5h2M3 12.5h1M1 13.5h1M3 13.5h1M14 13.5h1"/>
<path stroke="#e0e8e1" d="M3 5.5h1M17 6.5h2M1 7.5h1M4 7.5h1M15 7.5h1M7 8.5h1M12 8.5h1M6 10.5h2M9 12.5h2M17 12.5h1M6 13.5h1M8 13.5h1M20 13.5h1M12 14.5h1M15 14.5h1"/>
<path stroke="#d3dfe6" d="M7 5.5h1M11 6.5h3M3 7.5h1M13 7.5h1M1 8.5h2M4 8.5h1M16 8.5h1M20 8.5h1M20 12.5h1M0 13.5h1M4 13.5h1M11 13.5h1M13 13.5h1M15 13.5h1M5 14.5h1"/>
<path stroke="#a9c4e5" d="M8 5.5h2M17 5.5h1M4 6.5h1M19 6.5h1M12 7.5h1M18 7.5h1M17 8.5h1M6 9.5h1M5 12.5h1M14 12.5h1M2 13.5h1M5 13.5h1M0 14.5h1"/>
<path stroke="#8cb0de" d="M16 5.5h1M20 6.5h1M14 7.5h1M5 8.5h1M3 10.5h1M8 10.5h1M16 10.5h1M10 11.5h2"/>
<path stroke="#6690ce" d="M20 5.5h1M11 8.5h1M5 10.5h1M9 10.5h1M19 10.5h2M12 11.5h1M14 11.5h1"/>
<path stroke="#5a86c9" d="M0 9.5h1M8 9.5h1M12 9.5h1M15 9.5h2M18 10.5h1M15 11.5h1"/>
<path stroke="#527ec4" d="M1 9.5h1M7 9.5h1M11 10.5h1M13 10.5h1M15 10.5h1M9 11.5h1"/>
<path stroke="#3e68b4" d="M9 9.5h1M11 9.5h1M13 9.5h2M17 9.5h2"/>
<path stroke="#456fb9" d="M10 9.5h1M20 9.5h1"/>
<path stroke="#739bd3" d="M10 10.5h1M3 11.5h1M5 11.5h1M20 11.5h1"/>
<path stroke="#4c77be" d="M14 10.5h1M18 11.5h1"/>
</g>
<rect x="115.90" y="467.80" width="73.50" height="9.80" fill="#f0e6cc"/>
<g transform="translate(115.90,467.80) scale(3.5000,1.4000)" stroke-width="1.04">
<path stroke="#f8c382" d="M0 0.5h1M4 0.5h1M0 1.5h2M3 1.5h1M4 3.5h1M18 3.5h1"/>
<path stroke="#ef9b5d" d="M1 0.5h2M5 0.5h1M9 0.5h1M13 0.5h1M15 0.5h1M18 1.5h2M8 2.5h1M2 3.5h1"/>
<path stroke="#fad08f" d="M3 0.5h1M4 1.5h2M14 1.5h1M17 1.5h1M19 2.5h1M19 3.5h1M6 4.5h1"/>
<path stroke="#e77e47" d="M6 0.5h1M8 0.5h1M14 0.5h1M12 1.5h1"/>
<path stroke="#f3a968" d="M7 0.5h1M12 0.5h1M18 0.5h1M2 1.5h1M9 1.5h1M13 1.5h1M15 1.5h2"/>
<path stroke="#eb8d52" d="M10 0.5h2M20 0.5h1M6 1.5h2M10 1.5h1M20 1.5h1"/>
<path stroke="#db6139" d="M16 0.5h1"/>
<path stroke="#d35233" d="M17 0.5h1M19 0.5h1"/>
<path stroke="#c9422d" d="M8 1.5h1"/>
<path stroke="#f5b675" d="M11 1.5h1"/>
<path stroke="#fce3ab" d="M0 2.5h1M7 2.5h1M10 2.5h1M15 2.5h1M13 3.5h1M15 3.5h2"/>
<path stroke="#b8cee9" d="M1 2.5h1M11 5.5h1M13 5.5h1M15 5.5h1M0 6.5h2M4 6.5h1M7 6.5h1M20 6.5h1"/>
<path stroke="#fbda9d" d="M2 2.5h1M6 2.5h1M20 2.5h1M7 3.5h2M17 3.5h1"/>
<path stroke="#f3f0d1" d="M3 2.5h1M17 2.5h1M1 3.5h1M3 3.5h1M5 3.5h1M12 3.5h1M4 4.5h1M10 4.5h1M18 4.5h1"/>
<path stroke="#f9f0c5" d="M4 2.5h1M11 2.5h2M10 3.5h1M14 4.5h1M19 4.5h1"/>
<path stroke="#d3dfe6" d="M5 2.5h1M11 4.5h1M13 4.5h1M15 4.5h1M19 5.5h1M10 6.5h1M16 6.5h1M19 6.5h1"/>
<path stroke="#e0e8e1" d="M9 2.5h1M0 4.5h1M3 4.5h1M12 4.5h1M6 5.5h1M2 6.5h1M5 6.5h1"/>
<path stroke="#edf0dc" d="M13 2.5h2M14 3.5h1M2 4.5h1M6 6.5h1"/>
<path stroke="#fcecb8" d="M16 2.5h1M18 2.5h1M0 3.5h1M6 3.5h1M9 3.5h1M11 3.5h1M20 3.5h1"/>
<path stroke="#c6d7eb" d="M1 4.5h1M5 4.5h1M7 4.5h1M7 5.5h1M8 6.5h1"/>
<path stroke="#a9c4e5" d="M8 4.5h1M16 4.5h2M4 5.5h1M10 5.5h1M3 6.5h1M11 6.5h1M18 6.5h1"/>
<path stroke="#8cb0de" d="M9 4.5h1M0 5.5h1M5 5.5h1M14 5.5h1M16 5.5h1M20 5.5h1M12 6.5h1"/>
<path stroke="#9bbae2" d="M20 4.5h1M1 5.5h2M8 5.5h1M14 6.5h2"/>
<path stroke="#739bd3" d="M3 5.5h1M9 5.5h1M18 5.5h1M9 6.5h1M13 6.5h1"/>
<path stroke="#80a5d9" d="M12 5.5h1M17 5.5h1M17 6.5h1"/>
</g>
<rect x="115.90" y="479.50" width="73.50" height="28.50" fill="#f0e6cc"/>
<g transform="translate(115.90,479.50) scale(3.5000,1.5000)" stroke-width="1.04">
<path stroke="#f8c382" d="M0 0.5h1M1 2.5h1M0 4.5h1M4 4.5h1M3 5.5h1M8 5.5h1M16 5.5h1"/>
<path stroke="#f5b675" d="M1 0.5h1M3 2.5h1M14 3.5h1M2 4.5h1M6 4.5h1M8 4.5h1M10 4.5h1M19 4.5h1M10 5.5h1M14 5.5h1"/>
<path stroke="#d35233" d="M2 0.5h1M8 0.5h1M13 0.5h1M19 1.5h2M10 2.5h1M17 3.5h1M19 3.5h1"/>
<path stroke="#eb8d52" d="M3 0.5h1M4 1.5h1M8 1.5h1M11 1.5h1M14 1.5h1M9 2.5h1M13 2.5h3M2 3.5h1M11 3.5h1M18 3.5h1M13 5.5h1M20 5.5h1"/>
<path stroke="#ef9b5d" d="M4 0.5h1M6 0.5h2M14 0.5h2M5 1.5h1M12 1.5h1M11 2.5h2M17 2.5h1M3 3.5h1M7 3.5h1M20 3.5h1"/>
<path stroke="#f3a968" d="M5 0.5h1M0 2.5h1M2 2.5h1M5 2.5h1M0 3.5h1M13 3.5h1M9 4.5h1M1 5.5h1M9 5.5h1M11 5.5h1M17 5.5h1M19 5.5h1"/>
<path stroke="#db6139" d="M9 0.5h2M17 0.5h1M13 1.5h1M15 1.5h1M18 1.5h1M20 2.5h1M10 3.5h1"/>
<path stroke="#e77e47" d="M11 0.5h1M6 2.5h1M19 2.5h1M6 3.5h1M8 3.5h1"/>
<path stroke="#e17040" d="M12 0.5h1M16 0.5h1M20 0.5h1M2 1.5h2M7 1.5h1M9 1.5h2M4 2.5h1M8 2.5h1M18 2.5h1M9 3.5h1M16 3.5h1"/>
<path stroke="#be3228" d="M18 0.5h1M16 1.5h2"/>
<path stroke="#c9422d" d="M19 0.5h1M7 2.5h1M16 2.5h1M4 3.5h1"/>
<path stroke="#fad08f" d="M0 1.5h2M6 1.5h1M12 3.5h1M15 3.5h1M15 5.5h1"/>
<path stroke="#fbda9d" d="M1 3.5h1M14 4.5h2M18 4.5h1M20 4.5h1M2 5.5h1M18 5.5h1M16 17.5h1"/>
<path stroke="#fcecb8" d="M5 3.5h1M3 4.5h1M11 4.5h1M16 4.5h2M6 5.5h1M19 8.5h1M10 9.5h1M2 18.5h1M13 18.5h1"/>
<path stroke="#fce3ab" d="M1 4.5h1M5 4.5h1M7 4.5h1M12 4.5h2M0 5.5h1M4 5.5h1M7 5.5h1M12 5.5h1M6 17.5h1M6 18.5h1"/>
<path stroke="#edf0dc" d="M5 5.5h1M1 6.5h1M5 6.5h2M15 6.5h1M1 8.5h3M7 8.5h1M13 9.5h1M11 17.5h1M17 17.5h1M20 17.5h1M0 18.5h1M10 18.5h1M20 18.5h1"/>
<path stroke="#b8cee9" d="M0 6.5h1M12 6.5h1M16 6.5h1M8 8.5h1M14 9.5h1M2 11.5h1M7 11.5h1M13 11.5h1M20 11.5h1M6 15.5h1M16 16.5h1M1 17.5h1M9 17.5h1M13 17.5h1M1 18.5h1"/>
<path stroke="#9bbae2" d="M2 6.5h1M1 7.5h1M8 7.5h1M10 7.5h1M0 9.5h1M3 9.5h1M20 9.5h1M6 10.5h1M1 11.5h1M3 11.5h2M6 11.5h1M12 11.5h1M4 12.5h1M13 12.5h1M19 12.5h1M7 13.5h1M4 14.5h1M19 14.5h1M3 16.5h1M18 16.5h1"/>
<path stroke="#d3dfe6" d="M3 6.5h1M9 6.5h1M18 6.5h1M4 9.5h1M6 9.5h1M16 9.5h3M1 16.5h1M7 16.5h2M17 16.5h1M20 16.5h1M14 17.5h2M3 18.5h1M7 18.5h1M15 18.5h1"/>
<path stroke="#f3f0d1" d="M4 6.5h1M8 6.5h1M2 7.5h1M4 8.5h1M6 8.5h1M14 8.5h2M7 9.5h1M6 16.5h1M19 17.5h1M8 18.5h1"/>
<path stroke="#f9f0c5" d="M7 6.5h1M19 6.5h1M0 17.5h1M2 17.5h1M11 18.5h2M16 18.5h1M19 18.5h1"/>
<path stroke="#c6d7eb" d="M10 6.5h1M13 6.5h1M17 6.5h1M10 8.5h2M18 8.5h1M20 8.5h1M2 9.5h1M5 9.5h1M8 9.5h2M17 11.5h1M1 14.5h1M12 16.5h1M15 16.5h1M19 16.5h1M5 17.5h1M12 17.5h1M9 18.5h1M14 18.5h1"/>
<path stroke="#e0e8e1" d="M11 6.5h1M20 6.5h1M13 8.5h1M16 8.5h1M11 9.5h1M19 9.5h1M19 11.5h1M10 16.5h1M3 17.5h2M8 17.5h1M10 17.5h1M18 17.5h1M4 18.5h2M17 18.5h2"/>
<path stroke="#a9c4e5" d="M14 6.5h1M5 7.5h1M12 7.5h2M19 7.5h1M0 8.5h1M5 8.5h1M9 8.5h1M12 8.5h1M1 9.5h1M15 9.5h1M0 11.5h1M9 11.5h3M16 12.5h1M2 16.5h1M4 16.5h1M9 16.5h1M11 16.5h1M13 16.5h1M7 17.5h1"/>
<path stroke="#8cb0de" d="M0 7.5h1M14 7.5h1M16 7.5h1M12 9.5h1M1 10.5h1M8 11.5h1M15 11.5h2M18 11.5h1M1 12.5h1M7 12.5h1M9 13.5h1M6 14.5h1M8 14.5h1M13 14.5h1M8 15.5h1M15 15.5h1M18 15.5h1M0 16.5h1"/>
<path stroke="#456fb9" d="M3 7.5h1M3 10.5h1M5 10.5h1M11 10.5h1M13 10.5h1M5 15.5h1"/>
<path stroke="#5a86c9" d="M4 7.5h1M17 7.5h2M10 10.5h1M12 10.5h1M16 10.5h1M0 12.5h1M5 12.5h1M8 12.5h1M14 12.5h1M20 12.5h1M2 13.5h1M14 13.5h4M10 14.5h1M16 14.5h1M3 15.5h1M12 15.5h1"/>
<path stroke="#739bd3" d="M6 7.5h1M20 7.5h1M17 8.5h1M0 10.5h1M8 10.5h1M15 10.5h1M5 11.5h1M9 12.5h1M6 13.5h1M8 13.5h1M18 13.5h1M3 14.5h1M7 14.5h1M14 14.5h1M0 15.5h1M4 15.5h1M7 15.5h1M13 15.5h1M20 15.5h1M5 16.5h1M14 16.5h1"/>
<path stroke="#80a5d9" d="M7 7.5h1M9 7.5h1M15 7.5h1M7 10.5h1M6 12.5h1M10 12.5h2M15 12.5h1M0 14.5h1M2 15.5h1M11 15.5h1M16 15.5h1M19 15.5h1"/>
<path stroke="#6690ce" d="M11 7.5h1M2 10.5h1M4 10.5h1M18 10.5h2M14 11.5h1M2 12.5h2M12 12.5h1M17 12.5h2M0 13.5h2M10 13.5h1M13 13.5h1M5 14.5h1M9 14.5h1M12 14.5h1M18 14.5h1M1 15.5h1M9 15.5h2"/>
<path stroke="#4c77be" d="M9 10.5h1M17 10.5h1M3 13.5h1M11 13.5h2M19 13.5h2M15 14.5h1M14 15.5h1"/>
<path stroke="#3e68b4" d="M14 10.5h1M11 14.5h1"/>
<path stroke="#527ec4" d="M20 10.5h1M4 13.5h2M2 14.5h1M17 14.5h1M20 14.5h1M17 15.5h1"/>
</g>
<rect x="192.30" y="347.50" width="73.50" height="94.50" fill="#f0e6cc"/>
<g transform="translate(192.30,347.50) scale(3.5000,1.5000)" stroke-width="1.04">
<path stroke="#fcecb8" d="M0 0.5h1M1 2.5h1M3 3.5h1M1 5.5h1M1 9.5h1M3 9.5h1M2 11.5h1M8 12.5h1M18 12.5h1M3 13.5h1M19 13.5h1M1 14.5h1M10 16.5h1M14 16.5h2M8 17.5h1M19 17.5h1M18 19.5h1M12 20.5h1M18 21.5h1M10 22.5h1M6 23.5h1M5 24.5h1M7 25.5h1M0 26.5h1M5 26.5h1M0 31.5h1M4 32.5h1M9 33.5h1M13 33.5h2M4 34.5h1M6 34.5h1M14 36.5h1M11 37.5h1M8 38.5h1M14 38.5h1M20 38.5h1M2 39.5h1M5 40.5h2M2 41.5h1M2 44.5h1M6 47.5h2M1 51.5h1M17 55.5h1M19 56.5h1M8 57.5h2M17 57.5h1M19 57.5h1M10 58.5h1M19 58.5h1M8 59.5h1M12 59.5h1M16 59.5h1M20 60.5h1M14 61.5h1M17 61.5h1M12 62.5h1"/>
<path stroke="#f5b675" d="M1 0.5h1M4 0.5h2M7 0.5h1M4 1.5h1M2 2.5h1M4 3.5h1M2 4.5h1M0 5.5h1M7 5.5h1M2 13.5h1M0 14.5h1M2 14.5h1M9 18.5h1M14 18.5h2M19 18.5h1M3 19.5h1M10 20.5h1M19 22.5h1M9 23.5h3M16 23.5h1M20 23.5h1M6 24.5h2M12 24.5h1M17 24.5h1M2 25.5h1M14 25.5h1M9 26.5h1M2 27.5h1M5 27.5h1M7 27.5h1M0 28.5h1M6 28.5h2M4 29.5h1M10 31.5h1M18 31.5h1M20 32.5h1M16 33.5h1M19 33.5h2M17 34.5h1M8 36.5h1M10 36.5h1M12 36.5h1M17 36.5h1M20 36.5h1M11 38.5h1M16 38.5h1M10 62.5h1"/>
<path stroke="#ef9b5d" d="M2 0.5h1M6 0.5h1M6 1.5h1M7 2.5h1M2 7.5h1M2 8.5h1M5 8.5h2M6 11.5h1M5 12.5h1M2 17.5h1M7 17.5h1M11 18.5h2M2 19.5h1M1 20.5h1M8 20.5h1M19 20.5h1M1 22.5h1M3 22.5h1M13 23.5h1M19 23.5h1M15 24.5h1M10 25.5h1M20 25.5h1M14 26.5h1M16 26.5h1M4 27.5h1M2 28.5h1M15 28.5h1M1 29.5h1M6 29.5h1M12 30.5h1M10 32.5h2M13 32.5h1M17 32.5h2M10 33.5h1M18 33.5h1M15 34.5h2M13 36.5h1M20 62.5h1"/>
<path stroke="#f3a968" d="M3 0.5h1M6 3.5h1M1 4.5h1M4 4.5h1M2 6.5h1M6 6.5h2M4 8.5h1M7 8.5h1M2 10.5h1M7 13.5h1M7 15.5h1M3 16.5h1M5 16.5h1M11 16.5h1M19 16.5h1M1 17.5h1M3 17.5h1M7 21.5h1M14 23.5h1M17 23.5h1M11 24.5h1M8 25.5h1M15 25.5h1M17 25.5h2M8 26.5h1M11 26.5h1M15 26.5h1M19 26.5h2M16 27.5h1M1 28.5h1M3 29.5h1M5 29.5h1M14 29.5h1M4 30.5h1M9 31.5h1M11 31.5h2M15 31.5h1M17 31.5h1M9 32.5h1M12 32.5h1M12 34.5h2M19 35.5h1M18 36.5h1M11 62.5h1"/>
<path stroke="#b8cee9" d="M8 0.5h1M14 1.5h1M17 2.5h1M16 4.5h2M11 5.5h1M14 5.5h1M15 6.5h1M17 6.5h1M8 8.5h1M13 8.5h1M16 8.5h2M8 9.5h2M8 10.5h1M20 10.5h1M19 11.5h1M12 13.5h1M12 15.5h1M15 15.5h1M1 35.5h1M3 36.5h1M5 36.5h1M0 37.5h1M6 37.5h2M3 42.5h1M4 45.5h1M0 46.5h1M5 47.5h1M4 48.5h3M17 48.5h1M19 48.5h2M4 49.5h1M7 49.5h1M5 50.5h1M13 51.5h2M19 51.5h1M16 52.5h1M20 52.5h1M20 55.5h1M11 56.5h1M6 62.5h2"/>
<path stroke="#edf0dc" d="M9 0.5h1M10 4.5h1M12 5.5h1M5 6.5h1M18 6.5h1M3 7.5h1M5 7.5h1M8 7.5h1M20 8.5h1M1 11.5h1M8 11.5h1M16 12.5h2M12 17.5h1M9 19.5h1M9 21.5h2M16 21.5h1M14 22.5h1M17 22.5h1M4 26.5h1M5 31.5h1M6 32.5h1M6 33.5h1M1 34.5h1M3 34.5h1M12 35.5h1M13 38.5h1M4 39.5h1M4 41.5h1M1 42.5h1M1 43.5h2M6 43.5h1M2 45.5h1M6 45.5h1M4 46.5h1M7 46.5h1M0 47.5h1M3 47.5h1M0 50.5h2M8 51.5h1M1 52.5h1M4 52.5h1M10 55.5h1M13 55.5h1M16 55.5h1M8 56.5h2M15 56.5h1M15 57.5h1M20 57.5h1M13 58.5h1M17 59.5h1M8 60.5h1M11 60.5h1M15 60.5h1M19 60.5h1"/>
<path stroke="#f3f0d1" d="M10 0.5h1M16 0.5h2M8 1.5h1M8 2.5h1M5 3.5h1M13 6.5h1M3 8.5h1M0 9.5h1M5 9.5h1M19 10.5h1M3 11.5h1M10 11.5h1M12 11.5h1M10 12.5h3M13 13.5h1M20 13.5h1M1 15.5h1M5 15.5h1M20 16.5h1M13 17.5h3M10 19.5h2M15 19.5h2M20 19.5h1M11 20.5h1M8 21.5h1M11 21.5h1M15 21.5h1M20 21.5h1M0 23.5h1M5 23.5h1M4 25.5h1M1 32.5h1M2 34.5h1M6 35.5h1M14 35.5h1M9 37.5h1M13 37.5h2M16 37.5h1M18 37.5h1M20 37.5h1M3 38.5h1M6 38.5h1M3 40.5h1M7 42.5h1M2 46.5h1M6 46.5h1M7 50.5h1M0 51.5h1M5 51.5h1M0 52.5h1M2 52.5h1M5 52.5h1M1 54.5h1M9 55.5h1M12 55.5h1M14 55.5h1M10 56.5h1M14 58.5h1M16 58.5h1M13 59.5h3M10 60.5h1M17 60.5h1M9 61.5h1M12 61.5h1M20 61.5h1"/>
<path stroke="#e0e8e1" d="M11 0.5h1M20 0.5h1M10 1.5h1M12 1.5h2M19 1.5h2M12 4.5h1M19 4.5h1M16 6.5h1M19 7.5h1M9 10.5h1M13 11.5h1M16 11.5h1M9 12.5h1M13 12.5h1M15 12.5h1M20 12.5h1M8 13.5h1M11 13.5h1M17 13.5h1M16 14.5h1M10 15.5h1M19 15.5h1M16 17.5h1M17 21.5h1M3 25.5h1M5 25.5h1M1 26.5h1M3 26.5h1M7 31.5h1M0 32.5h1M3 32.5h1M7 33.5h1M7 34.5h1M2 35.5h1M15 35.5h1M1 36.5h1M4 36.5h1M6 36.5h1M8 37.5h1M6 39.5h1M4 40.5h1M7 40.5h1M2 42.5h1M6 42.5h1M3 43.5h1M1 44.5h1M5 46.5h1M1 47.5h1M3 48.5h1M7 52.5h1M0 53.5h2M4 53.5h1M2 54.5h1M6 54.5h1M19 55.5h1M12 56.5h1M14 56.5h1M17 56.5h1M13 57.5h1M12 58.5h1M15 58.5h1M17 58.5h1M13 60.5h1M16 60.5h1"/>
<path stroke="#a9c4e5" d="M12 0.5h1M14 0.5h1M9 1.5h1M9 2.5h1M14 2.5h2M20 2.5h1M10 3.5h1M17 3.5h1M19 3.5h1M15 5.5h1M14 6.5h1M10 7.5h1M11 8.5h1M18 8.5h1M10 9.5h1M13 9.5h1M18 11.5h1M9 13.5h2M11 14.5h1M19 14.5h1M16 15.5h1M18 15.5h1M20 15.5h1M3 33.5h1M5 34.5h1M3 37.5h1M4 38.5h1M0 39.5h1M3 39.5h1M5 41.5h2M10 42.5h1M19 42.5h1M3 44.5h1M7 44.5h1M1 46.5h1M17 46.5h1M11 47.5h1M11 48.5h1M3 50.5h1M11 50.5h1M9 51.5h1M16 51.5h1M8 52.5h1M15 52.5h1M3 54.5h1M7 54.5h1M6 56.5h1M6 57.5h1M2 58.5h1M2 59.5h1M6 59.5h2M18 59.5h1M9 60.5h1M0 62.5h1M2 62.5h1"/>
<path stroke="#d3dfe6" d="M13 0.5h1M15 0.5h1M15 1.5h1M11 2.5h1M8 4.5h2M13 4.5h1M20 4.5h1M8 5.5h2M13 5.5h1M16 5.5h1M10 6.5h2M19 6.5h2M12 7.5h2M16 7.5h1M20 7.5h1M14 8.5h2M16 9.5h1M19 9.5h1M18 10.5h1M17 11.5h1M14 13.5h1M16 13.5h1M8 14.5h1M13 14.5h1M17 14.5h2M20 14.5h1M8 15.5h1M20 17.5h1M12 19.5h1M12 21.5h1M3 23.5h1M1 25.5h1M3 35.5h1M0 36.5h1M2 36.5h1M1 39.5h1M5 39.5h1M0 40.5h2M4 42.5h2M20 42.5h1M7 43.5h1M0 44.5h1M4 44.5h1M6 44.5h1M2 47.5h1M1 49.5h1M6 50.5h1M3 51.5h1M3 53.5h1M5 53.5h1M11 55.5h1M18 55.5h1M13 56.5h1M18 56.5h1M14 60.5h1M13 61.5h1"/>
<path stroke="#c6d7eb" d="M18 0.5h1M16 1.5h2M16 2.5h1M8 3.5h1M11 4.5h1M15 4.5h1M18 5.5h2M12 6.5h1M9 7.5h1M15 7.5h1M9 8.5h2M12 8.5h1M11 9.5h1M20 9.5h1M10 10.5h3M16 10.5h2M11 11.5h1M15 11.5h1M20 11.5h1M14 12.5h1M15 13.5h1M10 14.5h1M12 14.5h1M9 15.5h1M13 15.5h1M3 31.5h1M4 33.5h2M7 36.5h1M1 37.5h2M17 37.5h1M0 38.5h1M7 39.5h1M7 41.5h1M0 42.5h1M9 42.5h1M4 43.5h1M5 44.5h1M0 45.5h2M7 45.5h1M8 47.5h1M1 48.5h1M7 48.5h1M6 49.5h1M17 51.5h1M6 52.5h1M2 53.5h1M7 53.5h1M4 54.5h2M8 55.5h1M16 56.5h1M20 56.5h1M11 57.5h1M11 59.5h1M11 61.5h1M4 62.5h1"/>
<path stroke="#f9f0c5" d="M19 0.5h1M11 1.5h1M18 1.5h1M0 3.5h2M20 5.5h1M9 6.5h1M11 7.5h1M1 8.5h1M19 8.5h1M6 9.5h1M4 11.5h1M14 11.5h1M5 14.5h1M2 15.5h2M18 16.5h1M9 17.5h1M17 17.5h1M14 19.5h1M17 19.5h1M13 20.5h2M11 22.5h1M1 23.5h2M3 24.5h1M0 25.5h1M6 26.5h1M2 31.5h1M5 32.5h1M7 32.5h1M0 34.5h1M9 35.5h1M15 36.5h2M10 37.5h1M12 37.5h1M15 37.5h1M19 37.5h1M2 38.5h1M12 38.5h1M17 38.5h2M4 47.5h1M2 48.5h1M2 50.5h1M4 50.5h1M2 51.5h1M6 53.5h1M12 57.5h1M16 57.5h1M9 59.5h1M20 59.5h1M19 61.5h1"/>
<path stroke="#f8c382" d="M0 1.5h1M3 1.5h1M5 1.5h1M7 1.5h1M3 2.5h1M2 5.5h1M1 6.5h1M3 6.5h1M6 7.5h1M2 9.5h1M4 9.5h1M4 10.5h1M7 10.5h1M7 11.5h1M1 12.5h1M7 12.5h1M8 16.5h1M16 16.5h1M11 17.5h1M5 18.5h1M18 18.5h1M20 18.5h1M13 19.5h1M19 19.5h1M3 21.5h1M8 23.5h1M18 23.5h1M4 24.5h1M9 25.5h1M11 25.5h2M7 26.5h1M17 26.5h2M5 30.5h1M15 32.5h2M12 33.5h1M15 33.5h1M8 34.5h1M8 35.5h1M10 38.5h1M15 38.5h1M18 57.5h1M19 62.5h1"/>
<path stroke="#fbda9d" d="M1 1.5h1M0 4.5h1M5 4.5h1M7 4.5h1M4 5.5h2M8 6.5h1M7 9.5h1M5 10.5h1M0 13.5h1M3 14.5h1M6 14.5h1M4 15.5h1M6 15.5h1M13 16.5h1M17 16.5h1M18 17.5h1M13 18.5h1M16 18.5h1M18 20.5h1M20 20.5h1M13 21.5h1M20 22.5h1M7 23.5h1M1 24.5h1M12 26.5h1M0 27.5h1M3 28.5h1M2 32.5h1M14 32.5h1M2 33.5h1M9 34.5h1M14 34.5h1M10 35.5h1M11 36.5h1M7 51.5h1M15 55.5h1M14 57.5h1M9 58.5h1M20 58.5h1M10 59.5h1M15 61.5h1M18 61.5h1M13 62.5h2M16 62.5h2"/>
<path stroke="#e77e47" d="M2 1.5h1M4 2.5h1M6 4.5h1M6 13.5h1M4 17.5h1M5 19.5h1M2 20.5h1M5 20.5h1M1 21.5h1M5 21.5h1M2 22.5h1M4 22.5h1M7 22.5h1M10 24.5h1M16 24.5h1M13 25.5h1M10 26.5h1M6 27.5h1M9 27.5h1M10 28.5h2M13 28.5h1M2 29.5h1M10 29.5h1M19 29.5h2M0 30.5h1M2 30.5h1M7 30.5h1M13 30.5h1M19 32.5h1M19 34.5h1"/>
<path stroke="#fce3ab" d="M0 2.5h1M5 2.5h1M19 2.5h1M2 3.5h1M3 4.5h1M3 5.5h1M6 5.5h1M0 7.5h1M4 7.5h1M0 10.5h2M6 10.5h1M0 11.5h1M5 11.5h1M18 13.5h1M4 14.5h1M7 14.5h1M0 15.5h1M12 16.5h1M17 18.5h1M8 19.5h1M16 20.5h2M14 21.5h1M9 22.5h1M12 22.5h2M15 22.5h2M4 23.5h1M0 24.5h1M14 24.5h1M6 25.5h1M16 25.5h1M5 28.5h1M3 30.5h1M4 31.5h1M6 31.5h1M14 31.5h1M13 35.5h1M17 35.5h2M20 35.5h1M9 36.5h1M9 38.5h1M2 40.5h1M0 48.5h1M4 51.5h1M10 57.5h1M8 58.5h1M18 58.5h1M19 59.5h1M18 60.5h1M10 61.5h1M16 61.5h1M9 62.5h1"/>
<path stroke="#fad08f" d="M6 2.5h1M7 3.5h1M0 6.5h1M1 7.5h1M7 7.5h1M0 8.5h1M3 10.5h1M0 12.5h1M3 12.5h1M19 12.5h1M1 13.5h1M4 13.5h2M9 16.5h1M9 20.5h1M15 20.5h1M19 21.5h1M8 22.5h1M18 22.5h1M2 24.5h1M9 24.5h1M2 26.5h1M1 27.5h1M3 27.5h1M1 31.5h1M8 33.5h1M11 33.5h1M17 33.5h1M11 34.5h1M18 34.5h1M20 34.5h1M11 35.5h1M16 35.5h1M19 36.5h1M19 38.5h1M6 51.5h1M11 58.5h1M8 61.5h1M8 62.5h1M15 62.5h1M18 62.5h1"/>
<path stroke="#80a5d9" d="M10 2.5h1M12 2.5h1M16 3.5h1M20 3.5h1M17 7.5h1M15 9.5h1M14 14.5h1M14 15.5h1M5 35.5h1M8 39.5h1M11 40.5h1M16 40.5h3M19 41.5h1M18 42.5h1M9 43.5h1M20 43.5h1M9 44.5h2M20 44.5h1M3 46.5h1M8 46.5h1M10 46.5h1M19 47.5h1M8 48.5h1M12 48.5h1M14 48.5h1M18 48.5h1M10 50.5h1M11 51.5h1M10 52.5h1M9 53.5h1M13 53.5h1M15 53.5h3M15 54.5h1M19 54.5h2M0 55.5h1M4 57.5h1M7 57.5h1M0 58.5h1M4 59.5h1M1 61.5h1"/>
<path stroke="#9bbae2" d="M13 2.5h1M18 2.5h1M11 3.5h1M13 3.5h1M18 4.5h1M10 5.5h1M17 5.5h1M14 7.5h1M17 9.5h1M13 10.5h1M9 11.5h1M9 14.5h1M17 15.5h1M10 17.5h1M0 33.5h1M7 35.5h1M4 37.5h2M1 38.5h1M12 39.5h1M8 40.5h1M12 40.5h2M15 40.5h1M19 40.5h1M1 41.5h1M13 42.5h1M17 42.5h1M0 43.5h1M5 43.5h1M19 44.5h1M5 45.5h1M13 47.5h1M17 47.5h1M9 48.5h2M13 48.5h1M2 49.5h1M16 50.5h1M10 51.5h1M12 51.5h1M15 51.5h1M0 54.5h1M2 55.5h1M0 57.5h1M7 58.5h1M0 59.5h1M2 61.5h1M4 61.5h1M6 61.5h1M1 62.5h1"/>
<path stroke="#8cb0de" d="M9 3.5h1M15 3.5h1M14 4.5h1M18 7.5h1M14 9.5h1M18 9.5h1M14 10.5h2M15 14.5h1M1 33.5h1M4 35.5h1M7 38.5h1M9 40.5h1M20 40.5h1M0 41.5h1M12 42.5h1M8 43.5h1M8 44.5h1M12 44.5h1M15 44.5h1M3 45.5h1M19 45.5h1M12 47.5h1M0 49.5h1M5 49.5h1M8 50.5h1M15 50.5h1M17 50.5h1M20 51.5h1M3 52.5h1M19 52.5h1M14 53.5h1M19 53.5h2M14 54.5h1M7 55.5h1M4 58.5h1M3 59.5h1M6 60.5h1M12 60.5h1M3 62.5h1M5 62.5h1"/>
<path stroke="#739bd3" d="M12 3.5h1M18 3.5h1M5 38.5h1M10 39.5h1M15 39.5h1M19 39.5h1M3 41.5h1M8 41.5h2M17 41.5h1M10 43.5h1M16 43.5h1M19 43.5h1M10 45.5h1M16 45.5h1M12 46.5h1M10 47.5h1M16 47.5h1M20 47.5h1M15 48.5h2M3 49.5h1M8 49.5h1M11 49.5h1M19 49.5h1M19 50.5h1M9 52.5h1M12 52.5h1M8 54.5h1M1 55.5h1M4 56.5h1M2 57.5h1M1 58.5h1M4 60.5h1M7 61.5h1"/>
<path stroke="#5a86c9" d="M14 3.5h1M0 35.5h1M14 39.5h1M15 41.5h2M20 41.5h1M15 42.5h2M12 43.5h2M9 46.5h1M15 46.5h1M18 47.5h1M12 49.5h1M15 49.5h2M20 49.5h1M20 50.5h1M13 52.5h2M8 53.5h1M10 53.5h1M10 54.5h1M18 54.5h1M7 56.5h1M3 57.5h1M1 59.5h1M5 59.5h1M0 60.5h1"/>
<path stroke="#eb8d52" d="M4 6.5h1M2 12.5h1M4 12.5h1M6 12.5h1M4 16.5h1M0 17.5h1M5 17.5h1M0 18.5h1M8 18.5h1M10 18.5h1M1 19.5h1M7 19.5h1M3 20.5h1M7 20.5h1M0 21.5h1M4 21.5h1M12 23.5h1M19 25.5h1M14 27.5h1M20 27.5h1M0 29.5h1M7 29.5h1M1 30.5h1M13 31.5h1M16 31.5h1M19 31.5h1M8 32.5h1M10 34.5h1"/>
<path stroke="#6690ce" d="M12 9.5h1M11 15.5h1M9 39.5h1M16 39.5h1M18 39.5h1M10 40.5h1M14 40.5h1M11 41.5h2M8 42.5h1M11 43.5h1M15 43.5h1M18 43.5h1M13 44.5h2M16 44.5h1M18 44.5h1M11 46.5h1M18 46.5h2M9 47.5h1M14 47.5h1M10 49.5h1M9 50.5h1M12 50.5h2M18 50.5h1M18 51.5h1M12 53.5h1M9 54.5h1M11 54.5h1M13 54.5h1M3 55.5h2M2 56.5h1M5 57.5h1M3 58.5h1M6 58.5h1M2 60.5h1M7 60.5h1M0 61.5h1M5 61.5h1"/>
<path stroke="#d35233" d="M0 16.5h1M7 16.5h1M4 18.5h1M4 20.5h1M6 20.5h1M5 22.5h1M18 24.5h1M20 24.5h1M13 26.5h1M12 27.5h1M4 28.5h1M13 29.5h1M14 30.5h1"/>
<path stroke="#e17040" d="M1 16.5h2M6 17.5h1M1 18.5h1M4 19.5h1M6 19.5h1M6 21.5h1M15 23.5h1M13 24.5h1M18 27.5h1M9 28.5h1M14 28.5h1M17 28.5h1M9 29.5h1M15 29.5h1M17 29.5h1M6 30.5h1M10 30.5h1M20 31.5h1"/>
<path stroke="#be3228" d="M6 16.5h1M3 18.5h1M6 18.5h1M19 24.5h1M18 28.5h1M8 29.5h1M18 29.5h1M11 30.5h1M17 30.5h4"/>
<path stroke="#c9422d" d="M2 18.5h1M6 22.5h1M17 27.5h1M19 27.5h1M8 28.5h1M16 28.5h1M19 28.5h2M11 29.5h1M16 29.5h1M8 30.5h1M15 30.5h2"/>
<path stroke="#db6139" d="M7 18.5h1M0 19.5h1M0 20.5h1M2 21.5h1M0 22.5h1M8 24.5h1M8 27.5h1M10 27.5h2M13 27.5h1M15 27.5h1M12 28.5h1M12 29.5h1M9 30.5h1M8 31.5h1"/>
<path stroke="#4c77be" d="M11 39.5h1M20 39.5h1M14 41.5h1M11 44.5h1M18 45.5h1M9 49.5h1M13 49.5h1M17 49.5h1M14 50.5h1M11 52.5h1M11 53.5h1M17 54.5h1M5 55.5h1M3 56.5h1M5 56.5h1M5 58.5h1M1 60.5h1M3 60.5h1"/>
<path stroke="#527ec4" d="M13 39.5h1M17 39.5h1M10 41.5h1M13 41.5h1M18 41.5h1M11 42.5h1M14 42.5h1M17 43.5h1M8 45.5h2M11 45.5h1M14 45.5h1M13 46.5h1M16 46.5h1M15 47.5h1M18 49.5h1M17 52.5h1M18 53.5h1M12 54.5h1M16 54.5h1M0 56.5h1M5 60.5h1M3 61.5h1"/>
<path stroke="#456fb9" d="M14 43.5h1M13 45.5h1M15 45.5h1M17 45.5h1M20 45.5h1M20 46.5h1M14 49.5h1M6 55.5h1M1 56.5h1"/>
<path stroke="#3e68b4" d="M17 44.5h1M12 45.5h1M14 46.5h1M18 52.5h1M1 57.5h1"/>
</g>
<rect x="192.30" y="443.60" width="73.50" height="23.20" fill="#f0e6cc"/>
<g transform="translate(192.30,443.60) scale(3.5000,1.5467)" stroke-width="1.04">
<path stroke="#f5b675" d="M0 0.5h1M0 1.5h1M4 1.5h1M5 2.5h1M6 3.5h1M13 3.5h1M18 3.5h1M18 4.5h1"/>
<path stroke="#fad08f" d="M1 0.5h1M8 3.5h1M8 4.5h2M13 4.5h1M10 5.5h1M16 5.5h1M4 8.5h1M19 8.5h1"/>
<path stroke="#fce3ab" d="M2 0.5h1M5 0.5h1M5 3.5h1M6 4.5h1M2 5.5h1M19 7.5h1M1 8.5h1M8 8.5h1"/>
<path stroke="#fbda9d" d="M3 0.5h1M7 0.5h1M5 1.5h1M3 2.5h1M14 3.5h1M2 4.5h1M7 4.5h1M15 4.5h1M8 5.5h1M2 8.5h1M7 8.5h1M10 8.5h1M20 8.5h1M6 14.5h1"/>
<path stroke="#f8c382" d="M4 0.5h1M17 0.5h1M9 1.5h1M2 3.5h2M10 3.5h1M15 3.5h1M1 4.5h1M4 4.5h1M10 4.5h1M14 4.5h1M17 4.5h1M20 4.5h1M6 8.5h1M16 8.5h1M18 8.5h1"/>
<path stroke="#ef9b5d" d="M6 0.5h1M10 0.5h2M13 0.5h1M16 0.5h1M18 0.5h1M1 2.5h1M4 3.5h1M11 4.5h1M19 4.5h1"/>
<path stroke="#f3a968" d="M8 0.5h1M12 0.5h1M14 0.5h2M1 1.5h3M7 1.5h1M9 3.5h1M20 3.5h1"/>
<path stroke="#eb8d52" d="M9 0.5h1M19 0.5h2M15 1.5h1M0 2.5h1M7 2.5h1M7 3.5h1M11 3.5h1M16 3.5h2M12 4.5h1"/>
<path stroke="#e77e47" d="M6 1.5h1M11 1.5h3M4 2.5h1M11 2.5h1M12 3.5h1"/>
<path stroke="#be3228" d="M8 1.5h1M20 1.5h1M8 2.5h1M10 2.5h1M14 2.5h1M16 2.5h1M19 2.5h1"/>
<path stroke="#d35233" d="M10 1.5h1M17 1.5h1M19 1.5h1M13 2.5h1M19 3.5h1"/>
<path stroke="#e17040" d="M14 1.5h1M2 2.5h1M15 2.5h1"/>
<path stroke="#db6139" d="M16 1.5h1M18 1.5h1M6 2.5h1M12 2.5h1M17 2.5h1M16 4.5h1"/>
<path stroke="#c9422d" d="M9 2.5h1M18 2.5h1M20 2.5h1"/>
<path stroke="#f9f0c5" d="M0 3.5h1M1 5.5h1M3 5.5h1M19 5.5h1M10 12.5h1M15 12.5h1M18 12.5h1M20 12.5h1M2 14.5h1M8 14.5h1M17 14.5h1"/>
<path stroke="#f3f0d1" d="M1 3.5h1M0 4.5h1M9 5.5h1M13 5.5h2M17 5.5h1M3 8.5h1M14 8.5h1M7 12.5h1M13 12.5h1M10 14.5h1M12 14.5h1M20 14.5h1"/>
<path stroke="#fcecb8" d="M3 4.5h1M5 4.5h1M6 5.5h1M7 6.5h1M12 8.5h1M13 14.5h1M16 14.5h1"/>
<path stroke="#e0e8e1" d="M0 5.5h1M18 5.5h1M6 6.5h1M18 6.5h1M1 7.5h2M4 7.5h1M0 10.5h1M8 12.5h1M6 13.5h2M15 14.5h1M19 14.5h1"/>
<path stroke="#edf0dc" d="M4 5.5h1M7 5.5h1M11 5.5h1M15 5.5h1M8 6.5h1M0 8.5h1M5 8.5h1M9 8.5h1M13 8.5h1M16 12.5h2M19 12.5h1M20 13.5h1"/>
<path stroke="#d3dfe6" d="M5 5.5h1M12 5.5h1M20 5.5h1M3 6.5h1M6 7.5h1M13 7.5h1M20 7.5h1M11 8.5h1M15 8.5h1M17 8.5h1M6 10.5h1M7 11.5h1M11 12.5h2M4 13.5h1M13 13.5h1M15 13.5h1M18 13.5h1M7 14.5h1M11 14.5h1M14 14.5h1M18 14.5h1"/>
<path stroke="#8cb0de" d="M0 6.5h1M3 7.5h1M3 10.5h2M7 10.5h2M16 10.5h1M1 11.5h1M3 11.5h1M9 11.5h1M3 13.5h1M5 13.5h1M9 13.5h2M16 13.5h1"/>
<path stroke="#b8cee9" d="M1 6.5h1M20 6.5h1M0 7.5h1M7 7.5h2M10 7.5h2M17 7.5h1M1 10.5h1M0 11.5h1M5 11.5h1M19 11.5h1M0 12.5h1M4 12.5h1M0 13.5h1M8 13.5h1M12 13.5h1M5 14.5h1"/>
<path stroke="#a9c4e5" d="M2 6.5h1M5 6.5h1M11 6.5h3M19 6.5h1M12 7.5h1M16 7.5h1M14 9.5h1M5 10.5h1M4 11.5h1M6 11.5h1M8 11.5h1M10 11.5h1M2 12.5h1M14 13.5h1M17 13.5h1M1 14.5h1"/>
<path stroke="#9bbae2" d="M4 6.5h1M9 6.5h2M17 6.5h1M9 7.5h1M14 7.5h1M7 9.5h2M10 9.5h1M2 10.5h1M10 10.5h1M19 10.5h2M2 11.5h1M5 12.5h1M14 12.5h1M1 13.5h1"/>
<path stroke="#739bd3" d="M14 6.5h1M5 7.5h1M1 9.5h1M11 11.5h1M13 11.5h1M17 11.5h1"/>
<path stroke="#80a5d9" d="M15 6.5h1M0 9.5h1M3 9.5h1M5 9.5h1M11 9.5h1M13 9.5h1M19 9.5h1M13 10.5h1M17 10.5h2M20 11.5h1"/>
<path stroke="#c6d7eb" d="M16 6.5h1M15 7.5h1M18 7.5h1M2 9.5h1M4 9.5h1M6 9.5h1M1 12.5h1M3 12.5h1M6 12.5h1M9 12.5h1M2 13.5h1M11 13.5h1M19 13.5h1M0 14.5h1M3 14.5h2M9 14.5h1"/>
<path stroke="#5a86c9" d="M9 9.5h1M18 9.5h1M12 10.5h1M15 10.5h1"/>
<path stroke="#6690ce" d="M12 9.5h1M15 9.5h2M20 9.5h1M14 10.5h1M12 11.5h1M15 11.5h2"/>
<path stroke="#527ec4" d="M17 9.5h1M18 11.5h1"/>
<path stroke="#4c77be" d="M9 10.5h1M11 10.5h1"/>
<path stroke="#3e68b4" d="M14 11.5h1"/>
</g>
<rect x="192.30" y="467.80" width="73.50" height="9.80" fill="#f0e6cc"/>
<g transform="translate(192.30,467.80) scale(3.5000,1.4000)" stroke-width="1.04">
<path stroke="#eb8d52" d="M0 0.5h2M15 0.5h1M17 1.5h1"/>
<path stroke="#ef9b5d" d="M2 0.5h1M6 0.5h1M8 0.5h1M12 0.5h1M14 0.5h1M1 1.5h1M11 1.5h1M13 1.5h1M16 1.5h1M6 2.5h1"/>
<path stroke="#f3a968" d="M3 0.5h1M7 0.5h1M10 0.5h1M17 0.5h2M20 0.5h1M0 1.5h1M3 1.5h2M14 1.5h1M20 1.5h1M6 3.5h1"/>
<path stroke="#e77e47" d="M4 0.5h2M9 0.5h1M13 0.5h1M19 0.5h1M7 1.5h1M9 1.5h1M19 3.5h1"/>
<path stroke="#e17040" d="M11 0.5h1M16 0.5h1M2 1.5h1M6 1.5h1M10 1.5h1M15 1.5h1"/>
<path stroke="#fbda9d" d="M5 1.5h1M11 2.5h2M14 2.5h1M17 2.5h1M1 3.5h1M3 3.5h1M8 3.5h1M16 3.5h1"/>
<path stroke="#d35233" d="M8 1.5h1"/>
<path stroke="#f8c382" d="M12 1.5h1M18 1.5h1M0 2.5h1M13 2.5h1M17 3.5h1"/>
<path stroke="#db6139" d="M19 1.5h1"/>
<path stroke="#fce3ab" d="M1 2.5h1M16 2.5h1M19 2.5h2M7 3.5h1M9 3.5h1M14 3.5h2M18 3.5h1"/>
<path stroke="#f5b675" d="M2 2.5h1M4 2.5h1M8 2.5h1M10 2.5h1"/>
<path stroke="#e0e8e1" d="M3 2.5h1M8 4.5h1M3 5.5h1M7 5.5h1M12 5.5h1M2 6.5h1M6 6.5h1"/>
<path stroke="#f3f0d1" d="M5 2.5h1M4 5.5h1M16 5.5h1M19 5.5h1"/>
<path stroke="#fad08f" d="M7 2.5h1M9 2.5h1M15 2.5h1M18 2.5h1M11 3.5h2M20 3.5h1"/>
<path stroke="#f9f0c5" d="M0 3.5h1M2 3.5h1M5 3.5h1M13 3.5h1M2 5.5h1"/>
<path stroke="#fcecb8" d="M4 3.5h1M10 3.5h1M8 5.5h1"/>
<path stroke="#a9c4e5" d="M0 4.5h1M5 4.5h2M17 5.5h1M4 6.5h1M7 6.5h2M13 6.5h1M17 6.5h1M20 6.5h1"/>
<path stroke="#b8cee9" d="M1 4.5h1M17 4.5h1M0 5.5h1M9 6.5h1M11 6.5h1"/>
<path stroke="#c6d7eb" d="M2 4.5h1M10 5.5h2M15 5.5h1M0 6.5h1M19 6.5h1"/>
<path stroke="#9bbae2" d="M3 4.5h1M10 4.5h1M13 4.5h1M18 4.5h1M1 6.5h1M3 6.5h1M10 6.5h1M14 6.5h2"/>
<path stroke="#edf0dc" d="M4 4.5h1M16 4.5h1M19 4.5h1M1 5.5h1M5 5.5h2M9 5.5h1M18 5.5h1"/>
<path stroke="#d3dfe6" d="M7 4.5h1M15 4.5h1M13 5.5h2M20 5.5h1M5 6.5h1M16 6.5h1"/>
<path stroke="#6690ce" d="M9 4.5h1M20 4.5h1"/>
<path stroke="#739bd3" d="M11 4.5h1"/>
<path stroke="#80a5d9" d="M12 4.5h1M18 6.5h1"/>
<path stroke="#5a86c9" d="M14 4.5h1"/>
<path stroke="#8cb0de" d="M12 6.5h1"/>
</g>
<rect x="192.30" y="479.50" width="73.50" height="28.50" fill="#f0e6cc"/>
<g transform="translate(192.30,479.50) scale(3.5000,1.5000)" stroke-width="1.04">
<path stroke="#e77e47" d="M0 0.5h1M14 0.5h1M1 1.5h1M9 1.5h1M6 2.5h1M15 2.5h1M19 2.5h1M9 4.5h1M20 4.5h1"/>
<path stroke="#eb8d52" d="M1 0.5h1M3 0.5h2M0 1.5h1M10 4.5h1"/>
<path stroke="#d35233" d="M2 0.5h1M13 1.5h1M15 1.5h2M8 2.5h1"/>
<path stroke="#f5b675" d="M5 0.5h1M4 2.5h1M7 2.5h1M12 2.5h1M6 4.5h1M19 4.5h1M16 5.5h1M2 18.5h1"/>
<path stroke="#e17040" d="M6 0.5h1M9 0.5h1M13 0.5h1M17 0.5h1M20 0.5h1M4 1.5h1M9 2.5h2M8 4.5h1"/>
<path stroke="#ef9b5d" d="M7 0.5h1M3 1.5h1M1 2.5h1M13 2.5h1M17 2.5h1M19 3.5h1M7 4.5h1M14 4.5h1"/>
<path stroke="#be3228" d="M8 0.5h1M19 0.5h1M2 1.5h1M6 1.5h3M11 1.5h2M14 1.5h1"/>
<path stroke="#db6139" d="M10 0.5h3M15 0.5h2M18 0.5h1M10 1.5h1M18 1.5h3M2 2.5h1M14 2.5h1M18 2.5h1"/>
<path stroke="#f8c382" d="M5 1.5h1M5 2.5h1M17 3.5h1M0 4.5h2M3 4.5h2M1 5.5h2M19 5.5h1M17 16.5h1"/>
<path stroke="#c9422d" d="M17 1.5h1M11 2.5h1M16 2.5h1"/>
<path stroke="#fad08f" d="M0 2.5h1M3 2.5h1M11 3.5h1M13 3.5h1M16 3.5h1M13 4.5h1M17 4.5h1M8 5.5h2M14 5.5h1M18 5.5h1M20 5.5h1M2 16.5h1M7 17.5h1M0 18.5h1"/>
<path stroke="#f3a968" d="M20 2.5h1M2 3.5h1M7 3.5h1M9 3.5h2M20 3.5h1M2 4.5h1M11 4.5h1M15 4.5h2M18 4.5h1"/>
<path stroke="#fbda9d" d="M0 3.5h1M4 3.5h1M4 5.5h1M15 5.5h1M17 5.5h1M16 17.5h1M19 17.5h1M13 18.5h1"/>
<path stroke="#fcecb8" d="M1 3.5h1M5 3.5h1M14 3.5h1M18 3.5h1M0 5.5h1M5 5.5h2M6 6.5h1M6 8.5h1M15 8.5h1M16 16.5h1M20 16.5h1M5 17.5h2M6 18.5h1M11 18.5h1"/>
<path stroke="#f9f0c5" d="M3 3.5h1M8 3.5h1M12 3.5h1M7 5.5h1M11 5.5h2M20 6.5h1M4 7.5h1M6 9.5h1M6 16.5h1M8 16.5h2M13 16.5h1M19 16.5h1M0 17.5h1M10 17.5h5M20 17.5h1M4 18.5h1M7 18.5h1M10 18.5h1"/>
<path stroke="#fce3ab" d="M6 3.5h1M15 3.5h1M5 4.5h1M12 4.5h1M3 5.5h1M10 5.5h1M13 5.5h1M19 7.5h1M4 8.5h1M19 8.5h1M7 16.5h1M10 16.5h1M4 17.5h1M15 17.5h1M16 18.5h1M19 18.5h1"/>
<path stroke="#a9c4e5" d="M0 6.5h1M5 6.5h1M5 7.5h1M12 7.5h1M14 7.5h1M13 8.5h1M10 9.5h1M8 10.5h1M6 11.5h1M10 11.5h1M15 11.5h1M17 11.5h1M2 12.5h1M4 14.5h1M6 15.5h1M19 15.5h1"/>
<path stroke="#e0e8e1" d="M1 6.5h1M7 6.5h1M9 6.5h2M13 6.5h1M18 6.5h1M0 7.5h1M2 7.5h1M1 8.5h1M12 8.5h1M16 8.5h1M1 9.5h1M7 9.5h1M15 9.5h1M16 10.5h1M12 16.5h1M18 16.5h1M3 17.5h1M8 18.5h1M14 18.5h1M17 18.5h1"/>
<path stroke="#f3f0d1" d="M2 6.5h1M8 6.5h1M17 6.5h1M3 8.5h1M2 11.5h1M0 16.5h2M4 16.5h1M11 16.5h1M1 17.5h2M8 17.5h1M17 17.5h2M1 18.5h1M9 18.5h1M12 18.5h1M18 18.5h1"/>
<path stroke="#9bbae2" d="M3 6.5h1M15 7.5h1M18 7.5h1M9 8.5h1M12 9.5h1M16 9.5h1M10 10.5h1M17 10.5h1M12 11.5h1M6 14.5h1M8 14.5h1M17 14.5h1M7 15.5h1M14 15.5h1M16 15.5h1M5 16.5h1"/>
<path stroke="#c6d7eb" d="M4 6.5h1M14 6.5h1M3 7.5h1M7 7.5h1M11 7.5h1M13 7.5h1M0 8.5h1M10 8.5h1M17 8.5h1M0 9.5h1M8 9.5h1M11 9.5h1M2 10.5h1M19 10.5h1M9 11.5h1M13 11.5h1M3 16.5h1M14 16.5h1M3 18.5h1"/>
<path stroke="#edf0dc" d="M11 6.5h1M16 6.5h1M2 8.5h1M18 8.5h1M13 9.5h1M15 16.5h1M9 17.5h1M5 18.5h1M15 18.5h1M20 18.5h1"/>
<path stroke="#b8cee9" d="M12 6.5h1M1 7.5h1M6 7.5h1M9 7.5h1M20 7.5h1M5 9.5h1M9 9.5h1M17 9.5h1M4 11.5h1M11 11.5h1M14 11.5h1M6 12.5h1M8 12.5h1"/>
<path stroke="#d3dfe6" d="M15 6.5h1M19 6.5h1M8 7.5h1M10 7.5h1M16 7.5h1M5 8.5h1M7 8.5h2M11 8.5h1M20 8.5h1M2 9.5h3M18 9.5h3M1 11.5h1"/>
<path stroke="#8cb0de" d="M17 7.5h1M14 8.5h1M0 11.5h1M3 11.5h1M7 11.5h2M20 11.5h1M16 12.5h1M2 13.5h1M10 13.5h1M1 14.5h3M10 14.5h1M4 15.5h1M12 15.5h1"/>
<path stroke="#80a5d9" d="M14 9.5h1M5 10.5h2M13 10.5h1M15 10.5h1M18 10.5h1M18 11.5h1M5 12.5h1M7 12.5h1M11 12.5h1M18 12.5h1M5 14.5h1M12 14.5h2M18 14.5h3M0 15.5h4M5 15.5h1M13 15.5h1M17 15.5h1M20 15.5h1"/>
<path stroke="#6690ce" d="M0 10.5h1M4 10.5h1M7 10.5h1M11 10.5h1M4 12.5h1M10 12.5h1M14 12.5h1M5 13.5h1M7 13.5h1M11 13.5h1M15 13.5h2M0 14.5h1M7 14.5h1M15 14.5h2M9 15.5h2M15 15.5h1"/>
<path stroke="#5a86c9" d="M1 10.5h1M14 10.5h1M1 12.5h1M9 12.5h1M17 12.5h1M19 12.5h1M1 13.5h1M4 13.5h1M6 13.5h1M9 13.5h1M13 13.5h2M19 13.5h1M9 14.5h1M14 14.5h1"/>
<path stroke="#739bd3" d="M3 10.5h1M9 10.5h1M20 10.5h1M5 11.5h1M16 11.5h1M19 11.5h1M0 12.5h1M3 12.5h1M12 12.5h2M15 12.5h1M8 13.5h1M17 13.5h1M20 13.5h1M11 14.5h1M18 15.5h1"/>
<path stroke="#527ec4" d="M12 10.5h1M20 12.5h1M0 13.5h1M12 13.5h1M18 13.5h1M8 15.5h1M11 15.5h1"/>
<path stroke="#4c77be" d="M3 13.5h1"/>
</g>
<rect x="268.90" y="347.50" width="73.50" height="94.50" fill="#f0e6cc"/>
<g transform="translate(268.90,347.50) scale(3.5000,1.5000)" stroke-width="1.04">
<path stroke="#f5b675" d="M0 0.5h1M4 0.5h2M2 1.5h1M1 2.5h1M0 3.5h2M2 5.5h1M4 5.5h1M6 5.5h1M7 6.5h1M0 7.5h1M7 7.5h1M5 10.5h1M7 13.5h1M0 15.5h1M3 15.5h2M0 16.5h1M2 16.5h2M5 16.5h2M9 19.5h1M20 19.5h1M5 20.5h1M19 20.5h1M5 21.5h1M6 23.5h1M18 23.5h1M12 24.5h1M16 24.5h2M20 24.5h1M0 26.5h1M14 26.5h1M3 27.5h1M1 28.5h1M10 28.5h2M13 32.5h2M18 32.5h1M12 34.5h1M14 34.5h1M20 37.5h1M8 38.5h1M11 62.5h1"/>
<path stroke="#ef9b5d" d="M1 0.5h1M0 5.5h1M7 5.5h1M0 17.5h1M7 17.5h1M1 18.5h1M12 19.5h1M18 19.5h1M0 21.5h1M10 23.5h1M13 23.5h2M16 23.5h2M2 25.5h1M18 25.5h1M9 26.5h1M18 26.5h1M2 27.5h1M4 27.5h1M4 28.5h1M17 28.5h1M20 28.5h1M14 29.5h1M0 31.5h1M19 33.5h1M11 34.5h1M18 34.5h2"/>
<path stroke="#f3a968" d="M2 0.5h1M0 1.5h1M4 3.5h1M2 6.5h1M6 10.5h1M5 13.5h2M5 17.5h1M8 19.5h1M15 19.5h1M1 22.5h1M19 22.5h1M2 23.5h1M1 24.5h1M11 24.5h1M18 24.5h1M11 25.5h1M2 26.5h1M15 26.5h1M17 26.5h1M1 27.5h1M7 27.5h1M7 29.5h1M2 31.5h1M6 31.5h1M10 31.5h1M14 31.5h1M17 32.5h1M19 32.5h1M17 34.5h1M10 36.5h1"/>
<path stroke="#fcecb8" d="M3 0.5h1M6 0.5h1M8 3.5h1M3 6.5h2M0 8.5h2M8 9.5h1M19 10.5h1M15 11.5h1M19 13.5h1M5 14.5h1M7 14.5h2M12 14.5h1M16 16.5h1M15 17.5h1M20 17.5h1M10 18.5h1M10 20.5h1M18 20.5h1M14 21.5h1M19 21.5h1M20 22.5h1M1 23.5h1M4 23.5h1M0 24.5h1M7 24.5h1M0 25.5h1M3 25.5h1M7 25.5h1M5 27.5h1M15 32.5h1M13 33.5h1M11 36.5h1M17 37.5h2M9 38.5h1M12 38.5h1M14 38.5h1M17 38.5h2M20 38.5h1M2 40.5h1M6 40.5h2M1 48.5h1M7 49.5h1M0 54.5h1M7 54.5h1M12 55.5h1M15 55.5h2M8 56.5h2M16 56.5h1M19 56.5h1M13 57.5h1M10 58.5h1M8 59.5h2M13 59.5h1M16 59.5h1M20 60.5h1M16 62.5h1M20 62.5h1"/>
<path stroke="#f8c382" d="M7 0.5h1M5 1.5h1M0 2.5h1M6 2.5h1M6 3.5h1M1 5.5h1M5 5.5h1M4 7.5h1M2 8.5h1M2 9.5h1M0 10.5h2M7 10.5h1M6 11.5h2M4 12.5h1M6 12.5h1M1 13.5h1M2 15.5h1M8 18.5h1M11 19.5h1M11 20.5h1M3 22.5h1M2 24.5h1M4 24.5h1M14 24.5h1M6 26.5h1M10 26.5h1M12 26.5h1M6 28.5h2M2 30.5h1M7 30.5h1M4 31.5h1M8 33.5h1M12 33.5h1M16 33.5h1M18 33.5h1M10 34.5h1M12 36.5h1M16 36.5h1M15 37.5h2M10 55.5h1M11 61.5h1M19 61.5h1M18 62.5h2"/>
<path stroke="#edf0dc" d="M8 0.5h1M20 0.5h1M16 1.5h1M19 2.5h1M5 3.5h1M10 3.5h1M19 5.5h2M10 7.5h1M19 9.5h1M10 11.5h2M10 12.5h1M0 13.5h1M8 13.5h1M4 14.5h1M9 15.5h2M18 15.5h2M14 16.5h2M20 16.5h1M9 17.5h1M12 17.5h1M16 20.5h1M20 20.5h1M10 21.5h1M9 22.5h2M3 24.5h1M4 26.5h1M1 32.5h1M15 33.5h1M20 33.5h1M2 34.5h1M6 34.5h1M9 35.5h1M20 35.5h1M13 36.5h1M4 39.5h1M0 41.5h1M6 41.5h1M20 42.5h1M2 43.5h2M7 44.5h1M4 45.5h1M19 45.5h1M6 47.5h2M0 48.5h1M2 49.5h1M6 49.5h1M0 50.5h1M5 50.5h1M4 51.5h1M4 52.5h2M6 53.5h1M6 54.5h1M8 55.5h1M13 55.5h2M12 57.5h1M17 57.5h1M8 58.5h1M15 59.5h1M17 59.5h1M15 61.5h1M10 62.5h1M17 62.5h1"/>
<path stroke="#9bbae2" d="M9 0.5h1M13 0.5h2M16 0.5h1M20 1.5h1M11 3.5h1M15 3.5h1M18 3.5h1M20 4.5h1M14 6.5h1M14 7.5h1M18 7.5h1M11 9.5h1M15 9.5h1M15 12.5h1M17 12.5h2M20 12.5h1M16 13.5h1M5 33.5h1M1 35.5h2M4 35.5h1M3 36.5h1M6 36.5h1M0 37.5h1M8 40.5h1M12 40.5h1M16 40.5h1M8 41.5h1M19 41.5h1M12 42.5h2M10 43.5h1M19 43.5h1M5 44.5h1M13 45.5h1M17 45.5h1M11 48.5h1M16 48.5h1M18 48.5h1M0 49.5h1M8 49.5h1M19 50.5h1M3 51.5h1M18 51.5h1M19 52.5h2M0 53.5h1M3 53.5h1M18 54.5h1M4 55.5h1M4 58.5h1M6 58.5h1M12 58.5h1M1 62.5h2"/>
<path stroke="#a9c4e5" d="M10 0.5h1M18 0.5h1M17 1.5h2M11 2.5h1M14 2.5h1M16 2.5h1M8 4.5h1M19 4.5h1M11 5.5h1M12 6.5h1M12 8.5h2M16 8.5h1M20 8.5h1M9 9.5h1M12 9.5h2M11 10.5h1M19 11.5h1M11 12.5h1M14 12.5h1M13 14.5h2M18 14.5h1M13 15.5h1M20 15.5h1M0 32.5h1M4 32.5h1M0 33.5h1M0 34.5h1M3 34.5h1M5 36.5h1M6 37.5h2M0 38.5h1M5 39.5h1M3 40.5h1M20 40.5h1M1 41.5h1M14 42.5h1M17 42.5h2M0 43.5h1M0 44.5h1M8 45.5h1M19 46.5h1M2 47.5h1M8 48.5h1M19 48.5h1M5 49.5h1M3 50.5h1M8 52.5h1M1 55.5h2M2 57.5h1M14 60.5h1M18 60.5h1M5 62.5h1"/>
<path stroke="#d3dfe6" d="M11 0.5h1M15 0.5h1M13 1.5h1M8 2.5h1M15 2.5h1M12 3.5h1M20 3.5h1M0 4.5h1M13 5.5h1M15 5.5h1M18 5.5h1M11 6.5h1M13 6.5h1M19 6.5h1M11 7.5h1M10 9.5h1M18 10.5h1M13 11.5h1M9 12.5h1M10 13.5h1M20 13.5h1M11 14.5h1M19 14.5h1M11 15.5h1M13 22.5h1M1 26.5h1M7 32.5h1M3 33.5h1M5 34.5h1M0 36.5h2M6 38.5h1M19 40.5h1M2 41.5h2M7 43.5h1M3 45.5h1M5 45.5h1M4 46.5h2M7 46.5h1M3 49.5h2M7 50.5h1M2 51.5h1M7 51.5h1M1 52.5h1M3 52.5h1M4 54.5h1M18 56.5h1M11 58.5h1M11 59.5h1M11 60.5h2M20 61.5h1"/>
<path stroke="#80a5d9" d="M12 0.5h1M18 2.5h1M11 4.5h1M14 9.5h1M14 10.5h1M12 12.5h1M0 35.5h1M3 39.5h1M10 39.5h1M13 39.5h1M19 39.5h2M10 40.5h1M15 40.5h1M11 41.5h1M15 41.5h1M8 43.5h1M15 43.5h1M20 43.5h1M15 44.5h1M20 44.5h1M11 46.5h1M16 46.5h1M5 47.5h1M8 47.5h1M11 47.5h1M10 48.5h1M8 50.5h1M10 50.5h1M17 50.5h1M19 51.5h1M11 52.5h1M13 52.5h1M17 52.5h1M19 53.5h1M12 54.5h1M16 54.5h2M5 56.5h1M0 58.5h1M7 58.5h1M2 59.5h1M0 60.5h1M6 60.5h1M3 61.5h2M0 62.5h1M4 62.5h1"/>
<path stroke="#e0e8e1" d="M17 0.5h1M8 1.5h1M11 1.5h1M9 2.5h1M20 2.5h1M16 3.5h1M8 5.5h1M16 5.5h1M8 6.5h1M18 6.5h1M8 7.5h1M17 7.5h1M19 8.5h1M8 10.5h1M16 10.5h1M16 11.5h1M9 13.5h1M15 13.5h1M18 13.5h1M3 14.5h1M15 15.5h1M11 16.5h1M12 20.5h1M9 21.5h1M11 21.5h2M16 21.5h1M14 22.5h1M5 26.5h1M4 34.5h1M14 35.5h1M16 35.5h1M2 36.5h1M14 36.5h1M7 38.5h1M0 39.5h1M4 40.5h1M3 42.5h1M5 42.5h1M2 44.5h1M1 45.5h2M6 45.5h1M1 46.5h1M3 48.5h1M1 49.5h1M1 50.5h1M4 50.5h1M2 53.5h1M9 55.5h1M10 56.5h1M20 58.5h1M20 59.5h1M8 60.5h1M10 60.5h1M13 60.5h1M15 60.5h1M17 60.5h1M9 61.5h1"/>
<path stroke="#f3f0d1" d="M19 0.5h1M16 6.5h2M16 7.5h1M19 7.5h1M3 8.5h1M5 9.5h1M8 11.5h1M16 12.5h1M12 13.5h2M10 14.5h1M16 14.5h1M8 16.5h1M10 16.5h1M16 17.5h1M18 17.5h1M18 18.5h1M9 20.5h1M14 20.5h1M17 20.5h1M17 21.5h1M20 21.5h1M8 22.5h1M16 22.5h1M3 23.5h1M3 26.5h1M3 28.5h1M2 32.5h1M5 32.5h1M12 35.5h1M17 35.5h1M18 36.5h1M1 38.5h1M10 38.5h1M2 39.5h1M6 39.5h1M1 40.5h1M4 41.5h1M7 41.5h1M4 42.5h1M0 45.5h1M7 45.5h1M4 48.5h1M2 50.5h1M6 50.5h1M1 51.5h1M0 52.5h1M2 52.5h1M1 54.5h1M5 54.5h1M20 55.5h1M11 56.5h2M9 57.5h1M14 57.5h1M16 57.5h1M9 58.5h1M13 58.5h2M16 58.5h1M10 59.5h1M12 59.5h1M18 59.5h1M16 60.5h1M19 60.5h1M10 61.5h1M13 61.5h1M16 61.5h1"/>
<path stroke="#eb8d52" d="M1 1.5h1M2 2.5h1M2 3.5h1M6 4.5h1M4 8.5h1M4 13.5h1M6 14.5h1M6 15.5h1M1 16.5h1M4 16.5h1M1 17.5h1M4 17.5h1M6 17.5h1M7 18.5h1M3 19.5h1M17 19.5h1M19 19.5h1M2 20.5h1M4 20.5h1M0 22.5h1M5 22.5h1M7 23.5h1M11 23.5h1M15 23.5h1M8 24.5h1M10 25.5h1M20 25.5h1M11 26.5h1M16 26.5h1M20 26.5h1M6 27.5h1M9 27.5h1M9 28.5h1M14 28.5h2M0 29.5h1M4 29.5h1M10 29.5h1M17 31.5h1M8 32.5h1M16 34.5h1"/>
<path stroke="#fbda9d" d="M3 1.5h1M3 2.5h2M7 2.5h1M3 3.5h1M7 4.5h1M6 6.5h1M1 7.5h1M6 8.5h1M2 11.5h1M5 11.5h1M1 12.5h1M3 12.5h1M19 12.5h1M17 15.5h1M19 17.5h1M12 18.5h1M20 18.5h1M16 19.5h1M8 20.5h1M5 25.5h2M6 30.5h1M5 31.5h1M7 31.5h1M10 33.5h1M14 33.5h1M9 34.5h1M20 34.5h1M8 35.5h1M11 35.5h1M13 35.5h1M8 36.5h1M17 36.5h1M20 36.5h1M8 37.5h1M10 37.5h2M13 38.5h1M16 38.5h1M1 42.5h1M6 52.5h2M13 56.5h1M10 57.5h2M8 61.5h1"/>
<path stroke="#fad08f" d="M4 1.5h1M7 3.5h1M4 4.5h1M3 5.5h1M5 6.5h1M2 7.5h1M5 7.5h1M0 9.5h2M4 9.5h1M6 9.5h1M2 10.5h1M4 10.5h1M0 11.5h1M4 11.5h1M2 12.5h1M3 13.5h1M2 14.5h1M10 17.5h1M11 18.5h1M16 18.5h2M10 19.5h1M11 22.5h1M15 22.5h1M12 23.5h1M6 24.5h1M13 24.5h1M15 24.5h1M4 25.5h1M0 28.5h1M13 28.5h1M1 29.5h1M3 29.5h1M1 30.5h1M4 30.5h2M3 31.5h1M10 32.5h2M16 32.5h1M20 32.5h1M11 33.5h1M17 33.5h1M8 34.5h1M15 34.5h1M15 35.5h1M12 37.5h3M20 56.5h1M8 57.5h1M19 57.5h2M19 58.5h1M8 62.5h1M12 62.5h1"/>
<path stroke="#e17040" d="M6 1.5h1M1 19.5h1M1 20.5h1M7 20.5h1M3 21.5h2M6 21.5h1M6 22.5h1M9 23.5h1M8 25.5h2M13 25.5h3M19 25.5h1M8 27.5h1M12 28.5h1M15 29.5h2M11 30.5h3M16 30.5h1M12 31.5h1"/>
<path stroke="#fce3ab" d="M7 1.5h1M5 2.5h1M19 3.5h1M1 4.5h2M5 4.5h1M1 6.5h1M12 7.5h1M15 7.5h1M7 8.5h1M7 9.5h1M1 11.5h1M3 11.5h1M0 12.5h1M0 14.5h2M1 15.5h1M5 15.5h1M13 16.5h1M19 16.5h1M8 17.5h1M11 17.5h1M13 17.5h1M9 18.5h1M19 18.5h1M13 19.5h1M15 20.5h1M18 21.5h1M12 22.5h1M17 22.5h1M0 23.5h1M7 26.5h1M5 28.5h1M0 30.5h1M12 32.5h1M9 33.5h1M13 34.5h1M19 35.5h1M9 36.5h1M9 37.5h1M11 38.5h1M15 38.5h1M0 42.5h1M2 42.5h1M2 48.5h1M6 48.5h1M11 55.5h1M17 55.5h1M14 56.5h1M18 57.5h1M17 58.5h1M14 59.5h1M19 59.5h1M17 61.5h2M15 62.5h1"/>
<path stroke="#c6d7eb" d="M9 1.5h2M19 1.5h1M10 2.5h1M9 3.5h1M17 3.5h1M9 5.5h1M14 5.5h1M17 5.5h1M9 6.5h2M13 7.5h1M20 7.5h1M9 8.5h2M17 8.5h1M16 9.5h1M9 10.5h1M12 10.5h2M20 10.5h1M9 11.5h1M14 11.5h1M13 12.5h1M12 15.5h1M6 33.5h2M6 35.5h1M2 37.5h2M2 38.5h1M4 38.5h1M0 40.5h1M5 41.5h1M8 42.5h1M16 42.5h1M19 42.5h1M1 43.5h1M4 43.5h1M6 43.5h1M4 44.5h1M6 44.5h1M16 45.5h1M0 46.5h1M8 46.5h1M0 51.5h1M5 51.5h2M4 53.5h2M7 53.5h1M6 57.5h2M9 60.5h1M14 61.5h1"/>
<path stroke="#b8cee9" d="M12 1.5h1M15 1.5h1M12 2.5h2M17 2.5h1M13 3.5h2M17 4.5h1M10 5.5h1M12 5.5h1M15 6.5h1M20 6.5h1M9 7.5h1M8 8.5h1M15 8.5h1M17 9.5h1M15 10.5h1M17 11.5h2M8 12.5h1M11 13.5h1M14 13.5h1M9 14.5h1M17 14.5h1M20 14.5h1M14 15.5h1M9 16.5h1M6 32.5h1M1 33.5h2M4 33.5h1M5 35.5h1M7 35.5h1M7 36.5h1M1 37.5h1M5 37.5h1M5 38.5h1M5 40.5h1M18 40.5h1M17 41.5h1M5 43.5h1M1 44.5h1M3 44.5h1M3 46.5h1M1 47.5h1M4 47.5h1M2 54.5h2M15 56.5h1M15 58.5h1M18 58.5h1M6 62.5h1"/>
<path stroke="#739bd3" d="M14 1.5h1M12 4.5h2M16 4.5h1M14 8.5h1M3 38.5h1M11 40.5h1M14 40.5h1M12 41.5h1M12 43.5h1M8 44.5h1M10 45.5h1M20 45.5h1M9 46.5h1M12 46.5h1M14 46.5h1M16 47.5h1M12 48.5h1M14 48.5h1M15 49.5h1M9 50.5h1M12 50.5h1M16 50.5h1M9 51.5h1M13 51.5h1M18 52.5h1M14 53.5h1M20 53.5h1M8 54.5h1M13 54.5h1M19 54.5h1M5 55.5h1M4 57.5h1M1 59.5h1M0 61.5h1M6 61.5h2M7 62.5h1"/>
<path stroke="#f9f0c5" d="M3 4.5h1M0 6.5h1M5 8.5h1M3 9.5h1M3 10.5h1M20 11.5h1M5 12.5h1M7 12.5h1M17 13.5h1M15 14.5h1M8 15.5h1M16 15.5h1M12 16.5h1M17 16.5h2M14 17.5h1M17 17.5h1M13 18.5h3M13 20.5h1M8 21.5h1M13 21.5h1M15 21.5h1M18 22.5h1M5 23.5h1M5 24.5h1M1 25.5h1M5 29.5h1M3 30.5h1M1 31.5h1M3 32.5h1M7 34.5h1M10 35.5h1M18 35.5h1M15 36.5h1M19 36.5h1M19 37.5h1M19 38.5h1M1 39.5h1M7 39.5h1M6 42.5h2M2 46.5h1M6 46.5h1M5 48.5h1M7 48.5h1M18 55.5h2M17 56.5h1M15 57.5h1M12 61.5h1M9 62.5h1M13 62.5h2"/>
<path stroke="#8cb0de" d="M9 4.5h2M11 8.5h1M18 8.5h1M18 9.5h1M20 9.5h1M10 10.5h1M17 10.5h1M12 11.5h1M1 34.5h1M3 35.5h1M4 36.5h1M4 37.5h1M8 39.5h1M16 39.5h1M17 40.5h1M9 41.5h1M13 41.5h1M9 42.5h3M9 44.5h1M11 45.5h1M14 45.5h1M18 45.5h1M10 46.5h1M13 46.5h1M0 47.5h1M13 47.5h1M13 48.5h1M15 48.5h1M20 48.5h1M10 49.5h1M13 50.5h1M15 50.5h1M8 51.5h1M10 51.5h1M10 52.5h1M12 52.5h1M14 52.5h3M1 53.5h1M20 54.5h1M6 55.5h2M0 56.5h1M2 56.5h1M6 56.5h2M4 59.5h1M7 60.5h1M2 61.5h1M3 62.5h1"/>
<path stroke="#5a86c9" d="M14 4.5h2M11 39.5h1M15 39.5h1M9 40.5h1M13 40.5h1M16 41.5h1M20 41.5h1M11 43.5h1M10 44.5h1M13 44.5h1M16 44.5h1M9 45.5h1M18 46.5h1M3 47.5h1M19 47.5h1M11 50.5h1M14 51.5h1M13 53.5h1M9 54.5h2M14 54.5h1M1 58.5h1M3 58.5h1M0 59.5h1M3 59.5h1M5 59.5h1"/>
<path stroke="#527ec4" d="M18 4.5h1M9 39.5h1M12 39.5h1M10 41.5h1M18 41.5h1M16 43.5h1M18 43.5h1M14 44.5h1M15 45.5h1M15 47.5h1M17 47.5h1M9 49.5h1M11 49.5h1M14 49.5h1M18 49.5h2M11 51.5h1M8 53.5h1M11 53.5h1M1 56.5h1M4 56.5h1M5 58.5h1M1 60.5h2M5 60.5h1M5 61.5h1"/>
<path stroke="#e77e47" d="M3 7.5h1M6 7.5h1M2 13.5h1M7 15.5h1M7 16.5h1M3 17.5h1M0 18.5h1M5 18.5h1M14 19.5h1M3 20.5h1M2 22.5h1M7 22.5h1M8 23.5h1M19 23.5h1M9 24.5h2M17 25.5h1M13 26.5h1M0 27.5h1M17 27.5h1M2 28.5h1M8 28.5h1M16 28.5h1M18 28.5h1M2 29.5h1M11 29.5h1M13 29.5h1M14 30.5h1M17 30.5h2M15 31.5h1M9 32.5h1"/>
<path stroke="#d35233" d="M2 17.5h1M3 18.5h2M4 19.5h1M7 19.5h1M6 20.5h1M2 21.5h1M7 21.5h1M16 25.5h1M10 27.5h1M19 28.5h1M9 29.5h1M12 29.5h1M20 29.5h1M8 30.5h1M10 30.5h1"/>
<path stroke="#db6139" d="M2 18.5h1M5 19.5h1M1 21.5h1M4 22.5h1M20 23.5h1M12 25.5h1M8 26.5h1M13 27.5h2M6 29.5h1M17 29.5h1M9 30.5h1M15 30.5h1M19 30.5h2M8 31.5h1M18 31.5h1M20 31.5h1"/>
<path stroke="#be3228" d="M6 18.5h1M0 19.5h1M2 19.5h1M19 24.5h1M11 27.5h2M15 27.5h1M18 27.5h2M8 29.5h1M18 29.5h2M9 31.5h1M16 31.5h1M19 31.5h1"/>
<path stroke="#c9422d" d="M6 19.5h1M0 20.5h1M19 26.5h1M16 27.5h1M20 27.5h1M11 31.5h1M13 31.5h1"/>
<path stroke="#6690ce" d="M14 39.5h1M17 39.5h1M14 41.5h1M15 42.5h1M13 43.5h2M17 43.5h1M17 44.5h1M19 44.5h1M12 45.5h1M15 46.5h1M9 47.5h2M12 47.5h1M20 47.5h1M9 48.5h1M17 48.5h1M12 49.5h2M16 49.5h2M18 50.5h1M15 51.5h1M17 51.5h1M20 51.5h1M9 52.5h1M18 53.5h1M11 54.5h1M15 54.5h1M0 55.5h1M3 55.5h1M1 57.5h1M2 58.5h1M6 59.5h2M1 61.5h1"/>
<path stroke="#3e68b4" d="M18 39.5h1M20 46.5h1M14 47.5h1M15 53.5h1"/>
<path stroke="#456fb9" d="M9 43.5h1M11 44.5h1M20 49.5h1M14 50.5h1M20 50.5h1M10 53.5h1M0 57.5h1M3 57.5h1M3 60.5h1"/>
<path stroke="#4c77be" d="M12 44.5h1M18 44.5h1M17 46.5h1M18 47.5h1M12 51.5h1M16 51.5h1M9 53.5h1M12 53.5h1M16 53.5h2M3 56.5h1M5 57.5h1M4 60.5h1"/>
</g>
<rect x="268.90" y="443.60" width="73.50" height="23.20" fill="#f0e6cc"/>
<g transform="translate(268.90,443.60) scale(3.5000,1.5467)" stroke-width="1.04">
<path stroke="#eb8d52" d="M0 0.5h1M7 1.5h1M12 1.5h1M20 1.5h1M1 2.5h1M8 3.5h1M18 4.5h1"/>
<path stroke="#ef9b5d" d="M1 0.5h1M5 0.5h1M14 1.5h1M2 2.5h1M6 2.5h1M13 2.5h1M11 3.5h1M14 3.5h1M19 3.5h1M8 4.5h1M20 4.5h1"/>
<path stroke="#d35233" d="M2 0.5h1M10 0.5h1M15 0.5h1M17 1.5h1M20 2.5h1"/>
<path stroke="#f3a968" d="M3 0.5h2M7 0.5h1M2 1.5h1M3 2.5h2M14 2.5h1M16 2.5h1M18 2.5h1M6 3.5h1M10 3.5h1M13 3.5h1M6 4.5h1M10 4.5h1M14 4.5h1M16 4.5h1"/>
<path stroke="#f5b675" d="M6 0.5h1M3 1.5h1M5 1.5h1M7 2.5h1M2 3.5h1M2 4.5h1M7 4.5h1M9 4.5h1M11 4.5h1M15 4.5h1M19 6.5h1"/>
<path stroke="#c9422d" d="M8 0.5h2M13 0.5h1M18 0.5h1M11 1.5h1M16 1.5h1M10 2.5h1M15 2.5h1"/>
<path stroke="#be3228" d="M11 0.5h1M17 0.5h1M19 0.5h1M19 1.5h1M19 2.5h1"/>
<path stroke="#db6139" d="M12 0.5h1M16 0.5h1M20 0.5h1M4 1.5h1M10 1.5h1M13 1.5h1M8 2.5h1M11 2.5h1"/>
<path stroke="#e77e47" d="M14 0.5h1M6 1.5h1M15 1.5h1M17 2.5h1M19 4.5h1"/>
<path stroke="#fbda9d" d="M0 1.5h1M1 3.5h1M6 6.5h1"/>
<path stroke="#f8c382" d="M1 1.5h1M0 3.5h1M17 3.5h1M1 4.5h1M4 4.5h1M12 4.5h1M17 4.5h1M7 6.5h2"/>
<path stroke="#e17040" d="M8 1.5h2M18 1.5h1M9 2.5h1M12 2.5h1M2 6.5h1"/>
<path stroke="#fad08f" d="M0 2.5h1M3 3.5h2M18 3.5h1M3 4.5h1M13 4.5h1M16 6.5h1"/>
<path stroke="#f3f0d1" d="M5 2.5h1M16 3.5h1M13 5.5h1M4 6.5h2M15 6.5h1M1 7.5h1M6 7.5h1M17 8.5h1M19 8.5h1M19 10.5h1M13 12.5h1M2 13.5h1M20 13.5h1M6 14.5h1"/>
<path stroke="#e0e8e1" d="M5 3.5h1M0 5.5h1M14 5.5h1M19 5.5h1M14 6.5h1M12 7.5h1M15 7.5h1M20 7.5h1M4 8.5h1M10 8.5h2M2 10.5h1M18 13.5h1M13 14.5h2M18 14.5h1"/>
<path stroke="#fcecb8" d="M7 3.5h1M9 3.5h1M6 5.5h1M11 6.5h2M2 12.5h1M11 12.5h1M17 12.5h1M12 13.5h1M15 13.5h1M19 13.5h1M7 14.5h1M15 14.5h1"/>
<path stroke="#f9f0c5" d="M12 3.5h1M15 3.5h1M7 5.5h1M10 5.5h1M20 5.5h1M13 6.5h1M20 6.5h1M7 7.5h1M0 12.5h2M4 12.5h1M6 12.5h1M8 12.5h1M10 12.5h1M15 12.5h2M4 13.5h1M10 13.5h1M16 14.5h1"/>
<path stroke="#fce3ab" d="M20 3.5h1M0 4.5h1M1 6.5h1M10 6.5h1M9 12.5h1M14 12.5h1M18 12.5h1M8 13.5h2M13 13.5h1"/>
<path stroke="#edf0dc" d="M5 4.5h1M4 5.5h1M18 5.5h1M9 6.5h1M17 6.5h2M2 7.5h1M19 7.5h1M2 8.5h1M7 8.5h1M13 8.5h1M16 8.5h1M3 12.5h1M5 12.5h1M7 12.5h1M12 12.5h1M19 12.5h2M6 13.5h1M16 13.5h1M8 14.5h1M10 14.5h1M20 14.5h1"/>
<path stroke="#c6d7eb" d="M1 5.5h1M15 5.5h1M17 5.5h1M3 6.5h1M0 7.5h1M4 7.5h1M9 7.5h1M13 7.5h1M3 8.5h1M15 8.5h1M4 9.5h1M6 9.5h1M6 10.5h2M14 13.5h1M17 13.5h1M0 14.5h1"/>
<path stroke="#d3dfe6" d="M2 5.5h1M8 5.5h2M0 6.5h1M8 7.5h1M10 7.5h1M17 7.5h1M6 8.5h1M20 8.5h1M4 10.5h1M3 13.5h1M7 13.5h1M4 14.5h1M11 14.5h1M17 14.5h1M19 14.5h1"/>
<path stroke="#80a5d9" d="M3 5.5h1M11 7.5h1M8 9.5h1M16 9.5h1M5 10.5h1M15 10.5h1M5 11.5h1M17 11.5h1M5 14.5h1"/>
<path stroke="#b8cee9" d="M5 5.5h1M11 5.5h1M18 7.5h1M0 8.5h1M8 8.5h1M18 8.5h1M1 10.5h1M2 11.5h1M1 13.5h1M11 13.5h1M2 14.5h1M9 14.5h1"/>
<path stroke="#a9c4e5" d="M12 5.5h1M16 5.5h1M5 7.5h1M16 7.5h1M1 8.5h1M9 8.5h1M1 9.5h1M3 9.5h1M1 11.5h1M4 11.5h1M0 13.5h1M5 13.5h1M1 14.5h1M3 14.5h1"/>
<path stroke="#9bbae2" d="M3 7.5h1M5 8.5h1M12 8.5h1M0 9.5h1M2 9.5h1M7 9.5h1M0 10.5h1"/>
<path stroke="#8cb0de" d="M14 7.5h1M14 8.5h1M19 9.5h1M6 11.5h2M10 11.5h1M19 11.5h1M12 14.5h1"/>
<path stroke="#739bd3" d="M5 9.5h1M3 10.5h1M8 10.5h1M20 10.5h1M3 11.5h1M18 11.5h1"/>
<path stroke="#456fb9" d="M9 9.5h1"/>
<path stroke="#6690ce" d="M10 9.5h1M17 9.5h1M11 10.5h1M17 10.5h1M0 11.5h1M8 11.5h1"/>
<path stroke="#5a86c9" d="M11 9.5h3M15 9.5h1M9 10.5h1M12 10.5h3M18 10.5h1M11 11.5h1"/>
<path stroke="#527ec4" d="M14 9.5h1M18 9.5h1M20 9.5h1M10 10.5h1M16 10.5h1M13 11.5h1M15 11.5h2"/>
<path stroke="#3e68b4" d="M9 11.5h1"/>
<path stroke="#4c77be" d="M12 11.5h1M14 11.5h1M20 11.5h1"/>
</g>
<rect x="268.90" y="467.80" width="73.50" height="9.80" fill="#f0e6cc"/>
<g transform="translate(268.90,467.80) scale(3.5000,1.4000)" stroke-width="1.04">
<path stroke="#fbda9d" d="M0 0.5h1M9 2.5h1M16 2.5h1M20 2.5h1M2 3.5h1M4 6.5h1"/>
<path stroke="#eb8d52" d="M1 0.5h1M7 0.5h2M17 0.5h1M19 0.5h1M7 1.5h1M12 1.5h1M16 1.5h1"/>
<path stroke="#e17040" d="M2 0.5h1M4 1.5h2M17 1.5h1"/>
<path stroke="#f5b675" d="M3 0.5h1M11 0.5h2M15 0.5h1"/>
<path stroke="#ef9b5d" d="M4 0.5h1M9 0.5h1M20 0.5h1M20 1.5h1M0 2.5h1M19 3.5h1"/>
<path stroke="#fce3ab" d="M5 0.5h1M14 0.5h1M1 2.5h2M6 2.5h1M8 2.5h1M0 3.5h1M4 3.5h2M7 3.5h1M17 3.5h1"/>
<path stroke="#f3a968" d="M6 0.5h1"/>
<path stroke="#fad08f" d="M10 0.5h1M13 0.5h1M16 0.5h1M17 2.5h1M19 2.5h1"/>
<path stroke="#e77e47" d="M18 0.5h1M2 1.5h2M11 1.5h1M13 1.5h2M18 1.5h1"/>
<path stroke="#f8c382" d="M0 1.5h1M13 2.5h2M6 3.5h1"/>
<path stroke="#d35233" d="M1 1.5h1"/>
<path stroke="#c9422d" d="M6 1.5h1M8 1.5h2M15 1.5h1"/>
<path stroke="#be3228" d="M10 1.5h1"/>
<path stroke="#db6139" d="M19 1.5h1"/>
<path stroke="#f3f0d1" d="M3 2.5h1M5 2.5h1M7 5.5h1"/>
<path stroke="#f9f0c5" d="M4 2.5h1M11 2.5h2M1 3.5h1M9 3.5h1M12 3.5h4M6 6.5h1"/>
<path stroke="#fcecb8" d="M7 2.5h1M10 2.5h1M15 2.5h1M18 2.5h1M8 3.5h1M10 3.5h2M20 3.5h1"/>
<path stroke="#d3dfe6" d="M3 3.5h1M7 4.5h1M19 4.5h1M2 5.5h1M8 5.5h1M19 5.5h1M7 6.5h1M14 6.5h1"/>
<path stroke="#edf0dc" d="M16 3.5h1M18 3.5h1M1 5.5h1M13 5.5h1M2 6.5h1M11 6.5h1M17 6.5h1"/>
<path stroke="#9bbae2" d="M0 4.5h1M4 4.5h1M8 4.5h1M13 4.5h1M17 4.5h2M3 5.5h1M17 5.5h1"/>
<path stroke="#b8cee9" d="M1 4.5h2M10 4.5h1M18 5.5h1M20 5.5h1M3 6.5h1M5 6.5h1M9 6.5h1M12 6.5h1M18 6.5h1M20 6.5h1"/>
<path stroke="#739bd3" d="M3 4.5h1M5 4.5h1M9 4.5h1M11 4.5h1M9 5.5h1"/>
<path stroke="#8cb0de" d="M6 4.5h1M16 4.5h1M20 4.5h1M11 5.5h2M15 5.5h1M16 6.5h1"/>
<path stroke="#5a86c9" d="M12 4.5h1"/>
<path stroke="#80a5d9" d="M14 4.5h1"/>
<path stroke="#527ec4" d="M15 4.5h1"/>
<path stroke="#c6d7eb" d="M0 5.5h1M0 6.5h2M8 6.5h1M19 6.5h1"/>
<path stroke="#a9c4e5" d="M4 5.5h2M10 5.5h1M13 6.5h1"/>
<path stroke="#e0e8e1" d="M6 5.5h1M16 5.5h1M10 6.5h1M15 6.5h1"/>
<path stroke="#6690ce" d="M14 5.5h1"/>
</g>
<rect x="268.90" y="479.50" width="73.50" height="28.50" fill="#f0e6cc"/>
<g transform="translate(268.90,479.50) scale(3.5000,1.5000)" stroke-width="1.04">
<path stroke="#f3a968" d="M0 0.5h1M14 0.5h1M7 2.5h1M11 2.5h1M15 2.5h1M7 3.5h2M11 3.5h2M19 3.5h1M8 4.5h1M8 5.5h1M11 5.5h1"/>
<path stroke="#e77e47" d="M1 0.5h1M4 0.5h1M7 0.5h1M11 0.5h1M2 1.5h1M4 1.5h1M9 1.5h1M13 1.5h1M15 1.5h1M8 2.5h1M10 3.5h1M2 5.5h1M7 5.5h1"/>
<path stroke="#ef9b5d" d="M2 0.5h1M12 0.5h1M0 1.5h2M12 2.5h2M18 2.5h1M20 2.5h1M2 3.5h1M13 3.5h1M16 3.5h1M18 3.5h1M1 5.5h1M16 5.5h1M18 5.5h1"/>
<path stroke="#fcecb8" d="M3 0.5h1M15 3.5h1M3 4.5h3M18 4.5h1M10 5.5h1M16 7.5h1M19 7.5h2M10 9.5h1M19 9.5h1M2 18.5h1"/>
<path stroke="#fad08f" d="M5 0.5h1M1 2.5h1M0 3.5h1M5 3.5h1M17 4.5h1M0 5.5h1M1 7.5h1M17 17.5h1M19 17.5h1"/>
<path stroke="#e17040" d="M6 0.5h1M8 0.5h1M10 0.5h1M17 0.5h2M6 1.5h1M2 2.5h1M9 2.5h1M14 5.5h1"/>
<path stroke="#d35233" d="M9 0.5h1M13 0.5h1M15 0.5h1M19 0.5h1M7 1.5h1M14 1.5h1M16 2.5h1"/>
<path stroke="#c9422d" d="M16 0.5h1M10 1.5h1M16 1.5h2M20 1.5h1M17 2.5h1"/>
<path stroke="#eb8d52" d="M20 0.5h1M19 2.5h1M4 3.5h1M17 5.5h1M20 5.5h1"/>
<path stroke="#f5b675" d="M3 1.5h1M5 1.5h1M0 2.5h1M3 2.5h1M14 2.5h1M6 3.5h1M20 3.5h1M4 5.5h1M6 5.5h1M9 5.5h1M13 5.5h1M19 5.5h1"/>
<path stroke="#be3228" d="M8 1.5h1M11 1.5h1M18 1.5h2"/>
<path stroke="#db6139" d="M12 1.5h1M10 2.5h1"/>
<path stroke="#fbda9d" d="M4 2.5h1M6 2.5h1M1 4.5h1M6 4.5h1M9 4.5h1M11 4.5h1M13 4.5h1M19 4.5h2M5 5.5h1M15 5.5h1M7 7.5h1"/>
<path stroke="#f8c382" d="M5 2.5h1M1 3.5h1M9 3.5h1M14 3.5h1M17 3.5h1M2 4.5h1M7 4.5h1M10 4.5h1M14 4.5h2M12 5.5h1M2 7.5h1M16 16.5h1M16 17.5h1"/>
<path stroke="#fce3ab" d="M3 3.5h1M12 4.5h1M16 4.5h1M3 5.5h1M6 7.5h1M15 7.5h1M6 9.5h2M19 16.5h1M6 17.5h1M19 18.5h1"/>
<path stroke="#f3f0d1" d="M0 4.5h1M13 6.5h1M9 7.5h2M13 7.5h1M1 9.5h1M4 9.5h1M16 9.5h1M18 9.5h1M2 16.5h1M7 17.5h1M13 18.5h1M16 18.5h1"/>
<path stroke="#a9c4e5" d="M0 6.5h1M5 6.5h1M4 7.5h1M10 8.5h1M12 8.5h3M3 10.5h1M13 10.5h1M15 10.5h1M20 10.5h1M8 11.5h1M7 12.5h1M19 12.5h1M5 13.5h1M10 13.5h1M17 13.5h1M11 14.5h1M19 14.5h1M5 15.5h1M7 15.5h4M0 16.5h1M3 18.5h1"/>
<path stroke="#c6d7eb" d="M1 6.5h1M3 6.5h1M14 6.5h1M16 6.5h1M19 6.5h1M12 7.5h1M0 8.5h1M6 8.5h1M17 8.5h1M5 9.5h1M13 9.5h1M6 12.5h1M16 12.5h1M6 14.5h1M16 15.5h1M6 16.5h1M10 16.5h1M20 16.5h1M4 17.5h2M4 18.5h1M6 18.5h1M11 18.5h1M15 18.5h1M17 18.5h1"/>
<path stroke="#d3dfe6" d="M2 6.5h1M5 7.5h1M2 8.5h1M8 8.5h1M20 9.5h1M2 13.5h1M7 14.5h1M4 16.5h1M12 16.5h1M3 17.5h1M13 17.5h2M9 18.5h1M20 18.5h1"/>
<path stroke="#9bbae2" d="M4 6.5h1M11 6.5h1M15 6.5h1M5 8.5h1M16 8.5h1M4 10.5h1M9 10.5h2M17 10.5h1M4 11.5h1M10 11.5h1M4 12.5h1M8 12.5h1M14 12.5h2M18 12.5h1M0 13.5h1M4 13.5h1M16 13.5h1M19 13.5h1M2 14.5h1M8 14.5h1M15 14.5h1M20 14.5h1M15 15.5h1M18 15.5h1M1 18.5h1"/>
<path stroke="#b8cee9" d="M6 6.5h5M12 6.5h1M20 6.5h1M4 8.5h1M20 8.5h1M3 9.5h1M0 10.5h3M8 10.5h1M7 13.5h1M9 14.5h2M4 15.5h1M6 15.5h1M3 16.5h1M5 16.5h1M18 16.5h1M5 18.5h1M14 18.5h1M18 18.5h1"/>
<path stroke="#8cb0de" d="M17 6.5h1M1 8.5h1M9 8.5h1M11 8.5h1M15 8.5h1M18 8.5h1M6 10.5h1M11 10.5h1M16 10.5h1M1 11.5h1M11 11.5h1M19 11.5h1M2 12.5h1M5 12.5h1M11 12.5h1M2 15.5h2M13 15.5h1"/>
<path stroke="#80a5d9" d="M18 6.5h1M3 8.5h1M2 11.5h1M13 11.5h1M1 12.5h1M10 12.5h1M13 12.5h1M17 12.5h1M20 12.5h1M6 13.5h1M9 13.5h1M18 13.5h1M1 14.5h1M3 14.5h1M12 14.5h2M17 14.5h1M14 15.5h1"/>
<path stroke="#f9f0c5" d="M0 7.5h1M8 7.5h1M11 7.5h1M17 7.5h1M2 9.5h1M9 9.5h1M17 9.5h1M8 16.5h1M8 17.5h3M8 18.5h1"/>
<path stroke="#edf0dc" d="M3 7.5h1M18 7.5h1M19 8.5h1M0 9.5h1M8 9.5h1M14 9.5h2M1 16.5h1M9 16.5h1M11 16.5h1M14 16.5h2M0 17.5h3M12 17.5h1M15 17.5h1M18 17.5h1M7 18.5h1M10 18.5h1"/>
<path stroke="#e0e8e1" d="M14 7.5h1M7 8.5h1M11 9.5h2M7 10.5h1M19 10.5h1M8 13.5h1M4 14.5h1M19 15.5h1M7 16.5h1M13 16.5h1M17 16.5h1M11 17.5h1M20 17.5h1M0 18.5h1M12 18.5h1"/>
<path stroke="#5a86c9" d="M5 10.5h1M0 11.5h1M3 11.5h1M15 11.5h2M5 14.5h1"/>
<path stroke="#739bd3" d="M12 10.5h1M5 11.5h1M12 11.5h1M18 11.5h1M1 13.5h1M13 13.5h1M15 13.5h1M0 14.5h1M16 14.5h1"/>
<path stroke="#456fb9" d="M14 10.5h1M9 11.5h1M11 13.5h1M0 15.5h1"/>
<path stroke="#527ec4" d="M18 10.5h1M12 12.5h1M3 13.5h1"/>
<path stroke="#6690ce" d="M6 11.5h2M14 11.5h1M0 12.5h1M3 12.5h1M9 12.5h1M14 13.5h1M14 14.5h1M18 14.5h1M1 15.5h1M11 15.5h2M17 15.5h1M20 15.5h1"/>
<path stroke="#3e68b4" d="M17 11.5h1"/>
<path stroke="#4c77be" d="M20 11.5h1M12 13.5h1M20 13.5h1"/>
</g>
<rect x="39.20" y="336.9" width="74.10" height="9.8" fill="#2a2030"/>
<rect x="39.95" y="337.5" width="2.60" height="2.3" fill="#b5122e"/><rect x="39.95" y="340.7" width="2.60" height="2.3" fill="#4b1f6e"/><rect x="39.95" y="343.9" width="2.60" height="2.3" fill="#f4f4f4"/>
<rect x="43.45" y="337.5" width="2.60" height="2.3" fill="#b5122e"/><rect x="43.45" y="340.7" width="2.60" height="2.3" fill="#ddd6f2"/><rect x="43.45" y="343.9" width="2.60" height="2.3" fill="#f4f4f4"/>
<rect x="46.95" y="337.5" width="2.60" height="2.3" fill="#b5122e"/><rect x="46.95" y="340.7" width="2.60" height="2.3" fill="#ddd6f2"/><rect x="46.95" y="343.9" width="2.60" height="2.3" fill="#f4f4f4"/>
<rect x="50.45" y="337.5" width="2.60" height="2.3" fill="#b5122e"/><rect x="50.45" y="340.7" width="2.60" height="2.3" fill="#4b1f6e"/><rect x="50.45" y="343.9" width="2.60" height="2.3" fill="#f4f4f4"/>
<rect x="53.95" y="337.5" width="2.60" height="2.3" fill="#b5122e"/><rect x="53.95" y="340.7" width="2.60" height="2.3" fill="#ddd6f2"/><rect x="53.95" y="343.9" width="2.60" height="2.3" fill="#f4f4f4"/>
<rect x="57.45" y="337.5" width="2.60" height="2.3" fill="#b5122e"/><rect x="57.45" y="340.7" width="2.60" height="2.3" fill="#ddd6f2"/><rect x="57.45" y="343.9" width="2.60" height="2.3" fill="#f4f4f4"/>
<rect x="60.95" y="337.5" width="2.60" height="2.3" fill="#b5122e"/><rect x="60.95" y="340.7" width="2.60" height="2.3" fill="#ddd6f2"/><rect x="60.95" y="343.9" width="2.60" height="2.3" fill="#f4f4f4"/>
<rect x="64.45" y="337.5" width="2.60" height="2.3" fill="#b5122e"/><rect x="64.45" y="340.7" width="2.60" height="2.3" fill="#4b1f6e"/><rect x="64.45" y="343.9" width="2.60" height="2.3" fill="#f4f4f4"/>
<rect x="67.95" y="337.5" width="2.60" height="2.3" fill="#23427e"/><rect x="67.95" y="340.7" width="2.60" height="2.3" fill="#4b1f6e"/><rect x="67.95" y="343.9" width="2.60" height="2.3" fill="#d67a12"/>
<rect x="71.45" y="337.5" width="2.60" height="2.3" fill="#23427e"/><rect x="71.45" y="340.7" width="2.60" height="2.3" fill="#4b1f6e"/><rect x="71.45" y="343.9" width="2.60" height="2.3" fill="#d67a12"/>
<rect x="74.95" y="337.5" width="2.60" height="2.3" fill="#23427e"/><rect x="74.95" y="340.7" width="2.60" height="2.3" fill="#4b1f6e"/><rect x="74.95" y="343.9" width="2.60" height="2.3" fill="#d67a12"/>
<rect x="78.45" y="337.5" width="2.60" height="2.3" fill="#23427e"/><rect x="78.45" y="340.7" width="2.60" height="2.3" fill="#4b1f6e"/><rect x="78.45" y="343.9" width="2.60" height="2.3" fill="#d67a12"/>
<rect x="81.95" y="337.5" width="2.60" height="2.3" fill="#23427e"/><rect x="81.95" y="340.7" width="2.60" height="2.3" fill="#4b1f6e"/><rect x="81.95" y="343.9" width="2.60" height="2.3" fill="#f4f4f4"/>
<rect x="85.45" y="337.5" width="2.60" height="2.3" fill="#23427e"/><rect x="85.45" y="340.7" width="2.60" height="2.3" fill="#4b1f6e"/><rect x="85.45" y="343.9" width="2.60" height="2.3" fill="#d67a12"/>
<rect x="88.95" y="337.5" width="2.60" height="2.3" fill="#23427e"/><rect x="88.95" y="340.7" width="2.60" height="2.3" fill="#4b1f6e"/><rect x="88.95" y="343.9" width="2.60" height="2.3" fill="#d67a12"/>
<rect x="92.45" y="337.5" width="2.60" height="2.3" fill="#23427e"/><rect x="92.45" y="340.7" width="2.60" height="2.3" fill="#4b1f6e"/><rect x="92.45" y="343.9" width="2.60" height="2.3" fill="#d67a12"/>
<rect x="95.95" y="337.5" width="2.60" height="2.3" fill="#23427e"/><rect x="95.95" y="340.7" width="2.60" height="2.3" fill="#4b1f6e"/><rect x="95.95" y="343.9" width="2.60" height="2.3" fill="#d67a12"/>
<rect x="99.45" y="337.5" width="2.60" height="2.3" fill="#23427e"/><rect x="99.45" y="340.7" width="2.60" height="2.3" fill="#4b1f6e"/><rect x="99.45" y="343.9" width="2.60" height="2.3" fill="#f4f4f4"/>
<rect x="102.95" y="337.5" width="2.60" height="2.3" fill="#23427e"/><rect x="102.95" y="340.7" width="2.60" height="2.3" fill="#4b1f6e"/><rect x="102.95" y="343.9" width="2.60" height="2.3" fill="#d67a12"/>
<rect x="106.45" y="337.5" width="2.60" height="2.3" fill="#23427e"/><rect x="106.45" y="340.7" width="2.60" height="2.3" fill="#4b1f6e"/><rect x="106.45" y="343.9" width="2.60" height="2.3" fill="#d67a12"/>
<rect x="109.95" y="337.5" width="2.60" height="2.3" fill="#23427e"/><rect x="109.95" y="340.7" width="2.60" height="2.3" fill="#4b1f6e"/><rect x="109.95" y="343.9" width="2.60" height="2.3" fill="#d67a12"/>
<rect x="115.60" y="336.9" width="74.10" height="9.8" fill="#2a2030"/>
<rect x="116.35" y="337.5" width="2.60" height="2.3" fill="#b5122e"/><rect x="116.35" y="340.7" width="2.60" height="2.3" fill="#4b1f6e"/><rect x="116.35" y="343.9" width="2.60" height="2.3" fill="#f4f4f4"/>
<rect x="119.85" y="337.5" width="2.60" height="2.3" fill="#b5122e"/><rect x="119.85" y="340.7" width="2.60" height="2.3" fill="#ddd6f2"/><rect x="119.85" y="343.9" width="2.60" height="2.3" fill="#f4f4f4"/>
<rect x="123.35" y="337.5" width="2.60" height="2.3" fill="#b5122e"/><rect x="123.35" y="340.7" width="2.60" height="2.3" fill="#ddd6f2"/><rect x="123.35" y="343.9" width="2.60" height="2.3" fill="#f4f4f4"/>
<rect x="126.85" y="337.5" width="2.60" height="2.3" fill="#b5122e"/><rect x="126.85" y="340.7" width="2.60" height="2.3" fill="#4b1f6e"/><rect x="126.85" y="343.9" width="2.60" height="2.3" fill="#f4f4f4"/>
<rect x="130.35" y="337.5" width="2.60" height="2.3" fill="#b5122e"/><rect x="130.35" y="340.7" width="2.60" height="2.3" fill="#ddd6f2"/><rect x="130.35" y="343.9" width="2.60" height="2.3" fill="#f4f4f4"/>
<rect x="133.85" y="337.5" width="2.60" height="2.3" fill="#b5122e"/><rect x="133.85" y="340.7" width="2.60" height="2.3" fill="#ddd6f2"/><rect x="133.85" y="343.9" width="2.60" height="2.3" fill="#f4f4f4"/>
<rect x="137.35" y="337.5" width="2.60" height="2.3" fill="#b5122e"/><rect x="137.35" y="340.7" width="2.60" height="2.3" fill="#ddd6f2"/><rect x="137.35" y="343.9" width="2.60" height="2.3" fill="#f4f4f4"/>
<rect x="140.85" y="337.5" width="2.60" height="2.3" fill="#b5122e"/><rect x="140.85" y="340.7" width="2.60" height="2.3" fill="#4b1f6e"/><rect x="140.85" y="343.9" width="2.60" height="2.3" fill="#f4f4f4"/>
<rect x="144.35" y="337.5" width="2.60" height="2.3" fill="#23427e"/><rect x="144.35" y="340.7" width="2.60" height="2.3" fill="#4b1f6e"/><rect x="144.35" y="343.9" width="2.60" height="2.3" fill="#d67a12"/>
<rect x="147.85" y="337.5" width="2.60" height="2.3" fill="#23427e"/><rect x="147.85" y="340.7" width="2.60" height="2.3" fill="#4b1f6e"/><rect x="147.85" y="343.9" width="2.60" height="2.3" fill="#d67a12"/>
<rect x="151.35" y="337.5" width="2.60" height="2.3" fill="#23427e"/><rect x="151.35" y="340.7" width="2.60" height="2.3" fill="#4b1f6e"/><rect x="151.35" y="343.9" width="2.60" height="2.3" fill="#d67a12"/>
<rect x="154.85" y="337.5" width="2.60" height="2.3" fill="#23427e"/><rect x="154.85" y="340.7" width="2.60" height="2.3" fill="#4b1f6e"/><rect x="154.85" y="343.9" width="2.60" height="2.3" fill="#d67a12"/>
<rect x="158.35" y="337.5" width="2.60" height="2.3" fill="#23427e"/><rect x="158.35" y="340.7" width="2.60" height="2.3" fill="#4b1f6e"/><rect x="158.35" y="343.9" width="2.60" height="2.3" fill="#f4f4f4"/>
<rect x="161.85" y="337.5" width="2.60" height="2.3" fill="#23427e"/><rect x="161.85" y="340.7" width="2.60" height="2.3" fill="#4b1f6e"/><rect x="161.85" y="343.9" width="2.60" height="2.3" fill="#d67a12"/>
<rect x="165.35" y="337.5" width="2.60" height="2.3" fill="#23427e"/><rect x="165.35" y="340.7" width="2.60" height="2.3" fill="#4b1f6e"/><rect x="165.35" y="343.9" width="2.60" height="2.3" fill="#d67a12"/>
<rect x="168.85" y="337.5" width="2.60" height="2.3" fill="#23427e"/><rect x="168.85" y="340.7" width="2.60" height="2.3" fill="#4b1f6e"/><rect x="168.85" y="343.9" width="2.60" height="2.3" fill="#d67a12"/>
<rect x="172.35" y="337.5" width="2.60" height="2.3" fill="#23427e"/><rect x="172.35" y="340.7" width="2.60" height="2.3" fill="#4b1f6e"/><rect x="172.35" y="343.9" width="2.60" height="2.3" fill="#d67a12"/>
<rect x="175.85" y="337.5" width="2.60" height="2.3" fill="#23427e"/><rect x="175.85" y="340.7" width="2.60" height="2.3" fill="#4b1f6e"/><rect x="175.85" y="343.9" width="2.60" height="2.3" fill="#f4f4f4"/>
<rect x="179.35" y="337.5" width="2.60" height="2.3" fill="#23427e"/><rect x="179.35" y="340.7" width="2.60" height="2.3" fill="#4b1f6e"/><rect x="179.35" y="343.9" width="2.60" height="2.3" fill="#d67a12"/>
<rect x="182.85" y="337.5" width="2.60" height="2.3" fill="#23427e"/><rect x="182.85" y="340.7" width="2.60" height="2.3" fill="#4b1f6e"/><rect x="182.85" y="343.9" width="2.60" height="2.3" fill="#d67a12"/>
<rect x="186.35" y="337.5" width="2.60" height="2.3" fill="#23427e"/><rect x="186.35" y="340.7" width="2.60" height="2.3" fill="#4b1f6e"/><rect x="186.35" y="343.9" width="2.60" height="2.3" fill="#d67a12"/>
<rect x="192.00" y="336.9" width="74.10" height="9.8" fill="#2a2030"/>
<rect x="192.75" y="337.5" width="2.60" height="2.3" fill="#b5122e"/><rect x="192.75" y="340.7" width="2.60" height="2.3" fill="#4b1f6e"/><rect x="192.75" y="343.9" width="2.60" height="2.3" fill="#f4f4f4"/>
<rect x="196.25" y="337.5" width="2.60" height="2.3" fill="#b5122e"/><rect x="196.25" y="340.7" width="2.60" height="2.3" fill="#ddd6f2"/><rect x="196.25" y="343.9" width="2.60" height="2.3" fill="#f4f4f4"/>
<rect x="199.75" y="337.5" width="2.60" height="2.3" fill="#b5122e"/><rect x="199.75" y="340.7" width="2.60" height="2.3" fill="#ddd6f2"/><rect x="199.75" y="343.9" width="2.60" height="2.3" fill="#f4f4f4"/>
<rect x="203.25" y="337.5" width="2.60" height="2.3" fill="#b5122e"/><rect x="203.25" y="340.7" width="2.60" height="2.3" fill="#4b1f6e"/><rect x="203.25" y="343.9" width="2.60" height="2.3" fill="#f4f4f4"/>
<rect x="206.75" y="337.5" width="2.60" height="2.3" fill="#b5122e"/><rect x="206.75" y="340.7" width="2.60" height="2.3" fill="#ddd6f2"/><rect x="206.75" y="343.9" width="2.60" height="2.3" fill="#f4f4f4"/>
<rect x="210.25" y="337.5" width="2.60" height="2.3" fill="#b5122e"/><rect x="210.25" y="340.7" width="2.60" height="2.3" fill="#ddd6f2"/><rect x="210.25" y="343.9" width="2.60" height="2.3" fill="#f4f4f4"/>
<rect x="213.75" y="337.5" width="2.60" height="2.3" fill="#b5122e"/><rect x="213.75" y="340.7" width="2.60" height="2.3" fill="#ddd6f2"/><rect x="213.75" y="343.9" width="2.60" height="2.3" fill="#f4f4f4"/>
<rect x="217.25" y="337.5" width="2.60" height="2.3" fill="#b5122e"/><rect x="217.25" y="340.7" width="2.60" height="2.3" fill="#4b1f6e"/><rect x="217.25" y="343.9" width="2.60" height="2.3" fill="#f4f4f4"/>
<rect x="220.75" y="337.5" width="2.60" height="2.3" fill="#23427e"/><rect x="220.75" y="340.7" width="2.60" height="2.3" fill="#4b1f6e"/><rect x="220.75" y="343.9" width="2.60" height="2.3" fill="#d67a12"/>
<rect x="224.25" y="337.5" width="2.60" height="2.3" fill="#23427e"/><rect x="224.25" y="340.7" width="2.60" height="2.3" fill="#4b1f6e"/><rect x="224.25" y="343.9" width="2.60" height="2.3" fill="#d67a12"/>
<rect x="227.75" y="337.5" width="2.60" height="2.3" fill="#23427e"/><rect x="227.75" y="340.7" width="2.60" height="2.3" fill="#4b1f6e"/><rect x="227.75" y="343.9" width="2.60" height="2.3" fill="#d67a12"/>
<rect x="231.25" y="337.5" width="2.60" height="2.3" fill="#23427e"/><rect x="231.25" y="340.7" width="2.60" height="2.3" fill="#4b1f6e"/><rect x="231.25" y="343.9" width="2.60" height="2.3" fill="#d67a12"/>
<rect x="234.75" y="337.5" width="2.60" height="2.3" fill="#23427e"/><rect x="234.75" y="340.7" width="2.60" height="2.3" fill="#4b1f6e"/><rect x="234.75" y="343.9" width="2.60" height="2.3" fill="#f4f4f4"/>
<rect x="238.25" y="337.5" width="2.60" height="2.3" fill="#23427e"/><rect x="238.25" y="340.7" width="2.60" height="2.3" fill="#4b1f6e"/><rect x="238.25" y="343.9" width="2.60" height="2.3" fill="#d67a12"/>
<rect x="241.75" y="337.5" width="2.60" height="2.3" fill="#23427e"/><rect x="241.75" y="340.7" width="2.60" height="2.3" fill="#4b1f6e"/><rect x="241.75" y="343.9" width="2.60" height="2.3" fill="#d67a12"/>
<rect x="245.25" y="337.5" width="2.60" height="2.3" fill="#23427e"/><rect x="245.25" y="340.7" width="2.60" height="2.3" fill="#4b1f6e"/><rect x="245.25" y="343.9" width="2.60" height="2.3" fill="#d67a12"/>
<rect x="248.75" y="337.5" width="2.60" height="2.3" fill="#23427e"/><rect x="248.75" y="340.7" width="2.60" height="2.3" fill="#4b1f6e"/><rect x="248.75" y="343.9" width="2.60" height="2.3" fill="#d67a12"/>
<rect x="252.25" y="337.5" width="2.60" height="2.3" fill="#23427e"/><rect x="252.25" y="340.7" width="2.60" height="2.3" fill="#4b1f6e"/><rect x="252.25" y="343.9" width="2.60" height="2.3" fill="#f4f4f4"/>
<rect x="255.75" y="337.5" width="2.60" height="2.3" fill="#23427e"/><rect x="255.75" y="340.7" width="2.60" height="2.3" fill="#4b1f6e"/><rect x="255.75" y="343.9" width="2.60" height="2.3" fill="#d67a12"/>
<rect x="259.25" y="337.5" width="2.60" height="2.3" fill="#23427e"/><rect x="259.25" y="340.7" width="2.60" height="2.3" fill="#4b1f6e"/><rect x="259.25" y="343.9" width="2.60" height="2.3" fill="#d67a12"/>
<rect x="262.75" y="337.5" width="2.60" height="2.3" fill="#23427e"/><rect x="262.75" y="340.7" width="2.60" height="2.3" fill="#4b1f6e"/><rect x="262.75" y="343.9" width="2.60" height="2.3" fill="#d67a12"/>
<rect x="268.60" y="336.9" width="74.10" height="9.8" fill="#2a2030"/>
<rect x="269.35" y="337.5" width="2.60" height="2.3" fill="#b5122e"/><rect x="269.35" y="340.7" width="2.60" height="2.3" fill="#4b1f6e"/><rect x="269.35" y="343.9" width="2.60" height="2.3" fill="#f4f4f4"/>
<rect x="272.85" y="337.5" width="2.60" height="2.3" fill="#b5122e"/><rect x="272.85" y="340.7" width="2.60" height="2.3" fill="#ddd6f2"/><rect x="272.85" y="343.9" width="2.60" height="2.3" fill="#f4f4f4"/>
<rect x="276.35" y="337.5" width="2.60" height="2.3" fill="#b5122e"/><rect x="276.35" y="340.7" width="2.60" height="2.3" fill="#ddd6f2"/><rect x="276.35" y="343.9" width="2.60" height="2.3" fill="#f4f4f4"/>
<rect x="279.85" y="337.5" width="2.60" height="2.3" fill="#b5122e"/><rect x="279.85" y="340.7" width="2.60" height="2.3" fill="#4b1f6e"/><rect x="279.85" y="343.9" width="2.60" height="2.3" fill="#f4f4f4"/>
<rect x="283.35" y="337.5" width="2.60" height="2.3" fill="#b5122e"/><rect x="283.35" y="340.7" width="2.60" height="2.3" fill="#ddd6f2"/><rect x="283.35" y="343.9" width="2.60" height="2.3" fill="#f4f4f4"/>
<rect x="286.85" y="337.5" width="2.60" height="2.3" fill="#b5122e"/><rect x="286.85" y="340.7" width="2.60" height="2.3" fill="#ddd6f2"/><rect x="286.85" y="343.9" width="2.60" height="2.3" fill="#f4f4f4"/>
<rect x="290.35" y="337.5" width="2.60" height="2.3" fill="#b5122e"/><rect x="290.35" y="340.7" width="2.60" height="2.3" fill="#ddd6f2"/><rect x="290.35" y="343.9" width="2.60" height="2.3" fill="#f4f4f4"/>
<rect x="293.85" y="337.5" width="2.60" height="2.3" fill="#b5122e"/><rect x="293.85" y="340.7" width="2.60" height="2.3" fill="#4b1f6e"/><rect x="293.85" y="343.9" width="2.60" height="2.3" fill="#f4f4f4"/>
<rect x="297.35" y="337.5" width="2.60" height="2.3" fill="#23427e"/><rect x="297.35" y="340.7" width="2.60" height="2.3" fill="#4b1f6e"/><rect x="297.35" y="343.9" width="2.60" height="2.3" fill="#d67a12"/>
<rect x="300.85" y="337.5" width="2.60" height="2.3" fill="#23427e"/><rect x="300.85" y="340.7" width="2.60" height="2.3" fill="#4b1f6e"/><rect x="300.85" y="343.9" width="2.60" height="2.3" fill="#d67a12"/>
<rect x="304.35" y="337.5" width="2.60" height="2.3" fill="#23427e"/><rect x="304.35" y="340.7" width="2.60" height="2.3" fill="#4b1f6e"/><rect x="304.35" y="343.9" width="2.60" height="2.3" fill="#d67a12"/>
<rect x="307.85" y="337.5" width="2.60" height="2.3" fill="#23427e"/><rect x="307.85" y="340.7" width="2.60" height="2.3" fill="#4b1f6e"/><rect x="307.85" y="343.9" width="2.60" height="2.3" fill="#d67a12"/>
<rect x="311.35" y="337.5" width="2.60" height="2.3" fill="#23427e"/><rect x="311.35" y="340.7" width="2.60" height="2.3" fill="#4b1f6e"/><rect x="311.35" y="343.9" width="2.60" height="2.3" fill="#f4f4f4"/>
<rect x="314.85" y="337.5" width="2.60" height="2.3" fill="#23427e"/><rect x="314.85" y="340.7" width="2.60" height="2.3" fill="#4b1f6e"/><rect x="314.85" y="343.9" width="2.60" height="2.3" fill="#d67a12"/>
<rect x="318.35" y="337.5" width="2.60" height="2.3" fill="#23427e"/><rect x="318.35" y="340.7" width="2.60" height="2.3" fill="#4b1f6e"/><rect x="318.35" y="343.9" width="2.60" height="2.3" fill="#d67a12"/>
<rect x="321.85" y="337.5" width="2.60" height="2.3" fill="#23427e"/><rect x="321.85" y="340.7" width="2.60" height="2.3" fill="#4b1f6e"/><rect x="321.85" y="343.9" width="2.60" height="2.3" fill="#d67a12"/>
<rect x="325.35" y="337.5" width="2.60" height="2.3" fill="#23427e"/><rect x="325.35" y="340.7" width="2.60" height="2.3" fill="#4b1f6e"/><rect x="325.35" y="343.9" width="2.60" height="2.3" fill="#d67a12"/>
<rect x="328.85" y="337.5" width="2.60" height="2.3" fill="#23427e"/><rect x="328.85" y="340.7" width="2.60" height="2.3" fill="#4b1f6e"/><rect x="328.85" y="343.9" width="2.60" height="2.3" fill="#f4f4f4"/>
<rect x="332.35" y="337.5" width="2.60" height="2.3" fill="#23427e"/><rect x="332.35" y="340.7" width="2.60" height="2.3" fill="#4b1f6e"/><rect x="332.35" y="343.9" width="2.60" height="2.3" fill="#d67a12"/>
<rect x="335.85" y="337.5" width="2.60" height="2.3" fill="#23427e"/><rect x="335.85" y="340.7" width="2.60" height="2.3" fill="#4b1f6e"/><rect x="335.85" y="343.9" width="2.60" height="2.3" fill="#d67a12"/>
<rect x="339.35" y="337.5" width="2.60" height="2.3" fill="#23427e"/><rect x="339.35" y="340.7" width="2.60" height="2.3" fill="#4b1f6e"/><rect x="339.35" y="343.9" width="2.60" height="2.3" fill="#d67a12"/>
<rect x="38.7" y="443.2" width="74.7" height="23.8" fill="none" stroke="#c0304a" stroke-width="1.0"/>
<rect x="115.2" y="467.6" width="74.9" height="11.0" fill="none" stroke="#e0a040" stroke-width="1.0"/>
<rect x="192.2" y="479.3" width="74.5" height="29.3" fill="none" stroke="#4a8a5e" stroke-width="1.0"/>
<circle cx="77.7" cy="327.9" r="4.5" fill="#f6e2de" stroke="#c8304a" stroke-width="1.25"/>
<text x="77.70" y="329.20" font-size="3.6" fill="#c8304a" text-anchor="middle" >PF</text>
<circle cx="152.8" cy="327.4" r="4.5" fill="#fbefd9" stroke="#e0a040" stroke-width="1.25"/>
<text x="152.80" y="328.70" font-size="3.6" fill="#e0a040" text-anchor="middle" >IF</text>
<circle cx="227.5" cy="327.4" r="4.5" fill="#e6f0e0" stroke="#4e8a5e" stroke-width="1.25"/>
<text x="227.50" y="328.70" font-size="3.6" fill="#4e8a5e" text-anchor="middle" >RF</text>
<text x="291.4" y="330.0" font-size="5.8" fill="#222" stroke="#222" stroke-width="0.1" font-family="Liberation Serif, serif" textLength="10.1" lengthAdjust="spacingAndGlyphs">Total</text>
<circle cx="306.2" cy="328.4" r="2.9" fill="#c8c8c8" stroke="#111" stroke-width="0.8"/>
<circle cx="312.3" cy="330.5" r="2.7" fill="#c8c8c8" stroke="#111" stroke-width="0.8"/>
<circle cx="309.9" cy="325.4" r="2.9" fill="#c8c8c8" stroke="#111" stroke-width="0.8"/>
<path d="M31.5 347.2H25.0V381.5M25.0 406.5V442.0H31.5" stroke="#111" stroke-width="1.0" fill="none"/>
<text x="0" y="0" font-size="6.0" fill="#222" stroke="#222" stroke-width="0.12" text-anchor="middle" textLength="22" lengthAdjust="spacingAndGlyphs" transform="translate(27.0,394) rotate(-90)">c-DMCs</text>
<path d="M31.5 443.0H25.0V461.5M25.0 486.5V506.8H26.8" stroke="#111" stroke-width="1.0" fill="none"/>
<text x="0" y="0" font-size="6.0" fill="#222" stroke="#222" stroke-width="0.12" text-anchor="middle" textLength="21.5" lengthAdjust="spacingAndGlyphs" transform="translate(26.9,474.5) rotate(-90)">f-DMCs</text>
<path d="M31.3 443.5H29.5V449.5M29.5 459.5V465.8H31.3" stroke="#c8304a" stroke-width="1.0" fill="none"/>
<text x="0" y="0" font-size="5.4" fill="#c8304a" text-anchor="middle" textLength="6.4" lengthAdjust="spacingAndGlyphs" transform="translate(31.2,454.5) rotate(-90)">PF</text>
<path d="M31.3 468.3H29.5V468.8M29.5 476.7V477.2H31.3" stroke="#e0a040" stroke-width="1.0" fill="none"/>
<text x="0" y="0" font-size="5.4" fill="#e0a040" text-anchor="middle" textLength="5.0" lengthAdjust="spacingAndGlyphs" transform="translate(31.2,472.8) rotate(-90)">IF</text>
<path d="M31.3 480.3H29.5V487.5M29.5 499.5V506.8H31.3" stroke="#4e8a5e" stroke-width="1.0" fill="none"/>
<text x="0" y="0" font-size="5.4" fill="#4e8a5e" text-anchor="middle" textLength="6.6" lengthAdjust="spacingAndGlyphs" transform="translate(31.2,493.5) rotate(-90)">RF</text>
<rect x="345.6" y="348.60" width="3.8" height="3.8" fill="#23427e" stroke="#222" stroke-width="0.7"/>
<text x="351.90" y="352.60" font-size="6.0" fill="#4a5f9a" textLength="15.2" lengthAdjust="spacingAndGlyphs" >M-CLL</text>
<rect x="345.6" y="358.35" width="3.8" height="3.8" fill="#b5122e" stroke="#222" stroke-width="0.7"/>
<text x="351.90" y="362.35" font-size="6.0" fill="#c02040" textLength="15.2" lengthAdjust="spacingAndGlyphs" >U-CLL</text>
<rect x="345.6" y="368.10" width="3.8" height="3.8" fill="#4b1f6e" stroke="#222" stroke-width="0.7"/>
<text x="351.90" y="372.10" font-size="6.0" fill="#5a2a7e" textLength="15.2" lengthAdjust="spacingAndGlyphs" >CD38-</text>
<rect x="345.6" y="377.85" width="3.8" height="3.8" fill="#ddd6f2" stroke="#222" stroke-width="0.7"/>
<text x="351.90" y="381.85" font-size="6.0" fill="#a898cc" textLength="15.2" lengthAdjust="spacingAndGlyphs" >CD38+</text>
<rect x="345.6" y="387.60" width="3.8" height="3.8" fill="#d67a12" stroke="#222" stroke-width="0.7"/>
<text x="351.90" y="391.60" font-size="6.0" fill="#c88a40" textLength="18.2" lengthAdjust="spacingAndGlyphs" >ZAP70-</text>
<rect x="345.6" y="397.35" width="3.8" height="3.8" fill="#f4f4f4" stroke="#222" stroke-width="0.7"/>
<text x="351.90" y="401.35" font-size="6.0" fill="#555" textLength="18.2" lengthAdjust="spacingAndGlyphs" >ZAP70+</text>
<text x="345.50" y="452.60" font-size="6.4" fill="#d0453c" textLength="28.7" lengthAdjust="spacingAndGlyphs" >Methylated</text>
<defs><linearGradient id="cbar" x1="0" y1="0" x2="0" y2="1"><stop offset="0" stop-color="#b5202a"/><stop offset="0.2" stop-color="#e8703c"/><stop offset="0.38" stop-color="#fbc07a"/><stop offset="0.55" stop-color="#fdf6c4"/><stop offset="0.7" stop-color="#d4e4f2"/><stop offset="0.85" stop-color="#86aadb"/><stop offset="1" stop-color="#3c6ab8"/></linearGradient></defs>
<rect x="345.6" y="456.9" width="4.0" height="34.6" fill="url(#cbar)"/>
<text x="352.80" y="465.10" font-size="6.4" fill="#222" textLength="8.4" lengthAdjust="spacingAndGlyphs" >0.8</text>
<text x="352.80" y="472.30" font-size="6.4" fill="#222" textLength="8.4" lengthAdjust="spacingAndGlyphs" >0.6</text>
<text x="352.80" y="479.20" font-size="6.4" fill="#222" textLength="8.4" lengthAdjust="spacingAndGlyphs" >0.4</text>
<text x="352.80" y="486.60" font-size="6.4" fill="#222" textLength="8.4" lengthAdjust="spacingAndGlyphs" >0.2</text>
<text x="345.50" y="500.60" font-size="6.4" fill="#4a6ab0" textLength="35.7" lengthAdjust="spacingAndGlyphs" >Unmethylated</text><path d="M0 0H520V1H0ZM0 0H1V515H0ZM518.8 0H520V515H518.8ZM0 513.5H520V515H0Z" fill="#000"/></svg>
</body></html>
